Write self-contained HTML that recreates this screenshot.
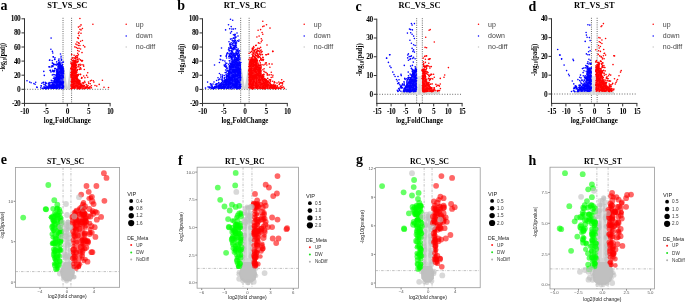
<!DOCTYPE html>
<html><head><meta charset="utf-8"><style>
html,body{margin:0;padding:0;background:#fff;width:685px;height:303px;overflow:hidden;font-family:"Liberation Sans",sans-serif;}
svg{display:block;}
</style></head><body>
<svg style="will-change:transform" width="685" height="303" viewBox="0 0 685 303">
<rect width="685" height="303" fill="#fff"/>
<text x="0.50" y="10.40" font-size="14" font-family="'Liberation Serif', serif" font-weight="bold" fill="#000" text-anchor="start" >a</text>
<text x="67.30" y="8.00" font-size="8.4" font-family="'Liberation Serif', serif" font-weight="bold" fill="#000" text-anchor="middle" >ST_VS_SC</text>
<line x1="63.02" y1="17.80" x2="63.02" y2="103.40" stroke="#444" stroke-width="0.8" stroke-dasharray="1,1.2"/>
<line x1="71.58" y1="17.80" x2="71.58" y2="103.40" stroke="#444" stroke-width="0.8" stroke-dasharray="1,1.2"/>
<line x1="24.50" y1="89.30" x2="110.10" y2="89.30" stroke="#444" stroke-width="0.8" stroke-dasharray="1,1.6"/>
<line x1="24.50" y1="18.30" x2="24.50" y2="103.90" stroke="#333" stroke-width="1" />
<line x1="24.00" y1="103.40" x2="110.60" y2="103.40" stroke="#333" stroke-width="1" />
<line x1="21.50" y1="18.80" x2="24.50" y2="18.80" stroke="#333" stroke-width="1" />
<text x="20.30" y="21.30" font-size="7.4" font-family="'Liberation Serif', serif" font-weight="bold" fill="#000" text-anchor="end" letter-spacing="-0.5">100</text>
<line x1="21.50" y1="32.90" x2="24.50" y2="32.90" stroke="#333" stroke-width="1" />
<text x="20.30" y="35.40" font-size="7.4" font-family="'Liberation Serif', serif" font-weight="bold" fill="#000" text-anchor="end" letter-spacing="-0.5">80</text>
<line x1="21.50" y1="47.00" x2="24.50" y2="47.00" stroke="#333" stroke-width="1" />
<text x="20.30" y="49.50" font-size="7.4" font-family="'Liberation Serif', serif" font-weight="bold" fill="#000" text-anchor="end" letter-spacing="-0.5">60</text>
<line x1="21.50" y1="61.10" x2="24.50" y2="61.10" stroke="#333" stroke-width="1" />
<text x="20.30" y="63.60" font-size="7.4" font-family="'Liberation Serif', serif" font-weight="bold" fill="#000" text-anchor="end" letter-spacing="-0.5">40</text>
<line x1="21.50" y1="75.20" x2="24.50" y2="75.20" stroke="#333" stroke-width="1" />
<text x="20.30" y="77.70" font-size="7.4" font-family="'Liberation Serif', serif" font-weight="bold" fill="#000" text-anchor="end" letter-spacing="-0.5">20</text>
<line x1="21.50" y1="89.30" x2="24.50" y2="89.30" stroke="#333" stroke-width="1" />
<text x="20.30" y="91.80" font-size="7.4" font-family="'Liberation Serif', serif" font-weight="bold" fill="#000" text-anchor="end" letter-spacing="-0.5">0</text>
<line x1="21.50" y1="103.40" x2="24.50" y2="103.40" stroke="#333" stroke-width="1" />
<text x="20.30" y="105.90" font-size="7.4" font-family="'Liberation Serif', serif" font-weight="bold" fill="#000" text-anchor="end" letter-spacing="-0.5">-20</text>
<line x1="24.50" y1="103.40" x2="24.50" y2="106.40" stroke="#333" stroke-width="1" />
<text x="24.50" y="114.30" font-size="7.4" font-family="'Liberation Serif', serif" font-weight="bold" fill="#000" text-anchor="middle" letter-spacing="-0.5">-10</text>
<line x1="45.90" y1="103.40" x2="45.90" y2="106.40" stroke="#333" stroke-width="1" />
<text x="45.90" y="114.30" font-size="7.4" font-family="'Liberation Serif', serif" font-weight="bold" fill="#000" text-anchor="middle" letter-spacing="-0.5">-5</text>
<line x1="67.30" y1="103.40" x2="67.30" y2="106.40" stroke="#333" stroke-width="1" />
<text x="67.30" y="114.30" font-size="7.4" font-family="'Liberation Serif', serif" font-weight="bold" fill="#000" text-anchor="middle" letter-spacing="-0.5">0</text>
<line x1="88.70" y1="103.40" x2="88.70" y2="106.40" stroke="#333" stroke-width="1" />
<text x="88.70" y="114.30" font-size="7.4" font-family="'Liberation Serif', serif" font-weight="bold" fill="#000" text-anchor="middle" letter-spacing="-0.5">5</text>
<line x1="110.10" y1="103.40" x2="110.10" y2="106.40" stroke="#333" stroke-width="1" />
<text x="110.10" y="114.30" font-size="7.4" font-family="'Liberation Serif', serif" font-weight="bold" fill="#000" text-anchor="middle" letter-spacing="-0.5">10</text>
<text x="67.30" y="123.3" font-size="7.2" font-family="'Liberation Serif', serif" font-weight="bold" text-anchor="middle" textLength="47" lengthAdjust="spacingAndGlyphs">log<tspan font-size="5" dy="2">2</tspan><tspan dy="-2">FoldChange</tspan></text>
<text transform="translate(5.30,57.30) rotate(-90)" x="0" y="0" font-size="7.3" font-family="'Liberation Serif', serif" font-weight="bold" text-anchor="middle" textLength="28.2" lengthAdjust="spacingAndGlyphs">-log<tspan font-size="5.2" dy="1.6">10</tspan><tspan dy="-1.6">(padj)</tspan></text>
<circle cx="126.20" cy="24.3" r="0.75" fill="#ff0000"/>
<text x="135.80" y="26.80" font-size="7" font-family="'Liberation Sans', sans-serif" font-weight="normal" fill="#444" text-anchor="start" >up</text>
<circle cx="126.20" cy="35.9" r="0.75" fill="#0000ff"/>
<text x="135.80" y="38.40" font-size="7" font-family="'Liberation Sans', sans-serif" font-weight="normal" fill="#444" text-anchor="start" >down</text>
<circle cx="126.20" cy="46.9" r="0.75" fill="#c8c8c8"/>
<text x="135.80" y="49.40" font-size="7" font-family="'Liberation Sans', sans-serif" font-weight="normal" fill="#444" text-anchor="start" >no-diff</text>
<text x="177.20" y="9.90" font-size="14" font-family="'Liberation Serif', serif" font-weight="bold" fill="#000" text-anchor="start" >b</text>
<text x="244.90" y="8.00" font-size="8.4" font-family="'Liberation Serif', serif" font-weight="bold" fill="#000" text-anchor="middle" >RT_VS_RC</text>
<line x1="240.66" y1="17.80" x2="240.66" y2="103.40" stroke="#444" stroke-width="0.8" stroke-dasharray="1,1.2"/>
<line x1="249.14" y1="17.80" x2="249.14" y2="103.40" stroke="#444" stroke-width="0.8" stroke-dasharray="1,1.2"/>
<line x1="202.50" y1="89.40" x2="287.30" y2="89.40" stroke="#444" stroke-width="0.8" stroke-dasharray="1,1.6"/>
<line x1="202.50" y1="18.30" x2="202.50" y2="103.90" stroke="#333" stroke-width="1" />
<line x1="202.00" y1="103.40" x2="287.80" y2="103.40" stroke="#333" stroke-width="1" />
<line x1="199.50" y1="18.80" x2="202.50" y2="18.80" stroke="#333" stroke-width="1" />
<text x="198.30" y="21.30" font-size="7.4" font-family="'Liberation Serif', serif" font-weight="bold" fill="#000" text-anchor="end" letter-spacing="-0.5">100</text>
<line x1="199.50" y1="32.92" x2="202.50" y2="32.92" stroke="#333" stroke-width="1" />
<text x="198.30" y="35.42" font-size="7.4" font-family="'Liberation Serif', serif" font-weight="bold" fill="#000" text-anchor="end" letter-spacing="-0.5">80</text>
<line x1="199.50" y1="47.04" x2="202.50" y2="47.04" stroke="#333" stroke-width="1" />
<text x="198.30" y="49.54" font-size="7.4" font-family="'Liberation Serif', serif" font-weight="bold" fill="#000" text-anchor="end" letter-spacing="-0.5">60</text>
<line x1="199.50" y1="61.16" x2="202.50" y2="61.16" stroke="#333" stroke-width="1" />
<text x="198.30" y="63.66" font-size="7.4" font-family="'Liberation Serif', serif" font-weight="bold" fill="#000" text-anchor="end" letter-spacing="-0.5">40</text>
<line x1="199.50" y1="75.28" x2="202.50" y2="75.28" stroke="#333" stroke-width="1" />
<text x="198.30" y="77.78" font-size="7.4" font-family="'Liberation Serif', serif" font-weight="bold" fill="#000" text-anchor="end" letter-spacing="-0.5">20</text>
<line x1="199.50" y1="89.40" x2="202.50" y2="89.40" stroke="#333" stroke-width="1" />
<text x="198.30" y="91.90" font-size="7.4" font-family="'Liberation Serif', serif" font-weight="bold" fill="#000" text-anchor="end" letter-spacing="-0.5">0</text>
<line x1="199.50" y1="103.52" x2="202.50" y2="103.52" stroke="#333" stroke-width="1" />
<text x="198.30" y="106.02" font-size="7.4" font-family="'Liberation Serif', serif" font-weight="bold" fill="#000" text-anchor="end" letter-spacing="-0.5">-20</text>
<line x1="202.50" y1="103.40" x2="202.50" y2="106.40" stroke="#333" stroke-width="1" />
<text x="202.50" y="114.30" font-size="7.4" font-family="'Liberation Serif', serif" font-weight="bold" fill="#000" text-anchor="middle" letter-spacing="-0.5">-10</text>
<line x1="223.70" y1="103.40" x2="223.70" y2="106.40" stroke="#333" stroke-width="1" />
<text x="223.70" y="114.30" font-size="7.4" font-family="'Liberation Serif', serif" font-weight="bold" fill="#000" text-anchor="middle" letter-spacing="-0.5">-5</text>
<line x1="244.90" y1="103.40" x2="244.90" y2="106.40" stroke="#333" stroke-width="1" />
<text x="244.90" y="114.30" font-size="7.4" font-family="'Liberation Serif', serif" font-weight="bold" fill="#000" text-anchor="middle" letter-spacing="-0.5">0</text>
<line x1="266.10" y1="103.40" x2="266.10" y2="106.40" stroke="#333" stroke-width="1" />
<text x="266.10" y="114.30" font-size="7.4" font-family="'Liberation Serif', serif" font-weight="bold" fill="#000" text-anchor="middle" letter-spacing="-0.5">5</text>
<line x1="287.30" y1="103.40" x2="287.30" y2="106.40" stroke="#333" stroke-width="1" />
<text x="287.30" y="114.30" font-size="7.4" font-family="'Liberation Serif', serif" font-weight="bold" fill="#000" text-anchor="middle" letter-spacing="-0.5">10</text>
<text x="244.90" y="123.3" font-size="7.2" font-family="'Liberation Serif', serif" font-weight="bold" text-anchor="middle" textLength="47" lengthAdjust="spacingAndGlyphs">log<tspan font-size="5" dy="2">2</tspan><tspan dy="-2">FoldChange</tspan></text>
<text transform="translate(183.60,59.10) rotate(-90)" x="0" y="0" font-size="7.3" font-family="'Liberation Serif', serif" font-weight="bold" text-anchor="middle" textLength="30.5" lengthAdjust="spacingAndGlyphs">-log<tspan font-size="5.2" dy="1.6">10</tspan><tspan dy="-1.6">(padj)</tspan></text>
<circle cx="304.20" cy="24.3" r="0.75" fill="#ff0000"/>
<text x="313.80" y="26.80" font-size="7" font-family="'Liberation Sans', sans-serif" font-weight="normal" fill="#444" text-anchor="start" >up</text>
<circle cx="304.20" cy="35.9" r="0.75" fill="#0000ff"/>
<text x="313.80" y="38.40" font-size="7" font-family="'Liberation Sans', sans-serif" font-weight="normal" fill="#444" text-anchor="start" >down</text>
<circle cx="304.20" cy="46.9" r="0.75" fill="#c8c8c8"/>
<text x="313.80" y="49.40" font-size="7" font-family="'Liberation Sans', sans-serif" font-weight="normal" fill="#444" text-anchor="start" >no-diff</text>
<text x="355.50" y="10.90" font-size="14" font-family="'Liberation Serif', serif" font-weight="bold" fill="#000" text-anchor="start" >c</text>
<text x="419.50" y="8.00" font-size="8.4" font-family="'Liberation Serif', serif" font-weight="bold" fill="#000" text-anchor="middle" >RC_VS_SC</text>
<line x1="416.66" y1="18.20" x2="416.66" y2="103.40" stroke="#444" stroke-width="0.8" stroke-dasharray="1,1.2"/>
<line x1="422.34" y1="18.20" x2="422.34" y2="103.40" stroke="#444" stroke-width="0.8" stroke-dasharray="1,1.2"/>
<line x1="376.80" y1="94.30" x2="462.10" y2="94.30" stroke="#444" stroke-width="0.8" stroke-dasharray="1,1.6"/>
<line x1="376.80" y1="18.70" x2="376.80" y2="103.90" stroke="#333" stroke-width="1" />
<line x1="376.30" y1="103.40" x2="462.60" y2="103.40" stroke="#333" stroke-width="1" />
<line x1="373.80" y1="19.20" x2="376.80" y2="19.20" stroke="#333" stroke-width="1" />
<text x="372.60" y="21.70" font-size="7.4" font-family="'Liberation Serif', serif" font-weight="bold" fill="#000" text-anchor="end" letter-spacing="-0.5">40</text>
<line x1="373.80" y1="37.98" x2="376.80" y2="37.98" stroke="#333" stroke-width="1" />
<text x="372.60" y="40.48" font-size="7.4" font-family="'Liberation Serif', serif" font-weight="bold" fill="#000" text-anchor="end" letter-spacing="-0.5">30</text>
<line x1="373.80" y1="56.75" x2="376.80" y2="56.75" stroke="#333" stroke-width="1" />
<text x="372.60" y="59.25" font-size="7.4" font-family="'Liberation Serif', serif" font-weight="bold" fill="#000" text-anchor="end" letter-spacing="-0.5">20</text>
<line x1="373.80" y1="75.53" x2="376.80" y2="75.53" stroke="#333" stroke-width="1" />
<text x="372.60" y="78.03" font-size="7.4" font-family="'Liberation Serif', serif" font-weight="bold" fill="#000" text-anchor="end" letter-spacing="-0.5">10</text>
<line x1="373.80" y1="94.30" x2="376.80" y2="94.30" stroke="#333" stroke-width="1" />
<text x="372.60" y="96.80" font-size="7.4" font-family="'Liberation Serif', serif" font-weight="bold" fill="#000" text-anchor="end" letter-spacing="-0.5">0</text>
<line x1="376.90" y1="103.40" x2="376.90" y2="106.40" stroke="#333" stroke-width="1" />
<text x="376.90" y="114.30" font-size="7.4" font-family="'Liberation Serif', serif" font-weight="bold" fill="#000" text-anchor="middle" letter-spacing="-0.5">-15</text>
<line x1="391.10" y1="103.40" x2="391.10" y2="106.40" stroke="#333" stroke-width="1" />
<text x="391.10" y="114.30" font-size="7.4" font-family="'Liberation Serif', serif" font-weight="bold" fill="#000" text-anchor="middle" letter-spacing="-0.5">-10</text>
<line x1="405.30" y1="103.40" x2="405.30" y2="106.40" stroke="#333" stroke-width="1" />
<text x="405.30" y="114.30" font-size="7.4" font-family="'Liberation Serif', serif" font-weight="bold" fill="#000" text-anchor="middle" letter-spacing="-0.5">-5</text>
<line x1="419.50" y1="103.40" x2="419.50" y2="106.40" stroke="#333" stroke-width="1" />
<text x="419.50" y="114.30" font-size="7.4" font-family="'Liberation Serif', serif" font-weight="bold" fill="#000" text-anchor="middle" letter-spacing="-0.5">0</text>
<line x1="433.70" y1="103.40" x2="433.70" y2="106.40" stroke="#333" stroke-width="1" />
<text x="433.70" y="114.30" font-size="7.4" font-family="'Liberation Serif', serif" font-weight="bold" fill="#000" text-anchor="middle" letter-spacing="-0.5">5</text>
<line x1="447.90" y1="103.40" x2="447.90" y2="106.40" stroke="#333" stroke-width="1" />
<text x="447.90" y="114.30" font-size="7.4" font-family="'Liberation Serif', serif" font-weight="bold" fill="#000" text-anchor="middle" letter-spacing="-0.5">10</text>
<line x1="462.10" y1="103.40" x2="462.10" y2="106.40" stroke="#333" stroke-width="1" />
<text x="462.10" y="114.30" font-size="7.4" font-family="'Liberation Serif', serif" font-weight="bold" fill="#000" text-anchor="middle" letter-spacing="-0.5">15</text>
<text x="419.45" y="123.3" font-size="7.2" font-family="'Liberation Serif', serif" font-weight="bold" text-anchor="middle" textLength="47" lengthAdjust="spacingAndGlyphs">log<tspan font-size="5" dy="2">2</tspan><tspan dy="-2">FoldChange</tspan></text>
<text transform="translate(362.10,59.80) rotate(-90)" x="0" y="0" font-size="7.3" font-family="'Liberation Serif', serif" font-weight="bold" text-anchor="middle" textLength="33" lengthAdjust="spacingAndGlyphs">-log<tspan font-size="5.2" dy="1.6">10</tspan><tspan dy="-1.6">(padj)</tspan></text>
<circle cx="478.50" cy="24.3" r="0.75" fill="#ff0000"/>
<text x="488.10" y="26.80" font-size="7" font-family="'Liberation Sans', sans-serif" font-weight="normal" fill="#444" text-anchor="start" >up</text>
<circle cx="478.50" cy="35.9" r="0.75" fill="#0000ff"/>
<text x="488.10" y="38.40" font-size="7" font-family="'Liberation Sans', sans-serif" font-weight="normal" fill="#444" text-anchor="start" >down</text>
<circle cx="478.50" cy="46.9" r="0.75" fill="#c8c8c8"/>
<text x="488.10" y="49.40" font-size="7" font-family="'Liberation Sans', sans-serif" font-weight="normal" fill="#444" text-anchor="start" >no-diff</text>
<text x="528.50" y="10.90" font-size="14" font-family="'Liberation Serif', serif" font-weight="bold" fill="#000" text-anchor="start" >d</text>
<text x="594.30" y="8.00" font-size="8.4" font-family="'Liberation Serif', serif" font-weight="bold" fill="#000" text-anchor="middle" >RT_VS_ST</text>
<line x1="591.46" y1="17.80" x2="591.46" y2="103.40" stroke="#444" stroke-width="0.8" stroke-dasharray="1,1.2"/>
<line x1="597.14" y1="17.80" x2="597.14" y2="103.40" stroke="#444" stroke-width="0.8" stroke-dasharray="1,1.2"/>
<line x1="551.50" y1="94.00" x2="636.90" y2="94.00" stroke="#444" stroke-width="0.8" stroke-dasharray="1,1.6"/>
<line x1="551.50" y1="18.30" x2="551.50" y2="103.90" stroke="#333" stroke-width="1" />
<line x1="551.00" y1="103.40" x2="637.40" y2="103.40" stroke="#333" stroke-width="1" />
<line x1="548.50" y1="18.80" x2="551.50" y2="18.80" stroke="#333" stroke-width="1" />
<text x="547.30" y="21.30" font-size="7.4" font-family="'Liberation Serif', serif" font-weight="bold" fill="#000" text-anchor="end" letter-spacing="-0.5">40</text>
<line x1="548.50" y1="37.60" x2="551.50" y2="37.60" stroke="#333" stroke-width="1" />
<text x="547.30" y="40.10" font-size="7.4" font-family="'Liberation Serif', serif" font-weight="bold" fill="#000" text-anchor="end" letter-spacing="-0.5">30</text>
<line x1="548.50" y1="56.40" x2="551.50" y2="56.40" stroke="#333" stroke-width="1" />
<text x="547.30" y="58.90" font-size="7.4" font-family="'Liberation Serif', serif" font-weight="bold" fill="#000" text-anchor="end" letter-spacing="-0.5">20</text>
<line x1="548.50" y1="75.20" x2="551.50" y2="75.20" stroke="#333" stroke-width="1" />
<text x="547.30" y="77.70" font-size="7.4" font-family="'Liberation Serif', serif" font-weight="bold" fill="#000" text-anchor="end" letter-spacing="-0.5">10</text>
<line x1="548.50" y1="94.00" x2="551.50" y2="94.00" stroke="#333" stroke-width="1" />
<text x="547.30" y="96.50" font-size="7.4" font-family="'Liberation Serif', serif" font-weight="bold" fill="#000" text-anchor="end" letter-spacing="-0.5">0</text>
<line x1="551.70" y1="103.40" x2="551.70" y2="106.40" stroke="#333" stroke-width="1" />
<text x="551.70" y="114.30" font-size="7.4" font-family="'Liberation Serif', serif" font-weight="bold" fill="#000" text-anchor="middle" letter-spacing="-0.5">-15</text>
<line x1="565.90" y1="103.40" x2="565.90" y2="106.40" stroke="#333" stroke-width="1" />
<text x="565.90" y="114.30" font-size="7.4" font-family="'Liberation Serif', serif" font-weight="bold" fill="#000" text-anchor="middle" letter-spacing="-0.5">-10</text>
<line x1="580.10" y1="103.40" x2="580.10" y2="106.40" stroke="#333" stroke-width="1" />
<text x="580.10" y="114.30" font-size="7.4" font-family="'Liberation Serif', serif" font-weight="bold" fill="#000" text-anchor="middle" letter-spacing="-0.5">-5</text>
<line x1="594.30" y1="103.40" x2="594.30" y2="106.40" stroke="#333" stroke-width="1" />
<text x="594.30" y="114.30" font-size="7.4" font-family="'Liberation Serif', serif" font-weight="bold" fill="#000" text-anchor="middle" letter-spacing="-0.5">0</text>
<line x1="608.50" y1="103.40" x2="608.50" y2="106.40" stroke="#333" stroke-width="1" />
<text x="608.50" y="114.30" font-size="7.4" font-family="'Liberation Serif', serif" font-weight="bold" fill="#000" text-anchor="middle" letter-spacing="-0.5">5</text>
<line x1="622.70" y1="103.40" x2="622.70" y2="106.40" stroke="#333" stroke-width="1" />
<text x="622.70" y="114.30" font-size="7.4" font-family="'Liberation Serif', serif" font-weight="bold" fill="#000" text-anchor="middle" letter-spacing="-0.5">10</text>
<line x1="636.90" y1="103.40" x2="636.90" y2="106.40" stroke="#333" stroke-width="1" />
<text x="636.90" y="114.30" font-size="7.4" font-family="'Liberation Serif', serif" font-weight="bold" fill="#000" text-anchor="middle" letter-spacing="-0.5">15</text>
<text x="594.20" y="123.3" font-size="7.2" font-family="'Liberation Serif', serif" font-weight="bold" text-anchor="middle" textLength="47" lengthAdjust="spacingAndGlyphs">log<tspan font-size="5" dy="2">2</tspan><tspan dy="-2">FoldChange</tspan></text>
<text transform="translate(536.50,59.90) rotate(-90)" x="0" y="0" font-size="7.3" font-family="'Liberation Serif', serif" font-weight="bold" text-anchor="middle" textLength="32" lengthAdjust="spacingAndGlyphs">-log<tspan font-size="5.2" dy="1.6">10</tspan><tspan dy="-1.6">(padj)</tspan></text>
<circle cx="653.20" cy="24.3" r="0.75" fill="#ff0000"/>
<text x="662.80" y="26.80" font-size="7" font-family="'Liberation Sans', sans-serif" font-weight="normal" fill="#444" text-anchor="start" >up</text>
<circle cx="653.20" cy="35.9" r="0.75" fill="#0000ff"/>
<text x="662.80" y="38.40" font-size="7" font-family="'Liberation Sans', sans-serif" font-weight="normal" fill="#444" text-anchor="start" >down</text>
<circle cx="653.20" cy="46.9" r="0.75" fill="#c8c8c8"/>
<text x="662.80" y="49.40" font-size="7" font-family="'Liberation Sans', sans-serif" font-weight="normal" fill="#444" text-anchor="start" >no-diff</text>
<text x="0.70" y="164.40" font-size="14" font-family="'Liberation Serif', serif" font-weight="bold" fill="#000" text-anchor="start" >e</text>
<text x="65.60" y="163.70" font-size="7.8" font-family="'Liberation Serif', serif" font-weight="bold" fill="#000" text-anchor="middle" >ST_VS_SC</text>
<line x1="15.50" y1="271.60" x2="119.60" y2="271.60" stroke="#999" stroke-width="0.6" stroke-dasharray="2.5,1.2,0.6,1.2"/>
<line x1="63.05" y1="167.50" x2="63.05" y2="287.30" stroke="#999" stroke-width="0.6" stroke-dasharray="2.5,1.2,0.6,1.2"/>
<line x1="70.95" y1="167.50" x2="70.95" y2="287.30" stroke="#999" stroke-width="0.6" stroke-dasharray="2.5,1.2,0.6,1.2"/>
<line x1="13.70" y1="282.10" x2="15.50" y2="282.10" stroke="#333" stroke-width="0.6" />
<text x="13.10" y="283.65" font-size="4.3" font-family="'Liberation Sans', sans-serif" font-weight="normal" fill="#555" text-anchor="end" >0</text>
<line x1="13.70" y1="241.70" x2="15.50" y2="241.70" stroke="#333" stroke-width="0.6" />
<text x="13.10" y="243.25" font-size="4.3" font-family="'Liberation Sans', sans-serif" font-weight="normal" fill="#555" text-anchor="end" >5</text>
<line x1="13.70" y1="201.30" x2="15.50" y2="201.30" stroke="#333" stroke-width="0.6" />
<text x="13.10" y="202.85" font-size="4.3" font-family="'Liberation Sans', sans-serif" font-weight="normal" fill="#555" text-anchor="end" >10</text>
<line x1="40.00" y1="287.30" x2="40.00" y2="289.10" stroke="#333" stroke-width="0.6" />
<text x="40.00" y="292.60" font-size="4.3" font-family="'Liberation Sans', sans-serif" font-weight="normal" fill="#555" text-anchor="middle" >−4</text>
<line x1="67.00" y1="287.30" x2="67.00" y2="289.10" stroke="#333" stroke-width="0.6" />
<text x="67.00" y="292.60" font-size="4.3" font-family="'Liberation Sans', sans-serif" font-weight="normal" fill="#555" text-anchor="middle" >0</text>
<line x1="94.00" y1="287.30" x2="94.00" y2="289.10" stroke="#333" stroke-width="0.6" />
<text x="94.00" y="292.60" font-size="4.3" font-family="'Liberation Sans', sans-serif" font-weight="normal" fill="#555" text-anchor="middle" >4</text>
<text x="67.35" y="297.60" font-size="5.0" font-family="'Liberation Sans', sans-serif" font-weight="normal" fill="#222" text-anchor="middle" textLength="38.9" lengthAdjust="spacingAndGlyphs" >log2(fold change)</text>
<text transform="translate(4.40,225.40) rotate(-90)" font-size="4.8" font-family="'Liberation Sans', sans-serif" fill="#222" text-anchor="middle" textLength="27" lengthAdjust="spacingAndGlyphs">-log10(pvalue)</text>
<text x="127.20" y="196.00" font-size="5.6" font-family="'Liberation Sans', sans-serif" font-weight="normal" fill="#222" text-anchor="start" >VIP</text>
<circle cx="131.20" cy="201.00" r="1.9" fill="#000"/>
<text x="136.20" y="202.60" font-size="4.6" font-family="'Liberation Sans', sans-serif" font-weight="normal" fill="#333" text-anchor="start" >0.4</text>
<circle cx="131.20" cy="208.40" r="2.3" fill="#000"/>
<text x="136.20" y="210.00" font-size="4.6" font-family="'Liberation Sans', sans-serif" font-weight="normal" fill="#333" text-anchor="start" >0.8</text>
<circle cx="131.20" cy="215.70" r="2.7" fill="#000"/>
<text x="136.20" y="217.30" font-size="4.6" font-family="'Liberation Sans', sans-serif" font-weight="normal" fill="#333" text-anchor="start" >1.2</text>
<circle cx="131.20" cy="223.10" r="3.1" fill="#000"/>
<text x="136.20" y="224.70" font-size="4.6" font-family="'Liberation Sans', sans-serif" font-weight="normal" fill="#333" text-anchor="start" >1.6</text>
<text x="127.20" y="240.00" font-size="5.6" font-family="'Liberation Sans', sans-serif" font-weight="normal" fill="#222" text-anchor="start" textLength="21" lengthAdjust="spacingAndGlyphs" >DE_Meta</text>
<circle cx="131.20" cy="245.10" r="1" fill="#ff2020"/>
<text x="136.20" y="246.70" font-size="4.6" font-family="'Liberation Sans', sans-serif" font-weight="normal" fill="#333" text-anchor="start" >UP</text>
<circle cx="131.20" cy="252.40" r="1" fill="#20e020"/>
<text x="136.20" y="254.00" font-size="4.6" font-family="'Liberation Sans', sans-serif" font-weight="normal" fill="#333" text-anchor="start" >DW</text>
<circle cx="131.20" cy="259.60" r="1" fill="#b0b0b0"/>
<text x="136.20" y="261.20" font-size="4.6" font-family="'Liberation Sans', sans-serif" font-weight="normal" fill="#333" text-anchor="start" >NoDiff</text>
<text x="178.00" y="164.60" font-size="14" font-family="'Liberation Serif', serif" font-weight="bold" fill="#000" text-anchor="start" >f</text>
<text x="244.85" y="163.70" font-size="7.8" font-family="'Liberation Serif', serif" font-weight="bold" fill="#000" text-anchor="middle" >RT_VS_RC</text>
<line x1="197.10" y1="268.41" x2="298.50" y2="268.41" stroke="#999" stroke-width="0.6" stroke-dasharray="2.5,1.2,0.6,1.2"/>
<line x1="243.04" y1="167.20" x2="243.04" y2="288.20" stroke="#999" stroke-width="0.6" stroke-dasharray="2.5,1.2,0.6,1.2"/>
<line x1="251.96" y1="167.20" x2="251.96" y2="288.20" stroke="#999" stroke-width="0.6" stroke-dasharray="2.5,1.2,0.6,1.2"/>
<line x1="195.30" y1="282.80" x2="197.10" y2="282.80" stroke="#333" stroke-width="0.6" />
<text x="194.70" y="284.35" font-size="4.3" font-family="'Liberation Sans', sans-serif" font-weight="normal" fill="#555" text-anchor="end" >0.0</text>
<line x1="195.30" y1="255.12" x2="197.10" y2="255.12" stroke="#333" stroke-width="0.6" />
<text x="194.70" y="256.68" font-size="4.3" font-family="'Liberation Sans', sans-serif" font-weight="normal" fill="#555" text-anchor="end" >2.5</text>
<line x1="195.30" y1="227.45" x2="197.10" y2="227.45" stroke="#333" stroke-width="0.6" />
<text x="194.70" y="229.00" font-size="4.3" font-family="'Liberation Sans', sans-serif" font-weight="normal" fill="#555" text-anchor="end" >5.0</text>
<line x1="195.30" y1="199.78" x2="197.10" y2="199.78" stroke="#333" stroke-width="0.6" />
<text x="194.70" y="201.33" font-size="4.3" font-family="'Liberation Sans', sans-serif" font-weight="normal" fill="#555" text-anchor="end" >7.5</text>
<line x1="195.30" y1="172.10" x2="197.10" y2="172.10" stroke="#333" stroke-width="0.6" />
<text x="194.70" y="173.65" font-size="4.3" font-family="'Liberation Sans', sans-serif" font-weight="normal" fill="#555" text-anchor="end" >10.0</text>
<line x1="201.72" y1="288.20" x2="201.72" y2="290.00" stroke="#333" stroke-width="0.6" />
<text x="201.72" y="293.50" font-size="4.3" font-family="'Liberation Sans', sans-serif" font-weight="normal" fill="#555" text-anchor="middle" >−6</text>
<line x1="224.61" y1="288.20" x2="224.61" y2="290.00" stroke="#333" stroke-width="0.6" />
<text x="224.61" y="293.50" font-size="4.3" font-family="'Liberation Sans', sans-serif" font-weight="normal" fill="#555" text-anchor="middle" >−3</text>
<line x1="247.50" y1="288.20" x2="247.50" y2="290.00" stroke="#333" stroke-width="0.6" />
<text x="247.50" y="293.50" font-size="4.3" font-family="'Liberation Sans', sans-serif" font-weight="normal" fill="#555" text-anchor="middle" >0</text>
<line x1="270.39" y1="288.20" x2="270.39" y2="290.00" stroke="#333" stroke-width="0.6" />
<text x="270.39" y="293.50" font-size="4.3" font-family="'Liberation Sans', sans-serif" font-weight="normal" fill="#555" text-anchor="middle" >3</text>
<line x1="293.28" y1="288.20" x2="293.28" y2="290.00" stroke="#333" stroke-width="0.6" />
<text x="293.28" y="293.50" font-size="4.3" font-family="'Liberation Sans', sans-serif" font-weight="normal" fill="#555" text-anchor="middle" >6</text>
<text x="247.45" y="298.60" font-size="5.0" font-family="'Liberation Sans', sans-serif" font-weight="normal" fill="#222" text-anchor="middle" textLength="38.7" lengthAdjust="spacingAndGlyphs" >log2(fold change)</text>
<text transform="translate(183.40,227.30) rotate(-90)" font-size="5.2" font-family="'Liberation Sans', sans-serif" fill="#222" text-anchor="middle" textLength="30" lengthAdjust="spacingAndGlyphs">-log10(pvalue)</text>
<text x="305.90" y="198.20" font-size="5.6" font-family="'Liberation Sans', sans-serif" font-weight="normal" fill="#222" text-anchor="start" >VIP</text>
<circle cx="309.90" cy="203.20" r="1.9" fill="#000"/>
<text x="314.90" y="204.80" font-size="4.6" font-family="'Liberation Sans', sans-serif" font-weight="normal" fill="#333" text-anchor="start" >0.5</text>
<circle cx="309.90" cy="210.60" r="2.3" fill="#000"/>
<text x="314.90" y="212.20" font-size="4.6" font-family="'Liberation Sans', sans-serif" font-weight="normal" fill="#333" text-anchor="start" >1.0</text>
<circle cx="309.90" cy="217.90" r="2.7" fill="#000"/>
<text x="314.90" y="219.50" font-size="4.6" font-family="'Liberation Sans', sans-serif" font-weight="normal" fill="#333" text-anchor="start" >1.5</text>
<circle cx="309.90" cy="225.30" r="3.1" fill="#000"/>
<text x="314.90" y="226.90" font-size="4.6" font-family="'Liberation Sans', sans-serif" font-weight="normal" fill="#333" text-anchor="start" >2.0</text>
<text x="305.90" y="242.20" font-size="5.6" font-family="'Liberation Sans', sans-serif" font-weight="normal" fill="#222" text-anchor="start" textLength="21" lengthAdjust="spacingAndGlyphs" >DE_Meta</text>
<circle cx="309.90" cy="247.30" r="1" fill="#ff2020"/>
<text x="314.90" y="248.90" font-size="4.6" font-family="'Liberation Sans', sans-serif" font-weight="normal" fill="#333" text-anchor="start" >UP</text>
<circle cx="309.90" cy="254.60" r="1" fill="#20e020"/>
<text x="314.90" y="256.20" font-size="4.6" font-family="'Liberation Sans', sans-serif" font-weight="normal" fill="#333" text-anchor="start" >DW</text>
<circle cx="309.90" cy="261.80" r="1" fill="#b0b0b0"/>
<text x="314.90" y="263.40" font-size="4.6" font-family="'Liberation Sans', sans-serif" font-weight="normal" fill="#333" text-anchor="start" >NoDiff</text>
<text x="356.00" y="164.40" font-size="14" font-family="'Liberation Serif', serif" font-weight="bold" fill="#000" text-anchor="start" >g</text>
<text x="429.40" y="163.70" font-size="7.8" font-family="'Liberation Serif', serif" font-weight="bold" fill="#000" text-anchor="middle" >RC_VS_SC</text>
<line x1="375.60" y1="270.61" x2="480.20" y2="270.61" stroke="#999" stroke-width="0.6" stroke-dasharray="2.5,1.2,0.6,1.2"/>
<line x1="424.15" y1="167.60" x2="424.15" y2="287.70" stroke="#999" stroke-width="0.6" stroke-dasharray="2.5,1.2,0.6,1.2"/>
<line x1="432.05" y1="167.60" x2="432.05" y2="287.70" stroke="#999" stroke-width="0.6" stroke-dasharray="2.5,1.2,0.6,1.2"/>
<line x1="373.80" y1="283.00" x2="375.60" y2="283.00" stroke="#333" stroke-width="0.6" />
<text x="373.20" y="284.55" font-size="4.3" font-family="'Liberation Sans', sans-serif" font-weight="normal" fill="#555" text-anchor="end" >0</text>
<line x1="373.80" y1="254.41" x2="375.60" y2="254.41" stroke="#333" stroke-width="0.6" />
<text x="373.20" y="255.96" font-size="4.3" font-family="'Liberation Sans', sans-serif" font-weight="normal" fill="#555" text-anchor="end" >3</text>
<line x1="373.80" y1="225.82" x2="375.60" y2="225.82" stroke="#333" stroke-width="0.6" />
<text x="373.20" y="227.37" font-size="4.3" font-family="'Liberation Sans', sans-serif" font-weight="normal" fill="#555" text-anchor="end" >6</text>
<line x1="373.80" y1="197.23" x2="375.60" y2="197.23" stroke="#333" stroke-width="0.6" />
<text x="373.20" y="198.78" font-size="4.3" font-family="'Liberation Sans', sans-serif" font-weight="normal" fill="#555" text-anchor="end" >9</text>
<line x1="373.80" y1="168.64" x2="375.60" y2="168.64" stroke="#333" stroke-width="0.6" />
<text x="373.20" y="170.19" font-size="4.3" font-family="'Liberation Sans', sans-serif" font-weight="normal" fill="#555" text-anchor="end" >12</text>
<line x1="401.10" y1="287.70" x2="401.10" y2="289.50" stroke="#333" stroke-width="0.6" />
<text x="401.10" y="293.00" font-size="4.3" font-family="'Liberation Sans', sans-serif" font-weight="normal" fill="#555" text-anchor="middle" >−4</text>
<line x1="428.10" y1="287.70" x2="428.10" y2="289.50" stroke="#333" stroke-width="0.6" />
<text x="428.10" y="293.00" font-size="4.3" font-family="'Liberation Sans', sans-serif" font-weight="normal" fill="#555" text-anchor="middle" >0</text>
<line x1="455.10" y1="287.70" x2="455.10" y2="289.50" stroke="#333" stroke-width="0.6" />
<text x="455.10" y="293.00" font-size="4.3" font-family="'Liberation Sans', sans-serif" font-weight="normal" fill="#555" text-anchor="middle" >4</text>
<text x="427.80" y="298.60" font-size="5.0" font-family="'Liberation Sans', sans-serif" font-weight="normal" fill="#222" text-anchor="middle" textLength="38" lengthAdjust="spacingAndGlyphs" >log2(fold change)</text>
<text transform="translate(363.90,226.70) rotate(-90)" font-size="5.6" font-family="'Liberation Sans', sans-serif" fill="#222" text-anchor="middle" textLength="33.5" lengthAdjust="spacingAndGlyphs">-log10(pvalue)</text>
<text x="488.10" y="195.90" font-size="5.6" font-family="'Liberation Sans', sans-serif" font-weight="normal" fill="#222" text-anchor="start" >VIP</text>
<circle cx="492.10" cy="200.90" r="1.9" fill="#000"/>
<text x="497.10" y="202.50" font-size="4.6" font-family="'Liberation Sans', sans-serif" font-weight="normal" fill="#333" text-anchor="start" >0.5</text>
<circle cx="492.10" cy="208.30" r="2.3" fill="#000"/>
<text x="497.10" y="209.90" font-size="4.6" font-family="'Liberation Sans', sans-serif" font-weight="normal" fill="#333" text-anchor="start" >1.0</text>
<circle cx="492.10" cy="215.60" r="2.7" fill="#000"/>
<text x="497.10" y="217.20" font-size="4.6" font-family="'Liberation Sans', sans-serif" font-weight="normal" fill="#333" text-anchor="start" >1.5</text>
<circle cx="492.10" cy="223.00" r="3.1" fill="#000"/>
<text x="497.10" y="224.60" font-size="4.6" font-family="'Liberation Sans', sans-serif" font-weight="normal" fill="#333" text-anchor="start" >2.0</text>
<text x="488.10" y="239.90" font-size="5.6" font-family="'Liberation Sans', sans-serif" font-weight="normal" fill="#222" text-anchor="start" textLength="21" lengthAdjust="spacingAndGlyphs" >DE_Meta</text>
<circle cx="492.10" cy="245.00" r="1" fill="#ff2020"/>
<text x="497.10" y="246.60" font-size="4.6" font-family="'Liberation Sans', sans-serif" font-weight="normal" fill="#333" text-anchor="start" >UP</text>
<circle cx="492.10" cy="252.30" r="1" fill="#20e020"/>
<text x="497.10" y="253.90" font-size="4.6" font-family="'Liberation Sans', sans-serif" font-weight="normal" fill="#333" text-anchor="start" >DW</text>
<circle cx="492.10" cy="259.50" r="1" fill="#b0b0b0"/>
<text x="497.10" y="261.10" font-size="4.6" font-family="'Liberation Sans', sans-serif" font-weight="normal" fill="#333" text-anchor="start" >NoDiff</text>
<text x="528.50" y="164.80" font-size="14" font-family="'Liberation Serif', serif" font-weight="bold" fill="#000" text-anchor="start" >h</text>
<text x="602.90" y="163.70" font-size="7.8" font-family="'Liberation Serif', serif" font-weight="bold" fill="#000" text-anchor="middle" >RT_VS_ST</text>
<line x1="550.00" y1="268.88" x2="654.60" y2="268.88" stroke="#999" stroke-width="0.6" stroke-dasharray="2.5,1.2,0.6,1.2"/>
<line x1="596.88" y1="167.20" x2="596.88" y2="288.90" stroke="#999" stroke-width="0.6" stroke-dasharray="2.5,1.2,0.6,1.2"/>
<line x1="608.12" y1="167.20" x2="608.12" y2="288.90" stroke="#999" stroke-width="0.6" stroke-dasharray="2.5,1.2,0.6,1.2"/>
<line x1="548.20" y1="284.90" x2="550.00" y2="284.90" stroke="#333" stroke-width="0.6" />
<text x="547.60" y="286.45" font-size="4.3" font-family="'Liberation Sans', sans-serif" font-weight="normal" fill="#555" text-anchor="end" >0.0</text>
<line x1="548.20" y1="254.10" x2="550.00" y2="254.10" stroke="#333" stroke-width="0.6" />
<text x="547.60" y="255.65" font-size="4.3" font-family="'Liberation Sans', sans-serif" font-weight="normal" fill="#555" text-anchor="end" >2.5</text>
<line x1="548.20" y1="223.30" x2="550.00" y2="223.30" stroke="#333" stroke-width="0.6" />
<text x="547.60" y="224.85" font-size="4.3" font-family="'Liberation Sans', sans-serif" font-weight="normal" fill="#555" text-anchor="end" >5.0</text>
<line x1="548.20" y1="192.50" x2="550.00" y2="192.50" stroke="#333" stroke-width="0.6" />
<text x="547.60" y="194.05" font-size="4.3" font-family="'Liberation Sans', sans-serif" font-weight="normal" fill="#555" text-anchor="end" >7.5</text>
<line x1="554.50" y1="288.90" x2="554.50" y2="290.70" stroke="#333" stroke-width="0.6" />
<text x="554.50" y="294.20" font-size="4.3" font-family="'Liberation Sans', sans-serif" font-weight="normal" fill="#555" text-anchor="middle" >−5.0</text>
<line x1="578.50" y1="288.90" x2="578.50" y2="290.70" stroke="#333" stroke-width="0.6" />
<text x="578.50" y="294.20" font-size="4.3" font-family="'Liberation Sans', sans-serif" font-weight="normal" fill="#555" text-anchor="middle" >−2.5</text>
<line x1="602.50" y1="288.90" x2="602.50" y2="290.70" stroke="#333" stroke-width="0.6" />
<text x="602.50" y="294.20" font-size="4.3" font-family="'Liberation Sans', sans-serif" font-weight="normal" fill="#555" text-anchor="middle" >0.0</text>
<line x1="626.50" y1="288.90" x2="626.50" y2="290.70" stroke="#333" stroke-width="0.6" />
<text x="626.50" y="294.20" font-size="4.3" font-family="'Liberation Sans', sans-serif" font-weight="normal" fill="#555" text-anchor="middle" >2.5</text>
<line x1="650.50" y1="288.90" x2="650.50" y2="290.70" stroke="#333" stroke-width="0.6" />
<text x="650.50" y="294.20" font-size="4.3" font-family="'Liberation Sans', sans-serif" font-weight="normal" fill="#555" text-anchor="middle" >5.0</text>
<text x="602.25" y="300.80" font-size="5.0" font-family="'Liberation Sans', sans-serif" font-weight="normal" fill="#222" text-anchor="middle" textLength="38.3" lengthAdjust="spacingAndGlyphs" >log2(fold change)</text>
<text transform="translate(537.30,222.10) rotate(-90)" font-size="5.3" font-family="'Liberation Sans', sans-serif" fill="#222" text-anchor="middle" textLength="30.7" lengthAdjust="spacingAndGlyphs">-log10(pvalue)</text>
<text x="663.10" y="196.70" font-size="5.6" font-family="'Liberation Sans', sans-serif" font-weight="normal" fill="#222" text-anchor="start" >VIP</text>
<circle cx="667.10" cy="201.70" r="1.9" fill="#000"/>
<text x="672.10" y="203.30" font-size="4.6" font-family="'Liberation Sans', sans-serif" font-weight="normal" fill="#333" text-anchor="start" >0.5</text>
<circle cx="667.10" cy="209.10" r="2.3" fill="#000"/>
<text x="672.10" y="210.70" font-size="4.6" font-family="'Liberation Sans', sans-serif" font-weight="normal" fill="#333" text-anchor="start" >1.0</text>
<circle cx="667.10" cy="216.40" r="2.7" fill="#000"/>
<text x="672.10" y="218.00" font-size="4.6" font-family="'Liberation Sans', sans-serif" font-weight="normal" fill="#333" text-anchor="start" >1.5</text>
<circle cx="667.10" cy="223.80" r="3.1" fill="#000"/>
<text x="672.10" y="225.40" font-size="4.6" font-family="'Liberation Sans', sans-serif" font-weight="normal" fill="#333" text-anchor="start" >2.0</text>
<text x="663.10" y="240.70" font-size="5.6" font-family="'Liberation Sans', sans-serif" font-weight="normal" fill="#222" text-anchor="start" textLength="21" lengthAdjust="spacingAndGlyphs" >DE_Meta</text>
<circle cx="667.10" cy="245.80" r="1" fill="#ff2020"/>
<text x="672.10" y="247.40" font-size="4.6" font-family="'Liberation Sans', sans-serif" font-weight="normal" fill="#333" text-anchor="start" >UP</text>
<circle cx="667.10" cy="253.10" r="1" fill="#20e020"/>
<text x="672.10" y="254.70" font-size="4.6" font-family="'Liberation Sans', sans-serif" font-weight="normal" fill="#333" text-anchor="start" >DW</text>
<circle cx="667.10" cy="260.30" r="1" fill="#b0b0b0"/>
<text x="672.10" y="261.90" font-size="4.6" font-family="'Liberation Sans', sans-serif" font-weight="normal" fill="#333" text-anchor="start" >NoDiff</text>
<polygon points="63.6,68.0 64.5,68.0 67.2,87.5 70.0,68.0 70.9,68.0 70.9,89.3 63.6,89.3" fill="#d4d4d4" />
<polygon points="63.6,66.0 60.0,64.0 57.5,66.0 56.5,72.0 55.5,78.0 53.0,83.0 48.0,86.5 42.0,88.2 40.0,88.8 63.6,88.8" fill="#0000ff" fill-opacity="0.8"/>
<circle cx="58.2" cy="81.5" r="0.8" fill="#0000ff"/><circle cx="57.3" cy="74.8" r="0.8" fill="#0000ff"/><circle cx="58.9" cy="77.2" r="0.8" fill="#0000ff"/><circle cx="62.4" cy="72.3" r="0.8" fill="#0000ff"/><circle cx="54.8" cy="87.9" r="0.8" fill="#0000ff"/><circle cx="45.0" cy="87.7" r="0.8" fill="#0000ff"/><circle cx="53.1" cy="86.3" r="0.8" fill="#0000ff"/><circle cx="59.3" cy="68.0" r="0.8" fill="#0000ff"/><circle cx="58.3" cy="78.0" r="0.8" fill="#0000ff"/><circle cx="61.6" cy="69.9" r="0.8" fill="#0000ff"/><circle cx="61.3" cy="67.1" r="0.8" fill="#0000ff"/><circle cx="53.1" cy="88.0" r="0.8" fill="#0000ff"/><circle cx="54.4" cy="81.8" r="0.8" fill="#0000ff"/><circle cx="58.3" cy="76.6" r="0.8" fill="#0000ff"/><circle cx="60.2" cy="73.0" r="0.8" fill="#0000ff"/><circle cx="59.2" cy="86.1" r="0.8" fill="#0000ff"/><circle cx="60.0" cy="86.6" r="0.8" fill="#0000ff"/><circle cx="56.9" cy="83.0" r="0.8" fill="#0000ff"/><circle cx="56.0" cy="85.4" r="0.8" fill="#0000ff"/><circle cx="54.7" cy="80.1" r="0.8" fill="#0000ff"/><circle cx="57.7" cy="78.1" r="0.8" fill="#0000ff"/><circle cx="62.1" cy="73.9" r="0.8" fill="#0000ff"/><circle cx="56.8" cy="79.3" r="0.8" fill="#0000ff"/><circle cx="60.6" cy="65.2" r="0.8" fill="#0000ff"/><circle cx="49.7" cy="87.1" r="0.8" fill="#0000ff"/><circle cx="54.1" cy="88.3" r="0.8" fill="#0000ff"/><circle cx="63.6" cy="73.7" r="0.8" fill="#0000ff"/><circle cx="47.2" cy="87.2" r="0.8" fill="#0000ff"/><circle cx="63.4" cy="77.8" r="0.8" fill="#0000ff"/><circle cx="55.2" cy="79.5" r="0.8" fill="#0000ff"/><circle cx="60.1" cy="84.4" r="0.8" fill="#0000ff"/><circle cx="44.3" cy="88.2" r="0.8" fill="#0000ff"/><circle cx="56.6" cy="76.6" r="0.8" fill="#0000ff"/><circle cx="54.8" cy="79.7" r="0.8" fill="#0000ff"/><circle cx="56.7" cy="85.3" r="0.8" fill="#0000ff"/><circle cx="62.8" cy="67.5" r="0.8" fill="#0000ff"/><circle cx="57.9" cy="78.5" r="0.8" fill="#0000ff"/><circle cx="57.4" cy="73.4" r="0.8" fill="#0000ff"/><circle cx="61.0" cy="66.6" r="0.8" fill="#0000ff"/><circle cx="59.7" cy="84.9" r="0.8" fill="#0000ff"/><circle cx="58.5" cy="86.7" r="0.8" fill="#0000ff"/><circle cx="58.4" cy="72.6" r="0.8" fill="#0000ff"/><circle cx="60.1" cy="78.6" r="0.8" fill="#0000ff"/><circle cx="62.7" cy="83.0" r="0.8" fill="#0000ff"/><circle cx="56.4" cy="87.2" r="0.8" fill="#0000ff"/><circle cx="54.6" cy="87.2" r="0.8" fill="#0000ff"/><circle cx="59.9" cy="65.0" r="0.8" fill="#0000ff"/><circle cx="52.8" cy="88.2" r="0.8" fill="#0000ff"/><circle cx="62.4" cy="70.4" r="0.8" fill="#0000ff"/><circle cx="60.2" cy="68.4" r="0.8" fill="#0000ff"/><circle cx="58.3" cy="76.9" r="0.8" fill="#0000ff"/><circle cx="59.8" cy="65.0" r="0.8" fill="#0000ff"/><circle cx="51.8" cy="88.5" r="0.8" fill="#0000ff"/><circle cx="58.7" cy="72.8" r="0.8" fill="#0000ff"/><circle cx="61.9" cy="70.4" r="0.8" fill="#0000ff"/><circle cx="57.0" cy="71.2" r="0.8" fill="#0000ff"/><circle cx="61.7" cy="82.3" r="0.8" fill="#0000ff"/><circle cx="59.6" cy="84.7" r="0.8" fill="#0000ff"/><circle cx="45.2" cy="87.5" r="0.8" fill="#0000ff"/><circle cx="56.3" cy="86.1" r="0.8" fill="#0000ff"/><circle cx="56.4" cy="76.6" r="0.8" fill="#0000ff"/><circle cx="60.3" cy="82.5" r="0.8" fill="#0000ff"/><circle cx="48.8" cy="88.3" r="0.8" fill="#0000ff"/><circle cx="62.7" cy="87.4" r="0.8" fill="#0000ff"/><circle cx="58.8" cy="79.6" r="0.8" fill="#0000ff"/><circle cx="62.8" cy="75.9" r="0.8" fill="#0000ff"/><circle cx="53.0" cy="85.6" r="0.8" fill="#0000ff"/><circle cx="61.5" cy="68.5" r="0.8" fill="#0000ff"/><circle cx="55.4" cy="79.7" r="0.8" fill="#0000ff"/><circle cx="56.8" cy="88.5" r="0.8" fill="#0000ff"/><circle cx="62.9" cy="68.4" r="0.8" fill="#0000ff"/><circle cx="53.3" cy="84.8" r="0.8" fill="#0000ff"/><circle cx="58.7" cy="82.5" r="0.8" fill="#0000ff"/><circle cx="56.1" cy="75.2" r="0.8" fill="#0000ff"/><circle cx="56.9" cy="71.1" r="0.8" fill="#0000ff"/><circle cx="60.6" cy="75.7" r="0.8" fill="#0000ff"/><circle cx="55.1" cy="86.4" r="0.8" fill="#0000ff"/><circle cx="57.3" cy="87.7" r="0.8" fill="#0000ff"/><circle cx="58.0" cy="70.0" r="0.8" fill="#0000ff"/><circle cx="56.8" cy="80.8" r="0.8" fill="#0000ff"/><circle cx="54.5" cy="87.2" r="0.8" fill="#0000ff"/><circle cx="57.8" cy="73.1" r="0.8" fill="#0000ff"/><circle cx="62.6" cy="72.7" r="0.8" fill="#0000ff"/><circle cx="63.2" cy="73.6" r="0.8" fill="#0000ff"/><circle cx="55.0" cy="82.8" r="0.8" fill="#0000ff"/><circle cx="56.7" cy="80.7" r="0.8" fill="#0000ff"/><circle cx="63.2" cy="76.3" r="0.8" fill="#0000ff"/><circle cx="58.0" cy="72.9" r="0.8" fill="#0000ff"/><circle cx="52.5" cy="84.2" r="0.8" fill="#0000ff"/><circle cx="60.4" cy="82.7" r="0.8" fill="#0000ff"/><circle cx="58.7" cy="86.4" r="0.8" fill="#0000ff"/><circle cx="61.6" cy="84.3" r="0.8" fill="#0000ff"/><circle cx="61.1" cy="72.6" r="0.8" fill="#0000ff"/><circle cx="63.5" cy="86.1" r="0.8" fill="#0000ff"/><circle cx="59.2" cy="85.1" r="0.8" fill="#0000ff"/><circle cx="57.6" cy="78.2" r="0.8" fill="#0000ff"/><circle cx="52.2" cy="87.1" r="0.8" fill="#0000ff"/><circle cx="62.0" cy="70.6" r="0.8" fill="#0000ff"/><circle cx="63.6" cy="71.1" r="0.8" fill="#0000ff"/><circle cx="61.4" cy="71.4" r="0.8" fill="#0000ff"/><circle cx="58.7" cy="79.4" r="0.8" fill="#0000ff"/><circle cx="57.3" cy="81.6" r="0.8" fill="#0000ff"/><circle cx="63.5" cy="82.1" r="0.8" fill="#0000ff"/><circle cx="63.4" cy="72.1" r="0.8" fill="#0000ff"/><circle cx="46.5" cy="88.7" r="0.8" fill="#0000ff"/><circle cx="60.5" cy="67.1" r="0.8" fill="#0000ff"/><circle cx="56.8" cy="77.7" r="0.8" fill="#0000ff"/><circle cx="61.4" cy="65.7" r="0.8" fill="#0000ff"/><circle cx="57.5" cy="78.2" r="0.8" fill="#0000ff"/><circle cx="58.3" cy="66.4" r="0.8" fill="#0000ff"/><circle cx="61.1" cy="83.8" r="0.8" fill="#0000ff"/><circle cx="57.1" cy="85.2" r="0.8" fill="#0000ff"/><circle cx="55.2" cy="87.8" r="0.8" fill="#0000ff"/><circle cx="57.9" cy="82.4" r="0.8" fill="#0000ff"/>
<circle cx="62.4" cy="85.4" r="0.8" fill="#0000ff"/><circle cx="37.1" cy="87.5" r="0.8" fill="#0000ff"/><circle cx="46.7" cy="83.2" r="0.8" fill="#0000ff"/><circle cx="53.2" cy="74.6" r="0.8" fill="#0000ff"/><circle cx="61.8" cy="83.2" r="0.8" fill="#0000ff"/><circle cx="57.2" cy="79.5" r="0.8" fill="#0000ff"/><circle cx="56.6" cy="77.1" r="0.8" fill="#0000ff"/><circle cx="60.0" cy="64.0" r="0.8" fill="#0000ff"/><circle cx="62.2" cy="83.6" r="0.8" fill="#0000ff"/><circle cx="51.3" cy="82.4" r="0.8" fill="#0000ff"/><circle cx="41.2" cy="86.0" r="0.8" fill="#0000ff"/><circle cx="60.0" cy="62.0" r="0.8" fill="#0000ff"/><circle cx="53.9" cy="86.6" r="0.8" fill="#0000ff"/><circle cx="56.0" cy="64.8" r="0.8" fill="#0000ff"/><circle cx="63.0" cy="85.3" r="0.8" fill="#0000ff"/><circle cx="55.1" cy="82.4" r="0.8" fill="#0000ff"/><circle cx="53.2" cy="87.8" r="0.8" fill="#0000ff"/><circle cx="54.5" cy="70.3" r="0.8" fill="#0000ff"/><circle cx="52.3" cy="84.3" r="0.8" fill="#0000ff"/><circle cx="54.0" cy="85.2" r="0.8" fill="#0000ff"/><circle cx="49.9" cy="85.9" r="0.8" fill="#0000ff"/><circle cx="41.2" cy="85.7" r="0.8" fill="#0000ff"/><circle cx="60.4" cy="69.8" r="0.8" fill="#0000ff"/><circle cx="63.4" cy="71.0" r="0.8" fill="#0000ff"/><circle cx="63.4" cy="62.1" r="0.8" fill="#0000ff"/><circle cx="60.9" cy="77.8" r="0.8" fill="#0000ff"/><circle cx="60.2" cy="65.0" r="0.8" fill="#0000ff"/><circle cx="61.1" cy="83.6" r="0.8" fill="#0000ff"/><circle cx="55.5" cy="77.9" r="0.8" fill="#0000ff"/><circle cx="56.6" cy="86.0" r="0.8" fill="#0000ff"/><circle cx="50.7" cy="87.9" r="0.8" fill="#0000ff"/><circle cx="52.2" cy="60.6" r="0.8" fill="#0000ff"/><circle cx="58.1" cy="85.1" r="0.8" fill="#0000ff"/><circle cx="56.7" cy="76.6" r="0.8" fill="#0000ff"/><circle cx="54.5" cy="74.7" r="0.8" fill="#0000ff"/><circle cx="51.0" cy="71.9" r="0.8" fill="#0000ff"/><circle cx="59.8" cy="64.3" r="0.8" fill="#0000ff"/><circle cx="57.4" cy="81.2" r="0.8" fill="#0000ff"/><circle cx="56.3" cy="82.8" r="0.8" fill="#0000ff"/><circle cx="58.7" cy="76.0" r="0.8" fill="#0000ff"/><circle cx="47.1" cy="86.9" r="0.8" fill="#0000ff"/><circle cx="54.9" cy="78.2" r="0.8" fill="#0000ff"/><circle cx="49.0" cy="83.4" r="0.8" fill="#0000ff"/><circle cx="62.9" cy="68.7" r="0.8" fill="#0000ff"/><circle cx="54.2" cy="84.8" r="0.8" fill="#0000ff"/><circle cx="59.8" cy="75.2" r="0.8" fill="#0000ff"/><circle cx="61.5" cy="87.7" r="0.8" fill="#0000ff"/><circle cx="59.8" cy="83.1" r="0.8" fill="#0000ff"/><circle cx="52.9" cy="83.1" r="0.8" fill="#0000ff"/><circle cx="61.0" cy="71.6" r="0.8" fill="#0000ff"/><circle cx="58.9" cy="80.8" r="0.8" fill="#0000ff"/><circle cx="59.2" cy="82.4" r="0.8" fill="#0000ff"/><circle cx="56.6" cy="65.0" r="0.8" fill="#0000ff"/><circle cx="36.8" cy="87.1" r="0.8" fill="#0000ff"/><circle cx="56.3" cy="70.0" r="0.8" fill="#0000ff"/><circle cx="57.4" cy="87.0" r="0.8" fill="#0000ff"/><circle cx="45.6" cy="83.9" r="0.8" fill="#0000ff"/><circle cx="59.0" cy="59.0" r="0.8" fill="#0000ff"/><circle cx="62.9" cy="86.9" r="0.8" fill="#0000ff"/><circle cx="53.1" cy="71.6" r="0.8" fill="#0000ff"/><circle cx="58.0" cy="76.3" r="0.8" fill="#0000ff"/><circle cx="61.3" cy="83.6" r="0.8" fill="#0000ff"/><circle cx="57.6" cy="71.5" r="0.8" fill="#0000ff"/><circle cx="57.0" cy="82.6" r="0.8" fill="#0000ff"/><circle cx="58.6" cy="74.3" r="0.8" fill="#0000ff"/><circle cx="61.6" cy="75.5" r="0.8" fill="#0000ff"/><circle cx="59.2" cy="82.1" r="0.8" fill="#0000ff"/><circle cx="56.4" cy="82.5" r="0.8" fill="#0000ff"/><circle cx="61.5" cy="70.9" r="0.8" fill="#0000ff"/><circle cx="56.8" cy="81.9" r="0.8" fill="#0000ff"/><circle cx="59.4" cy="87.5" r="0.8" fill="#0000ff"/><circle cx="54.1" cy="71.8" r="0.8" fill="#0000ff"/><circle cx="43.3" cy="82.5" r="0.8" fill="#0000ff"/><circle cx="53.0" cy="85.7" r="0.8" fill="#0000ff"/><circle cx="63.6" cy="87.1" r="0.8" fill="#0000ff"/><circle cx="61.8" cy="75.4" r="0.8" fill="#0000ff"/><circle cx="61.1" cy="63.0" r="0.8" fill="#0000ff"/><circle cx="57.1" cy="74.6" r="0.8" fill="#0000ff"/><circle cx="56.2" cy="86.2" r="0.8" fill="#0000ff"/><circle cx="53.1" cy="87.4" r="0.8" fill="#0000ff"/><circle cx="59.6" cy="71.7" r="0.8" fill="#0000ff"/><circle cx="63.1" cy="82.8" r="0.8" fill="#0000ff"/><circle cx="46.1" cy="86.3" r="0.8" fill="#0000ff"/><circle cx="42.4" cy="88.4" r="0.8" fill="#0000ff"/><circle cx="60.9" cy="70.6" r="0.8" fill="#0000ff"/><circle cx="56.9" cy="69.2" r="0.8" fill="#0000ff"/><circle cx="61.2" cy="82.5" r="0.8" fill="#0000ff"/><circle cx="55.6" cy="87.8" r="0.8" fill="#0000ff"/><circle cx="50.7" cy="82.7" r="0.8" fill="#0000ff"/><circle cx="55.2" cy="87.2" r="0.8" fill="#0000ff"/><circle cx="48.3" cy="88.6" r="0.8" fill="#0000ff"/><circle cx="51.2" cy="87.3" r="0.8" fill="#0000ff"/><circle cx="59.7" cy="63.6" r="0.8" fill="#0000ff"/><circle cx="63.0" cy="81.5" r="0.8" fill="#0000ff"/><circle cx="59.3" cy="71.9" r="0.8" fill="#0000ff"/><circle cx="46.9" cy="88.3" r="0.8" fill="#0000ff"/><circle cx="58.1" cy="79.1" r="0.8" fill="#0000ff"/><circle cx="51.6" cy="85.9" r="0.8" fill="#0000ff"/><circle cx="50.2" cy="86.7" r="0.8" fill="#0000ff"/><circle cx="62.3" cy="88.0" r="0.8" fill="#0000ff"/><circle cx="60.3" cy="66.1" r="0.8" fill="#0000ff"/><circle cx="62.4" cy="69.8" r="0.8" fill="#0000ff"/><circle cx="51.1" cy="67.1" r="0.8" fill="#0000ff"/><circle cx="56.7" cy="84.4" r="0.8" fill="#0000ff"/><circle cx="56.7" cy="81.7" r="0.8" fill="#0000ff"/><circle cx="47.5" cy="87.3" r="0.8" fill="#0000ff"/><circle cx="58.0" cy="64.4" r="0.8" fill="#0000ff"/><circle cx="53.5" cy="64.0" r="0.8" fill="#0000ff"/><circle cx="57.1" cy="79.9" r="0.8" fill="#0000ff"/><circle cx="63.0" cy="77.3" r="0.8" fill="#0000ff"/><circle cx="56.0" cy="82.5" r="0.8" fill="#0000ff"/><circle cx="57.6" cy="78.1" r="0.8" fill="#0000ff"/><circle cx="54.1" cy="77.1" r="0.8" fill="#0000ff"/><circle cx="58.5" cy="79.4" r="0.8" fill="#0000ff"/><circle cx="51.8" cy="87.6" r="0.8" fill="#0000ff"/><circle cx="62.9" cy="88.8" r="0.8" fill="#0000ff"/><circle cx="53.0" cy="71.3" r="0.8" fill="#0000ff"/><circle cx="52.1" cy="80.7" r="0.8" fill="#0000ff"/><circle cx="45.8" cy="85.8" r="0.8" fill="#0000ff"/><circle cx="45.2" cy="85.0" r="0.8" fill="#0000ff"/><circle cx="56.4" cy="72.1" r="0.8" fill="#0000ff"/><circle cx="59.4" cy="75.1" r="0.8" fill="#0000ff"/><circle cx="45.6" cy="88.7" r="0.8" fill="#0000ff"/><circle cx="61.7" cy="75.8" r="0.8" fill="#0000ff"/><circle cx="59.2" cy="74.2" r="0.8" fill="#0000ff"/><circle cx="61.8" cy="78.4" r="0.8" fill="#0000ff"/><circle cx="57.9" cy="81.3" r="0.8" fill="#0000ff"/><circle cx="57.4" cy="84.1" r="0.8" fill="#0000ff"/><circle cx="62.3" cy="85.6" r="0.8" fill="#0000ff"/><circle cx="56.7" cy="79.2" r="0.8" fill="#0000ff"/><circle cx="56.6" cy="74.3" r="0.8" fill="#0000ff"/><circle cx="56.7" cy="69.8" r="0.8" fill="#0000ff"/><circle cx="52.3" cy="75.0" r="0.8" fill="#0000ff"/><circle cx="59.2" cy="83.6" r="0.8" fill="#0000ff"/><circle cx="53.4" cy="78.5" r="0.8" fill="#0000ff"/><circle cx="54.2" cy="81.1" r="0.8" fill="#0000ff"/><circle cx="61.5" cy="67.9" r="0.8" fill="#0000ff"/><circle cx="60.6" cy="77.1" r="0.8" fill="#0000ff"/><circle cx="63.0" cy="83.1" r="0.8" fill="#0000ff"/><circle cx="48.4" cy="85.2" r="0.8" fill="#0000ff"/><circle cx="58.9" cy="78.6" r="0.8" fill="#0000ff"/><circle cx="55.5" cy="68.5" r="0.8" fill="#0000ff"/><circle cx="44.1" cy="86.5" r="0.8" fill="#0000ff"/><circle cx="61.3" cy="60.2" r="0.8" fill="#0000ff"/><circle cx="56.4" cy="87.6" r="0.8" fill="#0000ff"/><circle cx="45.7" cy="82.9" r="0.8" fill="#0000ff"/><circle cx="56.1" cy="86.4" r="0.8" fill="#0000ff"/><circle cx="45.2" cy="82.3" r="0.8" fill="#0000ff"/><circle cx="62.1" cy="65.7" r="0.8" fill="#0000ff"/><circle cx="62.3" cy="62.2" r="0.8" fill="#0000ff"/><circle cx="59.6" cy="88.6" r="0.8" fill="#0000ff"/><circle cx="62.5" cy="83.9" r="0.8" fill="#0000ff"/><circle cx="43.7" cy="88.0" r="0.8" fill="#0000ff"/><circle cx="53.2" cy="70.9" r="0.8" fill="#0000ff"/><circle cx="62.7" cy="75.9" r="0.8" fill="#0000ff"/><circle cx="49.2" cy="82.6" r="0.8" fill="#0000ff"/><circle cx="55.2" cy="81.9" r="0.8" fill="#0000ff"/><circle cx="59.1" cy="67.4" r="0.8" fill="#0000ff"/><circle cx="61.7" cy="72.9" r="0.8" fill="#0000ff"/><circle cx="58.6" cy="81.8" r="0.8" fill="#0000ff"/><circle cx="56.5" cy="76.1" r="0.8" fill="#0000ff"/><circle cx="40.8" cy="87.7" r="0.8" fill="#0000ff"/><circle cx="62.5" cy="87.4" r="0.8" fill="#0000ff"/><circle cx="59.4" cy="77.8" r="0.8" fill="#0000ff"/><circle cx="55.0" cy="57.7" r="0.8" fill="#0000ff"/><circle cx="54.8" cy="68.6" r="0.8" fill="#0000ff"/><circle cx="62.8" cy="72.9" r="0.8" fill="#0000ff"/><circle cx="52.0" cy="82.5" r="0.8" fill="#0000ff"/><circle cx="57.1" cy="63.7" r="0.8" fill="#0000ff"/><circle cx="59.0" cy="79.6" r="0.8" fill="#0000ff"/><circle cx="62.6" cy="84.0" r="0.8" fill="#0000ff"/><circle cx="54.2" cy="86.0" r="0.8" fill="#0000ff"/><circle cx="52.8" cy="66.6" r="0.8" fill="#0000ff"/><circle cx="48.7" cy="86.9" r="0.8" fill="#0000ff"/><circle cx="62.3" cy="69.2" r="0.8" fill="#0000ff"/><circle cx="59.5" cy="78.8" r="0.8" fill="#0000ff"/><circle cx="51.0" cy="86.7" r="0.8" fill="#0000ff"/><circle cx="60.3" cy="64.7" r="0.8" fill="#0000ff"/><circle cx="57.7" cy="74.7" r="0.8" fill="#0000ff"/><circle cx="61.5" cy="82.9" r="0.8" fill="#0000ff"/><circle cx="58.7" cy="63.3" r="0.8" fill="#0000ff"/><circle cx="57.0" cy="88.6" r="0.8" fill="#0000ff"/><circle cx="54.1" cy="80.5" r="0.8" fill="#0000ff"/><circle cx="61.0" cy="73.8" r="0.8" fill="#0000ff"/><circle cx="58.9" cy="66.2" r="0.8" fill="#0000ff"/><circle cx="55.0" cy="78.2" r="0.8" fill="#0000ff"/><circle cx="55.0" cy="79.2" r="0.8" fill="#0000ff"/><circle cx="44.6" cy="87.8" r="0.8" fill="#0000ff"/><circle cx="49.9" cy="84.2" r="0.8" fill="#0000ff"/><circle cx="57.5" cy="76.0" r="0.8" fill="#0000ff"/><circle cx="56.6" cy="81.5" r="0.8" fill="#0000ff"/><circle cx="59.8" cy="87.8" r="0.8" fill="#0000ff"/><circle cx="57.0" cy="85.7" r="0.8" fill="#0000ff"/><circle cx="59.6" cy="76.5" r="0.8" fill="#0000ff"/><circle cx="61.1" cy="56.2" r="0.8" fill="#0000ff"/><circle cx="62.3" cy="64.4" r="0.8" fill="#0000ff"/><circle cx="61.1" cy="67.1" r="0.8" fill="#0000ff"/><circle cx="60.4" cy="84.9" r="0.8" fill="#0000ff"/><circle cx="54.2" cy="81.5" r="0.8" fill="#0000ff"/><circle cx="59.1" cy="68.6" r="0.8" fill="#0000ff"/><circle cx="60.7" cy="81.6" r="0.8" fill="#0000ff"/><circle cx="43.4" cy="82.7" r="0.8" fill="#0000ff"/><circle cx="56.7" cy="61.9" r="0.8" fill="#0000ff"/><circle cx="48.5" cy="83.9" r="0.8" fill="#0000ff"/><circle cx="51.3" cy="80.3" r="0.8" fill="#0000ff"/><circle cx="49.4" cy="85.0" r="0.8" fill="#0000ff"/><circle cx="49.9" cy="85.4" r="0.8" fill="#0000ff"/><circle cx="63.1" cy="69.4" r="0.8" fill="#0000ff"/><circle cx="58.8" cy="64.3" r="0.8" fill="#0000ff"/><circle cx="58.1" cy="84.9" r="0.8" fill="#0000ff"/><circle cx="44.0" cy="84.5" r="0.8" fill="#0000ff"/><circle cx="57.4" cy="87.2" r="0.8" fill="#0000ff"/><circle cx="62.6" cy="72.5" r="0.8" fill="#0000ff"/><circle cx="60.3" cy="71.0" r="0.8" fill="#0000ff"/><circle cx="61.8" cy="66.2" r="0.8" fill="#0000ff"/><circle cx="57.1" cy="82.1" r="0.8" fill="#0000ff"/><circle cx="58.2" cy="74.3" r="0.8" fill="#0000ff"/><circle cx="56.9" cy="73.5" r="0.8" fill="#0000ff"/><circle cx="61.8" cy="82.8" r="0.8" fill="#0000ff"/><circle cx="56.0" cy="75.0" r="0.8" fill="#0000ff"/><circle cx="53.0" cy="82.4" r="0.8" fill="#0000ff"/><circle cx="53.3" cy="84.5" r="0.8" fill="#0000ff"/><circle cx="59.8" cy="81.0" r="0.8" fill="#0000ff"/><circle cx="53.6" cy="64.1" r="0.8" fill="#0000ff"/>
<polygon points="70.9,64.0 73.0,60.0 75.5,60.0 76.5,68.0 77.5,76.0 79.5,82.0 83.0,85.5 88.0,87.5 92.0,88.8 70.9,88.8" fill="#ff0000" fill-opacity="0.8"/>
<circle cx="74.0" cy="77.7" r="0.8" fill="#ff0000"/><circle cx="74.5" cy="80.5" r="0.8" fill="#ff0000"/><circle cx="71.8" cy="75.3" r="0.8" fill="#ff0000"/><circle cx="73.6" cy="83.3" r="0.8" fill="#ff0000"/><circle cx="75.6" cy="75.3" r="0.8" fill="#ff0000"/><circle cx="74.0" cy="77.9" r="0.8" fill="#ff0000"/><circle cx="77.9" cy="79.8" r="0.8" fill="#ff0000"/><circle cx="75.3" cy="77.0" r="0.8" fill="#ff0000"/><circle cx="80.8" cy="87.3" r="0.8" fill="#ff0000"/><circle cx="79.1" cy="81.4" r="0.8" fill="#ff0000"/><circle cx="83.6" cy="86.4" r="0.8" fill="#ff0000"/><circle cx="79.3" cy="87.0" r="0.8" fill="#ff0000"/><circle cx="72.4" cy="84.7" r="0.8" fill="#ff0000"/><circle cx="76.3" cy="79.7" r="0.8" fill="#ff0000"/><circle cx="75.6" cy="71.9" r="0.8" fill="#ff0000"/><circle cx="73.9" cy="73.8" r="0.8" fill="#ff0000"/><circle cx="75.8" cy="62.3" r="0.8" fill="#ff0000"/><circle cx="73.4" cy="64.3" r="0.8" fill="#ff0000"/><circle cx="76.0" cy="65.4" r="0.8" fill="#ff0000"/><circle cx="77.2" cy="81.4" r="0.8" fill="#ff0000"/><circle cx="75.2" cy="73.4" r="0.8" fill="#ff0000"/><circle cx="80.7" cy="84.3" r="0.8" fill="#ff0000"/><circle cx="72.9" cy="64.9" r="0.8" fill="#ff0000"/><circle cx="88.6" cy="87.9" r="0.8" fill="#ff0000"/><circle cx="71.1" cy="68.0" r="0.8" fill="#ff0000"/><circle cx="75.5" cy="78.7" r="0.8" fill="#ff0000"/><circle cx="85.8" cy="87.6" r="0.8" fill="#ff0000"/><circle cx="74.9" cy="87.4" r="0.8" fill="#ff0000"/><circle cx="73.9" cy="73.0" r="0.8" fill="#ff0000"/><circle cx="71.1" cy="76.8" r="0.8" fill="#ff0000"/><circle cx="76.8" cy="76.0" r="0.8" fill="#ff0000"/><circle cx="76.7" cy="86.0" r="0.8" fill="#ff0000"/><circle cx="72.6" cy="80.0" r="0.8" fill="#ff0000"/><circle cx="73.1" cy="81.6" r="0.8" fill="#ff0000"/><circle cx="74.1" cy="61.9" r="0.8" fill="#ff0000"/><circle cx="74.6" cy="88.2" r="0.8" fill="#ff0000"/><circle cx="75.7" cy="85.5" r="0.8" fill="#ff0000"/><circle cx="73.7" cy="69.8" r="0.8" fill="#ff0000"/><circle cx="73.2" cy="79.9" r="0.8" fill="#ff0000"/><circle cx="72.0" cy="79.8" r="0.8" fill="#ff0000"/><circle cx="80.4" cy="88.6" r="0.8" fill="#ff0000"/><circle cx="88.5" cy="88.5" r="0.8" fill="#ff0000"/><circle cx="82.1" cy="88.0" r="0.8" fill="#ff0000"/><circle cx="72.1" cy="73.6" r="0.8" fill="#ff0000"/><circle cx="78.9" cy="83.4" r="0.8" fill="#ff0000"/><circle cx="77.7" cy="83.2" r="0.8" fill="#ff0000"/><circle cx="75.3" cy="60.7" r="0.8" fill="#ff0000"/><circle cx="74.6" cy="66.3" r="0.8" fill="#ff0000"/><circle cx="80.2" cy="86.5" r="0.8" fill="#ff0000"/><circle cx="79.3" cy="83.4" r="0.8" fill="#ff0000"/><circle cx="71.1" cy="75.5" r="0.8" fill="#ff0000"/><circle cx="72.3" cy="75.1" r="0.8" fill="#ff0000"/><circle cx="72.6" cy="82.6" r="0.8" fill="#ff0000"/><circle cx="72.7" cy="73.6" r="0.8" fill="#ff0000"/><circle cx="78.6" cy="84.7" r="0.8" fill="#ff0000"/><circle cx="74.9" cy="71.1" r="0.8" fill="#ff0000"/><circle cx="71.2" cy="74.5" r="0.8" fill="#ff0000"/><circle cx="76.9" cy="77.2" r="0.8" fill="#ff0000"/><circle cx="77.0" cy="78.7" r="0.8" fill="#ff0000"/><circle cx="72.9" cy="78.6" r="0.8" fill="#ff0000"/><circle cx="78.2" cy="83.2" r="0.8" fill="#ff0000"/><circle cx="76.0" cy="81.1" r="0.8" fill="#ff0000"/><circle cx="78.7" cy="88.0" r="0.8" fill="#ff0000"/><circle cx="74.1" cy="83.9" r="0.8" fill="#ff0000"/><circle cx="77.8" cy="85.3" r="0.8" fill="#ff0000"/><circle cx="86.8" cy="87.3" r="0.8" fill="#ff0000"/><circle cx="75.1" cy="66.9" r="0.8" fill="#ff0000"/><circle cx="81.0" cy="85.7" r="0.8" fill="#ff0000"/><circle cx="75.0" cy="65.8" r="0.8" fill="#ff0000"/><circle cx="78.8" cy="81.6" r="0.8" fill="#ff0000"/><circle cx="82.5" cy="85.3" r="0.8" fill="#ff0000"/><circle cx="73.1" cy="69.5" r="0.8" fill="#ff0000"/><circle cx="75.3" cy="68.3" r="0.8" fill="#ff0000"/><circle cx="73.1" cy="86.6" r="0.8" fill="#ff0000"/><circle cx="83.0" cy="85.6" r="0.8" fill="#ff0000"/><circle cx="73.5" cy="81.6" r="0.8" fill="#ff0000"/><circle cx="73.5" cy="84.5" r="0.8" fill="#ff0000"/><circle cx="73.0" cy="86.8" r="0.8" fill="#ff0000"/><circle cx="79.7" cy="82.8" r="0.8" fill="#ff0000"/><circle cx="72.4" cy="73.9" r="0.8" fill="#ff0000"/><circle cx="74.9" cy="73.9" r="0.8" fill="#ff0000"/><circle cx="72.9" cy="76.9" r="0.8" fill="#ff0000"/><circle cx="74.7" cy="87.1" r="0.8" fill="#ff0000"/><circle cx="75.4" cy="61.0" r="0.8" fill="#ff0000"/><circle cx="71.4" cy="81.2" r="0.8" fill="#ff0000"/><circle cx="74.6" cy="72.2" r="0.8" fill="#ff0000"/><circle cx="71.0" cy="85.1" r="0.8" fill="#ff0000"/><circle cx="75.4" cy="76.7" r="0.8" fill="#ff0000"/><circle cx="74.5" cy="72.4" r="0.8" fill="#ff0000"/><circle cx="74.8" cy="71.0" r="0.8" fill="#ff0000"/><circle cx="71.5" cy="88.6" r="0.8" fill="#ff0000"/><circle cx="75.7" cy="72.2" r="0.8" fill="#ff0000"/><circle cx="73.4" cy="87.9" r="0.8" fill="#ff0000"/><circle cx="77.7" cy="87.1" r="0.8" fill="#ff0000"/><circle cx="85.9" cy="87.0" r="0.8" fill="#ff0000"/><circle cx="79.0" cy="88.6" r="0.8" fill="#ff0000"/><circle cx="76.0" cy="71.5" r="0.8" fill="#ff0000"/><circle cx="75.2" cy="76.4" r="0.8" fill="#ff0000"/><circle cx="76.2" cy="67.2" r="0.8" fill="#ff0000"/><circle cx="72.7" cy="79.0" r="0.8" fill="#ff0000"/><circle cx="75.8" cy="76.8" r="0.8" fill="#ff0000"/><circle cx="83.0" cy="88.7" r="0.8" fill="#ff0000"/><circle cx="74.3" cy="63.6" r="0.8" fill="#ff0000"/><circle cx="79.3" cy="88.8" r="0.8" fill="#ff0000"/><circle cx="84.1" cy="88.6" r="0.8" fill="#ff0000"/><circle cx="78.5" cy="83.3" r="0.8" fill="#ff0000"/><circle cx="70.9" cy="68.6" r="0.8" fill="#ff0000"/><circle cx="76.8" cy="85.5" r="0.8" fill="#ff0000"/><circle cx="71.3" cy="63.7" r="0.8" fill="#ff0000"/><circle cx="73.8" cy="76.1" r="0.8" fill="#ff0000"/>
<circle cx="83.2" cy="82.6" r="0.8" fill="#ff0000"/><circle cx="75.0" cy="62.2" r="0.8" fill="#ff0000"/><circle cx="76.8" cy="55.8" r="0.8" fill="#ff0000"/><circle cx="77.8" cy="88.0" r="0.8" fill="#ff0000"/><circle cx="80.4" cy="59.9" r="0.8" fill="#ff0000"/><circle cx="75.6" cy="56.4" r="0.8" fill="#ff0000"/><circle cx="73.8" cy="60.1" r="0.8" fill="#ff0000"/><circle cx="73.0" cy="57.8" r="0.8" fill="#ff0000"/><circle cx="72.3" cy="69.1" r="0.8" fill="#ff0000"/><circle cx="88.1" cy="87.7" r="0.8" fill="#ff0000"/><circle cx="80.8" cy="84.3" r="0.8" fill="#ff0000"/><circle cx="71.8" cy="82.2" r="0.8" fill="#ff0000"/><circle cx="75.3" cy="76.2" r="0.8" fill="#ff0000"/><circle cx="71.3" cy="88.7" r="0.8" fill="#ff0000"/><circle cx="74.4" cy="69.3" r="0.8" fill="#ff0000"/><circle cx="74.1" cy="55.3" r="0.8" fill="#ff0000"/><circle cx="74.4" cy="70.4" r="0.8" fill="#ff0000"/><circle cx="80.5" cy="86.9" r="0.8" fill="#ff0000"/><circle cx="79.0" cy="82.9" r="0.8" fill="#ff0000"/><circle cx="80.6" cy="86.4" r="0.8" fill="#ff0000"/><circle cx="77.9" cy="81.4" r="0.8" fill="#ff0000"/><circle cx="71.7" cy="54.5" r="0.8" fill="#ff0000"/><circle cx="75.6" cy="77.5" r="0.8" fill="#ff0000"/><circle cx="77.3" cy="86.6" r="0.8" fill="#ff0000"/><circle cx="76.8" cy="83.9" r="0.8" fill="#ff0000"/><circle cx="77.6" cy="88.7" r="0.8" fill="#ff0000"/><circle cx="76.0" cy="65.8" r="0.8" fill="#ff0000"/><circle cx="71.8" cy="72.1" r="0.8" fill="#ff0000"/><circle cx="73.0" cy="66.4" r="0.8" fill="#ff0000"/><circle cx="79.1" cy="87.1" r="0.8" fill="#ff0000"/><circle cx="74.2" cy="86.7" r="0.8" fill="#ff0000"/><circle cx="71.4" cy="81.8" r="0.8" fill="#ff0000"/><circle cx="73.8" cy="75.6" r="0.8" fill="#ff0000"/><circle cx="78.3" cy="64.9" r="0.8" fill="#ff0000"/><circle cx="73.1" cy="79.8" r="0.8" fill="#ff0000"/><circle cx="79.1" cy="58.9" r="0.8" fill="#ff0000"/><circle cx="76.5" cy="82.6" r="0.8" fill="#ff0000"/><circle cx="74.5" cy="58.0" r="0.8" fill="#ff0000"/><circle cx="74.3" cy="63.6" r="0.8" fill="#ff0000"/><circle cx="75.5" cy="62.0" r="0.8" fill="#ff0000"/><circle cx="78.9" cy="66.3" r="0.8" fill="#ff0000"/><circle cx="80.6" cy="85.8" r="0.8" fill="#ff0000"/><circle cx="75.3" cy="69.8" r="0.8" fill="#ff0000"/><circle cx="82.0" cy="61.3" r="0.8" fill="#ff0000"/><circle cx="74.0" cy="79.8" r="0.8" fill="#ff0000"/><circle cx="77.9" cy="86.8" r="0.8" fill="#ff0000"/><circle cx="73.4" cy="67.8" r="0.8" fill="#ff0000"/><circle cx="74.2" cy="87.0" r="0.8" fill="#ff0000"/><circle cx="72.5" cy="75.1" r="0.8" fill="#ff0000"/><circle cx="77.7" cy="82.6" r="0.8" fill="#ff0000"/><circle cx="79.1" cy="81.9" r="0.8" fill="#ff0000"/><circle cx="71.6" cy="76.7" r="0.8" fill="#ff0000"/><circle cx="78.9" cy="84.2" r="0.8" fill="#ff0000"/><circle cx="73.0" cy="72.4" r="0.8" fill="#ff0000"/><circle cx="78.0" cy="75.4" r="0.8" fill="#ff0000"/><circle cx="77.9" cy="79.9" r="0.8" fill="#ff0000"/><circle cx="73.3" cy="85.7" r="0.8" fill="#ff0000"/><circle cx="75.2" cy="62.0" r="0.8" fill="#ff0000"/><circle cx="80.5" cy="74.4" r="0.8" fill="#ff0000"/><circle cx="74.8" cy="75.5" r="0.8" fill="#ff0000"/><circle cx="75.1" cy="83.7" r="0.8" fill="#ff0000"/><circle cx="73.0" cy="72.8" r="0.8" fill="#ff0000"/><circle cx="82.1" cy="86.1" r="0.8" fill="#ff0000"/><circle cx="75.4" cy="65.1" r="0.8" fill="#ff0000"/><circle cx="85.7" cy="88.2" r="0.8" fill="#ff0000"/><circle cx="71.5" cy="88.5" r="0.8" fill="#ff0000"/><circle cx="75.5" cy="65.7" r="0.8" fill="#ff0000"/><circle cx="75.9" cy="62.9" r="0.8" fill="#ff0000"/><circle cx="72.4" cy="81.8" r="0.8" fill="#ff0000"/><circle cx="74.7" cy="63.1" r="0.8" fill="#ff0000"/><circle cx="84.7" cy="81.3" r="0.8" fill="#ff0000"/><circle cx="78.1" cy="83.4" r="0.8" fill="#ff0000"/><circle cx="79.6" cy="69.4" r="0.8" fill="#ff0000"/><circle cx="79.9" cy="84.5" r="0.8" fill="#ff0000"/><circle cx="72.9" cy="72.2" r="0.8" fill="#ff0000"/><circle cx="74.2" cy="83.1" r="0.8" fill="#ff0000"/><circle cx="77.1" cy="62.6" r="0.8" fill="#ff0000"/><circle cx="80.2" cy="67.6" r="0.8" fill="#ff0000"/><circle cx="76.1" cy="77.9" r="0.8" fill="#ff0000"/><circle cx="73.5" cy="65.7" r="0.8" fill="#ff0000"/><circle cx="74.3" cy="61.0" r="0.8" fill="#ff0000"/><circle cx="87.1" cy="85.2" r="0.8" fill="#ff0000"/><circle cx="78.4" cy="74.8" r="0.8" fill="#ff0000"/><circle cx="79.8" cy="80.7" r="0.8" fill="#ff0000"/><circle cx="78.6" cy="83.5" r="0.8" fill="#ff0000"/><circle cx="74.4" cy="86.1" r="0.8" fill="#ff0000"/><circle cx="84.9" cy="82.6" r="0.8" fill="#ff0000"/><circle cx="72.8" cy="79.0" r="0.8" fill="#ff0000"/><circle cx="71.4" cy="59.4" r="0.8" fill="#ff0000"/><circle cx="77.6" cy="81.4" r="0.8" fill="#ff0000"/><circle cx="75.5" cy="61.7" r="0.8" fill="#ff0000"/><circle cx="75.6" cy="81.4" r="0.8" fill="#ff0000"/><circle cx="81.5" cy="78.3" r="0.8" fill="#ff0000"/><circle cx="90.4" cy="80.9" r="0.8" fill="#ff0000"/><circle cx="83.5" cy="65.1" r="0.8" fill="#ff0000"/><circle cx="75.3" cy="77.5" r="0.8" fill="#ff0000"/><circle cx="77.5" cy="57.7" r="0.8" fill="#ff0000"/><circle cx="80.1" cy="64.2" r="0.8" fill="#ff0000"/><circle cx="73.4" cy="69.5" r="0.8" fill="#ff0000"/><circle cx="71.1" cy="63.5" r="0.8" fill="#ff0000"/><circle cx="79.3" cy="69.3" r="0.8" fill="#ff0000"/><circle cx="74.7" cy="71.0" r="0.8" fill="#ff0000"/><circle cx="74.3" cy="81.6" r="0.8" fill="#ff0000"/><circle cx="76.8" cy="72.4" r="0.8" fill="#ff0000"/><circle cx="76.1" cy="67.9" r="0.8" fill="#ff0000"/><circle cx="76.3" cy="77.5" r="0.8" fill="#ff0000"/><circle cx="74.4" cy="79.2" r="0.8" fill="#ff0000"/><circle cx="72.3" cy="65.7" r="0.8" fill="#ff0000"/><circle cx="71.0" cy="72.6" r="0.8" fill="#ff0000"/><circle cx="75.4" cy="86.0" r="0.8" fill="#ff0000"/><circle cx="80.3" cy="65.3" r="0.8" fill="#ff0000"/><circle cx="75.2" cy="81.8" r="0.8" fill="#ff0000"/><circle cx="79.6" cy="81.9" r="0.8" fill="#ff0000"/><circle cx="89.6" cy="88.0" r="0.8" fill="#ff0000"/><circle cx="74.7" cy="73.6" r="0.8" fill="#ff0000"/><circle cx="71.2" cy="86.3" r="0.8" fill="#ff0000"/><circle cx="80.4" cy="74.5" r="0.8" fill="#ff0000"/><circle cx="76.0" cy="85.3" r="0.8" fill="#ff0000"/><circle cx="76.5" cy="76.1" r="0.8" fill="#ff0000"/><circle cx="75.2" cy="78.2" r="0.8" fill="#ff0000"/><circle cx="74.3" cy="66.8" r="0.8" fill="#ff0000"/><circle cx="74.1" cy="77.4" r="0.8" fill="#ff0000"/><circle cx="77.5" cy="55.9" r="0.8" fill="#ff0000"/><circle cx="72.4" cy="87.9" r="0.8" fill="#ff0000"/><circle cx="83.5" cy="83.8" r="0.8" fill="#ff0000"/><circle cx="91.4" cy="87.8" r="0.8" fill="#ff0000"/><circle cx="75.5" cy="67.9" r="0.8" fill="#ff0000"/><circle cx="74.3" cy="70.3" r="0.8" fill="#ff0000"/><circle cx="93.9" cy="82.1" r="0.8" fill="#ff0000"/><circle cx="77.8" cy="88.5" r="0.8" fill="#ff0000"/><circle cx="76.8" cy="78.8" r="0.8" fill="#ff0000"/><circle cx="91.4" cy="85.7" r="0.8" fill="#ff0000"/><circle cx="85.2" cy="88.3" r="0.8" fill="#ff0000"/><circle cx="72.7" cy="58.1" r="0.8" fill="#ff0000"/><circle cx="77.4" cy="59.4" r="0.8" fill="#ff0000"/><circle cx="78.9" cy="87.7" r="0.8" fill="#ff0000"/><circle cx="76.0" cy="81.7" r="0.8" fill="#ff0000"/><circle cx="73.2" cy="87.0" r="0.8" fill="#ff0000"/><circle cx="78.7" cy="83.2" r="0.8" fill="#ff0000"/><circle cx="81.5" cy="85.3" r="0.8" fill="#ff0000"/><circle cx="73.4" cy="64.4" r="0.8" fill="#ff0000"/><circle cx="74.2" cy="64.3" r="0.8" fill="#ff0000"/><circle cx="79.0" cy="64.6" r="0.8" fill="#ff0000"/><circle cx="72.1" cy="84.6" r="0.8" fill="#ff0000"/><circle cx="73.1" cy="62.8" r="0.8" fill="#ff0000"/><circle cx="76.0" cy="81.3" r="0.8" fill="#ff0000"/><circle cx="84.4" cy="85.6" r="0.8" fill="#ff0000"/><circle cx="75.3" cy="61.4" r="0.8" fill="#ff0000"/><circle cx="87.0" cy="86.6" r="0.8" fill="#ff0000"/><circle cx="71.5" cy="88.4" r="0.8" fill="#ff0000"/><circle cx="82.3" cy="83.0" r="0.8" fill="#ff0000"/><circle cx="72.2" cy="77.7" r="0.8" fill="#ff0000"/><circle cx="77.5" cy="75.6" r="0.8" fill="#ff0000"/><circle cx="78.0" cy="61.6" r="0.8" fill="#ff0000"/><circle cx="73.6" cy="69.8" r="0.8" fill="#ff0000"/><circle cx="73.7" cy="71.4" r="0.8" fill="#ff0000"/><circle cx="78.1" cy="60.1" r="0.8" fill="#ff0000"/><circle cx="87.3" cy="86.7" r="0.8" fill="#ff0000"/><circle cx="75.5" cy="72.9" r="0.8" fill="#ff0000"/><circle cx="88.1" cy="85.7" r="0.8" fill="#ff0000"/><circle cx="75.0" cy="66.0" r="0.8" fill="#ff0000"/><circle cx="73.8" cy="70.3" r="0.8" fill="#ff0000"/><circle cx="77.6" cy="74.7" r="0.8" fill="#ff0000"/><circle cx="83.7" cy="66.3" r="0.8" fill="#ff0000"/><circle cx="72.3" cy="69.2" r="0.8" fill="#ff0000"/><circle cx="72.2" cy="86.4" r="0.8" fill="#ff0000"/><circle cx="81.3" cy="60.6" r="0.8" fill="#ff0000"/><circle cx="90.1" cy="86.8" r="0.8" fill="#ff0000"/><circle cx="81.8" cy="77.6" r="0.8" fill="#ff0000"/><circle cx="78.0" cy="80.5" r="0.8" fill="#ff0000"/><circle cx="72.7" cy="60.5" r="0.8" fill="#ff0000"/><circle cx="73.4" cy="74.0" r="0.8" fill="#ff0000"/><circle cx="78.9" cy="74.3" r="0.8" fill="#ff0000"/><circle cx="86.3" cy="84.6" r="0.8" fill="#ff0000"/><circle cx="77.8" cy="81.2" r="0.8" fill="#ff0000"/><circle cx="75.5" cy="65.0" r="0.8" fill="#ff0000"/><circle cx="71.8" cy="66.9" r="0.8" fill="#ff0000"/><circle cx="78.0" cy="66.9" r="0.8" fill="#ff0000"/><circle cx="72.0" cy="64.4" r="0.8" fill="#ff0000"/><circle cx="73.0" cy="64.0" r="0.8" fill="#ff0000"/><circle cx="77.1" cy="70.4" r="0.8" fill="#ff0000"/><circle cx="75.1" cy="72.8" r="0.8" fill="#ff0000"/><circle cx="70.9" cy="62.0" r="0.8" fill="#ff0000"/><circle cx="76.9" cy="74.7" r="0.8" fill="#ff0000"/><circle cx="81.5" cy="85.9" r="0.8" fill="#ff0000"/><circle cx="78.0" cy="83.3" r="0.8" fill="#ff0000"/><circle cx="79.1" cy="81.3" r="0.8" fill="#ff0000"/><circle cx="76.3" cy="64.9" r="0.8" fill="#ff0000"/><circle cx="80.7" cy="83.9" r="0.8" fill="#ff0000"/><circle cx="79.7" cy="82.1" r="0.8" fill="#ff0000"/><circle cx="75.9" cy="59.7" r="0.8" fill="#ff0000"/><circle cx="78.9" cy="88.2" r="0.8" fill="#ff0000"/><circle cx="76.1" cy="57.9" r="0.8" fill="#ff0000"/><circle cx="75.7" cy="63.0" r="0.8" fill="#ff0000"/><circle cx="77.5" cy="76.2" r="0.8" fill="#ff0000"/><circle cx="76.7" cy="78.4" r="0.8" fill="#ff0000"/><circle cx="71.1" cy="74.7" r="0.8" fill="#ff0000"/><circle cx="77.5" cy="69.5" r="0.8" fill="#ff0000"/><circle cx="76.5" cy="61.1" r="0.8" fill="#ff0000"/><circle cx="71.3" cy="77.4" r="0.8" fill="#ff0000"/><circle cx="75.2" cy="58.0" r="0.8" fill="#ff0000"/><circle cx="80.9" cy="69.2" r="0.8" fill="#ff0000"/><circle cx="72.4" cy="71.1" r="0.8" fill="#ff0000"/><circle cx="77.1" cy="70.7" r="0.8" fill="#ff0000"/><circle cx="74.2" cy="66.8" r="0.8" fill="#ff0000"/><circle cx="79.7" cy="81.6" r="0.8" fill="#ff0000"/><circle cx="77.0" cy="79.1" r="0.8" fill="#ff0000"/><circle cx="71.4" cy="69.2" r="0.8" fill="#ff0000"/><circle cx="86.6" cy="75.4" r="0.8" fill="#ff0000"/><circle cx="89.7" cy="87.4" r="0.8" fill="#ff0000"/><circle cx="81.8" cy="77.9" r="0.8" fill="#ff0000"/><circle cx="73.9" cy="64.2" r="0.8" fill="#ff0000"/><circle cx="74.9" cy="62.7" r="0.8" fill="#ff0000"/><circle cx="77.6" cy="61.7" r="0.8" fill="#ff0000"/><circle cx="80.4" cy="84.9" r="0.8" fill="#ff0000"/><circle cx="73.7" cy="65.8" r="0.8" fill="#ff0000"/><circle cx="77.7" cy="82.0" r="0.8" fill="#ff0000"/><circle cx="79.5" cy="80.4" r="0.8" fill="#ff0000"/><circle cx="75.3" cy="58.3" r="0.8" fill="#ff0000"/><circle cx="88.8" cy="83.4" r="0.8" fill="#ff0000"/><circle cx="77.0" cy="57.4" r="0.8" fill="#ff0000"/>
<circle cx="51.1" cy="38.1" r="0.8" fill="#0000ff"/><circle cx="50.9" cy="49.2" r="0.8" fill="#0000ff"/><circle cx="52.4" cy="51.4" r="0.8" fill="#0000ff"/><circle cx="52.8" cy="53.0" r="0.8" fill="#0000ff"/><circle cx="53.3" cy="56.9" r="0.8" fill="#0000ff"/><circle cx="49.8" cy="60.0" r="0.8" fill="#0000ff"/><circle cx="54.7" cy="59.4" r="0.8" fill="#0000ff"/><circle cx="58.6" cy="60.2" r="0.8" fill="#0000ff"/><circle cx="59.0" cy="62.3" r="0.8" fill="#0000ff"/><circle cx="52.4" cy="63.1" r="0.8" fill="#0000ff"/><circle cx="54.9" cy="64.5" r="0.8" fill="#0000ff"/><circle cx="57.8" cy="64.5" r="0.8" fill="#0000ff"/><circle cx="59.4" cy="63.5" r="0.8" fill="#0000ff"/><circle cx="53.3" cy="56.8" r="0.8" fill="#0000ff"/><circle cx="49.5" cy="60.2" r="0.8" fill="#0000ff"/><circle cx="54.7" cy="59.3" r="0.8" fill="#0000ff"/><circle cx="58.7" cy="60.5" r="0.8" fill="#0000ff"/><circle cx="59.0" cy="62.4" r="0.8" fill="#0000ff"/><circle cx="52.5" cy="63.0" r="0.8" fill="#0000ff"/><circle cx="59.6" cy="63.3" r="0.8" fill="#0000ff"/><circle cx="49.2" cy="66.9" r="0.8" fill="#0000ff"/><circle cx="51.6" cy="66.0" r="0.8" fill="#0000ff"/><circle cx="52.8" cy="65.7" r="0.8" fill="#0000ff"/><circle cx="53.9" cy="64.8" r="0.8" fill="#0000ff"/><circle cx="55.1" cy="64.5" r="0.8" fill="#0000ff"/><circle cx="58.1" cy="65.1" r="0.8" fill="#0000ff"/><circle cx="59.0" cy="66.0" r="0.8" fill="#0000ff"/><circle cx="60.5" cy="68.1" r="0.8" fill="#0000ff"/><circle cx="50.4" cy="70.6" r="0.8" fill="#0000ff"/><circle cx="52.5" cy="70.2" r="0.8" fill="#0000ff"/><circle cx="54.5" cy="71.0" r="0.8" fill="#0000ff"/><circle cx="27.0" cy="80.8" r="0.8" fill="#0000ff"/><circle cx="29.7" cy="82.1" r="0.8" fill="#0000ff"/><circle cx="31.1" cy="82.8" r="0.8" fill="#0000ff"/><circle cx="33.9" cy="83.6" r="0.8" fill="#0000ff"/><circle cx="35.1" cy="84.3" r="0.8" fill="#0000ff"/><circle cx="35.7" cy="82.3" r="0.8" fill="#0000ff"/><circle cx="43.8" cy="71.4" r="0.8" fill="#0000ff"/><circle cx="44.3" cy="75.4" r="0.8" fill="#0000ff"/><circle cx="41.8" cy="83.3" r="0.8" fill="#0000ff"/><circle cx="43.3" cy="82.3" r="0.8" fill="#0000ff"/><circle cx="49.2" cy="66.8" r="0.8" fill="#0000ff"/><circle cx="52.7" cy="66.0" r="0.8" fill="#0000ff"/><circle cx="50.2" cy="70.4" r="0.8" fill="#0000ff"/><circle cx="61.0" cy="58.0" r="0.8" fill="#0000ff"/><circle cx="60.5" cy="54.0" r="0.8" fill="#0000ff"/><circle cx="61.5" cy="59.5" r="0.8" fill="#0000ff"/>
<circle cx="79.9" cy="18.5" r="0.8" fill="#ff0000"/><circle cx="92.9" cy="24.2" r="0.8" fill="#ff0000"/><circle cx="81.0" cy="24.9" r="0.8" fill="#ff0000"/><circle cx="78.4" cy="27.1" r="0.8" fill="#ff0000"/><circle cx="79.9" cy="26.3" r="0.8" fill="#ff0000"/><circle cx="82.4" cy="28.5" r="0.8" fill="#ff0000"/><circle cx="79.9" cy="29.2" r="0.8" fill="#ff0000"/><circle cx="81.0" cy="29.9" r="0.8" fill="#ff0000"/><circle cx="79.1" cy="32.0" r="0.8" fill="#ff0000"/><circle cx="78.4" cy="33.4" r="0.8" fill="#ff0000"/><circle cx="81.0" cy="33.2" r="0.8" fill="#ff0000"/><circle cx="79.1" cy="35.6" r="0.8" fill="#ff0000"/><circle cx="77.7" cy="37.7" r="0.8" fill="#ff0000"/><circle cx="78.4" cy="38.4" r="0.8" fill="#ff0000"/><circle cx="82.4" cy="40.5" r="0.8" fill="#ff0000"/><circle cx="80.6" cy="41.2" r="0.8" fill="#ff0000"/><circle cx="77.0" cy="42.0" r="0.8" fill="#ff0000"/><circle cx="78.4" cy="42.7" r="0.8" fill="#ff0000"/><circle cx="79.1" cy="43.4" r="0.8" fill="#ff0000"/><circle cx="75.9" cy="44.1" r="0.8" fill="#ff0000"/><circle cx="77.0" cy="44.8" r="0.8" fill="#ff0000"/><circle cx="78.4" cy="45.5" r="0.8" fill="#ff0000"/><circle cx="79.9" cy="45.5" r="0.8" fill="#ff0000"/><circle cx="83.4" cy="45.5" r="0.8" fill="#ff0000"/><circle cx="84.8" cy="46.9" r="0.8" fill="#ff0000"/><circle cx="74.9" cy="46.9" r="0.8" fill="#ff0000"/><circle cx="76.3" cy="47.6" r="0.8" fill="#ff0000"/><circle cx="77.7" cy="48.3" r="0.8" fill="#ff0000"/><circle cx="79.1" cy="48.3" r="0.8" fill="#ff0000"/><circle cx="80.6" cy="49.0" r="0.8" fill="#ff0000"/><circle cx="77.7" cy="50.5" r="0.8" fill="#ff0000"/><circle cx="79.1" cy="51.2" r="0.8" fill="#ff0000"/><circle cx="82.0" cy="52.6" r="0.8" fill="#ff0000"/><circle cx="77.7" cy="53.3" r="0.8" fill="#ff0000"/><circle cx="78.4" cy="54.7" r="0.8" fill="#ff0000"/><circle cx="82.5" cy="60.5" r="0.8" fill="#ff0000"/><circle cx="84.3" cy="69.5" r="0.8" fill="#ff0000"/><circle cx="87.7" cy="72.8" r="0.8" fill="#ff0000"/><circle cx="87.7" cy="77.2" r="0.8" fill="#ff0000"/><circle cx="83.7" cy="76.0" r="0.8" fill="#ff0000"/><circle cx="84.9" cy="77.8" r="0.8" fill="#ff0000"/><circle cx="91.5" cy="80.2" r="0.8" fill="#ff0000"/><circle cx="93.3" cy="80.8" r="0.8" fill="#ff0000"/><circle cx="102.4" cy="80.2" r="0.8" fill="#ff0000"/><circle cx="99.2" cy="84.4" r="0.8" fill="#ff0000"/><circle cx="88.5" cy="82.0" r="0.8" fill="#ff0000"/><circle cx="90.3" cy="83.8" r="0.8" fill="#ff0000"/><circle cx="95.0" cy="85.5" r="0.8" fill="#ff0000"/><circle cx="96.8" cy="86.1" r="0.8" fill="#ff0000"/><circle cx="80.8" cy="68.3" r="0.8" fill="#ff0000"/><circle cx="82.0" cy="64.7" r="0.8" fill="#ff0000"/><circle cx="108.5" cy="87.5" r="0.8" fill="#ff0000"/><circle cx="104.0" cy="87.2" r="0.8" fill="#ff0000"/>
<polygon points="240.7,68.0 241.6,68.0 244.8,87.3 248.0,68.0 248.9,68.0 248.9,89.3 240.7,89.3" fill="#d4d4d4" />
<polygon points="240.7,62.0 237.0,58.0 232.0,60.0 229.5,66.0 228.0,74.0 225.0,80.0 219.0,84.5 213.0,87.3 209.0,88.8 240.7,88.8" fill="#0000ff" fill-opacity="0.8"/>
<circle cx="238.6" cy="70.0" r="0.8" fill="#0000ff"/><circle cx="235.0" cy="65.6" r="0.8" fill="#0000ff"/><circle cx="237.9" cy="62.6" r="0.8" fill="#0000ff"/><circle cx="229.0" cy="74.3" r="0.8" fill="#0000ff"/><circle cx="230.0" cy="66.6" r="0.8" fill="#0000ff"/><circle cx="240.5" cy="86.7" r="0.8" fill="#0000ff"/><circle cx="233.6" cy="72.1" r="0.8" fill="#0000ff"/><circle cx="237.8" cy="88.1" r="0.8" fill="#0000ff"/><circle cx="237.0" cy="64.0" r="0.8" fill="#0000ff"/><circle cx="223.3" cy="84.3" r="0.8" fill="#0000ff"/><circle cx="235.1" cy="87.3" r="0.8" fill="#0000ff"/><circle cx="229.0" cy="73.8" r="0.8" fill="#0000ff"/><circle cx="238.9" cy="71.2" r="0.8" fill="#0000ff"/><circle cx="236.6" cy="68.0" r="0.8" fill="#0000ff"/><circle cx="211.9" cy="88.5" r="0.8" fill="#0000ff"/><circle cx="239.5" cy="86.6" r="0.8" fill="#0000ff"/><circle cx="228.2" cy="75.1" r="0.8" fill="#0000ff"/><circle cx="231.2" cy="67.1" r="0.8" fill="#0000ff"/><circle cx="235.9" cy="78.6" r="0.8" fill="#0000ff"/><circle cx="231.9" cy="77.6" r="0.8" fill="#0000ff"/><circle cx="240.5" cy="74.1" r="0.8" fill="#0000ff"/><circle cx="238.0" cy="86.6" r="0.8" fill="#0000ff"/><circle cx="234.7" cy="77.3" r="0.8" fill="#0000ff"/><circle cx="232.5" cy="66.9" r="0.8" fill="#0000ff"/><circle cx="231.4" cy="79.8" r="0.8" fill="#0000ff"/><circle cx="228.1" cy="87.0" r="0.8" fill="#0000ff"/><circle cx="235.8" cy="61.3" r="0.8" fill="#0000ff"/><circle cx="233.5" cy="85.8" r="0.8" fill="#0000ff"/><circle cx="233.2" cy="64.2" r="0.8" fill="#0000ff"/><circle cx="236.5" cy="87.6" r="0.8" fill="#0000ff"/><circle cx="237.7" cy="70.4" r="0.8" fill="#0000ff"/><circle cx="220.0" cy="86.0" r="0.8" fill="#0000ff"/><circle cx="236.3" cy="82.9" r="0.8" fill="#0000ff"/><circle cx="228.3" cy="87.4" r="0.8" fill="#0000ff"/><circle cx="233.1" cy="66.4" r="0.8" fill="#0000ff"/><circle cx="229.0" cy="75.9" r="0.8" fill="#0000ff"/><circle cx="239.5" cy="75.3" r="0.8" fill="#0000ff"/><circle cx="225.5" cy="84.7" r="0.8" fill="#0000ff"/><circle cx="228.4" cy="87.2" r="0.8" fill="#0000ff"/><circle cx="223.2" cy="86.2" r="0.8" fill="#0000ff"/><circle cx="226.1" cy="84.2" r="0.8" fill="#0000ff"/><circle cx="235.5" cy="85.7" r="0.8" fill="#0000ff"/><circle cx="230.7" cy="87.4" r="0.8" fill="#0000ff"/><circle cx="235.9" cy="83.3" r="0.8" fill="#0000ff"/><circle cx="239.5" cy="85.0" r="0.8" fill="#0000ff"/><circle cx="235.2" cy="61.0" r="0.8" fill="#0000ff"/><circle cx="235.7" cy="70.4" r="0.8" fill="#0000ff"/><circle cx="237.6" cy="76.1" r="0.8" fill="#0000ff"/><circle cx="236.8" cy="59.2" r="0.8" fill="#0000ff"/><circle cx="218.3" cy="85.0" r="0.8" fill="#0000ff"/><circle cx="237.5" cy="81.5" r="0.8" fill="#0000ff"/><circle cx="240.2" cy="75.9" r="0.8" fill="#0000ff"/><circle cx="222.9" cy="86.8" r="0.8" fill="#0000ff"/><circle cx="235.3" cy="87.4" r="0.8" fill="#0000ff"/><circle cx="230.5" cy="67.6" r="0.8" fill="#0000ff"/><circle cx="228.7" cy="72.0" r="0.8" fill="#0000ff"/><circle cx="214.9" cy="86.9" r="0.8" fill="#0000ff"/><circle cx="239.7" cy="77.1" r="0.8" fill="#0000ff"/><circle cx="239.3" cy="77.6" r="0.8" fill="#0000ff"/><circle cx="226.7" cy="88.3" r="0.8" fill="#0000ff"/><circle cx="234.1" cy="79.7" r="0.8" fill="#0000ff"/><circle cx="233.0" cy="74.6" r="0.8" fill="#0000ff"/><circle cx="228.9" cy="87.8" r="0.8" fill="#0000ff"/><circle cx="234.4" cy="85.0" r="0.8" fill="#0000ff"/><circle cx="230.4" cy="87.5" r="0.8" fill="#0000ff"/><circle cx="235.1" cy="73.0" r="0.8" fill="#0000ff"/><circle cx="235.9" cy="79.7" r="0.8" fill="#0000ff"/><circle cx="231.4" cy="66.0" r="0.8" fill="#0000ff"/><circle cx="237.9" cy="84.4" r="0.8" fill="#0000ff"/><circle cx="213.1" cy="87.8" r="0.8" fill="#0000ff"/><circle cx="238.3" cy="72.9" r="0.8" fill="#0000ff"/><circle cx="240.4" cy="71.8" r="0.8" fill="#0000ff"/><circle cx="232.5" cy="72.0" r="0.8" fill="#0000ff"/><circle cx="235.7" cy="71.2" r="0.8" fill="#0000ff"/><circle cx="232.8" cy="70.7" r="0.8" fill="#0000ff"/><circle cx="237.6" cy="62.8" r="0.8" fill="#0000ff"/><circle cx="238.3" cy="70.1" r="0.8" fill="#0000ff"/><circle cx="230.5" cy="63.8" r="0.8" fill="#0000ff"/><circle cx="240.1" cy="87.7" r="0.8" fill="#0000ff"/><circle cx="236.8" cy="74.8" r="0.8" fill="#0000ff"/><circle cx="222.8" cy="84.2" r="0.8" fill="#0000ff"/><circle cx="235.1" cy="69.9" r="0.8" fill="#0000ff"/><circle cx="229.0" cy="73.7" r="0.8" fill="#0000ff"/><circle cx="231.6" cy="73.4" r="0.8" fill="#0000ff"/><circle cx="235.3" cy="75.3" r="0.8" fill="#0000ff"/><circle cx="231.3" cy="73.0" r="0.8" fill="#0000ff"/><circle cx="232.4" cy="79.6" r="0.8" fill="#0000ff"/><circle cx="230.6" cy="88.7" r="0.8" fill="#0000ff"/><circle cx="221.7" cy="88.1" r="0.8" fill="#0000ff"/><circle cx="236.6" cy="75.8" r="0.8" fill="#0000ff"/><circle cx="240.1" cy="87.0" r="0.8" fill="#0000ff"/><circle cx="228.7" cy="81.5" r="0.8" fill="#0000ff"/><circle cx="234.6" cy="79.1" r="0.8" fill="#0000ff"/><circle cx="234.8" cy="76.6" r="0.8" fill="#0000ff"/><circle cx="240.7" cy="86.4" r="0.8" fill="#0000ff"/><circle cx="222.9" cy="86.6" r="0.8" fill="#0000ff"/><circle cx="239.7" cy="63.7" r="0.8" fill="#0000ff"/><circle cx="234.4" cy="70.3" r="0.8" fill="#0000ff"/><circle cx="235.0" cy="71.2" r="0.8" fill="#0000ff"/><circle cx="239.2" cy="84.0" r="0.8" fill="#0000ff"/><circle cx="238.9" cy="81.0" r="0.8" fill="#0000ff"/><circle cx="237.5" cy="63.5" r="0.8" fill="#0000ff"/><circle cx="232.8" cy="65.4" r="0.8" fill="#0000ff"/><circle cx="228.1" cy="73.8" r="0.8" fill="#0000ff"/><circle cx="235.4" cy="69.9" r="0.8" fill="#0000ff"/><circle cx="238.8" cy="72.8" r="0.8" fill="#0000ff"/><circle cx="236.9" cy="88.7" r="0.8" fill="#0000ff"/><circle cx="232.5" cy="81.9" r="0.8" fill="#0000ff"/><circle cx="228.7" cy="72.6" r="0.8" fill="#0000ff"/><circle cx="235.4" cy="67.2" r="0.8" fill="#0000ff"/><circle cx="234.3" cy="65.7" r="0.8" fill="#0000ff"/><circle cx="231.0" cy="64.7" r="0.8" fill="#0000ff"/><circle cx="238.2" cy="88.6" r="0.8" fill="#0000ff"/><circle cx="239.6" cy="63.0" r="0.8" fill="#0000ff"/><circle cx="214.8" cy="87.7" r="0.8" fill="#0000ff"/><circle cx="229.0" cy="85.0" r="0.8" fill="#0000ff"/><circle cx="232.2" cy="75.4" r="0.8" fill="#0000ff"/><circle cx="237.7" cy="78.8" r="0.8" fill="#0000ff"/><circle cx="218.8" cy="86.7" r="0.8" fill="#0000ff"/><circle cx="232.0" cy="65.4" r="0.8" fill="#0000ff"/><circle cx="238.4" cy="82.1" r="0.8" fill="#0000ff"/><circle cx="232.1" cy="78.8" r="0.8" fill="#0000ff"/><circle cx="227.1" cy="84.6" r="0.8" fill="#0000ff"/><circle cx="237.2" cy="81.1" r="0.8" fill="#0000ff"/><circle cx="232.6" cy="84.3" r="0.8" fill="#0000ff"/><circle cx="232.2" cy="83.4" r="0.8" fill="#0000ff"/><circle cx="234.7" cy="84.7" r="0.8" fill="#0000ff"/><circle cx="236.0" cy="75.4" r="0.8" fill="#0000ff"/><circle cx="239.3" cy="71.9" r="0.8" fill="#0000ff"/><circle cx="237.1" cy="66.4" r="0.8" fill="#0000ff"/><circle cx="235.1" cy="80.0" r="0.8" fill="#0000ff"/><circle cx="216.7" cy="86.5" r="0.8" fill="#0000ff"/><circle cx="225.4" cy="82.1" r="0.8" fill="#0000ff"/><circle cx="226.6" cy="79.4" r="0.8" fill="#0000ff"/><circle cx="235.4" cy="61.5" r="0.8" fill="#0000ff"/><circle cx="235.2" cy="64.1" r="0.8" fill="#0000ff"/><circle cx="226.7" cy="78.1" r="0.8" fill="#0000ff"/><circle cx="240.5" cy="77.2" r="0.8" fill="#0000ff"/><circle cx="235.0" cy="72.6" r="0.8" fill="#0000ff"/><circle cx="229.5" cy="73.6" r="0.8" fill="#0000ff"/><circle cx="233.7" cy="74.6" r="0.8" fill="#0000ff"/><circle cx="216.3" cy="86.1" r="0.8" fill="#0000ff"/><circle cx="230.9" cy="77.6" r="0.8" fill="#0000ff"/><circle cx="239.7" cy="87.2" r="0.8" fill="#0000ff"/><circle cx="234.1" cy="86.5" r="0.8" fill="#0000ff"/><circle cx="240.4" cy="65.1" r="0.8" fill="#0000ff"/><circle cx="231.2" cy="83.4" r="0.8" fill="#0000ff"/><circle cx="236.7" cy="83.8" r="0.8" fill="#0000ff"/><circle cx="219.6" cy="86.2" r="0.8" fill="#0000ff"/><circle cx="228.9" cy="70.2" r="0.8" fill="#0000ff"/><circle cx="229.7" cy="69.6" r="0.8" fill="#0000ff"/><circle cx="227.2" cy="84.4" r="0.8" fill="#0000ff"/><circle cx="240.3" cy="85.4" r="0.8" fill="#0000ff"/><circle cx="233.8" cy="85.2" r="0.8" fill="#0000ff"/><circle cx="238.5" cy="64.1" r="0.8" fill="#0000ff"/><circle cx="239.4" cy="85.9" r="0.8" fill="#0000ff"/><circle cx="214.8" cy="88.0" r="0.8" fill="#0000ff"/><circle cx="227.4" cy="81.3" r="0.8" fill="#0000ff"/><circle cx="230.3" cy="67.6" r="0.8" fill="#0000ff"/><circle cx="240.2" cy="86.0" r="0.8" fill="#0000ff"/><circle cx="239.3" cy="86.8" r="0.8" fill="#0000ff"/><circle cx="239.4" cy="70.2" r="0.8" fill="#0000ff"/><circle cx="234.9" cy="81.8" r="0.8" fill="#0000ff"/><circle cx="225.2" cy="80.0" r="0.8" fill="#0000ff"/><circle cx="233.2" cy="76.9" r="0.8" fill="#0000ff"/><circle cx="236.4" cy="71.3" r="0.8" fill="#0000ff"/><circle cx="237.2" cy="60.0" r="0.8" fill="#0000ff"/><circle cx="237.6" cy="68.6" r="0.8" fill="#0000ff"/><circle cx="214.1" cy="87.6" r="0.8" fill="#0000ff"/><circle cx="235.8" cy="84.6" r="0.8" fill="#0000ff"/><circle cx="225.0" cy="80.1" r="0.8" fill="#0000ff"/><circle cx="229.6" cy="82.8" r="0.8" fill="#0000ff"/><circle cx="223.1" cy="88.3" r="0.8" fill="#0000ff"/><circle cx="236.7" cy="64.9" r="0.8" fill="#0000ff"/><circle cx="232.3" cy="71.5" r="0.8" fill="#0000ff"/><circle cx="232.6" cy="76.8" r="0.8" fill="#0000ff"/><circle cx="236.7" cy="64.8" r="0.8" fill="#0000ff"/><circle cx="233.2" cy="69.7" r="0.8" fill="#0000ff"/><circle cx="240.5" cy="77.4" r="0.8" fill="#0000ff"/><circle cx="238.0" cy="73.2" r="0.8" fill="#0000ff"/><circle cx="228.7" cy="86.6" r="0.8" fill="#0000ff"/><circle cx="236.9" cy="81.8" r="0.8" fill="#0000ff"/><circle cx="227.0" cy="79.6" r="0.8" fill="#0000ff"/><circle cx="236.2" cy="83.5" r="0.8" fill="#0000ff"/><circle cx="228.2" cy="76.2" r="0.8" fill="#0000ff"/><circle cx="235.5" cy="76.6" r="0.8" fill="#0000ff"/><circle cx="232.7" cy="64.8" r="0.8" fill="#0000ff"/><circle cx="228.7" cy="83.2" r="0.8" fill="#0000ff"/><circle cx="231.0" cy="79.7" r="0.8" fill="#0000ff"/><circle cx="231.2" cy="64.3" r="0.8" fill="#0000ff"/><circle cx="226.8" cy="82.9" r="0.8" fill="#0000ff"/><circle cx="238.4" cy="67.6" r="0.8" fill="#0000ff"/><circle cx="229.2" cy="80.0" r="0.8" fill="#0000ff"/><circle cx="233.2" cy="83.7" r="0.8" fill="#0000ff"/><circle cx="234.2" cy="60.4" r="0.8" fill="#0000ff"/><circle cx="230.3" cy="83.3" r="0.8" fill="#0000ff"/><circle cx="236.8" cy="65.6" r="0.8" fill="#0000ff"/><circle cx="225.8" cy="83.7" r="0.8" fill="#0000ff"/><circle cx="234.2" cy="72.6" r="0.8" fill="#0000ff"/><circle cx="232.0" cy="69.8" r="0.8" fill="#0000ff"/><circle cx="240.7" cy="78.0" r="0.8" fill="#0000ff"/><circle cx="237.9" cy="75.6" r="0.8" fill="#0000ff"/><circle cx="221.1" cy="85.3" r="0.8" fill="#0000ff"/><circle cx="233.5" cy="76.5" r="0.8" fill="#0000ff"/><circle cx="236.3" cy="85.3" r="0.8" fill="#0000ff"/><circle cx="238.7" cy="73.4" r="0.8" fill="#0000ff"/><circle cx="239.2" cy="70.6" r="0.8" fill="#0000ff"/><circle cx="231.2" cy="79.9" r="0.8" fill="#0000ff"/><circle cx="225.0" cy="80.2" r="0.8" fill="#0000ff"/><circle cx="234.1" cy="70.4" r="0.8" fill="#0000ff"/><circle cx="235.3" cy="81.4" r="0.8" fill="#0000ff"/><circle cx="215.0" cy="86.5" r="0.8" fill="#0000ff"/><circle cx="230.9" cy="79.1" r="0.8" fill="#0000ff"/><circle cx="229.6" cy="81.9" r="0.8" fill="#0000ff"/><circle cx="231.4" cy="78.0" r="0.8" fill="#0000ff"/><circle cx="240.7" cy="84.4" r="0.8" fill="#0000ff"/><circle cx="225.9" cy="83.0" r="0.8" fill="#0000ff"/><circle cx="235.6" cy="74.2" r="0.8" fill="#0000ff"/><circle cx="238.1" cy="82.0" r="0.8" fill="#0000ff"/><circle cx="226.6" cy="82.6" r="0.8" fill="#0000ff"/><circle cx="235.6" cy="67.8" r="0.8" fill="#0000ff"/>
<circle cx="238.6" cy="60.1" r="0.8" fill="#0000ff"/><circle cx="235.9" cy="75.2" r="0.8" fill="#0000ff"/><circle cx="212.3" cy="86.0" r="0.8" fill="#0000ff"/><circle cx="238.8" cy="82.5" r="0.8" fill="#0000ff"/><circle cx="229.3" cy="74.0" r="0.8" fill="#0000ff"/><circle cx="228.9" cy="72.9" r="0.8" fill="#0000ff"/><circle cx="209.8" cy="87.0" r="0.8" fill="#0000ff"/><circle cx="231.9" cy="57.9" r="0.8" fill="#0000ff"/><circle cx="225.2" cy="87.3" r="0.8" fill="#0000ff"/><circle cx="229.2" cy="83.3" r="0.8" fill="#0000ff"/><circle cx="221.3" cy="86.0" r="0.8" fill="#0000ff"/><circle cx="224.9" cy="86.9" r="0.8" fill="#0000ff"/><circle cx="238.4" cy="75.1" r="0.8" fill="#0000ff"/><circle cx="225.3" cy="81.6" r="0.8" fill="#0000ff"/><circle cx="221.4" cy="87.7" r="0.8" fill="#0000ff"/><circle cx="238.3" cy="55.5" r="0.8" fill="#0000ff"/><circle cx="227.7" cy="86.7" r="0.8" fill="#0000ff"/><circle cx="237.8" cy="71.7" r="0.8" fill="#0000ff"/><circle cx="235.5" cy="66.9" r="0.8" fill="#0000ff"/><circle cx="231.4" cy="64.6" r="0.8" fill="#0000ff"/><circle cx="221.4" cy="82.5" r="0.8" fill="#0000ff"/><circle cx="230.3" cy="82.9" r="0.8" fill="#0000ff"/><circle cx="233.1" cy="80.9" r="0.8" fill="#0000ff"/><circle cx="228.6" cy="84.1" r="0.8" fill="#0000ff"/><circle cx="234.3" cy="76.4" r="0.8" fill="#0000ff"/><circle cx="219.8" cy="85.2" r="0.8" fill="#0000ff"/><circle cx="231.0" cy="72.2" r="0.8" fill="#0000ff"/><circle cx="219.5" cy="79.1" r="0.8" fill="#0000ff"/><circle cx="237.1" cy="67.7" r="0.8" fill="#0000ff"/><circle cx="236.7" cy="69.7" r="0.8" fill="#0000ff"/><circle cx="235.0" cy="59.7" r="0.8" fill="#0000ff"/><circle cx="235.1" cy="82.9" r="0.8" fill="#0000ff"/><circle cx="230.6" cy="79.1" r="0.8" fill="#0000ff"/><circle cx="235.1" cy="83.7" r="0.8" fill="#0000ff"/><circle cx="238.5" cy="67.1" r="0.8" fill="#0000ff"/><circle cx="240.6" cy="80.3" r="0.8" fill="#0000ff"/><circle cx="236.6" cy="71.6" r="0.8" fill="#0000ff"/><circle cx="234.8" cy="59.6" r="0.8" fill="#0000ff"/><circle cx="225.7" cy="66.9" r="0.8" fill="#0000ff"/><circle cx="236.4" cy="87.0" r="0.8" fill="#0000ff"/><circle cx="218.5" cy="79.9" r="0.8" fill="#0000ff"/><circle cx="230.0" cy="67.2" r="0.8" fill="#0000ff"/><circle cx="225.2" cy="86.2" r="0.8" fill="#0000ff"/><circle cx="238.1" cy="68.8" r="0.8" fill="#0000ff"/><circle cx="227.0" cy="71.4" r="0.8" fill="#0000ff"/><circle cx="229.6" cy="71.2" r="0.8" fill="#0000ff"/><circle cx="236.1" cy="82.3" r="0.8" fill="#0000ff"/><circle cx="233.6" cy="67.3" r="0.8" fill="#0000ff"/><circle cx="226.6" cy="58.0" r="0.8" fill="#0000ff"/><circle cx="213.2" cy="88.8" r="0.8" fill="#0000ff"/><circle cx="225.2" cy="80.0" r="0.8" fill="#0000ff"/><circle cx="225.5" cy="66.3" r="0.8" fill="#0000ff"/><circle cx="221.7" cy="87.9" r="0.8" fill="#0000ff"/><circle cx="228.4" cy="75.2" r="0.8" fill="#0000ff"/><circle cx="216.5" cy="83.8" r="0.8" fill="#0000ff"/><circle cx="236.6" cy="67.7" r="0.8" fill="#0000ff"/><circle cx="229.7" cy="65.5" r="0.8" fill="#0000ff"/><circle cx="236.3" cy="67.5" r="0.8" fill="#0000ff"/><circle cx="227.4" cy="80.5" r="0.8" fill="#0000ff"/><circle cx="226.8" cy="68.7" r="0.8" fill="#0000ff"/><circle cx="230.2" cy="84.6" r="0.8" fill="#0000ff"/><circle cx="211.1" cy="87.6" r="0.8" fill="#0000ff"/><circle cx="232.6" cy="63.0" r="0.8" fill="#0000ff"/><circle cx="235.9" cy="83.5" r="0.8" fill="#0000ff"/><circle cx="231.6" cy="66.7" r="0.8" fill="#0000ff"/><circle cx="224.6" cy="77.8" r="0.8" fill="#0000ff"/><circle cx="238.7" cy="77.8" r="0.8" fill="#0000ff"/><circle cx="235.3" cy="75.8" r="0.8" fill="#0000ff"/><circle cx="238.9" cy="73.1" r="0.8" fill="#0000ff"/><circle cx="229.6" cy="66.8" r="0.8" fill="#0000ff"/><circle cx="235.6" cy="81.0" r="0.8" fill="#0000ff"/><circle cx="226.1" cy="74.7" r="0.8" fill="#0000ff"/><circle cx="209.7" cy="87.6" r="0.8" fill="#0000ff"/><circle cx="230.4" cy="72.6" r="0.8" fill="#0000ff"/><circle cx="240.6" cy="73.0" r="0.8" fill="#0000ff"/><circle cx="239.0" cy="68.7" r="0.8" fill="#0000ff"/><circle cx="232.4" cy="55.8" r="0.8" fill="#0000ff"/><circle cx="239.0" cy="74.7" r="0.8" fill="#0000ff"/><circle cx="220.3" cy="86.0" r="0.8" fill="#0000ff"/><circle cx="237.8" cy="74.6" r="0.8" fill="#0000ff"/><circle cx="228.2" cy="75.4" r="0.8" fill="#0000ff"/><circle cx="240.4" cy="73.3" r="0.8" fill="#0000ff"/><circle cx="228.1" cy="75.8" r="0.8" fill="#0000ff"/><circle cx="221.1" cy="79.2" r="0.8" fill="#0000ff"/><circle cx="216.0" cy="84.3" r="0.8" fill="#0000ff"/><circle cx="231.0" cy="86.5" r="0.8" fill="#0000ff"/><circle cx="237.8" cy="80.3" r="0.8" fill="#0000ff"/><circle cx="237.1" cy="88.7" r="0.8" fill="#0000ff"/><circle cx="239.4" cy="87.1" r="0.8" fill="#0000ff"/><circle cx="228.7" cy="71.1" r="0.8" fill="#0000ff"/><circle cx="216.6" cy="84.9" r="0.8" fill="#0000ff"/><circle cx="211.6" cy="86.0" r="0.8" fill="#0000ff"/><circle cx="237.1" cy="72.4" r="0.8" fill="#0000ff"/><circle cx="236.8" cy="60.7" r="0.8" fill="#0000ff"/><circle cx="229.5" cy="80.7" r="0.8" fill="#0000ff"/><circle cx="217.2" cy="83.7" r="0.8" fill="#0000ff"/><circle cx="233.1" cy="76.7" r="0.8" fill="#0000ff"/><circle cx="226.5" cy="85.8" r="0.8" fill="#0000ff"/><circle cx="224.5" cy="88.7" r="0.8" fill="#0000ff"/><circle cx="224.9" cy="81.2" r="0.8" fill="#0000ff"/><circle cx="232.0" cy="61.8" r="0.8" fill="#0000ff"/><circle cx="231.4" cy="58.5" r="0.8" fill="#0000ff"/><circle cx="235.2" cy="67.0" r="0.8" fill="#0000ff"/><circle cx="208.1" cy="86.9" r="0.8" fill="#0000ff"/><circle cx="227.5" cy="84.6" r="0.8" fill="#0000ff"/><circle cx="230.9" cy="78.8" r="0.8" fill="#0000ff"/><circle cx="231.8" cy="64.3" r="0.8" fill="#0000ff"/><circle cx="237.7" cy="56.7" r="0.8" fill="#0000ff"/><circle cx="237.6" cy="72.6" r="0.8" fill="#0000ff"/><circle cx="234.5" cy="64.1" r="0.8" fill="#0000ff"/><circle cx="240.3" cy="65.8" r="0.8" fill="#0000ff"/><circle cx="220.1" cy="84.1" r="0.8" fill="#0000ff"/><circle cx="219.6" cy="88.5" r="0.8" fill="#0000ff"/><circle cx="236.1" cy="69.7" r="0.8" fill="#0000ff"/><circle cx="237.8" cy="73.0" r="0.8" fill="#0000ff"/><circle cx="225.2" cy="72.6" r="0.8" fill="#0000ff"/><circle cx="230.0" cy="78.0" r="0.8" fill="#0000ff"/><circle cx="240.6" cy="76.0" r="0.8" fill="#0000ff"/><circle cx="232.0" cy="85.3" r="0.8" fill="#0000ff"/><circle cx="236.2" cy="85.4" r="0.8" fill="#0000ff"/><circle cx="229.3" cy="66.1" r="0.8" fill="#0000ff"/><circle cx="231.3" cy="64.2" r="0.8" fill="#0000ff"/><circle cx="231.4" cy="57.8" r="0.8" fill="#0000ff"/><circle cx="240.5" cy="79.2" r="0.8" fill="#0000ff"/><circle cx="239.6" cy="62.3" r="0.8" fill="#0000ff"/><circle cx="240.2" cy="86.5" r="0.8" fill="#0000ff"/><circle cx="218.8" cy="85.7" r="0.8" fill="#0000ff"/><circle cx="228.0" cy="88.4" r="0.8" fill="#0000ff"/><circle cx="230.8" cy="63.2" r="0.8" fill="#0000ff"/><circle cx="221.1" cy="88.2" r="0.8" fill="#0000ff"/><circle cx="230.4" cy="80.6" r="0.8" fill="#0000ff"/><circle cx="239.2" cy="82.4" r="0.8" fill="#0000ff"/><circle cx="240.0" cy="88.4" r="0.8" fill="#0000ff"/><circle cx="234.2" cy="78.7" r="0.8" fill="#0000ff"/><circle cx="214.6" cy="87.2" r="0.8" fill="#0000ff"/><circle cx="237.9" cy="88.0" r="0.8" fill="#0000ff"/><circle cx="232.2" cy="80.3" r="0.8" fill="#0000ff"/><circle cx="224.5" cy="80.8" r="0.8" fill="#0000ff"/><circle cx="234.5" cy="75.0" r="0.8" fill="#0000ff"/><circle cx="229.7" cy="78.1" r="0.8" fill="#0000ff"/><circle cx="216.6" cy="87.3" r="0.8" fill="#0000ff"/><circle cx="237.8" cy="60.3" r="0.8" fill="#0000ff"/><circle cx="227.0" cy="88.0" r="0.8" fill="#0000ff"/><circle cx="233.5" cy="77.1" r="0.8" fill="#0000ff"/><circle cx="235.3" cy="73.2" r="0.8" fill="#0000ff"/><circle cx="238.1" cy="69.2" r="0.8" fill="#0000ff"/><circle cx="239.4" cy="55.7" r="0.8" fill="#0000ff"/><circle cx="239.3" cy="69.4" r="0.8" fill="#0000ff"/><circle cx="226.8" cy="80.8" r="0.8" fill="#0000ff"/><circle cx="225.6" cy="70.0" r="0.8" fill="#0000ff"/><circle cx="224.3" cy="84.4" r="0.8" fill="#0000ff"/><circle cx="220.4" cy="87.7" r="0.8" fill="#0000ff"/><circle cx="229.1" cy="74.4" r="0.8" fill="#0000ff"/><circle cx="226.8" cy="63.4" r="0.8" fill="#0000ff"/><circle cx="232.4" cy="70.3" r="0.8" fill="#0000ff"/><circle cx="226.7" cy="81.1" r="0.8" fill="#0000ff"/><circle cx="224.0" cy="87.3" r="0.8" fill="#0000ff"/><circle cx="229.7" cy="73.7" r="0.8" fill="#0000ff"/><circle cx="239.4" cy="65.3" r="0.8" fill="#0000ff"/><circle cx="238.1" cy="65.5" r="0.8" fill="#0000ff"/><circle cx="233.8" cy="75.9" r="0.8" fill="#0000ff"/><circle cx="228.8" cy="56.5" r="0.8" fill="#0000ff"/><circle cx="234.0" cy="87.7" r="0.8" fill="#0000ff"/><circle cx="228.7" cy="84.1" r="0.8" fill="#0000ff"/><circle cx="214.1" cy="87.5" r="0.8" fill="#0000ff"/><circle cx="229.6" cy="66.6" r="0.8" fill="#0000ff"/><circle cx="229.3" cy="77.0" r="0.8" fill="#0000ff"/><circle cx="239.6" cy="50.8" r="0.8" fill="#0000ff"/><circle cx="236.8" cy="70.6" r="0.8" fill="#0000ff"/><circle cx="226.9" cy="81.8" r="0.8" fill="#0000ff"/><circle cx="233.5" cy="66.4" r="0.8" fill="#0000ff"/><circle cx="237.5" cy="71.6" r="0.8" fill="#0000ff"/><circle cx="230.7" cy="69.5" r="0.8" fill="#0000ff"/><circle cx="232.9" cy="62.5" r="0.8" fill="#0000ff"/><circle cx="233.9" cy="85.0" r="0.8" fill="#0000ff"/><circle cx="229.1" cy="78.0" r="0.8" fill="#0000ff"/><circle cx="237.3" cy="83.4" r="0.8" fill="#0000ff"/><circle cx="235.5" cy="69.2" r="0.8" fill="#0000ff"/><circle cx="223.5" cy="84.6" r="0.8" fill="#0000ff"/><circle cx="235.4" cy="67.0" r="0.8" fill="#0000ff"/><circle cx="227.5" cy="75.7" r="0.8" fill="#0000ff"/><circle cx="233.1" cy="64.3" r="0.8" fill="#0000ff"/><circle cx="221.7" cy="84.1" r="0.8" fill="#0000ff"/><circle cx="231.6" cy="76.0" r="0.8" fill="#0000ff"/><circle cx="222.4" cy="77.7" r="0.8" fill="#0000ff"/><circle cx="231.6" cy="87.3" r="0.8" fill="#0000ff"/><circle cx="236.2" cy="54.2" r="0.8" fill="#0000ff"/><circle cx="226.2" cy="82.5" r="0.8" fill="#0000ff"/><circle cx="237.4" cy="81.3" r="0.8" fill="#0000ff"/><circle cx="227.1" cy="84.4" r="0.8" fill="#0000ff"/><circle cx="219.6" cy="85.0" r="0.8" fill="#0000ff"/><circle cx="237.7" cy="58.6" r="0.8" fill="#0000ff"/><circle cx="223.6" cy="85.3" r="0.8" fill="#0000ff"/><circle cx="225.7" cy="84.8" r="0.8" fill="#0000ff"/><circle cx="229.9" cy="82.7" r="0.8" fill="#0000ff"/><circle cx="228.6" cy="77.5" r="0.8" fill="#0000ff"/><circle cx="233.7" cy="70.8" r="0.8" fill="#0000ff"/><circle cx="232.2" cy="61.0" r="0.8" fill="#0000ff"/><circle cx="225.4" cy="64.5" r="0.8" fill="#0000ff"/><circle cx="229.5" cy="50.4" r="0.8" fill="#0000ff"/><circle cx="216.7" cy="86.8" r="0.8" fill="#0000ff"/><circle cx="239.8" cy="71.6" r="0.8" fill="#0000ff"/><circle cx="239.9" cy="59.2" r="0.8" fill="#0000ff"/><circle cx="230.7" cy="82.9" r="0.8" fill="#0000ff"/><circle cx="218.9" cy="83.2" r="0.8" fill="#0000ff"/><circle cx="235.4" cy="55.5" r="0.8" fill="#0000ff"/><circle cx="238.8" cy="64.0" r="0.8" fill="#0000ff"/><circle cx="228.7" cy="85.6" r="0.8" fill="#0000ff"/><circle cx="211.8" cy="88.2" r="0.8" fill="#0000ff"/><circle cx="226.5" cy="76.5" r="0.8" fill="#0000ff"/><circle cx="213.0" cy="84.1" r="0.8" fill="#0000ff"/><circle cx="229.5" cy="80.3" r="0.8" fill="#0000ff"/><circle cx="240.2" cy="72.0" r="0.8" fill="#0000ff"/><circle cx="236.4" cy="62.0" r="0.8" fill="#0000ff"/><circle cx="214.7" cy="87.7" r="0.8" fill="#0000ff"/><circle cx="229.0" cy="73.6" r="0.8" fill="#0000ff"/><circle cx="222.1" cy="80.4" r="0.8" fill="#0000ff"/><circle cx="237.7" cy="63.8" r="0.8" fill="#0000ff"/><circle cx="232.7" cy="88.7" r="0.8" fill="#0000ff"/><circle cx="232.5" cy="67.5" r="0.8" fill="#0000ff"/><circle cx="226.2" cy="77.3" r="0.8" fill="#0000ff"/><circle cx="235.2" cy="87.5" r="0.8" fill="#0000ff"/><circle cx="232.3" cy="77.7" r="0.8" fill="#0000ff"/><circle cx="229.4" cy="80.4" r="0.8" fill="#0000ff"/><circle cx="238.3" cy="81.2" r="0.8" fill="#0000ff"/><circle cx="235.7" cy="83.6" r="0.8" fill="#0000ff"/><circle cx="233.2" cy="75.3" r="0.8" fill="#0000ff"/><circle cx="240.3" cy="75.0" r="0.8" fill="#0000ff"/><circle cx="239.3" cy="77.5" r="0.8" fill="#0000ff"/><circle cx="226.2" cy="56.5" r="0.8" fill="#0000ff"/><circle cx="214.0" cy="82.0" r="0.8" fill="#0000ff"/><circle cx="235.0" cy="57.0" r="0.8" fill="#0000ff"/><circle cx="237.7" cy="76.9" r="0.8" fill="#0000ff"/><circle cx="229.4" cy="54.8" r="0.8" fill="#0000ff"/><circle cx="220.8" cy="77.1" r="0.8" fill="#0000ff"/><circle cx="211.5" cy="84.2" r="0.8" fill="#0000ff"/><circle cx="229.0" cy="72.1" r="0.8" fill="#0000ff"/><circle cx="235.0" cy="53.8" r="0.8" fill="#0000ff"/><circle cx="227.2" cy="70.4" r="0.8" fill="#0000ff"/><circle cx="226.5" cy="80.3" r="0.8" fill="#0000ff"/><circle cx="229.1" cy="68.1" r="0.8" fill="#0000ff"/><circle cx="209.9" cy="87.4" r="0.8" fill="#0000ff"/><circle cx="234.7" cy="65.0" r="0.8" fill="#0000ff"/><circle cx="230.8" cy="79.7" r="0.8" fill="#0000ff"/><circle cx="224.5" cy="65.9" r="0.8" fill="#0000ff"/><circle cx="212.2" cy="86.8" r="0.8" fill="#0000ff"/><circle cx="233.7" cy="55.0" r="0.8" fill="#0000ff"/><circle cx="224.3" cy="87.0" r="0.8" fill="#0000ff"/><circle cx="205.5" cy="88.1" r="0.8" fill="#0000ff"/><circle cx="240.3" cy="71.7" r="0.8" fill="#0000ff"/><circle cx="239.7" cy="69.4" r="0.8" fill="#0000ff"/><circle cx="236.4" cy="59.4" r="0.8" fill="#0000ff"/><circle cx="234.7" cy="71.4" r="0.8" fill="#0000ff"/><circle cx="240.3" cy="79.7" r="0.8" fill="#0000ff"/><circle cx="232.7" cy="62.7" r="0.8" fill="#0000ff"/><circle cx="228.7" cy="82.3" r="0.8" fill="#0000ff"/><circle cx="209.1" cy="87.8" r="0.8" fill="#0000ff"/><circle cx="224.0" cy="82.4" r="0.8" fill="#0000ff"/><circle cx="236.6" cy="79.7" r="0.8" fill="#0000ff"/><circle cx="231.1" cy="68.5" r="0.8" fill="#0000ff"/><circle cx="227.1" cy="73.8" r="0.8" fill="#0000ff"/><circle cx="229.7" cy="82.7" r="0.8" fill="#0000ff"/><circle cx="221.1" cy="86.1" r="0.8" fill="#0000ff"/><circle cx="228.9" cy="86.3" r="0.8" fill="#0000ff"/><circle cx="220.1" cy="87.0" r="0.8" fill="#0000ff"/><circle cx="235.0" cy="70.0" r="0.8" fill="#0000ff"/><circle cx="239.8" cy="58.1" r="0.8" fill="#0000ff"/><circle cx="240.2" cy="86.2" r="0.8" fill="#0000ff"/><circle cx="222.6" cy="75.1" r="0.8" fill="#0000ff"/><circle cx="240.4" cy="67.3" r="0.8" fill="#0000ff"/><circle cx="231.7" cy="73.3" r="0.8" fill="#0000ff"/><circle cx="237.2" cy="82.1" r="0.8" fill="#0000ff"/><circle cx="236.2" cy="61.8" r="0.8" fill="#0000ff"/><circle cx="226.5" cy="66.0" r="0.8" fill="#0000ff"/><circle cx="232.8" cy="65.7" r="0.8" fill="#0000ff"/><circle cx="220.1" cy="85.3" r="0.8" fill="#0000ff"/><circle cx="236.5" cy="82.6" r="0.8" fill="#0000ff"/><circle cx="238.8" cy="65.6" r="0.8" fill="#0000ff"/><circle cx="222.6" cy="81.4" r="0.8" fill="#0000ff"/><circle cx="239.7" cy="68.7" r="0.8" fill="#0000ff"/><circle cx="214.3" cy="87.8" r="0.8" fill="#0000ff"/><circle cx="237.1" cy="85.5" r="0.8" fill="#0000ff"/><circle cx="239.7" cy="73.2" r="0.8" fill="#0000ff"/><circle cx="227.9" cy="79.4" r="0.8" fill="#0000ff"/><circle cx="234.5" cy="81.0" r="0.8" fill="#0000ff"/><circle cx="229.5" cy="66.1" r="0.8" fill="#0000ff"/><circle cx="228.7" cy="79.1" r="0.8" fill="#0000ff"/><circle cx="225.5" cy="63.0" r="0.8" fill="#0000ff"/><circle cx="235.4" cy="63.6" r="0.8" fill="#0000ff"/><circle cx="226.4" cy="75.2" r="0.8" fill="#0000ff"/><circle cx="230.5" cy="77.4" r="0.8" fill="#0000ff"/><circle cx="234.7" cy="79.2" r="0.8" fill="#0000ff"/><circle cx="230.6" cy="84.0" r="0.8" fill="#0000ff"/><circle cx="228.4" cy="84.0" r="0.8" fill="#0000ff"/><circle cx="235.2" cy="84.1" r="0.8" fill="#0000ff"/><circle cx="236.9" cy="64.4" r="0.8" fill="#0000ff"/><circle cx="224.3" cy="78.2" r="0.8" fill="#0000ff"/><circle cx="234.1" cy="59.0" r="0.8" fill="#0000ff"/><circle cx="240.3" cy="68.9" r="0.8" fill="#0000ff"/><circle cx="218.9" cy="87.3" r="0.8" fill="#0000ff"/><circle cx="226.3" cy="67.1" r="0.8" fill="#0000ff"/><circle cx="224.7" cy="82.0" r="0.8" fill="#0000ff"/><circle cx="236.4" cy="70.1" r="0.8" fill="#0000ff"/><circle cx="220.6" cy="83.8" r="0.8" fill="#0000ff"/><circle cx="235.3" cy="59.2" r="0.8" fill="#0000ff"/><circle cx="213.8" cy="88.7" r="0.8" fill="#0000ff"/><circle cx="236.6" cy="86.5" r="0.8" fill="#0000ff"/><circle cx="230.0" cy="61.0" r="0.8" fill="#0000ff"/><circle cx="232.7" cy="85.9" r="0.8" fill="#0000ff"/><circle cx="230.9" cy="82.0" r="0.8" fill="#0000ff"/><circle cx="218.6" cy="88.4" r="0.8" fill="#0000ff"/><circle cx="236.0" cy="62.9" r="0.8" fill="#0000ff"/><circle cx="236.5" cy="79.5" r="0.8" fill="#0000ff"/><circle cx="239.2" cy="54.6" r="0.8" fill="#0000ff"/><circle cx="236.1" cy="84.3" r="0.8" fill="#0000ff"/><circle cx="229.5" cy="77.2" r="0.8" fill="#0000ff"/><circle cx="235.8" cy="67.2" r="0.8" fill="#0000ff"/><circle cx="233.1" cy="62.3" r="0.8" fill="#0000ff"/><circle cx="233.3" cy="84.7" r="0.8" fill="#0000ff"/><circle cx="236.1" cy="70.0" r="0.8" fill="#0000ff"/><circle cx="238.1" cy="60.3" r="0.8" fill="#0000ff"/><circle cx="237.3" cy="79.5" r="0.8" fill="#0000ff"/><circle cx="228.7" cy="64.2" r="0.8" fill="#0000ff"/><circle cx="229.2" cy="80.2" r="0.8" fill="#0000ff"/><circle cx="230.0" cy="71.2" r="0.8" fill="#0000ff"/><circle cx="232.6" cy="79.6" r="0.8" fill="#0000ff"/><circle cx="235.2" cy="86.4" r="0.8" fill="#0000ff"/><circle cx="227.5" cy="80.6" r="0.8" fill="#0000ff"/><circle cx="227.2" cy="68.1" r="0.8" fill="#0000ff"/><circle cx="233.9" cy="69.5" r="0.8" fill="#0000ff"/><circle cx="236.7" cy="84.1" r="0.8" fill="#0000ff"/><circle cx="240.6" cy="69.9" r="0.8" fill="#0000ff"/><circle cx="234.6" cy="62.4" r="0.8" fill="#0000ff"/><circle cx="240.7" cy="62.5" r="0.8" fill="#0000ff"/><circle cx="227.3" cy="81.9" r="0.8" fill="#0000ff"/><circle cx="240.6" cy="62.7" r="0.8" fill="#0000ff"/><circle cx="229.7" cy="70.1" r="0.8" fill="#0000ff"/><circle cx="236.0" cy="76.5" r="0.8" fill="#0000ff"/><circle cx="221.8" cy="88.0" r="0.8" fill="#0000ff"/><circle cx="229.8" cy="63.1" r="0.8" fill="#0000ff"/><circle cx="227.4" cy="75.9" r="0.8" fill="#0000ff"/><circle cx="225.6" cy="82.3" r="0.8" fill="#0000ff"/><circle cx="213.2" cy="87.5" r="0.8" fill="#0000ff"/><circle cx="232.1" cy="78.8" r="0.8" fill="#0000ff"/><circle cx="232.9" cy="54.6" r="0.8" fill="#0000ff"/><circle cx="222.3" cy="88.3" r="0.8" fill="#0000ff"/><circle cx="229.3" cy="60.7" r="0.8" fill="#0000ff"/><circle cx="223.0" cy="80.4" r="0.8" fill="#0000ff"/><circle cx="240.0" cy="86.0" r="0.8" fill="#0000ff"/><circle cx="228.9" cy="77.7" r="0.8" fill="#0000ff"/><circle cx="240.1" cy="84.9" r="0.8" fill="#0000ff"/><circle cx="237.0" cy="65.6" r="0.8" fill="#0000ff"/><circle cx="224.2" cy="85.0" r="0.8" fill="#0000ff"/><circle cx="230.8" cy="82.5" r="0.8" fill="#0000ff"/><circle cx="215.3" cy="84.8" r="0.8" fill="#0000ff"/><circle cx="233.3" cy="71.8" r="0.8" fill="#0000ff"/><circle cx="236.8" cy="79.0" r="0.8" fill="#0000ff"/><circle cx="224.2" cy="87.7" r="0.8" fill="#0000ff"/><circle cx="233.5" cy="61.3" r="0.8" fill="#0000ff"/><circle cx="232.9" cy="70.3" r="0.8" fill="#0000ff"/><circle cx="227.6" cy="87.6" r="0.8" fill="#0000ff"/><circle cx="233.0" cy="67.7" r="0.8" fill="#0000ff"/><circle cx="238.7" cy="65.3" r="0.8" fill="#0000ff"/><circle cx="237.6" cy="58.0" r="0.8" fill="#0000ff"/><circle cx="222.3" cy="76.5" r="0.8" fill="#0000ff"/><circle cx="226.0" cy="72.5" r="0.8" fill="#0000ff"/>
<polygon points="249.0,62.0 252.0,58.0 257.0,59.0 260.0,66.0 262.0,74.0 266.0,80.0 272.0,84.5 279.0,87.5 282.0,88.8 248.9,88.8" fill="#ff0000" fill-opacity="0.8"/>
<circle cx="264.8" cy="78.5" r="0.8" fill="#ff0000"/><circle cx="254.3" cy="64.8" r="0.8" fill="#ff0000"/><circle cx="256.4" cy="76.6" r="0.8" fill="#ff0000"/><circle cx="251.1" cy="78.8" r="0.8" fill="#ff0000"/><circle cx="259.1" cy="77.9" r="0.8" fill="#ff0000"/><circle cx="251.0" cy="65.6" r="0.8" fill="#ff0000"/><circle cx="249.1" cy="83.3" r="0.8" fill="#ff0000"/><circle cx="270.9" cy="87.0" r="0.8" fill="#ff0000"/><circle cx="256.1" cy="66.2" r="0.8" fill="#ff0000"/><circle cx="268.0" cy="85.0" r="0.8" fill="#ff0000"/><circle cx="254.5" cy="70.1" r="0.8" fill="#ff0000"/><circle cx="251.2" cy="81.0" r="0.8" fill="#ff0000"/><circle cx="251.2" cy="73.9" r="0.8" fill="#ff0000"/><circle cx="267.9" cy="81.6" r="0.8" fill="#ff0000"/><circle cx="251.3" cy="67.9" r="0.8" fill="#ff0000"/><circle cx="256.1" cy="68.0" r="0.8" fill="#ff0000"/><circle cx="263.5" cy="87.9" r="0.8" fill="#ff0000"/><circle cx="271.8" cy="85.6" r="0.8" fill="#ff0000"/><circle cx="263.5" cy="76.7" r="0.8" fill="#ff0000"/><circle cx="253.2" cy="83.5" r="0.8" fill="#ff0000"/><circle cx="257.0" cy="77.4" r="0.8" fill="#ff0000"/><circle cx="251.6" cy="71.6" r="0.8" fill="#ff0000"/><circle cx="262.6" cy="74.9" r="0.8" fill="#ff0000"/><circle cx="251.1" cy="59.9" r="0.8" fill="#ff0000"/><circle cx="267.1" cy="86.8" r="0.8" fill="#ff0000"/><circle cx="273.4" cy="86.6" r="0.8" fill="#ff0000"/><circle cx="253.9" cy="64.4" r="0.8" fill="#ff0000"/><circle cx="262.8" cy="83.6" r="0.8" fill="#ff0000"/><circle cx="251.6" cy="87.0" r="0.8" fill="#ff0000"/><circle cx="255.1" cy="76.1" r="0.8" fill="#ff0000"/><circle cx="256.5" cy="78.3" r="0.8" fill="#ff0000"/><circle cx="252.4" cy="88.5" r="0.8" fill="#ff0000"/><circle cx="250.6" cy="62.0" r="0.8" fill="#ff0000"/><circle cx="256.2" cy="63.9" r="0.8" fill="#ff0000"/><circle cx="275.4" cy="88.8" r="0.8" fill="#ff0000"/><circle cx="251.3" cy="63.6" r="0.8" fill="#ff0000"/><circle cx="251.4" cy="88.6" r="0.8" fill="#ff0000"/><circle cx="272.8" cy="85.2" r="0.8" fill="#ff0000"/><circle cx="249.3" cy="84.8" r="0.8" fill="#ff0000"/><circle cx="267.7" cy="88.3" r="0.8" fill="#ff0000"/><circle cx="255.4" cy="70.1" r="0.8" fill="#ff0000"/><circle cx="253.0" cy="81.5" r="0.8" fill="#ff0000"/><circle cx="268.4" cy="84.7" r="0.8" fill="#ff0000"/><circle cx="267.3" cy="82.3" r="0.8" fill="#ff0000"/><circle cx="251.2" cy="60.2" r="0.8" fill="#ff0000"/><circle cx="249.8" cy="80.6" r="0.8" fill="#ff0000"/><circle cx="273.1" cy="88.4" r="0.8" fill="#ff0000"/><circle cx="254.8" cy="69.2" r="0.8" fill="#ff0000"/><circle cx="262.8" cy="75.6" r="0.8" fill="#ff0000"/><circle cx="251.6" cy="62.2" r="0.8" fill="#ff0000"/><circle cx="254.1" cy="59.4" r="0.8" fill="#ff0000"/><circle cx="276.4" cy="88.1" r="0.8" fill="#ff0000"/><circle cx="249.3" cy="77.0" r="0.8" fill="#ff0000"/><circle cx="262.1" cy="86.7" r="0.8" fill="#ff0000"/><circle cx="263.9" cy="79.4" r="0.8" fill="#ff0000"/><circle cx="259.7" cy="81.1" r="0.8" fill="#ff0000"/><circle cx="251.7" cy="88.0" r="0.8" fill="#ff0000"/><circle cx="274.3" cy="87.5" r="0.8" fill="#ff0000"/><circle cx="259.8" cy="88.0" r="0.8" fill="#ff0000"/><circle cx="264.5" cy="80.1" r="0.8" fill="#ff0000"/><circle cx="256.8" cy="73.0" r="0.8" fill="#ff0000"/><circle cx="253.8" cy="79.4" r="0.8" fill="#ff0000"/><circle cx="255.1" cy="67.7" r="0.8" fill="#ff0000"/><circle cx="259.7" cy="68.1" r="0.8" fill="#ff0000"/><circle cx="258.6" cy="70.2" r="0.8" fill="#ff0000"/><circle cx="275.2" cy="86.4" r="0.8" fill="#ff0000"/><circle cx="263.0" cy="85.9" r="0.8" fill="#ff0000"/><circle cx="259.3" cy="73.0" r="0.8" fill="#ff0000"/><circle cx="257.2" cy="66.7" r="0.8" fill="#ff0000"/><circle cx="278.3" cy="88.4" r="0.8" fill="#ff0000"/><circle cx="253.0" cy="68.6" r="0.8" fill="#ff0000"/><circle cx="270.5" cy="87.6" r="0.8" fill="#ff0000"/><circle cx="255.1" cy="72.2" r="0.8" fill="#ff0000"/><circle cx="265.5" cy="79.4" r="0.8" fill="#ff0000"/><circle cx="256.7" cy="67.9" r="0.8" fill="#ff0000"/><circle cx="261.6" cy="88.2" r="0.8" fill="#ff0000"/><circle cx="257.2" cy="86.9" r="0.8" fill="#ff0000"/><circle cx="255.9" cy="66.5" r="0.8" fill="#ff0000"/><circle cx="260.8" cy="84.7" r="0.8" fill="#ff0000"/><circle cx="271.9" cy="85.0" r="0.8" fill="#ff0000"/><circle cx="262.1" cy="84.8" r="0.8" fill="#ff0000"/><circle cx="249.9" cy="72.0" r="0.8" fill="#ff0000"/><circle cx="274.8" cy="87.9" r="0.8" fill="#ff0000"/><circle cx="249.6" cy="74.3" r="0.8" fill="#ff0000"/><circle cx="250.6" cy="75.5" r="0.8" fill="#ff0000"/><circle cx="249.8" cy="76.9" r="0.8" fill="#ff0000"/><circle cx="255.8" cy="61.6" r="0.8" fill="#ff0000"/><circle cx="259.2" cy="76.0" r="0.8" fill="#ff0000"/><circle cx="259.3" cy="72.1" r="0.8" fill="#ff0000"/><circle cx="260.5" cy="68.4" r="0.8" fill="#ff0000"/><circle cx="262.3" cy="78.1" r="0.8" fill="#ff0000"/><circle cx="274.0" cy="85.4" r="0.8" fill="#ff0000"/><circle cx="249.6" cy="74.9" r="0.8" fill="#ff0000"/><circle cx="262.4" cy="76.3" r="0.8" fill="#ff0000"/><circle cx="249.2" cy="69.7" r="0.8" fill="#ff0000"/><circle cx="249.2" cy="63.9" r="0.8" fill="#ff0000"/><circle cx="271.4" cy="87.6" r="0.8" fill="#ff0000"/><circle cx="253.5" cy="85.4" r="0.8" fill="#ff0000"/><circle cx="266.4" cy="86.3" r="0.8" fill="#ff0000"/><circle cx="252.4" cy="66.1" r="0.8" fill="#ff0000"/><circle cx="254.8" cy="78.7" r="0.8" fill="#ff0000"/><circle cx="249.8" cy="81.0" r="0.8" fill="#ff0000"/><circle cx="251.1" cy="85.1" r="0.8" fill="#ff0000"/><circle cx="253.0" cy="60.7" r="0.8" fill="#ff0000"/><circle cx="257.2" cy="74.1" r="0.8" fill="#ff0000"/><circle cx="249.0" cy="77.8" r="0.8" fill="#ff0000"/><circle cx="252.0" cy="70.3" r="0.8" fill="#ff0000"/><circle cx="253.0" cy="71.3" r="0.8" fill="#ff0000"/><circle cx="254.8" cy="65.3" r="0.8" fill="#ff0000"/><circle cx="252.8" cy="73.8" r="0.8" fill="#ff0000"/><circle cx="251.0" cy="59.6" r="0.8" fill="#ff0000"/><circle cx="261.5" cy="77.2" r="0.8" fill="#ff0000"/><circle cx="265.2" cy="87.9" r="0.8" fill="#ff0000"/><circle cx="265.9" cy="85.8" r="0.8" fill="#ff0000"/><circle cx="254.1" cy="77.8" r="0.8" fill="#ff0000"/><circle cx="273.6" cy="86.7" r="0.8" fill="#ff0000"/><circle cx="256.8" cy="66.1" r="0.8" fill="#ff0000"/><circle cx="254.5" cy="76.2" r="0.8" fill="#ff0000"/><circle cx="256.6" cy="66.9" r="0.8" fill="#ff0000"/><circle cx="256.4" cy="82.5" r="0.8" fill="#ff0000"/><circle cx="267.4" cy="85.6" r="0.8" fill="#ff0000"/><circle cx="256.4" cy="87.9" r="0.8" fill="#ff0000"/><circle cx="258.5" cy="85.7" r="0.8" fill="#ff0000"/><circle cx="249.2" cy="85.1" r="0.8" fill="#ff0000"/><circle cx="251.7" cy="64.6" r="0.8" fill="#ff0000"/><circle cx="276.4" cy="88.1" r="0.8" fill="#ff0000"/><circle cx="249.5" cy="81.7" r="0.8" fill="#ff0000"/><circle cx="254.5" cy="68.9" r="0.8" fill="#ff0000"/><circle cx="249.9" cy="86.1" r="0.8" fill="#ff0000"/><circle cx="256.5" cy="63.2" r="0.8" fill="#ff0000"/><circle cx="250.5" cy="82.8" r="0.8" fill="#ff0000"/><circle cx="256.6" cy="83.2" r="0.8" fill="#ff0000"/><circle cx="253.6" cy="75.9" r="0.8" fill="#ff0000"/><circle cx="273.8" cy="86.7" r="0.8" fill="#ff0000"/><circle cx="252.0" cy="70.6" r="0.8" fill="#ff0000"/><circle cx="251.9" cy="85.6" r="0.8" fill="#ff0000"/><circle cx="270.3" cy="83.2" r="0.8" fill="#ff0000"/><circle cx="259.0" cy="73.8" r="0.8" fill="#ff0000"/><circle cx="249.3" cy="65.6" r="0.8" fill="#ff0000"/><circle cx="257.2" cy="85.9" r="0.8" fill="#ff0000"/><circle cx="249.2" cy="70.9" r="0.8" fill="#ff0000"/><circle cx="257.7" cy="71.1" r="0.8" fill="#ff0000"/><circle cx="260.3" cy="75.5" r="0.8" fill="#ff0000"/><circle cx="251.6" cy="72.9" r="0.8" fill="#ff0000"/><circle cx="256.1" cy="72.4" r="0.8" fill="#ff0000"/><circle cx="253.0" cy="86.0" r="0.8" fill="#ff0000"/><circle cx="256.5" cy="64.5" r="0.8" fill="#ff0000"/><circle cx="249.1" cy="73.6" r="0.8" fill="#ff0000"/><circle cx="249.4" cy="81.9" r="0.8" fill="#ff0000"/><circle cx="253.1" cy="78.2" r="0.8" fill="#ff0000"/><circle cx="252.8" cy="76.8" r="0.8" fill="#ff0000"/><circle cx="257.2" cy="87.2" r="0.8" fill="#ff0000"/><circle cx="251.1" cy="81.9" r="0.8" fill="#ff0000"/><circle cx="252.8" cy="78.9" r="0.8" fill="#ff0000"/><circle cx="251.7" cy="68.3" r="0.8" fill="#ff0000"/><circle cx="249.6" cy="62.2" r="0.8" fill="#ff0000"/><circle cx="254.0" cy="62.4" r="0.8" fill="#ff0000"/><circle cx="252.0" cy="73.5" r="0.8" fill="#ff0000"/><circle cx="265.1" cy="84.1" r="0.8" fill="#ff0000"/><circle cx="264.3" cy="82.7" r="0.8" fill="#ff0000"/><circle cx="256.2" cy="76.5" r="0.8" fill="#ff0000"/><circle cx="269.0" cy="85.8" r="0.8" fill="#ff0000"/><circle cx="253.4" cy="76.2" r="0.8" fill="#ff0000"/><circle cx="249.8" cy="77.3" r="0.8" fill="#ff0000"/><circle cx="257.7" cy="69.9" r="0.8" fill="#ff0000"/><circle cx="266.6" cy="82.0" r="0.8" fill="#ff0000"/><circle cx="250.8" cy="69.8" r="0.8" fill="#ff0000"/><circle cx="250.0" cy="70.7" r="0.8" fill="#ff0000"/><circle cx="252.8" cy="66.4" r="0.8" fill="#ff0000"/><circle cx="264.9" cy="84.3" r="0.8" fill="#ff0000"/><circle cx="253.5" cy="76.7" r="0.8" fill="#ff0000"/><circle cx="259.5" cy="69.6" r="0.8" fill="#ff0000"/><circle cx="251.1" cy="70.9" r="0.8" fill="#ff0000"/><circle cx="257.2" cy="73.5" r="0.8" fill="#ff0000"/><circle cx="252.7" cy="61.4" r="0.8" fill="#ff0000"/><circle cx="257.3" cy="67.1" r="0.8" fill="#ff0000"/><circle cx="254.6" cy="77.9" r="0.8" fill="#ff0000"/><circle cx="259.1" cy="75.8" r="0.8" fill="#ff0000"/><circle cx="258.7" cy="72.5" r="0.8" fill="#ff0000"/><circle cx="252.0" cy="73.1" r="0.8" fill="#ff0000"/><circle cx="253.6" cy="79.9" r="0.8" fill="#ff0000"/><circle cx="255.8" cy="70.8" r="0.8" fill="#ff0000"/><circle cx="250.4" cy="79.9" r="0.8" fill="#ff0000"/><circle cx="274.9" cy="86.3" r="0.8" fill="#ff0000"/><circle cx="274.8" cy="86.8" r="0.8" fill="#ff0000"/><circle cx="251.5" cy="63.8" r="0.8" fill="#ff0000"/><circle cx="267.0" cy="81.8" r="0.8" fill="#ff0000"/><circle cx="258.6" cy="76.1" r="0.8" fill="#ff0000"/><circle cx="259.0" cy="69.3" r="0.8" fill="#ff0000"/><circle cx="252.4" cy="60.8" r="0.8" fill="#ff0000"/><circle cx="253.3" cy="77.5" r="0.8" fill="#ff0000"/><circle cx="250.7" cy="66.2" r="0.8" fill="#ff0000"/><circle cx="273.6" cy="88.3" r="0.8" fill="#ff0000"/><circle cx="249.4" cy="76.8" r="0.8" fill="#ff0000"/><circle cx="249.2" cy="80.4" r="0.8" fill="#ff0000"/><circle cx="248.9" cy="87.4" r="0.8" fill="#ff0000"/><circle cx="251.2" cy="71.8" r="0.8" fill="#ff0000"/><circle cx="250.6" cy="68.7" r="0.8" fill="#ff0000"/><circle cx="263.7" cy="86.4" r="0.8" fill="#ff0000"/><circle cx="250.9" cy="87.6" r="0.8" fill="#ff0000"/><circle cx="258.4" cy="75.0" r="0.8" fill="#ff0000"/><circle cx="256.5" cy="88.0" r="0.8" fill="#ff0000"/><circle cx="258.6" cy="65.4" r="0.8" fill="#ff0000"/><circle cx="256.7" cy="69.2" r="0.8" fill="#ff0000"/><circle cx="265.5" cy="85.1" r="0.8" fill="#ff0000"/><circle cx="266.2" cy="80.4" r="0.8" fill="#ff0000"/><circle cx="253.6" cy="66.1" r="0.8" fill="#ff0000"/><circle cx="265.9" cy="88.5" r="0.8" fill="#ff0000"/><circle cx="259.5" cy="70.2" r="0.8" fill="#ff0000"/><circle cx="256.6" cy="85.8" r="0.8" fill="#ff0000"/><circle cx="260.3" cy="80.6" r="0.8" fill="#ff0000"/><circle cx="251.3" cy="79.8" r="0.8" fill="#ff0000"/><circle cx="252.9" cy="63.8" r="0.8" fill="#ff0000"/><circle cx="258.5" cy="67.7" r="0.8" fill="#ff0000"/><circle cx="252.7" cy="83.5" r="0.8" fill="#ff0000"/><circle cx="254.2" cy="75.9" r="0.8" fill="#ff0000"/><circle cx="260.8" cy="85.7" r="0.8" fill="#ff0000"/><circle cx="250.2" cy="83.5" r="0.8" fill="#ff0000"/><circle cx="255.0" cy="60.5" r="0.8" fill="#ff0000"/><circle cx="256.4" cy="75.1" r="0.8" fill="#ff0000"/><circle cx="251.3" cy="74.3" r="0.8" fill="#ff0000"/><circle cx="254.4" cy="68.1" r="0.8" fill="#ff0000"/><circle cx="271.2" cy="85.3" r="0.8" fill="#ff0000"/><circle cx="258.8" cy="86.0" r="0.8" fill="#ff0000"/><circle cx="253.1" cy="74.1" r="0.8" fill="#ff0000"/><circle cx="249.2" cy="66.7" r="0.8" fill="#ff0000"/><circle cx="250.3" cy="76.8" r="0.8" fill="#ff0000"/><circle cx="253.9" cy="80.1" r="0.8" fill="#ff0000"/><circle cx="250.8" cy="61.5" r="0.8" fill="#ff0000"/><circle cx="253.4" cy="82.5" r="0.8" fill="#ff0000"/><circle cx="254.2" cy="70.3" r="0.8" fill="#ff0000"/>
<circle cx="250.1" cy="81.3" r="0.8" fill="#ff0000"/><circle cx="267.6" cy="86.1" r="0.8" fill="#ff0000"/><circle cx="263.0" cy="87.0" r="0.8" fill="#ff0000"/><circle cx="256.1" cy="72.3" r="0.8" fill="#ff0000"/><circle cx="255.1" cy="84.0" r="0.8" fill="#ff0000"/><circle cx="255.6" cy="58.8" r="0.8" fill="#ff0000"/><circle cx="254.5" cy="71.4" r="0.8" fill="#ff0000"/><circle cx="253.1" cy="85.0" r="0.8" fill="#ff0000"/><circle cx="257.0" cy="67.6" r="0.8" fill="#ff0000"/><circle cx="263.3" cy="76.7" r="0.8" fill="#ff0000"/><circle cx="274.4" cy="81.9" r="0.8" fill="#ff0000"/><circle cx="260.3" cy="75.4" r="0.8" fill="#ff0000"/><circle cx="263.9" cy="85.7" r="0.8" fill="#ff0000"/><circle cx="258.4" cy="67.5" r="0.8" fill="#ff0000"/><circle cx="258.6" cy="79.6" r="0.8" fill="#ff0000"/><circle cx="271.5" cy="86.8" r="0.8" fill="#ff0000"/><circle cx="259.6" cy="60.9" r="0.8" fill="#ff0000"/><circle cx="260.6" cy="65.3" r="0.8" fill="#ff0000"/><circle cx="250.6" cy="60.8" r="0.8" fill="#ff0000"/><circle cx="255.1" cy="71.0" r="0.8" fill="#ff0000"/><circle cx="252.8" cy="77.2" r="0.8" fill="#ff0000"/><circle cx="265.5" cy="80.4" r="0.8" fill="#ff0000"/><circle cx="250.0" cy="84.7" r="0.8" fill="#ff0000"/><circle cx="252.8" cy="56.3" r="0.8" fill="#ff0000"/><circle cx="256.0" cy="59.4" r="0.8" fill="#ff0000"/><circle cx="252.0" cy="86.6" r="0.8" fill="#ff0000"/><circle cx="250.7" cy="81.9" r="0.8" fill="#ff0000"/><circle cx="269.7" cy="88.6" r="0.8" fill="#ff0000"/><circle cx="253.3" cy="70.2" r="0.8" fill="#ff0000"/><circle cx="255.7" cy="64.9" r="0.8" fill="#ff0000"/><circle cx="252.2" cy="78.2" r="0.8" fill="#ff0000"/><circle cx="262.5" cy="87.1" r="0.8" fill="#ff0000"/><circle cx="275.7" cy="85.2" r="0.8" fill="#ff0000"/><circle cx="248.9" cy="66.7" r="0.8" fill="#ff0000"/><circle cx="257.9" cy="69.8" r="0.8" fill="#ff0000"/><circle cx="251.7" cy="63.0" r="0.8" fill="#ff0000"/><circle cx="260.9" cy="58.7" r="0.8" fill="#ff0000"/><circle cx="249.5" cy="61.1" r="0.8" fill="#ff0000"/><circle cx="249.3" cy="70.1" r="0.8" fill="#ff0000"/><circle cx="251.6" cy="75.9" r="0.8" fill="#ff0000"/><circle cx="249.7" cy="84.4" r="0.8" fill="#ff0000"/><circle cx="259.1" cy="77.7" r="0.8" fill="#ff0000"/><circle cx="258.9" cy="68.9" r="0.8" fill="#ff0000"/><circle cx="274.1" cy="83.0" r="0.8" fill="#ff0000"/><circle cx="250.4" cy="62.2" r="0.8" fill="#ff0000"/><circle cx="256.8" cy="60.4" r="0.8" fill="#ff0000"/><circle cx="259.7" cy="79.3" r="0.8" fill="#ff0000"/><circle cx="257.8" cy="84.1" r="0.8" fill="#ff0000"/><circle cx="256.0" cy="62.8" r="0.8" fill="#ff0000"/><circle cx="249.3" cy="74.3" r="0.8" fill="#ff0000"/><circle cx="263.7" cy="83.8" r="0.8" fill="#ff0000"/><circle cx="261.7" cy="77.3" r="0.8" fill="#ff0000"/><circle cx="249.9" cy="78.0" r="0.8" fill="#ff0000"/><circle cx="265.4" cy="82.6" r="0.8" fill="#ff0000"/><circle cx="273.7" cy="84.8" r="0.8" fill="#ff0000"/><circle cx="249.9" cy="73.8" r="0.8" fill="#ff0000"/><circle cx="263.5" cy="82.3" r="0.8" fill="#ff0000"/><circle cx="255.0" cy="65.5" r="0.8" fill="#ff0000"/><circle cx="267.5" cy="86.7" r="0.8" fill="#ff0000"/><circle cx="249.6" cy="80.1" r="0.8" fill="#ff0000"/><circle cx="249.9" cy="57.8" r="0.8" fill="#ff0000"/><circle cx="270.2" cy="86.2" r="0.8" fill="#ff0000"/><circle cx="255.3" cy="58.0" r="0.8" fill="#ff0000"/><circle cx="249.9" cy="79.1" r="0.8" fill="#ff0000"/><circle cx="256.7" cy="69.1" r="0.8" fill="#ff0000"/><circle cx="250.1" cy="63.2" r="0.8" fill="#ff0000"/><circle cx="249.0" cy="59.5" r="0.8" fill="#ff0000"/><circle cx="253.6" cy="53.3" r="0.8" fill="#ff0000"/><circle cx="272.3" cy="87.8" r="0.8" fill="#ff0000"/><circle cx="251.3" cy="66.0" r="0.8" fill="#ff0000"/><circle cx="252.1" cy="84.2" r="0.8" fill="#ff0000"/><circle cx="250.5" cy="86.9" r="0.8" fill="#ff0000"/><circle cx="281.5" cy="87.6" r="0.8" fill="#ff0000"/><circle cx="254.7" cy="61.2" r="0.8" fill="#ff0000"/><circle cx="266.8" cy="84.4" r="0.8" fill="#ff0000"/><circle cx="262.9" cy="69.7" r="0.8" fill="#ff0000"/><circle cx="251.4" cy="74.5" r="0.8" fill="#ff0000"/><circle cx="266.1" cy="72.6" r="0.8" fill="#ff0000"/><circle cx="282.5" cy="83.9" r="0.8" fill="#ff0000"/><circle cx="256.8" cy="84.9" r="0.8" fill="#ff0000"/><circle cx="252.9" cy="82.8" r="0.8" fill="#ff0000"/><circle cx="252.0" cy="72.7" r="0.8" fill="#ff0000"/><circle cx="255.3" cy="75.3" r="0.8" fill="#ff0000"/><circle cx="258.2" cy="82.2" r="0.8" fill="#ff0000"/><circle cx="250.4" cy="66.6" r="0.8" fill="#ff0000"/><circle cx="256.4" cy="81.3" r="0.8" fill="#ff0000"/><circle cx="256.9" cy="81.2" r="0.8" fill="#ff0000"/><circle cx="257.1" cy="66.5" r="0.8" fill="#ff0000"/><circle cx="259.3" cy="65.4" r="0.8" fill="#ff0000"/><circle cx="250.7" cy="84.0" r="0.8" fill="#ff0000"/><circle cx="277.0" cy="83.1" r="0.8" fill="#ff0000"/><circle cx="283.5" cy="87.0" r="0.8" fill="#ff0000"/><circle cx="251.0" cy="74.9" r="0.8" fill="#ff0000"/><circle cx="253.1" cy="72.5" r="0.8" fill="#ff0000"/><circle cx="253.1" cy="63.7" r="0.8" fill="#ff0000"/><circle cx="253.5" cy="66.5" r="0.8" fill="#ff0000"/><circle cx="250.3" cy="64.8" r="0.8" fill="#ff0000"/><circle cx="262.2" cy="78.9" r="0.8" fill="#ff0000"/><circle cx="257.8" cy="66.4" r="0.8" fill="#ff0000"/><circle cx="276.6" cy="87.4" r="0.8" fill="#ff0000"/><circle cx="262.2" cy="88.8" r="0.8" fill="#ff0000"/><circle cx="270.6" cy="84.7" r="0.8" fill="#ff0000"/><circle cx="254.0" cy="56.7" r="0.8" fill="#ff0000"/><circle cx="266.8" cy="85.8" r="0.8" fill="#ff0000"/><circle cx="251.3" cy="75.3" r="0.8" fill="#ff0000"/><circle cx="255.9" cy="76.3" r="0.8" fill="#ff0000"/><circle cx="259.6" cy="70.3" r="0.8" fill="#ff0000"/><circle cx="249.7" cy="75.7" r="0.8" fill="#ff0000"/><circle cx="255.7" cy="83.1" r="0.8" fill="#ff0000"/><circle cx="263.7" cy="76.0" r="0.8" fill="#ff0000"/><circle cx="269.7" cy="82.4" r="0.8" fill="#ff0000"/><circle cx="256.3" cy="68.8" r="0.8" fill="#ff0000"/><circle cx="259.5" cy="87.3" r="0.8" fill="#ff0000"/><circle cx="252.4" cy="49.6" r="0.8" fill="#ff0000"/><circle cx="253.8" cy="76.1" r="0.8" fill="#ff0000"/><circle cx="260.2" cy="68.8" r="0.8" fill="#ff0000"/><circle cx="251.1" cy="77.5" r="0.8" fill="#ff0000"/><circle cx="255.0" cy="62.8" r="0.8" fill="#ff0000"/><circle cx="260.4" cy="75.4" r="0.8" fill="#ff0000"/><circle cx="253.5" cy="85.2" r="0.8" fill="#ff0000"/><circle cx="251.5" cy="57.7" r="0.8" fill="#ff0000"/><circle cx="267.3" cy="87.2" r="0.8" fill="#ff0000"/><circle cx="259.1" cy="82.4" r="0.8" fill="#ff0000"/><circle cx="256.2" cy="65.8" r="0.8" fill="#ff0000"/><circle cx="274.5" cy="88.3" r="0.8" fill="#ff0000"/><circle cx="250.2" cy="69.5" r="0.8" fill="#ff0000"/><circle cx="278.8" cy="82.0" r="0.8" fill="#ff0000"/><circle cx="258.9" cy="79.6" r="0.8" fill="#ff0000"/><circle cx="249.3" cy="79.4" r="0.8" fill="#ff0000"/><circle cx="267.6" cy="84.1" r="0.8" fill="#ff0000"/><circle cx="253.3" cy="82.3" r="0.8" fill="#ff0000"/><circle cx="263.4" cy="81.5" r="0.8" fill="#ff0000"/><circle cx="250.8" cy="87.1" r="0.8" fill="#ff0000"/><circle cx="251.6" cy="77.2" r="0.8" fill="#ff0000"/><circle cx="278.5" cy="88.2" r="0.8" fill="#ff0000"/><circle cx="255.5" cy="70.8" r="0.8" fill="#ff0000"/><circle cx="267.2" cy="74.9" r="0.8" fill="#ff0000"/><circle cx="256.7" cy="68.2" r="0.8" fill="#ff0000"/><circle cx="255.3" cy="58.6" r="0.8" fill="#ff0000"/><circle cx="254.2" cy="70.1" r="0.8" fill="#ff0000"/><circle cx="251.2" cy="61.0" r="0.8" fill="#ff0000"/><circle cx="255.0" cy="75.1" r="0.8" fill="#ff0000"/><circle cx="250.6" cy="69.4" r="0.8" fill="#ff0000"/><circle cx="253.2" cy="59.6" r="0.8" fill="#ff0000"/><circle cx="255.8" cy="68.0" r="0.8" fill="#ff0000"/><circle cx="249.4" cy="74.2" r="0.8" fill="#ff0000"/><circle cx="261.1" cy="59.1" r="0.8" fill="#ff0000"/><circle cx="261.0" cy="67.9" r="0.8" fill="#ff0000"/><circle cx="274.7" cy="86.4" r="0.8" fill="#ff0000"/><circle cx="258.8" cy="74.4" r="0.8" fill="#ff0000"/><circle cx="261.0" cy="77.2" r="0.8" fill="#ff0000"/><circle cx="260.4" cy="65.5" r="0.8" fill="#ff0000"/><circle cx="256.4" cy="77.8" r="0.8" fill="#ff0000"/><circle cx="259.2" cy="79.2" r="0.8" fill="#ff0000"/><circle cx="250.3" cy="72.5" r="0.8" fill="#ff0000"/><circle cx="250.7" cy="74.8" r="0.8" fill="#ff0000"/><circle cx="253.1" cy="61.9" r="0.8" fill="#ff0000"/><circle cx="265.0" cy="82.0" r="0.8" fill="#ff0000"/><circle cx="254.8" cy="69.1" r="0.8" fill="#ff0000"/><circle cx="262.3" cy="88.3" r="0.8" fill="#ff0000"/><circle cx="254.4" cy="81.5" r="0.8" fill="#ff0000"/><circle cx="256.7" cy="75.7" r="0.8" fill="#ff0000"/><circle cx="258.0" cy="88.6" r="0.8" fill="#ff0000"/><circle cx="271.2" cy="77.5" r="0.8" fill="#ff0000"/><circle cx="264.8" cy="88.0" r="0.8" fill="#ff0000"/><circle cx="260.6" cy="72.0" r="0.8" fill="#ff0000"/><circle cx="251.5" cy="62.3" r="0.8" fill="#ff0000"/><circle cx="263.8" cy="74.2" r="0.8" fill="#ff0000"/><circle cx="250.4" cy="87.4" r="0.8" fill="#ff0000"/><circle cx="250.6" cy="65.8" r="0.8" fill="#ff0000"/><circle cx="263.5" cy="59.6" r="0.8" fill="#ff0000"/><circle cx="256.5" cy="58.7" r="0.8" fill="#ff0000"/><circle cx="282.1" cy="85.7" r="0.8" fill="#ff0000"/><circle cx="262.5" cy="78.1" r="0.8" fill="#ff0000"/><circle cx="270.4" cy="86.1" r="0.8" fill="#ff0000"/><circle cx="252.7" cy="59.3" r="0.8" fill="#ff0000"/><circle cx="271.2" cy="74.7" r="0.8" fill="#ff0000"/><circle cx="270.8" cy="87.1" r="0.8" fill="#ff0000"/><circle cx="260.1" cy="70.2" r="0.8" fill="#ff0000"/><circle cx="260.6" cy="68.1" r="0.8" fill="#ff0000"/><circle cx="253.3" cy="62.8" r="0.8" fill="#ff0000"/><circle cx="249.5" cy="68.5" r="0.8" fill="#ff0000"/><circle cx="259.1" cy="84.2" r="0.8" fill="#ff0000"/><circle cx="261.0" cy="66.6" r="0.8" fill="#ff0000"/><circle cx="269.8" cy="87.5" r="0.8" fill="#ff0000"/><circle cx="270.6" cy="81.2" r="0.8" fill="#ff0000"/><circle cx="255.0" cy="59.3" r="0.8" fill="#ff0000"/><circle cx="275.9" cy="88.7" r="0.8" fill="#ff0000"/><circle cx="280.6" cy="82.8" r="0.8" fill="#ff0000"/><circle cx="263.3" cy="79.7" r="0.8" fill="#ff0000"/><circle cx="260.3" cy="82.4" r="0.8" fill="#ff0000"/><circle cx="267.8" cy="80.9" r="0.8" fill="#ff0000"/><circle cx="263.7" cy="85.7" r="0.8" fill="#ff0000"/><circle cx="260.3" cy="62.9" r="0.8" fill="#ff0000"/><circle cx="256.8" cy="63.7" r="0.8" fill="#ff0000"/><circle cx="279.4" cy="88.0" r="0.8" fill="#ff0000"/><circle cx="282.2" cy="87.6" r="0.8" fill="#ff0000"/><circle cx="251.7" cy="84.0" r="0.8" fill="#ff0000"/><circle cx="257.7" cy="75.5" r="0.8" fill="#ff0000"/><circle cx="262.1" cy="64.7" r="0.8" fill="#ff0000"/><circle cx="251.6" cy="61.2" r="0.8" fill="#ff0000"/><circle cx="261.8" cy="78.1" r="0.8" fill="#ff0000"/><circle cx="273.1" cy="86.9" r="0.8" fill="#ff0000"/><circle cx="252.1" cy="63.7" r="0.8" fill="#ff0000"/><circle cx="270.3" cy="80.3" r="0.8" fill="#ff0000"/><circle cx="267.9" cy="75.0" r="0.8" fill="#ff0000"/><circle cx="264.6" cy="82.8" r="0.8" fill="#ff0000"/><circle cx="253.7" cy="64.6" r="0.8" fill="#ff0000"/><circle cx="251.0" cy="80.3" r="0.8" fill="#ff0000"/><circle cx="284.4" cy="88.4" r="0.8" fill="#ff0000"/><circle cx="250.3" cy="68.7" r="0.8" fill="#ff0000"/><circle cx="254.3" cy="70.2" r="0.8" fill="#ff0000"/><circle cx="255.7" cy="57.2" r="0.8" fill="#ff0000"/><circle cx="252.5" cy="63.8" r="0.8" fill="#ff0000"/><circle cx="250.5" cy="70.6" r="0.8" fill="#ff0000"/><circle cx="264.3" cy="79.0" r="0.8" fill="#ff0000"/><circle cx="258.5" cy="65.5" r="0.8" fill="#ff0000"/><circle cx="251.7" cy="61.6" r="0.8" fill="#ff0000"/><circle cx="250.7" cy="80.3" r="0.8" fill="#ff0000"/><circle cx="271.4" cy="87.9" r="0.8" fill="#ff0000"/><circle cx="250.6" cy="68.5" r="0.8" fill="#ff0000"/><circle cx="256.9" cy="51.4" r="0.8" fill="#ff0000"/><circle cx="259.3" cy="67.6" r="0.8" fill="#ff0000"/><circle cx="252.2" cy="79.7" r="0.8" fill="#ff0000"/><circle cx="261.0" cy="79.3" r="0.8" fill="#ff0000"/><circle cx="256.3" cy="86.6" r="0.8" fill="#ff0000"/><circle cx="272.9" cy="75.3" r="0.8" fill="#ff0000"/><circle cx="262.4" cy="80.7" r="0.8" fill="#ff0000"/><circle cx="249.3" cy="84.3" r="0.8" fill="#ff0000"/><circle cx="273.6" cy="88.3" r="0.8" fill="#ff0000"/><circle cx="251.2" cy="74.4" r="0.8" fill="#ff0000"/><circle cx="260.4" cy="71.6" r="0.8" fill="#ff0000"/><circle cx="250.0" cy="82.6" r="0.8" fill="#ff0000"/><circle cx="253.3" cy="87.8" r="0.8" fill="#ff0000"/><circle cx="265.6" cy="80.4" r="0.8" fill="#ff0000"/><circle cx="263.9" cy="85.4" r="0.8" fill="#ff0000"/><circle cx="251.6" cy="77.5" r="0.8" fill="#ff0000"/><circle cx="249.8" cy="73.6" r="0.8" fill="#ff0000"/><circle cx="268.3" cy="81.4" r="0.8" fill="#ff0000"/><circle cx="260.8" cy="69.8" r="0.8" fill="#ff0000"/><circle cx="261.8" cy="76.4" r="0.8" fill="#ff0000"/><circle cx="250.4" cy="72.0" r="0.8" fill="#ff0000"/><circle cx="260.5" cy="87.9" r="0.8" fill="#ff0000"/><circle cx="271.6" cy="85.9" r="0.8" fill="#ff0000"/><circle cx="256.6" cy="75.1" r="0.8" fill="#ff0000"/><circle cx="249.0" cy="70.2" r="0.8" fill="#ff0000"/><circle cx="275.0" cy="85.2" r="0.8" fill="#ff0000"/><circle cx="254.9" cy="74.0" r="0.8" fill="#ff0000"/><circle cx="261.9" cy="83.7" r="0.8" fill="#ff0000"/><circle cx="255.6" cy="87.1" r="0.8" fill="#ff0000"/><circle cx="258.9" cy="71.7" r="0.8" fill="#ff0000"/><circle cx="254.1" cy="65.0" r="0.8" fill="#ff0000"/><circle cx="262.7" cy="88.3" r="0.8" fill="#ff0000"/><circle cx="260.0" cy="86.9" r="0.8" fill="#ff0000"/><circle cx="258.7" cy="80.5" r="0.8" fill="#ff0000"/><circle cx="255.7" cy="71.6" r="0.8" fill="#ff0000"/><circle cx="252.1" cy="86.4" r="0.8" fill="#ff0000"/><circle cx="256.3" cy="55.6" r="0.8" fill="#ff0000"/><circle cx="256.3" cy="62.0" r="0.8" fill="#ff0000"/><circle cx="253.8" cy="87.7" r="0.8" fill="#ff0000"/><circle cx="257.4" cy="60.6" r="0.8" fill="#ff0000"/><circle cx="275.2" cy="88.8" r="0.8" fill="#ff0000"/><circle cx="252.8" cy="79.8" r="0.8" fill="#ff0000"/><circle cx="252.6" cy="88.7" r="0.8" fill="#ff0000"/><circle cx="255.0" cy="54.3" r="0.8" fill="#ff0000"/><circle cx="255.1" cy="85.6" r="0.8" fill="#ff0000"/><circle cx="264.1" cy="68.8" r="0.8" fill="#ff0000"/><circle cx="250.6" cy="87.2" r="0.8" fill="#ff0000"/><circle cx="260.6" cy="80.1" r="0.8" fill="#ff0000"/><circle cx="255.4" cy="77.4" r="0.8" fill="#ff0000"/><circle cx="259.3" cy="73.4" r="0.8" fill="#ff0000"/><circle cx="255.5" cy="78.0" r="0.8" fill="#ff0000"/><circle cx="261.1" cy="70.9" r="0.8" fill="#ff0000"/><circle cx="249.6" cy="64.1" r="0.8" fill="#ff0000"/><circle cx="256.4" cy="79.5" r="0.8" fill="#ff0000"/><circle cx="257.3" cy="75.6" r="0.8" fill="#ff0000"/><circle cx="265.5" cy="63.0" r="0.8" fill="#ff0000"/><circle cx="259.8" cy="82.7" r="0.8" fill="#ff0000"/><circle cx="262.8" cy="59.4" r="0.8" fill="#ff0000"/><circle cx="267.7" cy="88.2" r="0.8" fill="#ff0000"/><circle cx="264.0" cy="88.4" r="0.8" fill="#ff0000"/><circle cx="265.5" cy="81.4" r="0.8" fill="#ff0000"/><circle cx="266.3" cy="62.9" r="0.8" fill="#ff0000"/><circle cx="260.2" cy="75.6" r="0.8" fill="#ff0000"/><circle cx="254.0" cy="81.2" r="0.8" fill="#ff0000"/><circle cx="252.2" cy="75.6" r="0.8" fill="#ff0000"/><circle cx="274.9" cy="85.5" r="0.8" fill="#ff0000"/><circle cx="269.3" cy="79.8" r="0.8" fill="#ff0000"/><circle cx="269.2" cy="82.6" r="0.8" fill="#ff0000"/><circle cx="266.3" cy="79.5" r="0.8" fill="#ff0000"/><circle cx="253.7" cy="87.9" r="0.8" fill="#ff0000"/><circle cx="253.1" cy="88.2" r="0.8" fill="#ff0000"/><circle cx="256.5" cy="80.3" r="0.8" fill="#ff0000"/><circle cx="266.8" cy="65.0" r="0.8" fill="#ff0000"/><circle cx="260.7" cy="65.1" r="0.8" fill="#ff0000"/><circle cx="265.5" cy="85.7" r="0.8" fill="#ff0000"/><circle cx="256.2" cy="85.4" r="0.8" fill="#ff0000"/><circle cx="253.2" cy="65.8" r="0.8" fill="#ff0000"/><circle cx="265.4" cy="86.5" r="0.8" fill="#ff0000"/><circle cx="258.8" cy="70.6" r="0.8" fill="#ff0000"/><circle cx="281.5" cy="87.5" r="0.8" fill="#ff0000"/><circle cx="263.8" cy="74.6" r="0.8" fill="#ff0000"/><circle cx="263.4" cy="83.7" r="0.8" fill="#ff0000"/><circle cx="265.0" cy="87.4" r="0.8" fill="#ff0000"/><circle cx="272.8" cy="88.6" r="0.8" fill="#ff0000"/><circle cx="251.0" cy="69.2" r="0.8" fill="#ff0000"/><circle cx="251.7" cy="59.4" r="0.8" fill="#ff0000"/><circle cx="249.7" cy="81.8" r="0.8" fill="#ff0000"/><circle cx="261.5" cy="60.2" r="0.8" fill="#ff0000"/><circle cx="258.8" cy="71.5" r="0.8" fill="#ff0000"/><circle cx="259.7" cy="67.5" r="0.8" fill="#ff0000"/><circle cx="264.0" cy="87.9" r="0.8" fill="#ff0000"/><circle cx="262.5" cy="77.7" r="0.8" fill="#ff0000"/><circle cx="249.0" cy="75.0" r="0.8" fill="#ff0000"/><circle cx="254.8" cy="57.5" r="0.8" fill="#ff0000"/><circle cx="252.9" cy="84.0" r="0.8" fill="#ff0000"/><circle cx="261.0" cy="84.1" r="0.8" fill="#ff0000"/><circle cx="256.3" cy="67.1" r="0.8" fill="#ff0000"/><circle cx="252.5" cy="60.9" r="0.8" fill="#ff0000"/><circle cx="253.6" cy="60.6" r="0.8" fill="#ff0000"/><circle cx="251.9" cy="59.6" r="0.8" fill="#ff0000"/><circle cx="261.9" cy="78.1" r="0.8" fill="#ff0000"/><circle cx="249.1" cy="71.3" r="0.8" fill="#ff0000"/><circle cx="264.8" cy="83.3" r="0.8" fill="#ff0000"/><circle cx="249.6" cy="83.6" r="0.8" fill="#ff0000"/><circle cx="258.8" cy="65.3" r="0.8" fill="#ff0000"/><circle cx="256.2" cy="72.4" r="0.8" fill="#ff0000"/><circle cx="255.7" cy="59.4" r="0.8" fill="#ff0000"/><circle cx="262.4" cy="79.9" r="0.8" fill="#ff0000"/><circle cx="280.9" cy="86.0" r="0.8" fill="#ff0000"/><circle cx="253.2" cy="88.7" r="0.8" fill="#ff0000"/><circle cx="252.2" cy="76.3" r="0.8" fill="#ff0000"/><circle cx="260.7" cy="75.2" r="0.8" fill="#ff0000"/><circle cx="249.6" cy="78.8" r="0.8" fill="#ff0000"/><circle cx="256.5" cy="72.3" r="0.8" fill="#ff0000"/><circle cx="257.3" cy="53.5" r="0.8" fill="#ff0000"/><circle cx="252.2" cy="54.2" r="0.8" fill="#ff0000"/><circle cx="257.9" cy="55.1" r="0.8" fill="#ff0000"/><circle cx="252.7" cy="84.4" r="0.8" fill="#ff0000"/><circle cx="264.0" cy="71.4" r="0.8" fill="#ff0000"/><circle cx="259.9" cy="88.1" r="0.8" fill="#ff0000"/><circle cx="279.2" cy="84.5" r="0.8" fill="#ff0000"/><circle cx="260.1" cy="71.6" r="0.8" fill="#ff0000"/><circle cx="251.0" cy="69.7" r="0.8" fill="#ff0000"/><circle cx="255.3" cy="66.1" r="0.8" fill="#ff0000"/><circle cx="251.4" cy="84.6" r="0.8" fill="#ff0000"/><circle cx="266.6" cy="83.3" r="0.8" fill="#ff0000"/><circle cx="255.0" cy="60.7" r="0.8" fill="#ff0000"/><circle cx="252.3" cy="87.8" r="0.8" fill="#ff0000"/><circle cx="251.2" cy="68.8" r="0.8" fill="#ff0000"/><circle cx="255.9" cy="60.2" r="0.8" fill="#ff0000"/><circle cx="253.1" cy="76.8" r="0.8" fill="#ff0000"/><circle cx="258.1" cy="55.9" r="0.8" fill="#ff0000"/><circle cx="254.0" cy="70.1" r="0.8" fill="#ff0000"/><circle cx="267.7" cy="78.4" r="0.8" fill="#ff0000"/><circle cx="255.9" cy="83.9" r="0.8" fill="#ff0000"/><circle cx="260.4" cy="73.5" r="0.8" fill="#ff0000"/><circle cx="263.8" cy="65.0" r="0.8" fill="#ff0000"/><circle cx="255.6" cy="74.9" r="0.8" fill="#ff0000"/><circle cx="255.5" cy="69.6" r="0.8" fill="#ff0000"/><circle cx="259.6" cy="73.5" r="0.8" fill="#ff0000"/><circle cx="280.6" cy="88.6" r="0.8" fill="#ff0000"/><circle cx="262.7" cy="76.7" r="0.8" fill="#ff0000"/><circle cx="253.9" cy="82.5" r="0.8" fill="#ff0000"/><circle cx="252.4" cy="76.2" r="0.8" fill="#ff0000"/><circle cx="282.2" cy="82.6" r="0.8" fill="#ff0000"/><circle cx="249.5" cy="69.0" r="0.8" fill="#ff0000"/><circle cx="249.1" cy="53.3" r="0.8" fill="#ff0000"/><circle cx="255.7" cy="61.6" r="0.8" fill="#ff0000"/><circle cx="260.7" cy="82.8" r="0.8" fill="#ff0000"/><circle cx="255.7" cy="86.9" r="0.8" fill="#ff0000"/><circle cx="256.3" cy="83.2" r="0.8" fill="#ff0000"/><circle cx="270.1" cy="79.8" r="0.8" fill="#ff0000"/><circle cx="265.0" cy="64.3" r="0.8" fill="#ff0000"/><circle cx="257.1" cy="78.5" r="0.8" fill="#ff0000"/><circle cx="261.9" cy="83.9" r="0.8" fill="#ff0000"/><circle cx="255.5" cy="75.0" r="0.8" fill="#ff0000"/><circle cx="250.6" cy="52.4" r="0.8" fill="#ff0000"/><circle cx="256.1" cy="82.5" r="0.8" fill="#ff0000"/><circle cx="264.6" cy="83.7" r="0.8" fill="#ff0000"/><circle cx="259.9" cy="76.2" r="0.8" fill="#ff0000"/><circle cx="257.6" cy="74.0" r="0.8" fill="#ff0000"/><circle cx="264.6" cy="88.7" r="0.8" fill="#ff0000"/><circle cx="259.2" cy="69.4" r="0.8" fill="#ff0000"/><circle cx="254.2" cy="78.1" r="0.8" fill="#ff0000"/><circle cx="254.4" cy="65.3" r="0.8" fill="#ff0000"/><circle cx="277.2" cy="85.7" r="0.8" fill="#ff0000"/><circle cx="256.9" cy="59.2" r="0.8" fill="#ff0000"/><circle cx="252.0" cy="61.5" r="0.8" fill="#ff0000"/><circle cx="256.1" cy="63.5" r="0.8" fill="#ff0000"/><circle cx="281.1" cy="83.1" r="0.8" fill="#ff0000"/><circle cx="249.3" cy="72.8" r="0.8" fill="#ff0000"/><circle cx="264.2" cy="88.7" r="0.8" fill="#ff0000"/>
<circle cx="230.5" cy="19.2" r="0.8" fill="#0000ff"/><circle cx="232.7" cy="20.2" r="0.8" fill="#0000ff"/><circle cx="228.5" cy="24.7" r="0.8" fill="#0000ff"/><circle cx="231.2" cy="26.6" r="0.8" fill="#0000ff"/><circle cx="229.7" cy="28.7" r="0.8" fill="#0000ff"/><circle cx="231.9" cy="29.1" r="0.8" fill="#0000ff"/><circle cx="233.4" cy="29.1" r="0.8" fill="#0000ff"/><circle cx="235.4" cy="28.8" r="0.8" fill="#0000ff"/><circle cx="225.6" cy="29.9" r="0.8" fill="#0000ff"/><circle cx="231.5" cy="31.6" r="0.8" fill="#0000ff"/><circle cx="230.5" cy="33.1" r="0.8" fill="#0000ff"/><circle cx="234.9" cy="37.0" r="0.8" fill="#0000ff"/><circle cx="233.4" cy="38.0" r="0.8" fill="#0000ff"/><circle cx="230.5" cy="39.1" r="0.8" fill="#0000ff"/><circle cx="231.9" cy="38.8" r="0.8" fill="#0000ff"/><circle cx="229.0" cy="41.7" r="0.8" fill="#0000ff"/><circle cx="232.7" cy="41.0" r="0.8" fill="#0000ff"/><circle cx="234.9" cy="41.4" r="0.8" fill="#0000ff"/><circle cx="236.4" cy="42.0" r="0.8" fill="#0000ff"/><circle cx="232.7" cy="43.2" r="0.8" fill="#0000ff"/><circle cx="235.7" cy="44.0" r="0.8" fill="#0000ff"/><circle cx="221.5" cy="48.0" r="0.8" fill="#0000ff"/><circle cx="230.5" cy="47.0" r="0.8" fill="#0000ff"/><circle cx="231.9" cy="48.4" r="0.8" fill="#0000ff"/><circle cx="234.2" cy="47.7" r="0.8" fill="#0000ff"/><circle cx="235.7" cy="47.0" r="0.8" fill="#0000ff"/><circle cx="227.5" cy="52.9" r="0.8" fill="#0000ff"/><circle cx="226.7" cy="54.8" r="0.8" fill="#0000ff"/><circle cx="229.0" cy="53.6" r="0.8" fill="#0000ff"/><circle cx="220.8" cy="55.9" r="0.8" fill="#0000ff"/><circle cx="220.1" cy="59.3" r="0.8" fill="#0000ff"/><circle cx="220.5" cy="55.8" r="0.8" fill="#0000ff"/><circle cx="214.5" cy="65.0" r="0.8" fill="#0000ff"/><circle cx="220.8" cy="59.7" r="0.8" fill="#0000ff"/><circle cx="222.9" cy="60.4" r="0.8" fill="#0000ff"/><circle cx="224.9" cy="61.1" r="0.8" fill="#0000ff"/><circle cx="219.4" cy="62.5" r="0.8" fill="#0000ff"/><circle cx="224.2" cy="65.0" r="0.8" fill="#0000ff"/><circle cx="224.9" cy="65.9" r="0.8" fill="#0000ff"/><circle cx="219.4" cy="73.5" r="0.8" fill="#0000ff"/><circle cx="220.8" cy="74.9" r="0.8" fill="#0000ff"/><circle cx="218.0" cy="77.7" r="0.8" fill="#0000ff"/><circle cx="222.2" cy="79.1" r="0.8" fill="#0000ff"/><circle cx="224.2" cy="75.6" r="0.8" fill="#0000ff"/><circle cx="207.6" cy="82.1" r="0.8" fill="#0000ff"/><circle cx="210.4" cy="83.9" r="0.8" fill="#0000ff"/><circle cx="211.1" cy="85.3" r="0.8" fill="#0000ff"/><circle cx="216.6" cy="80.5" r="0.8" fill="#0000ff"/><circle cx="218.7" cy="82.5" r="0.8" fill="#0000ff"/><circle cx="227.0" cy="53.5" r="0.8" fill="#0000ff"/><circle cx="226.3" cy="55.5" r="0.8" fill="#0000ff"/><circle cx="238.0" cy="36.0" r="0.8" fill="#0000ff"/><circle cx="237.0" cy="33.0" r="0.8" fill="#0000ff"/><circle cx="239.0" cy="40.0" r="0.8" fill="#0000ff"/>
<circle cx="262.8" cy="21.2" r="0.8" fill="#ff0000"/><circle cx="266.5" cy="24.7" r="0.8" fill="#ff0000"/><circle cx="262.8" cy="26.6" r="0.8" fill="#ff0000"/><circle cx="264.0" cy="26.1" r="0.8" fill="#ff0000"/><circle cx="270.0" cy="28.1" r="0.8" fill="#ff0000"/><circle cx="258.1" cy="30.2" r="0.8" fill="#ff0000"/><circle cx="260.6" cy="29.6" r="0.8" fill="#ff0000"/><circle cx="262.1" cy="32.5" r="0.8" fill="#ff0000"/><circle cx="262.8" cy="34.3" r="0.8" fill="#ff0000"/><circle cx="256.9" cy="37.0" r="0.8" fill="#ff0000"/><circle cx="259.1" cy="36.1" r="0.8" fill="#ff0000"/><circle cx="261.3" cy="38.8" r="0.8" fill="#ff0000"/><circle cx="262.1" cy="40.3" r="0.8" fill="#ff0000"/><circle cx="261.3" cy="41.7" r="0.8" fill="#ff0000"/><circle cx="258.4" cy="42.9" r="0.8" fill="#ff0000"/><circle cx="259.9" cy="43.2" r="0.8" fill="#ff0000"/><circle cx="267.0" cy="45.0" r="0.8" fill="#ff0000"/><circle cx="253.6" cy="46.5" r="0.8" fill="#ff0000"/><circle cx="260.6" cy="47.4" r="0.8" fill="#ff0000"/><circle cx="259.1" cy="48.4" r="0.8" fill="#ff0000"/><circle cx="255.4" cy="49.5" r="0.8" fill="#ff0000"/><circle cx="256.9" cy="49.2" r="0.8" fill="#ff0000"/><circle cx="258.7" cy="50.7" r="0.8" fill="#ff0000"/><circle cx="251.7" cy="51.4" r="0.8" fill="#ff0000"/><circle cx="254.7" cy="50.7" r="0.8" fill="#ff0000"/><circle cx="272.9" cy="51.4" r="0.8" fill="#ff0000"/><circle cx="261.3" cy="52.1" r="0.8" fill="#ff0000"/><circle cx="256.1" cy="53.6" r="0.8" fill="#ff0000"/><circle cx="257.6" cy="54.8" r="0.8" fill="#ff0000"/><circle cx="265.8" cy="54.8" r="0.8" fill="#ff0000"/><circle cx="268.5" cy="54.1" r="0.8" fill="#ff0000"/><circle cx="253.2" cy="55.9" r="0.8" fill="#ff0000"/><circle cx="255.4" cy="55.1" r="0.8" fill="#ff0000"/><circle cx="259.1" cy="56.6" r="0.8" fill="#ff0000"/><circle cx="262.8" cy="57.3" r="0.8" fill="#ff0000"/><circle cx="272.7" cy="51.4" r="0.8" fill="#ff0000"/><circle cx="266.5" cy="54.8" r="0.8" fill="#ff0000"/><circle cx="267.9" cy="54.2" r="0.8" fill="#ff0000"/><circle cx="263.0" cy="57.6" r="0.8" fill="#ff0000"/><circle cx="263.0" cy="60.4" r="0.8" fill="#ff0000"/><circle cx="269.2" cy="63.9" r="0.8" fill="#ff0000"/><circle cx="272.0" cy="64.1" r="0.8" fill="#ff0000"/><circle cx="269.9" cy="67.3" r="0.8" fill="#ff0000"/><circle cx="271.3" cy="72.2" r="0.8" fill="#ff0000"/><circle cx="269.2" cy="74.9" r="0.8" fill="#ff0000"/><circle cx="272.7" cy="77.0" r="0.8" fill="#ff0000"/><circle cx="265.1" cy="72.2" r="0.8" fill="#ff0000"/><circle cx="267.2" cy="73.5" r="0.8" fill="#ff0000"/><circle cx="281.7" cy="79.8" r="0.8" fill="#ff0000"/><circle cx="283.8" cy="81.6" r="0.8" fill="#ff0000"/><circle cx="279.6" cy="83.2" r="0.8" fill="#ff0000"/><circle cx="282.4" cy="83.0" r="0.8" fill="#ff0000"/><circle cx="280.3" cy="86.7" r="0.8" fill="#ff0000"/><circle cx="277.5" cy="86.3" r="0.8" fill="#ff0000"/><circle cx="270.6" cy="79.8" r="0.8" fill="#ff0000"/><circle cx="272.7" cy="81.2" r="0.8" fill="#ff0000"/><circle cx="274.8" cy="82.5" r="0.8" fill="#ff0000"/>
<circle cx="230.6" cy="45.0" r="0.8" fill="#0000ff"/><circle cx="232.2" cy="40.3" r="0.8" fill="#0000ff"/><circle cx="231.9" cy="53.3" r="0.8" fill="#0000ff"/><circle cx="238.6" cy="57.6" r="0.8" fill="#0000ff"/><circle cx="235.2" cy="43.5" r="0.8" fill="#0000ff"/><circle cx="231.3" cy="59.8" r="0.8" fill="#0000ff"/><circle cx="238.7" cy="51.7" r="0.8" fill="#0000ff"/><circle cx="236.5" cy="58.2" r="0.8" fill="#0000ff"/><circle cx="231.9" cy="48.8" r="0.8" fill="#0000ff"/><circle cx="229.2" cy="51.0" r="0.8" fill="#0000ff"/><circle cx="230.4" cy="46.5" r="0.8" fill="#0000ff"/><circle cx="237.4" cy="55.2" r="0.8" fill="#0000ff"/><circle cx="235.0" cy="48.6" r="0.8" fill="#0000ff"/><circle cx="228.9" cy="47.8" r="0.8" fill="#0000ff"/><circle cx="231.2" cy="53.9" r="0.8" fill="#0000ff"/><circle cx="233.7" cy="47.8" r="0.8" fill="#0000ff"/><circle cx="229.9" cy="44.9" r="0.8" fill="#0000ff"/><circle cx="230.5" cy="48.2" r="0.8" fill="#0000ff"/><circle cx="238.9" cy="53.1" r="0.8" fill="#0000ff"/><circle cx="234.2" cy="56.9" r="0.8" fill="#0000ff"/><circle cx="238.7" cy="41.3" r="0.8" fill="#0000ff"/><circle cx="239.3" cy="59.8" r="0.8" fill="#0000ff"/><circle cx="229.4" cy="55.5" r="0.8" fill="#0000ff"/><circle cx="234.7" cy="40.1" r="0.8" fill="#0000ff"/><circle cx="236.0" cy="54.7" r="0.8" fill="#0000ff"/><circle cx="235.4" cy="43.4" r="0.8" fill="#0000ff"/><circle cx="235.5" cy="46.4" r="0.8" fill="#0000ff"/><circle cx="232.7" cy="43.8" r="0.8" fill="#0000ff"/><circle cx="231.9" cy="51.3" r="0.8" fill="#0000ff"/><circle cx="235.2" cy="42.6" r="0.8" fill="#0000ff"/><circle cx="234.2" cy="46.7" r="0.8" fill="#0000ff"/><circle cx="235.0" cy="34.4" r="0.8" fill="#0000ff"/><circle cx="237.4" cy="40.7" r="0.8" fill="#0000ff"/><circle cx="234.7" cy="58.2" r="0.8" fill="#0000ff"/><circle cx="236.0" cy="37.1" r="0.8" fill="#0000ff"/><circle cx="231.3" cy="50.9" r="0.8" fill="#0000ff"/><circle cx="235.9" cy="57.5" r="0.8" fill="#0000ff"/><circle cx="231.2" cy="42.7" r="0.8" fill="#0000ff"/><circle cx="235.4" cy="37.3" r="0.8" fill="#0000ff"/><circle cx="231.7" cy="57.9" r="0.8" fill="#0000ff"/><circle cx="231.1" cy="44.5" r="0.8" fill="#0000ff"/><circle cx="238.3" cy="49.0" r="0.8" fill="#0000ff"/><circle cx="234.5" cy="35.3" r="0.8" fill="#0000ff"/><circle cx="229.1" cy="58.1" r="0.8" fill="#0000ff"/><circle cx="234.9" cy="38.4" r="0.8" fill="#0000ff"/><circle cx="229.5" cy="56.4" r="0.8" fill="#0000ff"/><circle cx="234.9" cy="45.5" r="0.8" fill="#0000ff"/><circle cx="234.5" cy="47.6" r="0.8" fill="#0000ff"/><circle cx="236.5" cy="43.1" r="0.8" fill="#0000ff"/><circle cx="233.7" cy="42.7" r="0.8" fill="#0000ff"/><circle cx="231.1" cy="54.5" r="0.8" fill="#0000ff"/><circle cx="237.5" cy="50.7" r="0.8" fill="#0000ff"/><circle cx="233.4" cy="34.7" r="0.8" fill="#0000ff"/><circle cx="235.1" cy="34.9" r="0.8" fill="#0000ff"/><circle cx="229.1" cy="48.6" r="0.8" fill="#0000ff"/><circle cx="235.6" cy="57.5" r="0.8" fill="#0000ff"/><circle cx="233.6" cy="38.2" r="0.8" fill="#0000ff"/><circle cx="233.7" cy="57.0" r="0.8" fill="#0000ff"/><circle cx="234.3" cy="41.8" r="0.8" fill="#0000ff"/><circle cx="230.3" cy="56.1" r="0.8" fill="#0000ff"/><circle cx="238.4" cy="56.2" r="0.8" fill="#0000ff"/><circle cx="230.9" cy="57.3" r="0.8" fill="#0000ff"/><circle cx="232.4" cy="51.0" r="0.8" fill="#0000ff"/><circle cx="230.5" cy="56.6" r="0.8" fill="#0000ff"/><circle cx="232.4" cy="59.8" r="0.8" fill="#0000ff"/><circle cx="233.5" cy="40.9" r="0.8" fill="#0000ff"/><circle cx="230.8" cy="47.3" r="0.8" fill="#0000ff"/><circle cx="229.9" cy="43.9" r="0.8" fill="#0000ff"/><circle cx="232.5" cy="45.0" r="0.8" fill="#0000ff"/><circle cx="232.0" cy="53.2" r="0.8" fill="#0000ff"/><circle cx="230.3" cy="44.1" r="0.8" fill="#0000ff"/><circle cx="237.6" cy="53.9" r="0.8" fill="#0000ff"/><circle cx="236.1" cy="45.3" r="0.8" fill="#0000ff"/><circle cx="228.5" cy="49.8" r="0.8" fill="#0000ff"/><circle cx="235.3" cy="40.4" r="0.8" fill="#0000ff"/><circle cx="236.5" cy="58.3" r="0.8" fill="#0000ff"/><circle cx="231.9" cy="54.0" r="0.8" fill="#0000ff"/>
<circle cx="238.7" cy="56.9" r="0.8" fill="#0000ff"/><circle cx="238.5" cy="57.0" r="0.8" fill="#0000ff"/><circle cx="233.9" cy="47.4" r="0.8" fill="#0000ff"/><circle cx="235.9" cy="45.1" r="0.8" fill="#0000ff"/><circle cx="236.2" cy="53.2" r="0.8" fill="#0000ff"/><circle cx="237.6" cy="53.9" r="0.8" fill="#0000ff"/><circle cx="232.2" cy="49.1" r="0.8" fill="#0000ff"/><circle cx="238.0" cy="58.8" r="0.8" fill="#0000ff"/><circle cx="232.1" cy="57.0" r="0.8" fill="#0000ff"/><circle cx="234.2" cy="48.9" r="0.8" fill="#0000ff"/><circle cx="233.0" cy="56.2" r="0.8" fill="#0000ff"/><circle cx="234.9" cy="45.3" r="0.8" fill="#0000ff"/><circle cx="231.6" cy="51.2" r="0.8" fill="#0000ff"/><circle cx="232.6" cy="58.0" r="0.8" fill="#0000ff"/><circle cx="230.7" cy="53.8" r="0.8" fill="#0000ff"/><circle cx="232.7" cy="48.6" r="0.8" fill="#0000ff"/><circle cx="233.9" cy="53.5" r="0.8" fill="#0000ff"/><circle cx="237.3" cy="55.0" r="0.8" fill="#0000ff"/><circle cx="239.1" cy="56.7" r="0.8" fill="#0000ff"/><circle cx="233.3" cy="49.1" r="0.8" fill="#0000ff"/><circle cx="231.1" cy="57.7" r="0.8" fill="#0000ff"/><circle cx="234.3" cy="55.2" r="0.8" fill="#0000ff"/><circle cx="232.7" cy="52.3" r="0.8" fill="#0000ff"/><circle cx="236.5" cy="47.4" r="0.8" fill="#0000ff"/><circle cx="237.1" cy="51.6" r="0.8" fill="#0000ff"/><circle cx="238.0" cy="53.4" r="0.8" fill="#0000ff"/><circle cx="233.3" cy="45.4" r="0.8" fill="#0000ff"/><circle cx="236.4" cy="53.4" r="0.8" fill="#0000ff"/><circle cx="233.4" cy="55.1" r="0.8" fill="#0000ff"/><circle cx="237.5" cy="59.3" r="0.8" fill="#0000ff"/><circle cx="236.7" cy="50.7" r="0.8" fill="#0000ff"/><circle cx="234.7" cy="55.2" r="0.8" fill="#0000ff"/><circle cx="233.7" cy="49.8" r="0.8" fill="#0000ff"/><circle cx="231.4" cy="56.4" r="0.8" fill="#0000ff"/><circle cx="235.3" cy="56.9" r="0.8" fill="#0000ff"/><circle cx="236.2" cy="52.7" r="0.8" fill="#0000ff"/><circle cx="238.2" cy="52.2" r="0.8" fill="#0000ff"/><circle cx="231.8" cy="47.1" r="0.8" fill="#0000ff"/><circle cx="235.9" cy="49.8" r="0.8" fill="#0000ff"/><circle cx="238.0" cy="50.4" r="0.8" fill="#0000ff"/><circle cx="230.3" cy="53.1" r="0.8" fill="#0000ff"/><circle cx="230.9" cy="55.6" r="0.8" fill="#0000ff"/><circle cx="237.1" cy="49.4" r="0.8" fill="#0000ff"/><circle cx="238.2" cy="58.3" r="0.8" fill="#0000ff"/><circle cx="233.9" cy="54.5" r="0.8" fill="#0000ff"/><circle cx="231.9" cy="52.2" r="0.8" fill="#0000ff"/><circle cx="235.9" cy="52.0" r="0.8" fill="#0000ff"/><circle cx="231.1" cy="50.6" r="0.8" fill="#0000ff"/><circle cx="233.9" cy="53.3" r="0.8" fill="#0000ff"/>
<circle cx="257.5" cy="56.9" r="0.8" fill="#ff0000"/><circle cx="252.7" cy="57.8" r="0.8" fill="#ff0000"/><circle cx="252.9" cy="48.6" r="0.8" fill="#ff0000"/><circle cx="252.8" cy="48.4" r="0.8" fill="#ff0000"/><circle cx="260.9" cy="54.5" r="0.8" fill="#ff0000"/><circle cx="253.2" cy="53.9" r="0.8" fill="#ff0000"/><circle cx="252.3" cy="48.4" r="0.8" fill="#ff0000"/><circle cx="255.7" cy="45.5" r="0.8" fill="#ff0000"/><circle cx="262.4" cy="54.6" r="0.8" fill="#ff0000"/><circle cx="259.2" cy="56.7" r="0.8" fill="#ff0000"/><circle cx="258.4" cy="55.6" r="0.8" fill="#ff0000"/><circle cx="254.4" cy="56.8" r="0.8" fill="#ff0000"/><circle cx="253.1" cy="50.8" r="0.8" fill="#ff0000"/><circle cx="254.1" cy="51.8" r="0.8" fill="#ff0000"/><circle cx="255.3" cy="55.5" r="0.8" fill="#ff0000"/><circle cx="252.5" cy="56.3" r="0.8" fill="#ff0000"/><circle cx="256.2" cy="45.2" r="0.8" fill="#ff0000"/><circle cx="253.8" cy="53.7" r="0.8" fill="#ff0000"/><circle cx="260.7" cy="59.7" r="0.8" fill="#ff0000"/><circle cx="259.0" cy="51.2" r="0.8" fill="#ff0000"/><circle cx="262.1" cy="51.6" r="0.8" fill="#ff0000"/><circle cx="253.0" cy="52.5" r="0.8" fill="#ff0000"/><circle cx="260.5" cy="50.7" r="0.8" fill="#ff0000"/><circle cx="255.1" cy="52.4" r="0.8" fill="#ff0000"/><circle cx="257.3" cy="50.4" r="0.8" fill="#ff0000"/><circle cx="259.7" cy="56.7" r="0.8" fill="#ff0000"/><circle cx="259.5" cy="51.9" r="0.8" fill="#ff0000"/><circle cx="256.7" cy="52.3" r="0.8" fill="#ff0000"/><circle cx="257.7" cy="48.3" r="0.8" fill="#ff0000"/><circle cx="253.9" cy="50.0" r="0.8" fill="#ff0000"/><circle cx="260.6" cy="55.0" r="0.8" fill="#ff0000"/><circle cx="257.0" cy="51.8" r="0.8" fill="#ff0000"/><circle cx="256.5" cy="52.0" r="0.8" fill="#ff0000"/><circle cx="260.9" cy="53.0" r="0.8" fill="#ff0000"/><circle cx="260.5" cy="57.9" r="0.8" fill="#ff0000"/><circle cx="259.4" cy="54.0" r="0.8" fill="#ff0000"/><circle cx="256.1" cy="56.0" r="0.8" fill="#ff0000"/><circle cx="254.5" cy="50.9" r="0.8" fill="#ff0000"/><circle cx="253.9" cy="47.6" r="0.8" fill="#ff0000"/><circle cx="251.1" cy="58.9" r="0.8" fill="#ff0000"/><circle cx="252.3" cy="60.0" r="0.8" fill="#ff0000"/><circle cx="261.1" cy="50.0" r="0.8" fill="#ff0000"/><circle cx="252.8" cy="55.8" r="0.8" fill="#ff0000"/><circle cx="259.3" cy="48.8" r="0.8" fill="#ff0000"/><circle cx="252.7" cy="48.5" r="0.8" fill="#ff0000"/><circle cx="259.1" cy="54.1" r="0.8" fill="#ff0000"/><circle cx="258.3" cy="57.6" r="0.8" fill="#ff0000"/>
<polygon points="401.0,91.6 440.0,91.6 440.0,94.6 401.0,94.6" fill="#d4d4d4" />
<polygon points="416.7,76.0 422.1,76.0 422.1,94.6 416.7,94.6" fill="#e6e6e6" />
<polygon points="418.6,84.0 420.3,84.0 420.8,94.6 418.1,94.6" fill="#d4d4d4" />
<polygon points="416.7,70.0 413.0,70.0 411.5,76.0 409.8,80.0 406.0,85.0 404.0,88.0 402.5,91.9 416.7,91.9" fill="#0000ff" fill-opacity="0.8"/>
<circle cx="416.0" cy="83.9" r="0.8" fill="#0000ff"/><circle cx="410.9" cy="90.6" r="0.8" fill="#0000ff"/><circle cx="407.1" cy="86.2" r="0.8" fill="#0000ff"/><circle cx="415.9" cy="85.5" r="0.8" fill="#0000ff"/><circle cx="409.6" cy="81.1" r="0.8" fill="#0000ff"/><circle cx="415.0" cy="85.4" r="0.8" fill="#0000ff"/><circle cx="403.8" cy="89.0" r="0.8" fill="#0000ff"/><circle cx="413.9" cy="85.1" r="0.8" fill="#0000ff"/><circle cx="410.2" cy="88.3" r="0.8" fill="#0000ff"/><circle cx="412.6" cy="71.9" r="0.8" fill="#0000ff"/><circle cx="406.6" cy="87.1" r="0.8" fill="#0000ff"/><circle cx="408.5" cy="82.6" r="0.8" fill="#0000ff"/><circle cx="412.3" cy="76.2" r="0.8" fill="#0000ff"/><circle cx="416.6" cy="78.3" r="0.8" fill="#0000ff"/><circle cx="409.6" cy="87.6" r="0.8" fill="#0000ff"/><circle cx="407.5" cy="89.7" r="0.8" fill="#0000ff"/><circle cx="410.4" cy="81.9" r="0.8" fill="#0000ff"/><circle cx="410.0" cy="87.9" r="0.8" fill="#0000ff"/><circle cx="404.7" cy="88.5" r="0.8" fill="#0000ff"/><circle cx="415.6" cy="71.8" r="0.8" fill="#0000ff"/><circle cx="403.9" cy="91.4" r="0.8" fill="#0000ff"/><circle cx="412.5" cy="83.3" r="0.8" fill="#0000ff"/><circle cx="415.3" cy="91.4" r="0.8" fill="#0000ff"/><circle cx="414.4" cy="73.3" r="0.8" fill="#0000ff"/><circle cx="414.3" cy="74.5" r="0.8" fill="#0000ff"/><circle cx="414.0" cy="82.1" r="0.8" fill="#0000ff"/><circle cx="411.2" cy="86.3" r="0.8" fill="#0000ff"/><circle cx="413.0" cy="83.8" r="0.8" fill="#0000ff"/><circle cx="412.1" cy="76.6" r="0.8" fill="#0000ff"/><circle cx="405.8" cy="86.4" r="0.8" fill="#0000ff"/><circle cx="412.5" cy="81.0" r="0.8" fill="#0000ff"/><circle cx="409.1" cy="86.7" r="0.8" fill="#0000ff"/><circle cx="413.8" cy="73.1" r="0.8" fill="#0000ff"/><circle cx="412.7" cy="71.1" r="0.8" fill="#0000ff"/><circle cx="415.3" cy="85.6" r="0.8" fill="#0000ff"/><circle cx="413.2" cy="87.9" r="0.8" fill="#0000ff"/><circle cx="405.7" cy="87.9" r="0.8" fill="#0000ff"/><circle cx="407.9" cy="87.8" r="0.8" fill="#0000ff"/><circle cx="414.1" cy="77.3" r="0.8" fill="#0000ff"/><circle cx="410.8" cy="84.1" r="0.8" fill="#0000ff"/><circle cx="413.8" cy="72.9" r="0.8" fill="#0000ff"/><circle cx="406.3" cy="89.7" r="0.8" fill="#0000ff"/><circle cx="410.2" cy="91.4" r="0.8" fill="#0000ff"/><circle cx="409.8" cy="87.3" r="0.8" fill="#0000ff"/><circle cx="414.2" cy="73.1" r="0.8" fill="#0000ff"/><circle cx="415.0" cy="70.8" r="0.8" fill="#0000ff"/><circle cx="408.2" cy="86.6" r="0.8" fill="#0000ff"/><circle cx="408.6" cy="82.2" r="0.8" fill="#0000ff"/><circle cx="410.2" cy="85.8" r="0.8" fill="#0000ff"/><circle cx="414.7" cy="91.4" r="0.8" fill="#0000ff"/><circle cx="408.1" cy="91.6" r="0.8" fill="#0000ff"/><circle cx="406.5" cy="85.7" r="0.8" fill="#0000ff"/><circle cx="412.1" cy="74.8" r="0.8" fill="#0000ff"/><circle cx="413.6" cy="85.6" r="0.8" fill="#0000ff"/><circle cx="413.1" cy="70.2" r="0.8" fill="#0000ff"/><circle cx="409.3" cy="91.7" r="0.8" fill="#0000ff"/><circle cx="410.1" cy="83.5" r="0.8" fill="#0000ff"/><circle cx="413.8" cy="73.6" r="0.8" fill="#0000ff"/><circle cx="416.5" cy="78.0" r="0.8" fill="#0000ff"/><circle cx="409.7" cy="91.8" r="0.8" fill="#0000ff"/><circle cx="407.0" cy="86.6" r="0.8" fill="#0000ff"/><circle cx="409.6" cy="85.2" r="0.8" fill="#0000ff"/><circle cx="415.4" cy="86.3" r="0.8" fill="#0000ff"/><circle cx="413.5" cy="74.8" r="0.8" fill="#0000ff"/><circle cx="413.4" cy="84.5" r="0.8" fill="#0000ff"/><circle cx="414.9" cy="90.5" r="0.8" fill="#0000ff"/><circle cx="413.7" cy="82.5" r="0.8" fill="#0000ff"/><circle cx="416.2" cy="89.1" r="0.8" fill="#0000ff"/><circle cx="414.6" cy="76.4" r="0.8" fill="#0000ff"/><circle cx="412.5" cy="80.7" r="0.8" fill="#0000ff"/><circle cx="411.6" cy="75.7" r="0.8" fill="#0000ff"/><circle cx="412.3" cy="85.4" r="0.8" fill="#0000ff"/><circle cx="414.3" cy="85.8" r="0.8" fill="#0000ff"/><circle cx="407.2" cy="90.2" r="0.8" fill="#0000ff"/><circle cx="415.0" cy="77.4" r="0.8" fill="#0000ff"/><circle cx="413.2" cy="83.9" r="0.8" fill="#0000ff"/><circle cx="410.4" cy="83.6" r="0.8" fill="#0000ff"/><circle cx="412.5" cy="89.8" r="0.8" fill="#0000ff"/><circle cx="415.8" cy="88.0" r="0.8" fill="#0000ff"/><circle cx="411.0" cy="79.9" r="0.8" fill="#0000ff"/><circle cx="408.4" cy="91.2" r="0.8" fill="#0000ff"/><circle cx="413.1" cy="80.0" r="0.8" fill="#0000ff"/><circle cx="411.3" cy="91.4" r="0.8" fill="#0000ff"/><circle cx="415.3" cy="82.1" r="0.8" fill="#0000ff"/><circle cx="405.3" cy="87.8" r="0.8" fill="#0000ff"/><circle cx="413.0" cy="90.2" r="0.8" fill="#0000ff"/><circle cx="415.6" cy="80.0" r="0.8" fill="#0000ff"/><circle cx="414.7" cy="70.5" r="0.8" fill="#0000ff"/><circle cx="408.3" cy="90.7" r="0.8" fill="#0000ff"/><circle cx="410.4" cy="79.6" r="0.8" fill="#0000ff"/><circle cx="410.2" cy="91.7" r="0.8" fill="#0000ff"/>
<circle cx="400.6" cy="86.6" r="0.8" fill="#0000ff"/><circle cx="408.0" cy="90.0" r="0.8" fill="#0000ff"/><circle cx="415.0" cy="70.1" r="0.8" fill="#0000ff"/><circle cx="407.4" cy="79.7" r="0.8" fill="#0000ff"/><circle cx="411.1" cy="83.2" r="0.8" fill="#0000ff"/><circle cx="411.1" cy="83.3" r="0.8" fill="#0000ff"/><circle cx="414.3" cy="73.9" r="0.8" fill="#0000ff"/><circle cx="409.6" cy="89.1" r="0.8" fill="#0000ff"/><circle cx="410.3" cy="90.0" r="0.8" fill="#0000ff"/><circle cx="409.5" cy="79.6" r="0.8" fill="#0000ff"/><circle cx="410.6" cy="66.1" r="0.8" fill="#0000ff"/><circle cx="404.3" cy="65.4" r="0.8" fill="#0000ff"/><circle cx="409.9" cy="89.8" r="0.8" fill="#0000ff"/><circle cx="404.2" cy="84.5" r="0.8" fill="#0000ff"/><circle cx="401.7" cy="88.0" r="0.8" fill="#0000ff"/><circle cx="406.3" cy="86.5" r="0.8" fill="#0000ff"/><circle cx="409.1" cy="81.1" r="0.8" fill="#0000ff"/><circle cx="412.7" cy="69.6" r="0.8" fill="#0000ff"/><circle cx="416.2" cy="83.8" r="0.8" fill="#0000ff"/><circle cx="414.6" cy="71.2" r="0.8" fill="#0000ff"/><circle cx="412.8" cy="58.4" r="0.8" fill="#0000ff"/><circle cx="404.1" cy="85.6" r="0.8" fill="#0000ff"/><circle cx="415.2" cy="89.3" r="0.8" fill="#0000ff"/><circle cx="408.7" cy="85.6" r="0.8" fill="#0000ff"/><circle cx="410.6" cy="78.7" r="0.8" fill="#0000ff"/><circle cx="409.5" cy="82.9" r="0.8" fill="#0000ff"/><circle cx="414.0" cy="76.3" r="0.8" fill="#0000ff"/><circle cx="411.5" cy="87.5" r="0.8" fill="#0000ff"/><circle cx="415.7" cy="89.8" r="0.8" fill="#0000ff"/><circle cx="400.9" cy="91.2" r="0.8" fill="#0000ff"/><circle cx="413.1" cy="88.1" r="0.8" fill="#0000ff"/><circle cx="399.6" cy="90.5" r="0.8" fill="#0000ff"/><circle cx="415.5" cy="75.9" r="0.8" fill="#0000ff"/><circle cx="412.4" cy="65.4" r="0.8" fill="#0000ff"/><circle cx="398.7" cy="88.6" r="0.8" fill="#0000ff"/><circle cx="414.0" cy="80.6" r="0.8" fill="#0000ff"/><circle cx="410.1" cy="91.4" r="0.8" fill="#0000ff"/><circle cx="413.9" cy="89.6" r="0.8" fill="#0000ff"/><circle cx="415.5" cy="68.0" r="0.8" fill="#0000ff"/><circle cx="409.2" cy="90.2" r="0.8" fill="#0000ff"/><circle cx="404.3" cy="91.8" r="0.8" fill="#0000ff"/><circle cx="408.5" cy="75.7" r="0.8" fill="#0000ff"/><circle cx="409.0" cy="89.5" r="0.8" fill="#0000ff"/><circle cx="414.0" cy="81.8" r="0.8" fill="#0000ff"/><circle cx="404.5" cy="91.1" r="0.8" fill="#0000ff"/><circle cx="412.2" cy="80.6" r="0.8" fill="#0000ff"/><circle cx="405.0" cy="89.8" r="0.8" fill="#0000ff"/><circle cx="398.7" cy="82.7" r="0.8" fill="#0000ff"/><circle cx="399.0" cy="79.8" r="0.8" fill="#0000ff"/><circle cx="407.0" cy="83.9" r="0.8" fill="#0000ff"/><circle cx="416.1" cy="71.5" r="0.8" fill="#0000ff"/><circle cx="408.6" cy="77.6" r="0.8" fill="#0000ff"/><circle cx="406.6" cy="91.4" r="0.8" fill="#0000ff"/><circle cx="416.3" cy="86.6" r="0.8" fill="#0000ff"/><circle cx="401.2" cy="87.3" r="0.8" fill="#0000ff"/><circle cx="409.8" cy="77.6" r="0.8" fill="#0000ff"/><circle cx="412.4" cy="87.3" r="0.8" fill="#0000ff"/><circle cx="408.1" cy="85.5" r="0.8" fill="#0000ff"/><circle cx="414.6" cy="71.3" r="0.8" fill="#0000ff"/><circle cx="400.0" cy="88.1" r="0.8" fill="#0000ff"/><circle cx="402.7" cy="84.4" r="0.8" fill="#0000ff"/><circle cx="410.1" cy="90.2" r="0.8" fill="#0000ff"/><circle cx="415.5" cy="68.7" r="0.8" fill="#0000ff"/><circle cx="411.0" cy="86.1" r="0.8" fill="#0000ff"/><circle cx="415.3" cy="85.3" r="0.8" fill="#0000ff"/><circle cx="407.0" cy="81.9" r="0.8" fill="#0000ff"/><circle cx="401.0" cy="74.2" r="0.8" fill="#0000ff"/><circle cx="399.4" cy="89.6" r="0.8" fill="#0000ff"/><circle cx="410.0" cy="85.4" r="0.8" fill="#0000ff"/><circle cx="402.6" cy="87.8" r="0.8" fill="#0000ff"/><circle cx="415.2" cy="66.8" r="0.8" fill="#0000ff"/><circle cx="401.2" cy="75.6" r="0.8" fill="#0000ff"/><circle cx="397.9" cy="91.5" r="0.8" fill="#0000ff"/><circle cx="413.5" cy="74.6" r="0.8" fill="#0000ff"/><circle cx="416.0" cy="71.8" r="0.8" fill="#0000ff"/><circle cx="411.1" cy="77.8" r="0.8" fill="#0000ff"/><circle cx="408.8" cy="83.0" r="0.8" fill="#0000ff"/><circle cx="410.5" cy="77.9" r="0.8" fill="#0000ff"/><circle cx="416.4" cy="89.8" r="0.8" fill="#0000ff"/><circle cx="413.3" cy="82.4" r="0.8" fill="#0000ff"/><circle cx="416.6" cy="87.8" r="0.8" fill="#0000ff"/><circle cx="416.4" cy="70.1" r="0.8" fill="#0000ff"/><circle cx="415.6" cy="72.0" r="0.8" fill="#0000ff"/><circle cx="416.0" cy="69.0" r="0.8" fill="#0000ff"/><circle cx="410.0" cy="79.8" r="0.8" fill="#0000ff"/><circle cx="416.4" cy="74.9" r="0.8" fill="#0000ff"/><circle cx="411.5" cy="68.5" r="0.8" fill="#0000ff"/><circle cx="415.5" cy="80.8" r="0.8" fill="#0000ff"/><circle cx="413.3" cy="62.1" r="0.8" fill="#0000ff"/><circle cx="414.6" cy="89.2" r="0.8" fill="#0000ff"/><circle cx="415.9" cy="78.6" r="0.8" fill="#0000ff"/><circle cx="410.9" cy="86.7" r="0.8" fill="#0000ff"/><circle cx="401.6" cy="86.2" r="0.8" fill="#0000ff"/><circle cx="408.7" cy="86.4" r="0.8" fill="#0000ff"/><circle cx="407.0" cy="91.8" r="0.8" fill="#0000ff"/><circle cx="412.9" cy="89.5" r="0.8" fill="#0000ff"/><circle cx="402.6" cy="84.9" r="0.8" fill="#0000ff"/><circle cx="412.6" cy="73.5" r="0.8" fill="#0000ff"/><circle cx="404.2" cy="83.1" r="0.8" fill="#0000ff"/><circle cx="413.8" cy="75.6" r="0.8" fill="#0000ff"/><circle cx="412.4" cy="87.8" r="0.8" fill="#0000ff"/><circle cx="412.0" cy="85.5" r="0.8" fill="#0000ff"/><circle cx="401.5" cy="87.6" r="0.8" fill="#0000ff"/><circle cx="410.1" cy="74.0" r="0.8" fill="#0000ff"/><circle cx="406.8" cy="85.0" r="0.8" fill="#0000ff"/><circle cx="410.5" cy="82.2" r="0.8" fill="#0000ff"/><circle cx="398.1" cy="91.1" r="0.8" fill="#0000ff"/><circle cx="415.8" cy="88.3" r="0.8" fill="#0000ff"/><circle cx="413.0" cy="85.1" r="0.8" fill="#0000ff"/><circle cx="416.0" cy="81.4" r="0.8" fill="#0000ff"/><circle cx="414.5" cy="72.3" r="0.8" fill="#0000ff"/><circle cx="412.7" cy="73.8" r="0.8" fill="#0000ff"/><circle cx="411.0" cy="89.1" r="0.8" fill="#0000ff"/><circle cx="407.0" cy="80.7" r="0.8" fill="#0000ff"/><circle cx="414.2" cy="79.7" r="0.8" fill="#0000ff"/><circle cx="414.6" cy="70.5" r="0.8" fill="#0000ff"/><circle cx="415.2" cy="76.5" r="0.8" fill="#0000ff"/><circle cx="413.6" cy="91.7" r="0.8" fill="#0000ff"/><circle cx="405.1" cy="79.5" r="0.8" fill="#0000ff"/><circle cx="407.0" cy="84.0" r="0.8" fill="#0000ff"/><circle cx="414.8" cy="76.7" r="0.8" fill="#0000ff"/><circle cx="414.7" cy="88.9" r="0.8" fill="#0000ff"/><circle cx="414.7" cy="90.9" r="0.8" fill="#0000ff"/><circle cx="412.3" cy="71.6" r="0.8" fill="#0000ff"/><circle cx="411.0" cy="74.9" r="0.8" fill="#0000ff"/><circle cx="411.1" cy="82.2" r="0.8" fill="#0000ff"/><circle cx="408.6" cy="78.2" r="0.8" fill="#0000ff"/><circle cx="410.4" cy="91.1" r="0.8" fill="#0000ff"/><circle cx="415.8" cy="78.6" r="0.8" fill="#0000ff"/><circle cx="414.1" cy="78.0" r="0.8" fill="#0000ff"/><circle cx="414.7" cy="72.6" r="0.8" fill="#0000ff"/><circle cx="416.0" cy="69.5" r="0.8" fill="#0000ff"/><circle cx="413.9" cy="80.9" r="0.8" fill="#0000ff"/><circle cx="411.9" cy="81.1" r="0.8" fill="#0000ff"/><circle cx="415.3" cy="79.1" r="0.8" fill="#0000ff"/><circle cx="413.4" cy="83.5" r="0.8" fill="#0000ff"/><circle cx="408.0" cy="79.6" r="0.8" fill="#0000ff"/><circle cx="413.4" cy="86.8" r="0.8" fill="#0000ff"/><circle cx="414.2" cy="84.1" r="0.8" fill="#0000ff"/><circle cx="403.5" cy="90.9" r="0.8" fill="#0000ff"/><circle cx="397.8" cy="83.6" r="0.8" fill="#0000ff"/><circle cx="411.7" cy="80.9" r="0.8" fill="#0000ff"/><circle cx="408.2" cy="72.1" r="0.8" fill="#0000ff"/><circle cx="416.3" cy="70.6" r="0.8" fill="#0000ff"/><circle cx="407.3" cy="84.3" r="0.8" fill="#0000ff"/><circle cx="413.0" cy="84.9" r="0.8" fill="#0000ff"/><circle cx="412.3" cy="90.1" r="0.8" fill="#0000ff"/><circle cx="406.9" cy="82.3" r="0.8" fill="#0000ff"/><circle cx="413.5" cy="80.7" r="0.8" fill="#0000ff"/><circle cx="411.1" cy="81.2" r="0.8" fill="#0000ff"/><circle cx="416.5" cy="80.7" r="0.8" fill="#0000ff"/><circle cx="415.3" cy="71.5" r="0.8" fill="#0000ff"/><circle cx="411.7" cy="80.0" r="0.8" fill="#0000ff"/><circle cx="412.3" cy="79.9" r="0.8" fill="#0000ff"/><circle cx="405.6" cy="89.9" r="0.8" fill="#0000ff"/><circle cx="414.9" cy="81.3" r="0.8" fill="#0000ff"/><circle cx="404.7" cy="78.4" r="0.8" fill="#0000ff"/><circle cx="411.5" cy="81.5" r="0.8" fill="#0000ff"/>
<polygon points="422.1,70.0 424.5,68.0 425.5,75.0 427.0,81.0 429.5,85.5 432.7,88.5 434.0,91.9 422.1,91.9" fill="#ff0000" fill-opacity="0.8"/>
<circle cx="425.7" cy="90.2" r="0.8" fill="#ff0000"/><circle cx="427.6" cy="88.0" r="0.8" fill="#ff0000"/><circle cx="423.4" cy="78.8" r="0.8" fill="#ff0000"/><circle cx="426.6" cy="83.0" r="0.8" fill="#ff0000"/><circle cx="423.8" cy="75.9" r="0.8" fill="#ff0000"/><circle cx="426.7" cy="91.3" r="0.8" fill="#ff0000"/><circle cx="423.1" cy="82.2" r="0.8" fill="#ff0000"/><circle cx="428.5" cy="88.6" r="0.8" fill="#ff0000"/><circle cx="426.8" cy="91.4" r="0.8" fill="#ff0000"/><circle cx="427.5" cy="91.1" r="0.8" fill="#ff0000"/><circle cx="425.7" cy="79.6" r="0.8" fill="#ff0000"/><circle cx="424.5" cy="83.9" r="0.8" fill="#ff0000"/><circle cx="430.3" cy="87.9" r="0.8" fill="#ff0000"/><circle cx="422.7" cy="83.1" r="0.8" fill="#ff0000"/><circle cx="431.7" cy="91.7" r="0.8" fill="#ff0000"/><circle cx="431.3" cy="90.8" r="0.8" fill="#ff0000"/><circle cx="429.7" cy="88.3" r="0.8" fill="#ff0000"/><circle cx="424.1" cy="72.4" r="0.8" fill="#ff0000"/><circle cx="426.8" cy="88.9" r="0.8" fill="#ff0000"/><circle cx="428.1" cy="84.1" r="0.8" fill="#ff0000"/><circle cx="424.1" cy="69.2" r="0.8" fill="#ff0000"/><circle cx="424.1" cy="84.2" r="0.8" fill="#ff0000"/><circle cx="432.0" cy="91.1" r="0.8" fill="#ff0000"/><circle cx="428.3" cy="83.9" r="0.8" fill="#ff0000"/><circle cx="424.8" cy="88.0" r="0.8" fill="#ff0000"/><circle cx="422.3" cy="85.7" r="0.8" fill="#ff0000"/><circle cx="424.3" cy="74.7" r="0.8" fill="#ff0000"/><circle cx="428.7" cy="85.5" r="0.8" fill="#ff0000"/><circle cx="425.6" cy="89.6" r="0.8" fill="#ff0000"/><circle cx="424.3" cy="91.4" r="0.8" fill="#ff0000"/><circle cx="423.3" cy="83.9" r="0.8" fill="#ff0000"/><circle cx="422.4" cy="76.0" r="0.8" fill="#ff0000"/><circle cx="422.1" cy="70.6" r="0.8" fill="#ff0000"/><circle cx="426.3" cy="83.0" r="0.8" fill="#ff0000"/><circle cx="425.8" cy="91.7" r="0.8" fill="#ff0000"/><circle cx="423.7" cy="89.5" r="0.8" fill="#ff0000"/><circle cx="426.3" cy="81.5" r="0.8" fill="#ff0000"/><circle cx="424.1" cy="69.8" r="0.8" fill="#ff0000"/><circle cx="425.2" cy="91.0" r="0.8" fill="#ff0000"/><circle cx="423.6" cy="78.7" r="0.8" fill="#ff0000"/><circle cx="426.2" cy="91.3" r="0.8" fill="#ff0000"/><circle cx="423.2" cy="86.4" r="0.8" fill="#ff0000"/><circle cx="423.3" cy="90.6" r="0.8" fill="#ff0000"/><circle cx="431.0" cy="90.9" r="0.8" fill="#ff0000"/><circle cx="433.3" cy="90.5" r="0.8" fill="#ff0000"/><circle cx="422.9" cy="88.3" r="0.8" fill="#ff0000"/><circle cx="430.6" cy="90.5" r="0.8" fill="#ff0000"/><circle cx="427.9" cy="82.7" r="0.8" fill="#ff0000"/><circle cx="424.6" cy="75.0" r="0.8" fill="#ff0000"/><circle cx="424.3" cy="86.5" r="0.8" fill="#ff0000"/><circle cx="428.0" cy="84.1" r="0.8" fill="#ff0000"/><circle cx="430.3" cy="88.5" r="0.8" fill="#ff0000"/><circle cx="422.8" cy="79.4" r="0.8" fill="#ff0000"/><circle cx="423.6" cy="87.2" r="0.8" fill="#ff0000"/><circle cx="423.4" cy="88.9" r="0.8" fill="#ff0000"/><circle cx="423.1" cy="77.0" r="0.8" fill="#ff0000"/><circle cx="426.7" cy="83.8" r="0.8" fill="#ff0000"/><circle cx="427.2" cy="90.6" r="0.8" fill="#ff0000"/><circle cx="422.5" cy="70.8" r="0.8" fill="#ff0000"/><circle cx="425.4" cy="89.2" r="0.8" fill="#ff0000"/><circle cx="425.1" cy="73.1" r="0.8" fill="#ff0000"/><circle cx="425.4" cy="86.0" r="0.8" fill="#ff0000"/><circle cx="423.7" cy="84.4" r="0.8" fill="#ff0000"/><circle cx="430.8" cy="90.6" r="0.8" fill="#ff0000"/><circle cx="426.6" cy="84.6" r="0.8" fill="#ff0000"/><circle cx="423.7" cy="76.2" r="0.8" fill="#ff0000"/><circle cx="423.2" cy="90.8" r="0.8" fill="#ff0000"/>
<circle cx="428.4" cy="66.0" r="0.8" fill="#ff0000"/><circle cx="424.9" cy="82.1" r="0.8" fill="#ff0000"/><circle cx="422.5" cy="87.7" r="0.8" fill="#ff0000"/><circle cx="428.9" cy="82.6" r="0.8" fill="#ff0000"/><circle cx="426.2" cy="73.6" r="0.8" fill="#ff0000"/><circle cx="428.8" cy="63.3" r="0.8" fill="#ff0000"/><circle cx="423.6" cy="66.4" r="0.8" fill="#ff0000"/><circle cx="432.7" cy="78.9" r="0.8" fill="#ff0000"/><circle cx="423.3" cy="61.7" r="0.8" fill="#ff0000"/><circle cx="423.9" cy="65.3" r="0.8" fill="#ff0000"/><circle cx="422.3" cy="70.1" r="0.8" fill="#ff0000"/><circle cx="423.6" cy="77.6" r="0.8" fill="#ff0000"/><circle cx="430.1" cy="91.2" r="0.8" fill="#ff0000"/><circle cx="429.0" cy="75.0" r="0.8" fill="#ff0000"/><circle cx="425.0" cy="75.8" r="0.8" fill="#ff0000"/><circle cx="424.8" cy="76.4" r="0.8" fill="#ff0000"/><circle cx="429.1" cy="85.9" r="0.8" fill="#ff0000"/><circle cx="429.4" cy="86.9" r="0.8" fill="#ff0000"/><circle cx="426.0" cy="71.5" r="0.8" fill="#ff0000"/><circle cx="426.6" cy="68.5" r="0.8" fill="#ff0000"/><circle cx="424.6" cy="74.8" r="0.8" fill="#ff0000"/><circle cx="423.1" cy="85.4" r="0.8" fill="#ff0000"/><circle cx="429.3" cy="76.4" r="0.8" fill="#ff0000"/><circle cx="425.7" cy="90.8" r="0.8" fill="#ff0000"/><circle cx="423.3" cy="64.5" r="0.8" fill="#ff0000"/><circle cx="432.1" cy="83.9" r="0.8" fill="#ff0000"/><circle cx="425.6" cy="71.2" r="0.8" fill="#ff0000"/><circle cx="429.4" cy="88.2" r="0.8" fill="#ff0000"/><circle cx="433.5" cy="90.2" r="0.8" fill="#ff0000"/><circle cx="428.6" cy="75.3" r="0.8" fill="#ff0000"/><circle cx="427.4" cy="65.6" r="0.8" fill="#ff0000"/><circle cx="422.5" cy="76.0" r="0.8" fill="#ff0000"/><circle cx="423.0" cy="91.8" r="0.8" fill="#ff0000"/><circle cx="424.9" cy="85.8" r="0.8" fill="#ff0000"/><circle cx="433.6" cy="91.0" r="0.8" fill="#ff0000"/><circle cx="428.1" cy="85.6" r="0.8" fill="#ff0000"/><circle cx="426.0" cy="89.1" r="0.8" fill="#ff0000"/><circle cx="423.4" cy="89.1" r="0.8" fill="#ff0000"/><circle cx="424.3" cy="71.7" r="0.8" fill="#ff0000"/><circle cx="422.9" cy="89.2" r="0.8" fill="#ff0000"/><circle cx="436.6" cy="86.2" r="0.8" fill="#ff0000"/><circle cx="424.6" cy="66.6" r="0.8" fill="#ff0000"/><circle cx="422.4" cy="69.4" r="0.8" fill="#ff0000"/><circle cx="423.7" cy="76.4" r="0.8" fill="#ff0000"/><circle cx="424.6" cy="67.3" r="0.8" fill="#ff0000"/><circle cx="431.2" cy="88.9" r="0.8" fill="#ff0000"/><circle cx="425.1" cy="66.6" r="0.8" fill="#ff0000"/><circle cx="423.9" cy="76.3" r="0.8" fill="#ff0000"/><circle cx="429.2" cy="89.8" r="0.8" fill="#ff0000"/><circle cx="423.4" cy="88.4" r="0.8" fill="#ff0000"/><circle cx="423.7" cy="78.8" r="0.8" fill="#ff0000"/><circle cx="424.2" cy="73.0" r="0.8" fill="#ff0000"/><circle cx="424.1" cy="91.9" r="0.8" fill="#ff0000"/><circle cx="432.7" cy="90.7" r="0.8" fill="#ff0000"/><circle cx="428.7" cy="82.5" r="0.8" fill="#ff0000"/><circle cx="424.7" cy="84.7" r="0.8" fill="#ff0000"/><circle cx="425.4" cy="86.5" r="0.8" fill="#ff0000"/><circle cx="422.6" cy="82.1" r="0.8" fill="#ff0000"/><circle cx="425.2" cy="76.2" r="0.8" fill="#ff0000"/><circle cx="423.3" cy="72.1" r="0.8" fill="#ff0000"/><circle cx="422.7" cy="76.7" r="0.8" fill="#ff0000"/><circle cx="425.2" cy="75.2" r="0.8" fill="#ff0000"/><circle cx="424.1" cy="78.5" r="0.8" fill="#ff0000"/><circle cx="435.2" cy="90.7" r="0.8" fill="#ff0000"/><circle cx="425.8" cy="69.8" r="0.8" fill="#ff0000"/><circle cx="425.0" cy="80.6" r="0.8" fill="#ff0000"/><circle cx="424.2" cy="75.8" r="0.8" fill="#ff0000"/><circle cx="423.5" cy="71.9" r="0.8" fill="#ff0000"/><circle cx="430.4" cy="87.3" r="0.8" fill="#ff0000"/><circle cx="437.3" cy="90.5" r="0.8" fill="#ff0000"/><circle cx="426.8" cy="79.2" r="0.8" fill="#ff0000"/><circle cx="425.7" cy="71.2" r="0.8" fill="#ff0000"/><circle cx="427.1" cy="89.7" r="0.8" fill="#ff0000"/><circle cx="425.7" cy="91.1" r="0.8" fill="#ff0000"/><circle cx="430.6" cy="84.3" r="0.8" fill="#ff0000"/><circle cx="424.6" cy="89.8" r="0.8" fill="#ff0000"/><circle cx="423.0" cy="71.2" r="0.8" fill="#ff0000"/><circle cx="429.2" cy="89.0" r="0.8" fill="#ff0000"/><circle cx="425.9" cy="85.6" r="0.8" fill="#ff0000"/><circle cx="430.5" cy="75.3" r="0.8" fill="#ff0000"/><circle cx="440.4" cy="88.6" r="0.8" fill="#ff0000"/><circle cx="429.9" cy="84.1" r="0.8" fill="#ff0000"/><circle cx="423.4" cy="73.4" r="0.8" fill="#ff0000"/><circle cx="426.0" cy="67.6" r="0.8" fill="#ff0000"/><circle cx="431.3" cy="87.7" r="0.8" fill="#ff0000"/><circle cx="430.8" cy="87.8" r="0.8" fill="#ff0000"/><circle cx="423.7" cy="63.5" r="0.8" fill="#ff0000"/><circle cx="423.2" cy="77.7" r="0.8" fill="#ff0000"/><circle cx="430.4" cy="79.5" r="0.8" fill="#ff0000"/><circle cx="425.4" cy="77.8" r="0.8" fill="#ff0000"/><circle cx="424.7" cy="90.2" r="0.8" fill="#ff0000"/><circle cx="426.7" cy="83.3" r="0.8" fill="#ff0000"/><circle cx="428.0" cy="72.6" r="0.8" fill="#ff0000"/><circle cx="423.1" cy="85.7" r="0.8" fill="#ff0000"/><circle cx="424.0" cy="71.1" r="0.8" fill="#ff0000"/><circle cx="423.1" cy="75.8" r="0.8" fill="#ff0000"/><circle cx="425.2" cy="76.5" r="0.8" fill="#ff0000"/><circle cx="425.5" cy="80.9" r="0.8" fill="#ff0000"/><circle cx="434.1" cy="87.9" r="0.8" fill="#ff0000"/><circle cx="432.2" cy="91.4" r="0.8" fill="#ff0000"/><circle cx="433.8" cy="89.3" r="0.8" fill="#ff0000"/><circle cx="426.0" cy="69.8" r="0.8" fill="#ff0000"/><circle cx="426.7" cy="87.0" r="0.8" fill="#ff0000"/><circle cx="434.4" cy="88.1" r="0.8" fill="#ff0000"/><circle cx="427.4" cy="90.3" r="0.8" fill="#ff0000"/><circle cx="422.3" cy="78.4" r="0.8" fill="#ff0000"/><circle cx="423.9" cy="69.1" r="0.8" fill="#ff0000"/><circle cx="429.1" cy="84.9" r="0.8" fill="#ff0000"/><circle cx="422.3" cy="78.5" r="0.8" fill="#ff0000"/><circle cx="425.7" cy="76.7" r="0.8" fill="#ff0000"/><circle cx="426.2" cy="66.3" r="0.8" fill="#ff0000"/><circle cx="425.0" cy="81.5" r="0.8" fill="#ff0000"/><circle cx="427.2" cy="71.9" r="0.8" fill="#ff0000"/><circle cx="438.7" cy="90.6" r="0.8" fill="#ff0000"/><circle cx="426.6" cy="73.0" r="0.8" fill="#ff0000"/><circle cx="425.2" cy="73.1" r="0.8" fill="#ff0000"/><circle cx="431.0" cy="78.5" r="0.8" fill="#ff0000"/><circle cx="428.5" cy="78.4" r="0.8" fill="#ff0000"/><circle cx="426.7" cy="81.1" r="0.8" fill="#ff0000"/><circle cx="426.9" cy="66.8" r="0.8" fill="#ff0000"/><circle cx="431.9" cy="87.7" r="0.8" fill="#ff0000"/><circle cx="422.5" cy="90.0" r="0.8" fill="#ff0000"/><circle cx="423.5" cy="70.2" r="0.8" fill="#ff0000"/><circle cx="431.7" cy="74.4" r="0.8" fill="#ff0000"/><circle cx="427.9" cy="88.7" r="0.8" fill="#ff0000"/><circle cx="422.8" cy="76.8" r="0.8" fill="#ff0000"/><circle cx="428.1" cy="85.4" r="0.8" fill="#ff0000"/><circle cx="425.1" cy="89.5" r="0.8" fill="#ff0000"/><circle cx="434.7" cy="89.9" r="0.8" fill="#ff0000"/><circle cx="423.2" cy="80.2" r="0.8" fill="#ff0000"/><circle cx="429.5" cy="80.5" r="0.8" fill="#ff0000"/><circle cx="429.9" cy="79.0" r="0.8" fill="#ff0000"/><circle cx="437.4" cy="85.3" r="0.8" fill="#ff0000"/><circle cx="430.9" cy="74.3" r="0.8" fill="#ff0000"/><circle cx="424.7" cy="75.0" r="0.8" fill="#ff0000"/><circle cx="429.9" cy="68.1" r="0.8" fill="#ff0000"/><circle cx="423.4" cy="90.5" r="0.8" fill="#ff0000"/><circle cx="437.5" cy="90.9" r="0.8" fill="#ff0000"/><circle cx="435.9" cy="84.4" r="0.8" fill="#ff0000"/><circle cx="429.2" cy="79.0" r="0.8" fill="#ff0000"/><circle cx="437.6" cy="91.1" r="0.8" fill="#ff0000"/><circle cx="422.5" cy="88.8" r="0.8" fill="#ff0000"/><circle cx="425.4" cy="89.7" r="0.8" fill="#ff0000"/><circle cx="439.4" cy="86.1" r="0.8" fill="#ff0000"/><circle cx="424.9" cy="66.2" r="0.8" fill="#ff0000"/><circle cx="425.4" cy="85.8" r="0.8" fill="#ff0000"/><circle cx="427.4" cy="74.3" r="0.8" fill="#ff0000"/><circle cx="429.3" cy="86.2" r="0.8" fill="#ff0000"/><circle cx="426.9" cy="88.0" r="0.8" fill="#ff0000"/><circle cx="427.0" cy="84.9" r="0.8" fill="#ff0000"/><circle cx="426.3" cy="65.5" r="0.8" fill="#ff0000"/><circle cx="422.9" cy="81.7" r="0.8" fill="#ff0000"/><circle cx="425.1" cy="89.7" r="0.8" fill="#ff0000"/>
<circle cx="411.4" cy="23.6" r="0.8" fill="#0000ff"/><circle cx="412.1" cy="25.1" r="0.8" fill="#0000ff"/><circle cx="414.4" cy="23.6" r="0.8" fill="#0000ff"/><circle cx="409.5" cy="29.1" r="0.8" fill="#0000ff"/><circle cx="410.7" cy="29.6" r="0.8" fill="#0000ff"/><circle cx="412.4" cy="29.9" r="0.8" fill="#0000ff"/><circle cx="407.4" cy="33.1" r="0.8" fill="#0000ff"/><circle cx="410.7" cy="32.8" r="0.8" fill="#0000ff"/><circle cx="412.1" cy="34.3" r="0.8" fill="#0000ff"/><circle cx="413.6" cy="36.1" r="0.8" fill="#0000ff"/><circle cx="414.4" cy="38.5" r="0.8" fill="#0000ff"/><circle cx="409.9" cy="40.3" r="0.8" fill="#0000ff"/><circle cx="411.4" cy="43.2" r="0.8" fill="#0000ff"/><circle cx="413.6" cy="44.7" r="0.8" fill="#0000ff"/><circle cx="415.1" cy="45.5" r="0.8" fill="#0000ff"/><circle cx="412.1" cy="48.4" r="0.8" fill="#0000ff"/><circle cx="413.6" cy="49.9" r="0.8" fill="#0000ff"/><circle cx="412.9" cy="51.4" r="0.8" fill="#0000ff"/><circle cx="414.4" cy="52.1" r="0.8" fill="#0000ff"/><circle cx="389.9" cy="54.8" r="0.8" fill="#0000ff"/><circle cx="386.6" cy="58.1" r="0.8" fill="#0000ff"/><circle cx="408.4" cy="53.9" r="0.8" fill="#0000ff"/><circle cx="409.2" cy="56.6" r="0.8" fill="#0000ff"/><circle cx="411.4" cy="55.9" r="0.8" fill="#0000ff"/><circle cx="413.6" cy="57.3" r="0.8" fill="#0000ff"/><circle cx="415.1" cy="58.8" r="0.8" fill="#0000ff"/><circle cx="410.7" cy="58.8" r="0.8" fill="#0000ff"/><circle cx="389.6" cy="54.7" r="0.8" fill="#0000ff"/><circle cx="386.6" cy="58.2" r="0.8" fill="#0000ff"/><circle cx="388.4" cy="62.4" r="0.8" fill="#0000ff"/><circle cx="389.9" cy="66.1" r="0.8" fill="#0000ff"/><circle cx="391.0" cy="67.6" r="0.8" fill="#0000ff"/><circle cx="392.8" cy="72.1" r="0.8" fill="#0000ff"/><circle cx="394.0" cy="74.6" r="0.8" fill="#0000ff"/><circle cx="395.1" cy="76.5" r="0.8" fill="#0000ff"/><circle cx="398.0" cy="76.5" r="0.8" fill="#0000ff"/><circle cx="396.5" cy="79.5" r="0.8" fill="#0000ff"/><circle cx="397.3" cy="81.0" r="0.8" fill="#0000ff"/><circle cx="398.8" cy="83.2" r="0.8" fill="#0000ff"/><circle cx="399.5" cy="84.7" r="0.8" fill="#0000ff"/><circle cx="401.0" cy="86.9" r="0.8" fill="#0000ff"/><circle cx="397.3" cy="90.3" r="0.8" fill="#0000ff"/><circle cx="407.7" cy="55.0" r="0.8" fill="#0000ff"/><circle cx="407.7" cy="57.9" r="0.8" fill="#0000ff"/><circle cx="408.4" cy="60.2" r="0.8" fill="#0000ff"/><circle cx="410.7" cy="56.5" r="0.8" fill="#0000ff"/><circle cx="409.9" cy="59.4" r="0.8" fill="#0000ff"/><circle cx="404.0" cy="81.7" r="0.8" fill="#0000ff"/><circle cx="402.5" cy="84.0" r="0.8" fill="#0000ff"/><circle cx="401.0" cy="85.4" r="0.8" fill="#0000ff"/><circle cx="406.2" cy="78.7" r="0.8" fill="#0000ff"/><circle cx="407.7" cy="78.0" r="0.8" fill="#0000ff"/><circle cx="411.4" cy="68.3" r="0.8" fill="#0000ff"/><circle cx="412.1" cy="69.8" r="0.8" fill="#0000ff"/>
<circle cx="429.1" cy="30.2" r="0.8" fill="#ff0000"/><circle cx="430.2" cy="29.6" r="0.8" fill="#ff0000"/><circle cx="425.7" cy="37.3" r="0.8" fill="#ff0000"/><circle cx="434.3" cy="42.0" r="0.8" fill="#ff0000"/><circle cx="425.1" cy="47.4" r="0.8" fill="#ff0000"/><circle cx="426.6" cy="47.7" r="0.8" fill="#ff0000"/><circle cx="424.7" cy="56.3" r="0.8" fill="#ff0000"/><circle cx="426.6" cy="55.9" r="0.8" fill="#ff0000"/><circle cx="423.2" cy="58.1" r="0.8" fill="#ff0000"/><circle cx="425.4" cy="59.3" r="0.8" fill="#ff0000"/><circle cx="428.4" cy="59.3" r="0.8" fill="#ff0000"/><circle cx="429.9" cy="58.8" r="0.8" fill="#ff0000"/><circle cx="426.1" cy="55.7" r="0.8" fill="#ff0000"/><circle cx="424.7" cy="56.5" r="0.8" fill="#ff0000"/><circle cx="429.9" cy="58.7" r="0.8" fill="#ff0000"/><circle cx="429.1" cy="59.4" r="0.8" fill="#ff0000"/><circle cx="425.4" cy="62.4" r="0.8" fill="#ff0000"/><circle cx="429.9" cy="66.6" r="0.8" fill="#ff0000"/><circle cx="431.3" cy="66.6" r="0.8" fill="#ff0000"/><circle cx="448.4" cy="67.6" r="0.8" fill="#ff0000"/><circle cx="433.6" cy="74.3" r="0.8" fill="#ff0000"/><circle cx="434.3" cy="77.3" r="0.8" fill="#ff0000"/><circle cx="444.7" cy="75.0" r="0.8" fill="#ff0000"/><circle cx="444.0" cy="77.3" r="0.8" fill="#ff0000"/><circle cx="440.3" cy="78.4" r="0.8" fill="#ff0000"/><circle cx="440.3" cy="84.0" r="0.8" fill="#ff0000"/><circle cx="438.8" cy="85.4" r="0.8" fill="#ff0000"/><circle cx="439.5" cy="90.6" r="0.8" fill="#ff0000"/>
<polygon points="574.0,91.4 614.0,91.4 614.0,94.4 574.0,94.4" fill="#d4d4d4" />
<polygon points="591.5,76.0 595.8,76.0 595.8,94.4 591.5,94.4" fill="#e6e6e6" />
<polygon points="593.0,84.0 594.4,84.0 594.8,94.4 592.6,94.4" fill="#d4d4d4" />
<polygon points="591.5,68.0 588.5,68.0 587.0,75.0 585.5,80.5 582.0,86.0 578.5,89.5 576.0,91.6 591.5,91.6" fill="#0000ff" fill-opacity="0.8"/>
<circle cx="587.5" cy="86.8" r="0.8" fill="#0000ff"/><circle cx="591.1" cy="83.5" r="0.8" fill="#0000ff"/><circle cx="584.2" cy="83.8" r="0.8" fill="#0000ff"/><circle cx="590.8" cy="76.8" r="0.8" fill="#0000ff"/><circle cx="589.4" cy="76.0" r="0.8" fill="#0000ff"/><circle cx="587.2" cy="91.1" r="0.8" fill="#0000ff"/><circle cx="584.3" cy="87.9" r="0.8" fill="#0000ff"/><circle cx="590.3" cy="90.0" r="0.8" fill="#0000ff"/><circle cx="582.8" cy="89.0" r="0.8" fill="#0000ff"/><circle cx="587.7" cy="80.3" r="0.8" fill="#0000ff"/><circle cx="590.3" cy="72.4" r="0.8" fill="#0000ff"/><circle cx="585.8" cy="88.9" r="0.8" fill="#0000ff"/><circle cx="589.4" cy="71.8" r="0.8" fill="#0000ff"/><circle cx="580.2" cy="88.8" r="0.8" fill="#0000ff"/><circle cx="589.6" cy="83.3" r="0.8" fill="#0000ff"/><circle cx="587.2" cy="74.7" r="0.8" fill="#0000ff"/><circle cx="590.2" cy="72.3" r="0.8" fill="#0000ff"/><circle cx="588.7" cy="69.0" r="0.8" fill="#0000ff"/><circle cx="585.9" cy="85.8" r="0.8" fill="#0000ff"/><circle cx="590.3" cy="89.8" r="0.8" fill="#0000ff"/><circle cx="587.5" cy="83.8" r="0.8" fill="#0000ff"/><circle cx="589.0" cy="72.9" r="0.8" fill="#0000ff"/><circle cx="590.0" cy="87.9" r="0.8" fill="#0000ff"/><circle cx="590.7" cy="75.9" r="0.8" fill="#0000ff"/><circle cx="578.9" cy="90.1" r="0.8" fill="#0000ff"/><circle cx="587.5" cy="76.4" r="0.8" fill="#0000ff"/><circle cx="586.7" cy="88.5" r="0.8" fill="#0000ff"/><circle cx="589.9" cy="75.2" r="0.8" fill="#0000ff"/><circle cx="587.6" cy="88.4" r="0.8" fill="#0000ff"/><circle cx="586.6" cy="79.6" r="0.8" fill="#0000ff"/><circle cx="584.4" cy="91.1" r="0.8" fill="#0000ff"/><circle cx="586.6" cy="78.9" r="0.8" fill="#0000ff"/><circle cx="584.3" cy="86.2" r="0.8" fill="#0000ff"/><circle cx="587.7" cy="72.4" r="0.8" fill="#0000ff"/><circle cx="589.7" cy="91.3" r="0.8" fill="#0000ff"/><circle cx="581.9" cy="90.1" r="0.8" fill="#0000ff"/><circle cx="589.5" cy="79.9" r="0.8" fill="#0000ff"/><circle cx="590.6" cy="80.9" r="0.8" fill="#0000ff"/><circle cx="589.9" cy="71.0" r="0.8" fill="#0000ff"/><circle cx="588.9" cy="87.6" r="0.8" fill="#0000ff"/><circle cx="581.5" cy="89.8" r="0.8" fill="#0000ff"/><circle cx="585.0" cy="85.5" r="0.8" fill="#0000ff"/><circle cx="589.1" cy="73.0" r="0.8" fill="#0000ff"/><circle cx="589.0" cy="76.9" r="0.8" fill="#0000ff"/><circle cx="591.2" cy="88.1" r="0.8" fill="#0000ff"/><circle cx="583.1" cy="85.1" r="0.8" fill="#0000ff"/><circle cx="588.2" cy="91.3" r="0.8" fill="#0000ff"/><circle cx="585.4" cy="90.5" r="0.8" fill="#0000ff"/><circle cx="585.7" cy="85.6" r="0.8" fill="#0000ff"/><circle cx="591.4" cy="87.2" r="0.8" fill="#0000ff"/><circle cx="587.5" cy="76.9" r="0.8" fill="#0000ff"/><circle cx="581.4" cy="86.6" r="0.8" fill="#0000ff"/><circle cx="591.2" cy="81.2" r="0.8" fill="#0000ff"/><circle cx="589.7" cy="87.3" r="0.8" fill="#0000ff"/><circle cx="589.1" cy="70.7" r="0.8" fill="#0000ff"/><circle cx="587.1" cy="74.8" r="0.8" fill="#0000ff"/><circle cx="586.8" cy="82.6" r="0.8" fill="#0000ff"/><circle cx="579.9" cy="89.0" r="0.8" fill="#0000ff"/><circle cx="588.3" cy="80.0" r="0.8" fill="#0000ff"/><circle cx="587.1" cy="79.0" r="0.8" fill="#0000ff"/><circle cx="589.6" cy="70.1" r="0.8" fill="#0000ff"/><circle cx="587.9" cy="88.6" r="0.8" fill="#0000ff"/><circle cx="588.7" cy="80.3" r="0.8" fill="#0000ff"/><circle cx="586.7" cy="86.6" r="0.8" fill="#0000ff"/><circle cx="584.7" cy="86.3" r="0.8" fill="#0000ff"/><circle cx="590.7" cy="75.0" r="0.8" fill="#0000ff"/><circle cx="589.7" cy="88.4" r="0.8" fill="#0000ff"/><circle cx="587.1" cy="89.1" r="0.8" fill="#0000ff"/><circle cx="581.0" cy="88.2" r="0.8" fill="#0000ff"/><circle cx="583.0" cy="85.4" r="0.8" fill="#0000ff"/><circle cx="587.3" cy="76.9" r="0.8" fill="#0000ff"/><circle cx="588.5" cy="75.5" r="0.8" fill="#0000ff"/><circle cx="587.7" cy="87.2" r="0.8" fill="#0000ff"/><circle cx="590.1" cy="88.9" r="0.8" fill="#0000ff"/><circle cx="585.6" cy="86.1" r="0.8" fill="#0000ff"/><circle cx="589.1" cy="68.7" r="0.8" fill="#0000ff"/><circle cx="589.7" cy="87.3" r="0.8" fill="#0000ff"/><circle cx="590.0" cy="87.6" r="0.8" fill="#0000ff"/><circle cx="590.2" cy="80.0" r="0.8" fill="#0000ff"/><circle cx="587.1" cy="90.8" r="0.8" fill="#0000ff"/><circle cx="589.8" cy="82.6" r="0.8" fill="#0000ff"/><circle cx="587.7" cy="74.4" r="0.8" fill="#0000ff"/><circle cx="585.9" cy="84.4" r="0.8" fill="#0000ff"/>
<circle cx="579.0" cy="85.2" r="0.8" fill="#0000ff"/><circle cx="584.2" cy="80.2" r="0.8" fill="#0000ff"/><circle cx="591.2" cy="68.4" r="0.8" fill="#0000ff"/><circle cx="577.9" cy="88.9" r="0.8" fill="#0000ff"/><circle cx="577.9" cy="90.0" r="0.8" fill="#0000ff"/><circle cx="587.5" cy="68.7" r="0.8" fill="#0000ff"/><circle cx="588.0" cy="80.3" r="0.8" fill="#0000ff"/><circle cx="591.2" cy="80.0" r="0.8" fill="#0000ff"/><circle cx="587.0" cy="73.5" r="0.8" fill="#0000ff"/><circle cx="584.7" cy="85.4" r="0.8" fill="#0000ff"/><circle cx="590.4" cy="78.9" r="0.8" fill="#0000ff"/><circle cx="584.9" cy="77.7" r="0.8" fill="#0000ff"/><circle cx="583.7" cy="68.1" r="0.8" fill="#0000ff"/><circle cx="586.4" cy="78.7" r="0.8" fill="#0000ff"/><circle cx="589.4" cy="68.6" r="0.8" fill="#0000ff"/><circle cx="587.7" cy="66.4" r="0.8" fill="#0000ff"/><circle cx="584.5" cy="88.4" r="0.8" fill="#0000ff"/><circle cx="587.7" cy="79.1" r="0.8" fill="#0000ff"/><circle cx="589.7" cy="76.5" r="0.8" fill="#0000ff"/><circle cx="590.6" cy="76.7" r="0.8" fill="#0000ff"/><circle cx="587.6" cy="79.8" r="0.8" fill="#0000ff"/><circle cx="578.1" cy="91.6" r="0.8" fill="#0000ff"/><circle cx="591.2" cy="88.7" r="0.8" fill="#0000ff"/><circle cx="589.7" cy="73.1" r="0.8" fill="#0000ff"/><circle cx="584.6" cy="87.3" r="0.8" fill="#0000ff"/><circle cx="589.2" cy="68.0" r="0.8" fill="#0000ff"/><circle cx="590.9" cy="90.5" r="0.8" fill="#0000ff"/><circle cx="578.3" cy="91.3" r="0.8" fill="#0000ff"/><circle cx="587.8" cy="90.9" r="0.8" fill="#0000ff"/><circle cx="582.4" cy="90.9" r="0.8" fill="#0000ff"/><circle cx="583.6" cy="88.8" r="0.8" fill="#0000ff"/><circle cx="579.7" cy="85.9" r="0.8" fill="#0000ff"/><circle cx="589.6" cy="79.0" r="0.8" fill="#0000ff"/><circle cx="579.4" cy="87.4" r="0.8" fill="#0000ff"/><circle cx="576.8" cy="87.4" r="0.8" fill="#0000ff"/><circle cx="589.0" cy="77.4" r="0.8" fill="#0000ff"/><circle cx="589.0" cy="70.3" r="0.8" fill="#0000ff"/><circle cx="590.1" cy="70.8" r="0.8" fill="#0000ff"/><circle cx="583.6" cy="81.8" r="0.8" fill="#0000ff"/><circle cx="590.2" cy="71.9" r="0.8" fill="#0000ff"/><circle cx="584.9" cy="85.8" r="0.8" fill="#0000ff"/><circle cx="588.9" cy="90.9" r="0.8" fill="#0000ff"/><circle cx="589.6" cy="80.8" r="0.8" fill="#0000ff"/><circle cx="579.3" cy="87.3" r="0.8" fill="#0000ff"/><circle cx="587.5" cy="71.1" r="0.8" fill="#0000ff"/><circle cx="580.6" cy="82.0" r="0.8" fill="#0000ff"/><circle cx="589.9" cy="76.4" r="0.8" fill="#0000ff"/><circle cx="577.5" cy="91.5" r="0.8" fill="#0000ff"/><circle cx="581.2" cy="91.3" r="0.8" fill="#0000ff"/><circle cx="581.7" cy="90.7" r="0.8" fill="#0000ff"/><circle cx="576.3" cy="86.4" r="0.8" fill="#0000ff"/><circle cx="589.2" cy="88.8" r="0.8" fill="#0000ff"/><circle cx="588.1" cy="71.9" r="0.8" fill="#0000ff"/><circle cx="589.1" cy="88.7" r="0.8" fill="#0000ff"/><circle cx="582.8" cy="87.6" r="0.8" fill="#0000ff"/><circle cx="591.0" cy="63.6" r="0.8" fill="#0000ff"/><circle cx="590.3" cy="60.2" r="0.8" fill="#0000ff"/><circle cx="584.4" cy="77.1" r="0.8" fill="#0000ff"/><circle cx="591.2" cy="72.6" r="0.8" fill="#0000ff"/><circle cx="586.5" cy="86.1" r="0.8" fill="#0000ff"/><circle cx="583.2" cy="84.6" r="0.8" fill="#0000ff"/><circle cx="585.8" cy="86.7" r="0.8" fill="#0000ff"/><circle cx="581.9" cy="80.0" r="0.8" fill="#0000ff"/><circle cx="587.6" cy="67.4" r="0.8" fill="#0000ff"/><circle cx="580.5" cy="87.4" r="0.8" fill="#0000ff"/><circle cx="590.2" cy="82.5" r="0.8" fill="#0000ff"/><circle cx="589.7" cy="89.3" r="0.8" fill="#0000ff"/><circle cx="588.0" cy="78.2" r="0.8" fill="#0000ff"/><circle cx="582.6" cy="88.0" r="0.8" fill="#0000ff"/><circle cx="576.2" cy="89.0" r="0.8" fill="#0000ff"/><circle cx="587.2" cy="72.5" r="0.8" fill="#0000ff"/><circle cx="590.5" cy="63.5" r="0.8" fill="#0000ff"/><circle cx="585.8" cy="65.6" r="0.8" fill="#0000ff"/><circle cx="581.9" cy="87.8" r="0.8" fill="#0000ff"/><circle cx="581.9" cy="83.8" r="0.8" fill="#0000ff"/><circle cx="582.4" cy="68.6" r="0.8" fill="#0000ff"/><circle cx="590.2" cy="83.3" r="0.8" fill="#0000ff"/><circle cx="588.6" cy="75.1" r="0.8" fill="#0000ff"/><circle cx="588.0" cy="71.1" r="0.8" fill="#0000ff"/><circle cx="588.8" cy="64.0" r="0.8" fill="#0000ff"/><circle cx="590.6" cy="84.1" r="0.8" fill="#0000ff"/><circle cx="589.2" cy="77.5" r="0.8" fill="#0000ff"/><circle cx="575.4" cy="87.4" r="0.8" fill="#0000ff"/><circle cx="585.3" cy="78.5" r="0.8" fill="#0000ff"/><circle cx="588.5" cy="84.0" r="0.8" fill="#0000ff"/><circle cx="588.1" cy="72.6" r="0.8" fill="#0000ff"/><circle cx="589.4" cy="86.2" r="0.8" fill="#0000ff"/><circle cx="590.6" cy="84.5" r="0.8" fill="#0000ff"/><circle cx="590.5" cy="76.6" r="0.8" fill="#0000ff"/><circle cx="573.5" cy="90.7" r="0.8" fill="#0000ff"/><circle cx="582.0" cy="80.4" r="0.8" fill="#0000ff"/><circle cx="589.6" cy="87.6" r="0.8" fill="#0000ff"/><circle cx="586.6" cy="81.0" r="0.8" fill="#0000ff"/><circle cx="585.2" cy="75.8" r="0.8" fill="#0000ff"/><circle cx="587.4" cy="76.0" r="0.8" fill="#0000ff"/><circle cx="588.6" cy="86.1" r="0.8" fill="#0000ff"/><circle cx="589.3" cy="69.5" r="0.8" fill="#0000ff"/><circle cx="585.5" cy="85.2" r="0.8" fill="#0000ff"/><circle cx="579.9" cy="85.1" r="0.8" fill="#0000ff"/><circle cx="588.4" cy="86.2" r="0.8" fill="#0000ff"/><circle cx="585.2" cy="67.7" r="0.8" fill="#0000ff"/><circle cx="571.5" cy="91.5" r="0.8" fill="#0000ff"/><circle cx="581.1" cy="90.1" r="0.8" fill="#0000ff"/><circle cx="587.9" cy="89.9" r="0.8" fill="#0000ff"/><circle cx="587.3" cy="69.8" r="0.8" fill="#0000ff"/><circle cx="586.2" cy="71.3" r="0.8" fill="#0000ff"/><circle cx="591.1" cy="67.6" r="0.8" fill="#0000ff"/><circle cx="586.3" cy="86.6" r="0.8" fill="#0000ff"/><circle cx="589.9" cy="80.4" r="0.8" fill="#0000ff"/><circle cx="585.9" cy="77.0" r="0.8" fill="#0000ff"/><circle cx="580.1" cy="89.0" r="0.8" fill="#0000ff"/><circle cx="581.0" cy="77.9" r="0.8" fill="#0000ff"/><circle cx="588.8" cy="68.7" r="0.8" fill="#0000ff"/><circle cx="580.5" cy="75.1" r="0.8" fill="#0000ff"/><circle cx="579.0" cy="87.5" r="0.8" fill="#0000ff"/><circle cx="587.8" cy="67.3" r="0.8" fill="#0000ff"/><circle cx="587.4" cy="63.5" r="0.8" fill="#0000ff"/><circle cx="584.2" cy="89.1" r="0.8" fill="#0000ff"/><circle cx="586.1" cy="77.8" r="0.8" fill="#0000ff"/><circle cx="590.1" cy="79.9" r="0.8" fill="#0000ff"/><circle cx="586.7" cy="86.6" r="0.8" fill="#0000ff"/><circle cx="590.4" cy="64.3" r="0.8" fill="#0000ff"/><circle cx="578.6" cy="90.1" r="0.8" fill="#0000ff"/><circle cx="586.6" cy="79.8" r="0.8" fill="#0000ff"/><circle cx="583.5" cy="87.8" r="0.8" fill="#0000ff"/><circle cx="586.8" cy="66.1" r="0.8" fill="#0000ff"/><circle cx="590.3" cy="78.2" r="0.8" fill="#0000ff"/><circle cx="584.2" cy="87.5" r="0.8" fill="#0000ff"/><circle cx="586.3" cy="68.0" r="0.8" fill="#0000ff"/><circle cx="589.6" cy="81.8" r="0.8" fill="#0000ff"/><circle cx="574.7" cy="88.4" r="0.8" fill="#0000ff"/><circle cx="587.1" cy="84.5" r="0.8" fill="#0000ff"/><circle cx="584.1" cy="89.5" r="0.8" fill="#0000ff"/><circle cx="583.1" cy="72.6" r="0.8" fill="#0000ff"/><circle cx="577.9" cy="90.3" r="0.8" fill="#0000ff"/><circle cx="573.7" cy="88.7" r="0.8" fill="#0000ff"/><circle cx="587.7" cy="79.9" r="0.8" fill="#0000ff"/><circle cx="590.5" cy="89.5" r="0.8" fill="#0000ff"/><circle cx="579.7" cy="80.6" r="0.8" fill="#0000ff"/><circle cx="587.3" cy="77.1" r="0.8" fill="#0000ff"/><circle cx="587.6" cy="71.9" r="0.8" fill="#0000ff"/><circle cx="587.9" cy="61.9" r="0.8" fill="#0000ff"/><circle cx="588.4" cy="82.8" r="0.8" fill="#0000ff"/><circle cx="589.1" cy="71.7" r="0.8" fill="#0000ff"/><circle cx="591.0" cy="71.6" r="0.8" fill="#0000ff"/><circle cx="579.7" cy="88.1" r="0.8" fill="#0000ff"/><circle cx="586.9" cy="66.8" r="0.8" fill="#0000ff"/><circle cx="589.7" cy="69.2" r="0.8" fill="#0000ff"/><circle cx="585.5" cy="88.8" r="0.8" fill="#0000ff"/><circle cx="586.4" cy="78.4" r="0.8" fill="#0000ff"/><circle cx="587.6" cy="85.9" r="0.8" fill="#0000ff"/><circle cx="584.9" cy="77.3" r="0.8" fill="#0000ff"/><circle cx="589.4" cy="87.0" r="0.8" fill="#0000ff"/><circle cx="587.7" cy="77.6" r="0.8" fill="#0000ff"/><circle cx="584.4" cy="80.0" r="0.8" fill="#0000ff"/><circle cx="588.8" cy="82.2" r="0.8" fill="#0000ff"/><circle cx="589.7" cy="70.9" r="0.8" fill="#0000ff"/><circle cx="577.9" cy="79.6" r="0.8" fill="#0000ff"/><circle cx="574.8" cy="91.5" r="0.8" fill="#0000ff"/><circle cx="587.8" cy="69.3" r="0.8" fill="#0000ff"/><circle cx="574.2" cy="87.4" r="0.8" fill="#0000ff"/><circle cx="587.2" cy="85.4" r="0.8" fill="#0000ff"/><circle cx="588.2" cy="85.3" r="0.8" fill="#0000ff"/><circle cx="583.3" cy="75.7" r="0.8" fill="#0000ff"/><circle cx="580.5" cy="89.4" r="0.8" fill="#0000ff"/><circle cx="587.5" cy="74.2" r="0.8" fill="#0000ff"/><circle cx="584.0" cy="70.8" r="0.8" fill="#0000ff"/><circle cx="578.7" cy="91.2" r="0.8" fill="#0000ff"/><circle cx="589.8" cy="63.0" r="0.8" fill="#0000ff"/><circle cx="588.7" cy="70.7" r="0.8" fill="#0000ff"/><circle cx="586.5" cy="88.0" r="0.8" fill="#0000ff"/><circle cx="575.8" cy="86.2" r="0.8" fill="#0000ff"/><circle cx="586.0" cy="90.5" r="0.8" fill="#0000ff"/>
<polygon points="595.8,66.0 599.0,64.0 600.5,70.0 602.5,77.0 605.0,82.0 608.5,87.0 611.0,90.5 612.0,91.6 595.8,91.6" fill="#ff0000" fill-opacity="0.8"/>
<circle cx="600.8" cy="87.4" r="0.8" fill="#ff0000"/><circle cx="596.2" cy="91.1" r="0.8" fill="#ff0000"/><circle cx="600.0" cy="86.1" r="0.8" fill="#ff0000"/><circle cx="598.6" cy="79.9" r="0.8" fill="#ff0000"/><circle cx="602.3" cy="83.0" r="0.8" fill="#ff0000"/><circle cx="608.3" cy="87.3" r="0.8" fill="#ff0000"/><circle cx="609.3" cy="88.1" r="0.8" fill="#ff0000"/><circle cx="599.0" cy="85.9" r="0.8" fill="#ff0000"/><circle cx="606.6" cy="88.3" r="0.8" fill="#ff0000"/><circle cx="598.3" cy="65.9" r="0.8" fill="#ff0000"/><circle cx="600.4" cy="73.9" r="0.8" fill="#ff0000"/><circle cx="597.9" cy="65.2" r="0.8" fill="#ff0000"/><circle cx="603.6" cy="87.7" r="0.8" fill="#ff0000"/><circle cx="600.9" cy="74.5" r="0.8" fill="#ff0000"/><circle cx="597.1" cy="74.1" r="0.8" fill="#ff0000"/><circle cx="600.2" cy="85.4" r="0.8" fill="#ff0000"/><circle cx="602.3" cy="82.0" r="0.8" fill="#ff0000"/><circle cx="598.3" cy="69.6" r="0.8" fill="#ff0000"/><circle cx="597.6" cy="81.1" r="0.8" fill="#ff0000"/><circle cx="602.0" cy="80.9" r="0.8" fill="#ff0000"/><circle cx="600.1" cy="79.0" r="0.8" fill="#ff0000"/><circle cx="608.0" cy="87.5" r="0.8" fill="#ff0000"/><circle cx="597.6" cy="89.0" r="0.8" fill="#ff0000"/><circle cx="602.1" cy="87.9" r="0.8" fill="#ff0000"/><circle cx="597.0" cy="80.4" r="0.8" fill="#ff0000"/><circle cx="603.8" cy="90.6" r="0.8" fill="#ff0000"/><circle cx="600.5" cy="84.0" r="0.8" fill="#ff0000"/><circle cx="603.5" cy="90.7" r="0.8" fill="#ff0000"/><circle cx="604.0" cy="81.2" r="0.8" fill="#ff0000"/><circle cx="600.0" cy="82.1" r="0.8" fill="#ff0000"/><circle cx="600.9" cy="86.4" r="0.8" fill="#ff0000"/><circle cx="604.2" cy="89.5" r="0.8" fill="#ff0000"/><circle cx="603.6" cy="83.6" r="0.8" fill="#ff0000"/><circle cx="607.6" cy="87.5" r="0.8" fill="#ff0000"/><circle cx="603.2" cy="83.2" r="0.8" fill="#ff0000"/><circle cx="603.0" cy="82.7" r="0.8" fill="#ff0000"/><circle cx="597.1" cy="67.4" r="0.8" fill="#ff0000"/><circle cx="603.2" cy="82.5" r="0.8" fill="#ff0000"/><circle cx="598.4" cy="67.2" r="0.8" fill="#ff0000"/><circle cx="596.7" cy="89.6" r="0.8" fill="#ff0000"/><circle cx="599.1" cy="64.6" r="0.8" fill="#ff0000"/><circle cx="602.0" cy="87.0" r="0.8" fill="#ff0000"/><circle cx="605.5" cy="87.3" r="0.8" fill="#ff0000"/><circle cx="604.2" cy="89.5" r="0.8" fill="#ff0000"/><circle cx="598.3" cy="76.6" r="0.8" fill="#ff0000"/><circle cx="596.7" cy="85.2" r="0.8" fill="#ff0000"/><circle cx="604.2" cy="90.3" r="0.8" fill="#ff0000"/><circle cx="602.3" cy="80.9" r="0.8" fill="#ff0000"/><circle cx="600.2" cy="73.9" r="0.8" fill="#ff0000"/><circle cx="596.1" cy="70.3" r="0.8" fill="#ff0000"/><circle cx="598.2" cy="87.1" r="0.8" fill="#ff0000"/><circle cx="608.4" cy="90.0" r="0.8" fill="#ff0000"/><circle cx="597.3" cy="80.3" r="0.8" fill="#ff0000"/><circle cx="598.1" cy="66.0" r="0.8" fill="#ff0000"/><circle cx="604.9" cy="83.7" r="0.8" fill="#ff0000"/><circle cx="599.1" cy="83.1" r="0.8" fill="#ff0000"/><circle cx="603.4" cy="89.2" r="0.8" fill="#ff0000"/><circle cx="606.4" cy="90.0" r="0.8" fill="#ff0000"/><circle cx="600.0" cy="90.0" r="0.8" fill="#ff0000"/><circle cx="597.6" cy="72.4" r="0.8" fill="#ff0000"/><circle cx="596.9" cy="78.1" r="0.8" fill="#ff0000"/><circle cx="597.5" cy="77.0" r="0.8" fill="#ff0000"/><circle cx="604.1" cy="90.9" r="0.8" fill="#ff0000"/><circle cx="608.6" cy="91.3" r="0.8" fill="#ff0000"/><circle cx="600.4" cy="77.3" r="0.8" fill="#ff0000"/><circle cx="598.7" cy="76.0" r="0.8" fill="#ff0000"/><circle cx="599.3" cy="80.8" r="0.8" fill="#ff0000"/><circle cx="605.9" cy="83.6" r="0.8" fill="#ff0000"/><circle cx="604.4" cy="89.8" r="0.8" fill="#ff0000"/><circle cx="602.9" cy="88.6" r="0.8" fill="#ff0000"/><circle cx="598.4" cy="65.2" r="0.8" fill="#ff0000"/><circle cx="597.8" cy="83.9" r="0.8" fill="#ff0000"/><circle cx="598.5" cy="74.7" r="0.8" fill="#ff0000"/><circle cx="600.5" cy="80.4" r="0.8" fill="#ff0000"/><circle cx="599.3" cy="91.5" r="0.8" fill="#ff0000"/><circle cx="599.5" cy="71.1" r="0.8" fill="#ff0000"/><circle cx="611.6" cy="91.3" r="0.8" fill="#ff0000"/><circle cx="600.9" cy="73.3" r="0.8" fill="#ff0000"/><circle cx="605.2" cy="90.5" r="0.8" fill="#ff0000"/><circle cx="603.1" cy="81.2" r="0.8" fill="#ff0000"/><circle cx="601.7" cy="81.9" r="0.8" fill="#ff0000"/><circle cx="596.2" cy="88.2" r="0.8" fill="#ff0000"/><circle cx="603.9" cy="85.5" r="0.8" fill="#ff0000"/><circle cx="606.4" cy="89.8" r="0.8" fill="#ff0000"/><circle cx="605.8" cy="91.3" r="0.8" fill="#ff0000"/><circle cx="597.5" cy="65.3" r="0.8" fill="#ff0000"/><circle cx="600.7" cy="74.4" r="0.8" fill="#ff0000"/><circle cx="600.9" cy="72.0" r="0.8" fill="#ff0000"/><circle cx="597.7" cy="69.7" r="0.8" fill="#ff0000"/><circle cx="599.0" cy="66.0" r="0.8" fill="#ff0000"/><circle cx="599.7" cy="79.6" r="0.8" fill="#ff0000"/><circle cx="604.3" cy="89.1" r="0.8" fill="#ff0000"/><circle cx="596.0" cy="74.7" r="0.8" fill="#ff0000"/><circle cx="597.5" cy="68.4" r="0.8" fill="#ff0000"/><circle cx="598.5" cy="70.9" r="0.8" fill="#ff0000"/><circle cx="595.8" cy="85.3" r="0.8" fill="#ff0000"/><circle cx="595.9" cy="89.2" r="0.8" fill="#ff0000"/><circle cx="599.7" cy="82.9" r="0.8" fill="#ff0000"/><circle cx="602.0" cy="84.2" r="0.8" fill="#ff0000"/><circle cx="596.6" cy="79.1" r="0.8" fill="#ff0000"/><circle cx="598.1" cy="76.8" r="0.8" fill="#ff0000"/><circle cx="610.0" cy="89.9" r="0.8" fill="#ff0000"/><circle cx="600.6" cy="84.8" r="0.8" fill="#ff0000"/><circle cx="597.6" cy="81.3" r="0.8" fill="#ff0000"/><circle cx="598.5" cy="88.8" r="0.8" fill="#ff0000"/><circle cx="596.2" cy="69.7" r="0.8" fill="#ff0000"/><circle cx="596.1" cy="82.9" r="0.8" fill="#ff0000"/><circle cx="606.4" cy="87.7" r="0.8" fill="#ff0000"/><circle cx="604.6" cy="86.5" r="0.8" fill="#ff0000"/><circle cx="599.3" cy="72.4" r="0.8" fill="#ff0000"/>
<circle cx="602.3" cy="66.6" r="0.8" fill="#ff0000"/><circle cx="605.7" cy="87.0" r="0.8" fill="#ff0000"/><circle cx="609.1" cy="81.1" r="0.8" fill="#ff0000"/><circle cx="595.9" cy="71.2" r="0.8" fill="#ff0000"/><circle cx="606.6" cy="77.9" r="0.8" fill="#ff0000"/><circle cx="607.5" cy="80.8" r="0.8" fill="#ff0000"/><circle cx="597.4" cy="69.6" r="0.8" fill="#ff0000"/><circle cx="605.5" cy="83.5" r="0.8" fill="#ff0000"/><circle cx="600.0" cy="87.6" r="0.8" fill="#ff0000"/><circle cx="613.9" cy="89.0" r="0.8" fill="#ff0000"/><circle cx="603.9" cy="65.5" r="0.8" fill="#ff0000"/><circle cx="596.6" cy="66.7" r="0.8" fill="#ff0000"/><circle cx="599.6" cy="81.5" r="0.8" fill="#ff0000"/><circle cx="605.7" cy="87.7" r="0.8" fill="#ff0000"/><circle cx="599.6" cy="63.2" r="0.8" fill="#ff0000"/><circle cx="595.9" cy="67.3" r="0.8" fill="#ff0000"/><circle cx="601.7" cy="75.6" r="0.8" fill="#ff0000"/><circle cx="602.3" cy="78.4" r="0.8" fill="#ff0000"/><circle cx="602.6" cy="76.5" r="0.8" fill="#ff0000"/><circle cx="597.7" cy="78.8" r="0.8" fill="#ff0000"/><circle cx="606.3" cy="86.7" r="0.8" fill="#ff0000"/><circle cx="598.4" cy="64.4" r="0.8" fill="#ff0000"/><circle cx="599.9" cy="71.2" r="0.8" fill="#ff0000"/><circle cx="598.2" cy="74.2" r="0.8" fill="#ff0000"/><circle cx="598.5" cy="62.9" r="0.8" fill="#ff0000"/><circle cx="610.9" cy="86.1" r="0.8" fill="#ff0000"/><circle cx="597.1" cy="79.7" r="0.8" fill="#ff0000"/><circle cx="602.5" cy="65.6" r="0.8" fill="#ff0000"/><circle cx="596.7" cy="90.6" r="0.8" fill="#ff0000"/><circle cx="596.3" cy="76.0" r="0.8" fill="#ff0000"/><circle cx="601.0" cy="71.7" r="0.8" fill="#ff0000"/><circle cx="596.8" cy="72.7" r="0.8" fill="#ff0000"/><circle cx="598.2" cy="88.1" r="0.8" fill="#ff0000"/><circle cx="595.9" cy="84.4" r="0.8" fill="#ff0000"/><circle cx="597.1" cy="64.5" r="0.8" fill="#ff0000"/><circle cx="600.6" cy="82.7" r="0.8" fill="#ff0000"/><circle cx="609.2" cy="90.4" r="0.8" fill="#ff0000"/><circle cx="609.9" cy="87.9" r="0.8" fill="#ff0000"/><circle cx="598.4" cy="76.2" r="0.8" fill="#ff0000"/><circle cx="599.1" cy="78.4" r="0.8" fill="#ff0000"/><circle cx="601.7" cy="84.1" r="0.8" fill="#ff0000"/><circle cx="597.5" cy="67.5" r="0.8" fill="#ff0000"/><circle cx="602.3" cy="89.9" r="0.8" fill="#ff0000"/><circle cx="604.4" cy="86.2" r="0.8" fill="#ff0000"/><circle cx="601.7" cy="88.4" r="0.8" fill="#ff0000"/><circle cx="600.2" cy="75.0" r="0.8" fill="#ff0000"/><circle cx="603.3" cy="77.6" r="0.8" fill="#ff0000"/><circle cx="596.0" cy="69.0" r="0.8" fill="#ff0000"/><circle cx="601.8" cy="64.5" r="0.8" fill="#ff0000"/><circle cx="602.5" cy="72.7" r="0.8" fill="#ff0000"/><circle cx="596.5" cy="87.3" r="0.8" fill="#ff0000"/><circle cx="596.9" cy="78.4" r="0.8" fill="#ff0000"/><circle cx="596.4" cy="74.8" r="0.8" fill="#ff0000"/><circle cx="596.0" cy="65.7" r="0.8" fill="#ff0000"/><circle cx="597.3" cy="90.5" r="0.8" fill="#ff0000"/><circle cx="601.8" cy="77.1" r="0.8" fill="#ff0000"/><circle cx="598.1" cy="62.2" r="0.8" fill="#ff0000"/><circle cx="597.9" cy="68.2" r="0.8" fill="#ff0000"/><circle cx="600.8" cy="70.1" r="0.8" fill="#ff0000"/><circle cx="596.2" cy="74.5" r="0.8" fill="#ff0000"/><circle cx="601.2" cy="72.3" r="0.8" fill="#ff0000"/><circle cx="608.1" cy="78.7" r="0.8" fill="#ff0000"/><circle cx="605.5" cy="85.2" r="0.8" fill="#ff0000"/><circle cx="606.3" cy="78.1" r="0.8" fill="#ff0000"/><circle cx="605.9" cy="86.0" r="0.8" fill="#ff0000"/><circle cx="597.3" cy="78.3" r="0.8" fill="#ff0000"/><circle cx="596.8" cy="67.5" r="0.8" fill="#ff0000"/><circle cx="601.6" cy="85.9" r="0.8" fill="#ff0000"/><circle cx="597.4" cy="67.6" r="0.8" fill="#ff0000"/><circle cx="603.1" cy="87.3" r="0.8" fill="#ff0000"/><circle cx="601.3" cy="86.1" r="0.8" fill="#ff0000"/><circle cx="596.0" cy="80.7" r="0.8" fill="#ff0000"/><circle cx="599.4" cy="70.8" r="0.8" fill="#ff0000"/><circle cx="597.9" cy="80.4" r="0.8" fill="#ff0000"/><circle cx="608.2" cy="90.0" r="0.8" fill="#ff0000"/><circle cx="596.9" cy="67.8" r="0.8" fill="#ff0000"/><circle cx="601.6" cy="74.0" r="0.8" fill="#ff0000"/><circle cx="605.1" cy="70.9" r="0.8" fill="#ff0000"/><circle cx="596.5" cy="85.4" r="0.8" fill="#ff0000"/><circle cx="596.6" cy="82.5" r="0.8" fill="#ff0000"/><circle cx="602.4" cy="71.5" r="0.8" fill="#ff0000"/><circle cx="595.8" cy="49.8" r="0.8" fill="#ff0000"/><circle cx="601.3" cy="82.6" r="0.8" fill="#ff0000"/><circle cx="597.0" cy="85.1" r="0.8" fill="#ff0000"/><circle cx="596.2" cy="72.0" r="0.8" fill="#ff0000"/><circle cx="598.5" cy="62.8" r="0.8" fill="#ff0000"/><circle cx="598.2" cy="85.0" r="0.8" fill="#ff0000"/><circle cx="610.0" cy="88.3" r="0.8" fill="#ff0000"/><circle cx="602.5" cy="62.9" r="0.8" fill="#ff0000"/><circle cx="598.0" cy="79.3" r="0.8" fill="#ff0000"/><circle cx="611.0" cy="86.4" r="0.8" fill="#ff0000"/><circle cx="596.5" cy="73.9" r="0.8" fill="#ff0000"/><circle cx="601.5" cy="71.5" r="0.8" fill="#ff0000"/><circle cx="604.3" cy="75.2" r="0.8" fill="#ff0000"/><circle cx="607.8" cy="87.3" r="0.8" fill="#ff0000"/><circle cx="597.5" cy="76.5" r="0.8" fill="#ff0000"/><circle cx="601.2" cy="61.6" r="0.8" fill="#ff0000"/><circle cx="603.9" cy="82.9" r="0.8" fill="#ff0000"/><circle cx="603.6" cy="70.4" r="0.8" fill="#ff0000"/><circle cx="599.1" cy="64.1" r="0.8" fill="#ff0000"/><circle cx="606.6" cy="82.5" r="0.8" fill="#ff0000"/><circle cx="597.6" cy="69.0" r="0.8" fill="#ff0000"/><circle cx="600.7" cy="72.9" r="0.8" fill="#ff0000"/><circle cx="595.9" cy="71.1" r="0.8" fill="#ff0000"/><circle cx="600.9" cy="85.8" r="0.8" fill="#ff0000"/><circle cx="604.6" cy="91.2" r="0.8" fill="#ff0000"/><circle cx="601.6" cy="90.6" r="0.8" fill="#ff0000"/><circle cx="612.6" cy="89.0" r="0.8" fill="#ff0000"/><circle cx="602.9" cy="67.5" r="0.8" fill="#ff0000"/><circle cx="596.2" cy="70.7" r="0.8" fill="#ff0000"/><circle cx="600.1" cy="71.9" r="0.8" fill="#ff0000"/><circle cx="600.1" cy="89.0" r="0.8" fill="#ff0000"/><circle cx="602.8" cy="86.2" r="0.8" fill="#ff0000"/><circle cx="605.2" cy="82.3" r="0.8" fill="#ff0000"/><circle cx="597.0" cy="85.3" r="0.8" fill="#ff0000"/><circle cx="606.0" cy="90.7" r="0.8" fill="#ff0000"/><circle cx="602.8" cy="90.6" r="0.8" fill="#ff0000"/><circle cx="611.9" cy="84.5" r="0.8" fill="#ff0000"/><circle cx="606.7" cy="89.1" r="0.8" fill="#ff0000"/><circle cx="606.7" cy="89.8" r="0.8" fill="#ff0000"/><circle cx="598.1" cy="77.9" r="0.8" fill="#ff0000"/><circle cx="597.4" cy="68.0" r="0.8" fill="#ff0000"/><circle cx="604.9" cy="85.8" r="0.8" fill="#ff0000"/><circle cx="597.0" cy="76.4" r="0.8" fill="#ff0000"/><circle cx="598.5" cy="79.8" r="0.8" fill="#ff0000"/><circle cx="600.7" cy="74.5" r="0.8" fill="#ff0000"/><circle cx="596.2" cy="87.1" r="0.8" fill="#ff0000"/><circle cx="602.4" cy="59.0" r="0.8" fill="#ff0000"/><circle cx="609.5" cy="91.5" r="0.8" fill="#ff0000"/><circle cx="597.7" cy="68.9" r="0.8" fill="#ff0000"/><circle cx="609.8" cy="86.2" r="0.8" fill="#ff0000"/><circle cx="597.8" cy="69.3" r="0.8" fill="#ff0000"/><circle cx="611.1" cy="89.6" r="0.8" fill="#ff0000"/><circle cx="603.8" cy="84.1" r="0.8" fill="#ff0000"/><circle cx="607.0" cy="76.7" r="0.8" fill="#ff0000"/><circle cx="612.7" cy="83.4" r="0.8" fill="#ff0000"/><circle cx="597.9" cy="84.5" r="0.8" fill="#ff0000"/><circle cx="597.7" cy="65.5" r="0.8" fill="#ff0000"/><circle cx="607.5" cy="78.6" r="0.8" fill="#ff0000"/><circle cx="598.6" cy="78.5" r="0.8" fill="#ff0000"/><circle cx="602.2" cy="91.3" r="0.8" fill="#ff0000"/><circle cx="600.2" cy="90.3" r="0.8" fill="#ff0000"/><circle cx="598.9" cy="71.0" r="0.8" fill="#ff0000"/><circle cx="613.6" cy="89.9" r="0.8" fill="#ff0000"/><circle cx="599.1" cy="70.6" r="0.8" fill="#ff0000"/><circle cx="598.9" cy="89.8" r="0.8" fill="#ff0000"/><circle cx="609.4" cy="88.7" r="0.8" fill="#ff0000"/><circle cx="604.1" cy="58.8" r="0.8" fill="#ff0000"/><circle cx="606.1" cy="85.2" r="0.8" fill="#ff0000"/><circle cx="604.1" cy="67.2" r="0.8" fill="#ff0000"/><circle cx="601.3" cy="57.1" r="0.8" fill="#ff0000"/><circle cx="598.6" cy="75.9" r="0.8" fill="#ff0000"/><circle cx="600.0" cy="77.1" r="0.8" fill="#ff0000"/><circle cx="604.1" cy="73.1" r="0.8" fill="#ff0000"/><circle cx="612.2" cy="90.2" r="0.8" fill="#ff0000"/><circle cx="595.8" cy="62.0" r="0.8" fill="#ff0000"/><circle cx="611.3" cy="88.4" r="0.8" fill="#ff0000"/><circle cx="610.8" cy="89.5" r="0.8" fill="#ff0000"/><circle cx="601.5" cy="87.0" r="0.8" fill="#ff0000"/><circle cx="608.2" cy="88.1" r="0.8" fill="#ff0000"/><circle cx="599.3" cy="84.4" r="0.8" fill="#ff0000"/><circle cx="597.1" cy="75.4" r="0.8" fill="#ff0000"/><circle cx="601.3" cy="70.2" r="0.8" fill="#ff0000"/><circle cx="596.6" cy="76.7" r="0.8" fill="#ff0000"/><circle cx="603.9" cy="88.3" r="0.8" fill="#ff0000"/><circle cx="597.8" cy="67.9" r="0.8" fill="#ff0000"/><circle cx="609.2" cy="90.1" r="0.8" fill="#ff0000"/><circle cx="600.8" cy="68.6" r="0.8" fill="#ff0000"/><circle cx="610.2" cy="84.7" r="0.8" fill="#ff0000"/><circle cx="600.7" cy="70.8" r="0.8" fill="#ff0000"/><circle cx="603.0" cy="79.9" r="0.8" fill="#ff0000"/><circle cx="600.9" cy="68.9" r="0.8" fill="#ff0000"/><circle cx="599.2" cy="72.9" r="0.8" fill="#ff0000"/><circle cx="604.1" cy="73.8" r="0.8" fill="#ff0000"/><circle cx="607.8" cy="87.5" r="0.8" fill="#ff0000"/><circle cx="602.6" cy="72.3" r="0.8" fill="#ff0000"/><circle cx="599.3" cy="72.6" r="0.8" fill="#ff0000"/><circle cx="600.8" cy="74.9" r="0.8" fill="#ff0000"/><circle cx="601.9" cy="67.3" r="0.8" fill="#ff0000"/><circle cx="596.7" cy="76.9" r="0.8" fill="#ff0000"/><circle cx="601.4" cy="63.8" r="0.8" fill="#ff0000"/><circle cx="602.9" cy="84.0" r="0.8" fill="#ff0000"/><circle cx="601.2" cy="75.3" r="0.8" fill="#ff0000"/><circle cx="600.0" cy="79.0" r="0.8" fill="#ff0000"/><circle cx="598.4" cy="67.5" r="0.8" fill="#ff0000"/><circle cx="602.2" cy="89.4" r="0.8" fill="#ff0000"/><circle cx="602.8" cy="89.5" r="0.8" fill="#ff0000"/><circle cx="604.1" cy="85.0" r="0.8" fill="#ff0000"/><circle cx="605.5" cy="88.3" r="0.8" fill="#ff0000"/><circle cx="610.5" cy="90.3" r="0.8" fill="#ff0000"/><circle cx="604.8" cy="80.0" r="0.8" fill="#ff0000"/><circle cx="609.0" cy="90.9" r="0.8" fill="#ff0000"/><circle cx="596.0" cy="61.6" r="0.8" fill="#ff0000"/><circle cx="602.8" cy="81.0" r="0.8" fill="#ff0000"/><circle cx="605.9" cy="80.3" r="0.8" fill="#ff0000"/><circle cx="603.0" cy="86.6" r="0.8" fill="#ff0000"/><circle cx="603.7" cy="84.2" r="0.8" fill="#ff0000"/><circle cx="602.9" cy="67.1" r="0.8" fill="#ff0000"/><circle cx="603.4" cy="84.9" r="0.8" fill="#ff0000"/><circle cx="598.6" cy="86.2" r="0.8" fill="#ff0000"/><circle cx="609.2" cy="80.9" r="0.8" fill="#ff0000"/><circle cx="611.7" cy="90.7" r="0.8" fill="#ff0000"/><circle cx="609.9" cy="86.4" r="0.8" fill="#ff0000"/><circle cx="601.6" cy="72.2" r="0.8" fill="#ff0000"/><circle cx="599.5" cy="68.6" r="0.8" fill="#ff0000"/><circle cx="611.4" cy="91.3" r="0.8" fill="#ff0000"/><circle cx="602.5" cy="70.9" r="0.8" fill="#ff0000"/><circle cx="606.1" cy="83.0" r="0.8" fill="#ff0000"/><circle cx="596.7" cy="88.5" r="0.8" fill="#ff0000"/><circle cx="601.6" cy="73.3" r="0.8" fill="#ff0000"/><circle cx="599.6" cy="82.0" r="0.8" fill="#ff0000"/><circle cx="601.8" cy="81.6" r="0.8" fill="#ff0000"/><circle cx="609.4" cy="85.6" r="0.8" fill="#ff0000"/><circle cx="600.5" cy="74.8" r="0.8" fill="#ff0000"/><circle cx="606.0" cy="82.4" r="0.8" fill="#ff0000"/><circle cx="602.9" cy="63.0" r="0.8" fill="#ff0000"/><circle cx="608.9" cy="89.0" r="0.8" fill="#ff0000"/><circle cx="600.5" cy="61.1" r="0.8" fill="#ff0000"/><circle cx="601.8" cy="89.2" r="0.8" fill="#ff0000"/><circle cx="598.4" cy="84.8" r="0.8" fill="#ff0000"/><circle cx="605.9" cy="88.3" r="0.8" fill="#ff0000"/><circle cx="599.4" cy="81.3" r="0.8" fill="#ff0000"/><circle cx="598.8" cy="75.3" r="0.8" fill="#ff0000"/><circle cx="606.0" cy="74.6" r="0.8" fill="#ff0000"/><circle cx="609.2" cy="84.0" r="0.8" fill="#ff0000"/><circle cx="605.6" cy="82.8" r="0.8" fill="#ff0000"/><circle cx="600.4" cy="75.8" r="0.8" fill="#ff0000"/><circle cx="607.0" cy="89.2" r="0.8" fill="#ff0000"/><circle cx="597.6" cy="70.3" r="0.8" fill="#ff0000"/><circle cx="603.7" cy="87.5" r="0.8" fill="#ff0000"/><circle cx="596.4" cy="60.5" r="0.8" fill="#ff0000"/><circle cx="601.2" cy="73.1" r="0.8" fill="#ff0000"/><circle cx="598.7" cy="62.8" r="0.8" fill="#ff0000"/><circle cx="610.7" cy="75.1" r="0.8" fill="#ff0000"/><circle cx="609.3" cy="91.4" r="0.8" fill="#ff0000"/><circle cx="610.5" cy="81.1" r="0.8" fill="#ff0000"/><circle cx="601.4" cy="76.2" r="0.8" fill="#ff0000"/><circle cx="600.5" cy="61.2" r="0.8" fill="#ff0000"/><circle cx="600.6" cy="74.5" r="0.8" fill="#ff0000"/><circle cx="608.0" cy="87.1" r="0.8" fill="#ff0000"/><circle cx="598.6" cy="66.0" r="0.8" fill="#ff0000"/><circle cx="597.4" cy="62.6" r="0.8" fill="#ff0000"/><circle cx="607.0" cy="88.0" r="0.8" fill="#ff0000"/>
<circle cx="587.9" cy="24.7" r="0.8" fill="#0000ff"/><circle cx="589.8" cy="25.1" r="0.8" fill="#0000ff"/><circle cx="586.1" cy="32.5" r="0.8" fill="#0000ff"/><circle cx="586.4" cy="35.1" r="0.8" fill="#0000ff"/><circle cx="587.1" cy="37.3" r="0.8" fill="#0000ff"/><circle cx="589.4" cy="37.6" r="0.8" fill="#0000ff"/><circle cx="585.2" cy="41.4" r="0.8" fill="#0000ff"/><circle cx="590.1" cy="40.6" r="0.8" fill="#0000ff"/><circle cx="557.7" cy="49.5" r="0.8" fill="#0000ff"/><circle cx="560.0" cy="55.1" r="0.8" fill="#0000ff"/><circle cx="561.6" cy="58.8" r="0.8" fill="#0000ff"/><circle cx="588.9" cy="47.4" r="0.8" fill="#0000ff"/><circle cx="590.1" cy="50.7" r="0.8" fill="#0000ff"/><circle cx="588.6" cy="51.8" r="0.8" fill="#0000ff"/><circle cx="586.4" cy="53.9" r="0.8" fill="#0000ff"/><circle cx="587.9" cy="54.8" r="0.8" fill="#0000ff"/><circle cx="589.4" cy="54.8" r="0.8" fill="#0000ff"/><circle cx="588.9" cy="59.3" r="0.8" fill="#0000ff"/><circle cx="573.0" cy="59.3" r="0.8" fill="#0000ff"/><circle cx="559.7" cy="55.0" r="0.8" fill="#0000ff"/><circle cx="561.6" cy="59.1" r="0.8" fill="#0000ff"/><circle cx="564.1" cy="65.1" r="0.8" fill="#0000ff"/><circle cx="566.6" cy="70.6" r="0.8" fill="#0000ff"/><circle cx="568.6" cy="74.3" r="0.8" fill="#0000ff"/><circle cx="569.3" cy="75.8" r="0.8" fill="#0000ff"/><circle cx="572.3" cy="81.0" r="0.8" fill="#0000ff"/><circle cx="573.8" cy="83.9" r="0.8" fill="#0000ff"/><circle cx="575.3" cy="85.9" r="0.8" fill="#0000ff"/><circle cx="576.7" cy="88.4" r="0.8" fill="#0000ff"/><circle cx="578.2" cy="89.9" r="0.8" fill="#0000ff"/><circle cx="574.5" cy="91.4" r="0.8" fill="#0000ff"/><circle cx="573.5" cy="60.6" r="0.8" fill="#0000ff"/><circle cx="579.7" cy="77.3" r="0.8" fill="#0000ff"/><circle cx="581.2" cy="83.2" r="0.8" fill="#0000ff"/><circle cx="580.5" cy="85.4" r="0.8" fill="#0000ff"/>
<circle cx="603.4" cy="23.6" r="0.8" fill="#ff0000"/><circle cx="601.9" cy="25.7" r="0.8" fill="#ff0000"/><circle cx="601.1" cy="26.6" r="0.8" fill="#ff0000"/><circle cx="598.9" cy="37.6" r="0.8" fill="#ff0000"/><circle cx="600.1" cy="38.0" r="0.8" fill="#ff0000"/><circle cx="605.6" cy="38.5" r="0.8" fill="#ff0000"/><circle cx="601.9" cy="40.0" r="0.8" fill="#ff0000"/><circle cx="599.2" cy="41.7" r="0.8" fill="#ff0000"/><circle cx="600.4" cy="42.5" r="0.8" fill="#ff0000"/><circle cx="601.9" cy="43.5" r="0.8" fill="#ff0000"/><circle cx="598.6" cy="45.5" r="0.8" fill="#ff0000"/><circle cx="600.4" cy="46.5" r="0.8" fill="#ff0000"/><circle cx="599.2" cy="48.0" r="0.8" fill="#ff0000"/><circle cx="603.7" cy="49.5" r="0.8" fill="#ff0000"/><circle cx="598.6" cy="50.7" r="0.8" fill="#ff0000"/><circle cx="600.4" cy="51.4" r="0.8" fill="#ff0000"/><circle cx="604.6" cy="53.3" r="0.8" fill="#ff0000"/><circle cx="605.6" cy="55.1" r="0.8" fill="#ff0000"/><circle cx="614.5" cy="55.9" r="0.8" fill="#ff0000"/><circle cx="598.2" cy="54.4" r="0.8" fill="#ff0000"/><circle cx="599.7" cy="55.9" r="0.8" fill="#ff0000"/><circle cx="601.1" cy="56.6" r="0.8" fill="#ff0000"/><circle cx="602.6" cy="58.1" r="0.8" fill="#ff0000"/><circle cx="613.8" cy="55.7" r="0.8" fill="#ff0000"/><circle cx="613.0" cy="64.6" r="0.8" fill="#ff0000"/><circle cx="621.2" cy="70.6" r="0.8" fill="#ff0000"/><circle cx="620.5" cy="72.1" r="0.8" fill="#ff0000"/><circle cx="619.0" cy="75.8" r="0.8" fill="#ff0000"/><circle cx="608.6" cy="75.8" r="0.8" fill="#ff0000"/><circle cx="614.5" cy="78.7" r="0.8" fill="#ff0000"/><circle cx="617.5" cy="79.5" r="0.8" fill="#ff0000"/><circle cx="616.7" cy="81.0" r="0.8" fill="#ff0000"/><circle cx="616.0" cy="82.5" r="0.8" fill="#ff0000"/><circle cx="615.3" cy="84.0" r="0.8" fill="#ff0000"/><circle cx="604.1" cy="53.5" r="0.8" fill="#ff0000"/><circle cx="603.4" cy="55.7" r="0.8" fill="#ff0000"/><circle cx="604.9" cy="67.6" r="0.8" fill="#ff0000"/><circle cx="609.3" cy="74.3" r="0.8" fill="#ff0000"/>
<polygon points="66.3,222.0 68.8,222.0 69.5,240.0 70.0,262.0 73.5,267.0 74.8,272.0 73.8,277.5 70.8,281.3 65.0,281.3 61.5,277.5 60.2,272.0 61.5,267.0 64.5,262.0 65.3,240.0" fill="rgb(212,212,212)" />
<polygon points="61.5,267.0 60.2,272.0 61.5,277.5 65.0,281.3 70.8,281.3 73.8,277.5 74.8,272.0 73.5,267.0 70.0,262.0 64.5,262.0" fill="rgb(192,192,192)" />
<polygon points="66.6,226.0 68.0,226.0 68.0,258.0 66.6,258.0" fill="rgb(228,228,228)" />
<circle cx="68.0" cy="222.0" r="2.50" fill="rgba(190,190,190,0.6)"/><circle cx="68.1" cy="222.4" r="2.76" fill="rgba(190,190,190,0.6)"/><circle cx="68.3" cy="226.4" r="2.95" fill="rgba(190,190,190,0.6)"/><circle cx="68.5" cy="229.3" r="2.20" fill="rgba(190,190,190,0.6)"/><circle cx="69.3" cy="234.6" r="2.55" fill="rgba(190,190,190,0.6)"/><circle cx="68.9" cy="238.0" r="2.88" fill="rgba(190,190,190,0.6)"/><circle cx="68.9" cy="242.4" r="2.73" fill="rgba(190,190,190,0.6)"/><circle cx="69.6" cy="245.0" r="2.01" fill="rgba(190,190,190,0.6)"/><circle cx="69.6" cy="250.2" r="2.15" fill="rgba(190,190,190,0.6)"/><circle cx="69.6" cy="254.4" r="2.10" fill="rgba(190,190,190,0.6)"/><circle cx="69.6" cy="256.4" r="2.95" fill="rgba(190,190,190,0.6)"/><circle cx="69.4" cy="258.6" r="2.09" fill="rgba(190,190,190,0.6)"/><circle cx="70.0" cy="263.4" r="2.64" fill="rgba(190,190,190,0.6)"/><circle cx="73.3" cy="267.3" r="2.65" fill="rgba(190,190,190,0.6)"/><circle cx="74.4" cy="277.1" r="2.31" fill="rgba(190,190,190,0.6)"/><circle cx="73.7" cy="277.1" r="2.37" fill="rgba(190,190,190,0.6)"/><circle cx="66.6" cy="281.2" r="2.36" fill="rgba(190,190,190,0.6)"/><circle cx="62.7" cy="279.0" r="2.00" fill="rgba(190,190,190,0.6)"/><circle cx="59.9" cy="273.5" r="2.91" fill="rgba(190,190,190,0.6)"/><circle cx="61.6" cy="270.0" r="2.10" fill="rgba(190,190,190,0.6)"/><circle cx="62.8" cy="264.3" r="2.14" fill="rgba(190,190,190,0.6)"/><circle cx="65.1" cy="257.9" r="2.67" fill="rgba(190,190,190,0.6)"/><circle cx="65.4" cy="256.6" r="2.91" fill="rgba(190,190,190,0.6)"/><circle cx="64.3" cy="253.7" r="2.79" fill="rgba(190,190,190,0.6)"/><circle cx="65.0" cy="248.7" r="2.24" fill="rgba(190,190,190,0.6)"/><circle cx="65.2" cy="245.0" r="2.25" fill="rgba(190,190,190,0.6)"/><circle cx="65.8" cy="240.4" r="2.53" fill="rgba(190,190,190,0.6)"/><circle cx="65.6" cy="236.2" r="2.97" fill="rgba(190,190,190,0.6)"/><circle cx="65.4" cy="235.8" r="2.84" fill="rgba(190,190,190,0.6)"/><circle cx="66.5" cy="230.0" r="2.68" fill="rgba(190,190,190,0.6)"/><circle cx="65.9" cy="226.7" r="2.74" fill="rgba(190,190,190,0.6)"/><circle cx="66.4" cy="225.1" r="2.96" fill="rgba(190,190,190,0.6)"/>
<circle cx="58.6" cy="265.1" r="3.18" fill="rgba(0,255,0,0.6)"/><circle cx="53.0" cy="217.3" r="3.04" fill="rgba(0,255,0,0.6)"/><circle cx="52.1" cy="243.8" r="2.44" fill="rgba(0,255,0,0.6)"/><circle cx="56.9" cy="250.9" r="2.38" fill="rgba(0,255,0,0.6)"/><circle cx="58.1" cy="226.5" r="2.92" fill="rgba(0,255,0,0.6)"/><circle cx="54.1" cy="263.8" r="2.32" fill="rgba(0,255,0,0.6)"/><circle cx="57.3" cy="208.2" r="2.60" fill="rgba(0,255,0,0.6)"/><circle cx="54.2" cy="221.0" r="2.89" fill="rgba(0,255,0,0.6)"/><circle cx="55.4" cy="224.2" r="3.15" fill="rgba(0,255,0,0.6)"/><circle cx="50.9" cy="217.2" r="2.33" fill="rgba(0,255,0,0.6)"/><circle cx="56.2" cy="238.7" r="2.39" fill="rgba(0,255,0,0.6)"/><circle cx="55.7" cy="238.3" r="2.87" fill="rgba(0,255,0,0.6)"/><circle cx="57.6" cy="255.1" r="3.29" fill="rgba(0,255,0,0.6)"/><circle cx="56.9" cy="217.5" r="2.53" fill="rgba(0,255,0,0.6)"/><circle cx="51.1" cy="217.5" r="2.34" fill="rgba(0,255,0,0.6)"/><circle cx="54.1" cy="251.8" r="2.56" fill="rgba(0,255,0,0.6)"/><circle cx="60.9" cy="231.1" r="2.88" fill="rgba(0,255,0,0.6)"/><circle cx="58.6" cy="229.8" r="2.37" fill="rgba(0,255,0,0.6)"/><circle cx="53.2" cy="220.7" r="2.72" fill="rgba(0,255,0,0.6)"/><circle cx="60.6" cy="221.0" r="2.66" fill="rgba(0,255,0,0.6)"/><circle cx="57.1" cy="265.7" r="2.71" fill="rgba(0,255,0,0.6)"/><circle cx="55.2" cy="250.4" r="2.85" fill="rgba(0,255,0,0.6)"/><circle cx="60.6" cy="233.5" r="3.27" fill="rgba(0,255,0,0.6)"/><circle cx="55.7" cy="260.3" r="2.54" fill="rgba(0,255,0,0.6)"/><circle cx="58.2" cy="234.8" r="3.03" fill="rgba(0,255,0,0.6)"/><circle cx="59.8" cy="249.4" r="2.43" fill="rgba(0,255,0,0.6)"/><circle cx="60.0" cy="241.8" r="3.24" fill="rgba(0,255,0,0.6)"/><circle cx="60.4" cy="218.1" r="2.95" fill="rgba(0,255,0,0.6)"/><circle cx="56.1" cy="214.4" r="2.98" fill="rgba(0,255,0,0.6)"/><circle cx="53.9" cy="230.8" r="2.47" fill="rgba(0,255,0,0.6)"/><circle cx="60.7" cy="250.2" r="2.66" fill="rgba(0,255,0,0.6)"/><circle cx="58.5" cy="233.3" r="2.72" fill="rgba(0,255,0,0.6)"/><circle cx="61.2" cy="241.0" r="2.36" fill="rgba(0,255,0,0.6)"/><circle cx="55.5" cy="216.2" r="2.36" fill="rgba(0,255,0,0.6)"/><circle cx="55.8" cy="260.4" r="2.42" fill="rgba(0,255,0,0.6)"/><circle cx="54.7" cy="265.5" r="2.67" fill="rgba(0,255,0,0.6)"/><circle cx="59.6" cy="260.9" r="2.71" fill="rgba(0,255,0,0.6)"/><circle cx="53.1" cy="208.8" r="2.76" fill="rgba(0,255,0,0.6)"/><circle cx="59.4" cy="209.5" r="2.67" fill="rgba(0,255,0,0.6)"/><circle cx="56.9" cy="243.4" r="3.24" fill="rgba(0,255,0,0.6)"/><circle cx="54.7" cy="243.2" r="2.99" fill="rgba(0,255,0,0.6)"/><circle cx="60.6" cy="220.6" r="2.77" fill="rgba(0,255,0,0.6)"/><circle cx="52.1" cy="226.8" r="2.90" fill="rgba(0,255,0,0.6)"/><circle cx="55.9" cy="249.8" r="2.49" fill="rgba(0,255,0,0.6)"/><circle cx="56.7" cy="257.2" r="2.93" fill="rgba(0,255,0,0.6)"/><circle cx="54.8" cy="220.7" r="3.25" fill="rgba(0,255,0,0.6)"/><circle cx="53.8" cy="229.8" r="3.16" fill="rgba(0,255,0,0.6)"/><circle cx="61.3" cy="223.1" r="2.98" fill="rgba(0,255,0,0.6)"/><circle cx="57.0" cy="209.1" r="2.96" fill="rgba(0,255,0,0.6)"/><circle cx="59.9" cy="211.9" r="2.90" fill="rgba(0,255,0,0.6)"/>
<polygon points="52.3,214.9 52.3,231.9 53.8,257.8 56.1,268.7 57.0,269.1 59.7,261.6 60.7,240.0 60.2,213.3 56.3,212.0" fill="rgba(0,255,0,0.6)" />
<circle cx="53.0" cy="243.4" r="2.50" fill="rgba(0,255,0,0.6)"/><circle cx="56.9" cy="269.3" r="2.51" fill="rgba(0,255,0,0.6)"/><circle cx="55.9" cy="268.9" r="2.88" fill="rgba(0,255,0,0.6)"/><circle cx="52.2" cy="234.1" r="2.68" fill="rgba(0,255,0,0.6)"/><circle cx="60.2" cy="228.8" r="2.19" fill="rgba(0,255,0,0.6)"/><circle cx="53.5" cy="256.2" r="2.15" fill="rgba(0,255,0,0.6)"/><circle cx="52.3" cy="229.2" r="2.05" fill="rgba(0,255,0,0.6)"/><circle cx="59.6" cy="256.1" r="2.69" fill="rgba(0,255,0,0.6)"/><circle cx="57.7" cy="215.5" r="2.88" fill="rgba(0,255,0,0.6)"/><circle cx="60.8" cy="232.2" r="2.60" fill="rgba(0,255,0,0.6)"/><circle cx="55.2" cy="263.8" r="2.10" fill="rgba(0,255,0,0.6)"/><circle cx="52.4" cy="215.7" r="2.23" fill="rgba(0,255,0,0.6)"/><circle cx="59.9" cy="261.4" r="2.56" fill="rgba(0,255,0,0.6)"/><circle cx="60.8" cy="222.1" r="2.19" fill="rgba(0,255,0,0.6)"/><circle cx="53.7" cy="249.3" r="2.68" fill="rgba(0,255,0,0.6)"/><circle cx="60.9" cy="237.7" r="2.41" fill="rgba(0,255,0,0.6)"/><circle cx="60.7" cy="217.1" r="2.06" fill="rgba(0,255,0,0.6)"/><circle cx="58.5" cy="264.9" r="2.38" fill="rgba(0,255,0,0.6)"/><circle cx="60.4" cy="249.8" r="2.25" fill="rgba(0,255,0,0.6)"/><circle cx="52.6" cy="226.5" r="2.47" fill="rgba(0,255,0,0.6)"/><circle cx="52.8" cy="237.3" r="2.35" fill="rgba(0,255,0,0.6)"/><circle cx="55.7" cy="242.6" r="2.80" fill="rgba(0,255,0,0.6)"/><circle cx="53.2" cy="242.8" r="2.77" fill="rgba(0,255,0,0.6)"/><circle cx="52.6" cy="224.9" r="2.27" fill="rgba(0,255,0,0.6)"/><circle cx="57.7" cy="268.5" r="2.26" fill="rgba(0,255,0,0.6)"/><circle cx="54.4" cy="258.8" r="2.35" fill="rgba(0,255,0,0.6)"/><circle cx="59.8" cy="251.1" r="2.33" fill="rgba(0,255,0,0.6)"/><circle cx="59.9" cy="214.3" r="2.15" fill="rgba(0,255,0,0.6)"/><circle cx="52.7" cy="220.2" r="2.20" fill="rgba(0,255,0,0.6)"/><circle cx="54.7" cy="252.1" r="2.42" fill="rgba(0,255,0,0.6)"/><circle cx="58.6" cy="212.7" r="2.05" fill="rgba(0,255,0,0.6)"/><circle cx="60.4" cy="226.5" r="2.59" fill="rgba(0,255,0,0.6)"/><circle cx="54.8" cy="257.4" r="2.38" fill="rgba(0,255,0,0.6)"/><circle cx="60.3" cy="246.2" r="2.32" fill="rgba(0,255,0,0.6)"/><circle cx="53.8" cy="254.1" r="2.85" fill="rgba(0,255,0,0.6)"/><circle cx="60.1" cy="241.8" r="2.76" fill="rgba(0,255,0,0.6)"/><circle cx="54.8" cy="213.0" r="2.66" fill="rgba(0,255,0,0.6)"/>
<circle cx="48.3" cy="185.0" r="2.90" fill="rgba(0,255,0,0.6)"/><circle cx="23.2" cy="217.6" r="2.90" fill="rgba(0,255,0,0.6)"/><circle cx="46.1" cy="209.3" r="2.90" fill="rgba(0,255,0,0.6)"/><circle cx="54.3" cy="200.2" r="2.90" fill="rgba(0,255,0,0.6)"/><circle cx="57.3" cy="204.7" r="2.90" fill="rgba(0,255,0,0.6)"/><circle cx="45.7" cy="209.1" r="2.90" fill="rgba(0,255,0,0.6)"/>
<circle cx="88.2" cy="241.7" r="2.70" fill="rgba(255,0,0,0.6)"/><circle cx="89.9" cy="232.6" r="2.69" fill="rgba(255,0,0,0.6)"/><circle cx="90.4" cy="216.6" r="2.98" fill="rgba(255,0,0,0.6)"/><circle cx="87.0" cy="241.9" r="2.43" fill="rgba(255,0,0,0.6)"/><circle cx="76.2" cy="252.6" r="2.74" fill="rgba(255,0,0,0.6)"/><circle cx="82.1" cy="222.0" r="3.24" fill="rgba(255,0,0,0.6)"/><circle cx="82.5" cy="244.1" r="2.42" fill="rgba(255,0,0,0.6)"/><circle cx="74.7" cy="257.1" r="3.21" fill="rgba(255,0,0,0.6)"/><circle cx="92.0" cy="232.7" r="2.68" fill="rgba(255,0,0,0.6)"/><circle cx="84.9" cy="248.8" r="2.55" fill="rgba(255,0,0,0.6)"/><circle cx="87.2" cy="240.8" r="3.03" fill="rgba(255,0,0,0.6)"/><circle cx="85.2" cy="240.9" r="2.72" fill="rgba(255,0,0,0.6)"/><circle cx="82.8" cy="251.0" r="2.71" fill="rgba(255,0,0,0.6)"/><circle cx="79.1" cy="208.5" r="2.32" fill="rgba(255,0,0,0.6)"/><circle cx="76.7" cy="220.0" r="2.36" fill="rgba(255,0,0,0.6)"/><circle cx="76.3" cy="219.8" r="3.15" fill="rgba(255,0,0,0.6)"/><circle cx="75.9" cy="211.6" r="2.51" fill="rgba(255,0,0,0.6)"/><circle cx="89.7" cy="234.0" r="2.88" fill="rgba(255,0,0,0.6)"/><circle cx="72.7" cy="223.1" r="2.90" fill="rgba(255,0,0,0.6)"/><circle cx="84.3" cy="213.5" r="2.93" fill="rgba(255,0,0,0.6)"/><circle cx="76.1" cy="230.1" r="3.04" fill="rgba(255,0,0,0.6)"/><circle cx="85.2" cy="213.5" r="2.37" fill="rgba(255,0,0,0.6)"/><circle cx="84.6" cy="233.8" r="2.83" fill="rgba(255,0,0,0.6)"/><circle cx="83.9" cy="261.0" r="2.31" fill="rgba(255,0,0,0.6)"/><circle cx="85.6" cy="220.6" r="2.70" fill="rgba(255,0,0,0.6)"/><circle cx="81.2" cy="207.4" r="2.79" fill="rgba(255,0,0,0.6)"/><circle cx="73.1" cy="216.4" r="2.75" fill="rgba(255,0,0,0.6)"/><circle cx="81.7" cy="213.2" r="2.74" fill="rgba(255,0,0,0.6)"/><circle cx="86.1" cy="247.6" r="3.12" fill="rgba(255,0,0,0.6)"/><circle cx="84.3" cy="214.3" r="3.19" fill="rgba(255,0,0,0.6)"/><circle cx="74.7" cy="260.6" r="3.00" fill="rgba(255,0,0,0.6)"/><circle cx="77.0" cy="242.2" r="2.37" fill="rgba(255,0,0,0.6)"/><circle cx="92.4" cy="212.0" r="2.31" fill="rgba(255,0,0,0.6)"/><circle cx="82.4" cy="211.0" r="2.82" fill="rgba(255,0,0,0.6)"/><circle cx="73.2" cy="249.5" r="2.68" fill="rgba(255,0,0,0.6)"/><circle cx="78.6" cy="266.5" r="2.53" fill="rgba(255,0,0,0.6)"/><circle cx="81.1" cy="247.0" r="3.23" fill="rgba(255,0,0,0.6)"/><circle cx="93.2" cy="213.9" r="2.91" fill="rgba(255,0,0,0.6)"/><circle cx="80.2" cy="214.1" r="2.93" fill="rgba(255,0,0,0.6)"/><circle cx="79.3" cy="228.7" r="3.07" fill="rgba(255,0,0,0.6)"/><circle cx="85.2" cy="240.2" r="2.98" fill="rgba(255,0,0,0.6)"/><circle cx="87.7" cy="242.4" r="3.07" fill="rgba(255,0,0,0.6)"/><circle cx="78.8" cy="221.3" r="2.68" fill="rgba(255,0,0,0.6)"/><circle cx="83.4" cy="219.2" r="3.02" fill="rgba(255,0,0,0.6)"/><circle cx="81.6" cy="222.2" r="3.12" fill="rgba(255,0,0,0.6)"/><circle cx="78.3" cy="264.5" r="2.87" fill="rgba(255,0,0,0.6)"/><circle cx="73.9" cy="249.8" r="3.28" fill="rgba(255,0,0,0.6)"/><circle cx="74.1" cy="256.2" r="2.47" fill="rgba(255,0,0,0.6)"/><circle cx="74.9" cy="236.1" r="3.03" fill="rgba(255,0,0,0.6)"/><circle cx="75.0" cy="228.2" r="2.64" fill="rgba(255,0,0,0.6)"/><circle cx="86.2" cy="221.9" r="2.93" fill="rgba(255,0,0,0.6)"/><circle cx="74.2" cy="212.6" r="2.56" fill="rgba(255,0,0,0.6)"/><circle cx="85.3" cy="221.5" r="3.13" fill="rgba(255,0,0,0.6)"/><circle cx="82.0" cy="240.5" r="2.79" fill="rgba(255,0,0,0.6)"/><circle cx="85.5" cy="259.3" r="2.40" fill="rgba(255,0,0,0.6)"/>
<polygon points="73.3,215.0 73.3,259.9 74.6,268.7 78.7,268.7 82.2,257.6 84.2,239.9 85.2,219.3 82.7,212.6 78.4,211.9" fill="rgba(255,0,0,0.6)" />
<circle cx="83.7" cy="215.2" r="2.62" fill="rgba(255,0,0,0.6)"/><circle cx="84.9" cy="222.4" r="2.35" fill="rgba(255,0,0,0.6)"/><circle cx="75.3" cy="213.6" r="2.61" fill="rgba(255,0,0,0.6)"/><circle cx="83.7" cy="241.8" r="2.84" fill="rgba(255,0,0,0.6)"/><circle cx="79.0" cy="266.6" r="2.28" fill="rgba(255,0,0,0.6)"/><circle cx="73.5" cy="233.5" r="2.23" fill="rgba(255,0,0,0.6)"/><circle cx="76.4" cy="268.8" r="2.31" fill="rgba(255,0,0,0.6)"/><circle cx="79.5" cy="251.7" r="2.41" fill="rgba(255,0,0,0.6)"/><circle cx="73.1" cy="231.3" r="2.86" fill="rgba(255,0,0,0.6)"/><circle cx="82.5" cy="212.3" r="2.66" fill="rgba(255,0,0,0.6)"/><circle cx="73.7" cy="235.8" r="2.53" fill="rgba(255,0,0,0.6)"/><circle cx="76.5" cy="225.3" r="3.23" fill="rgba(255,0,0,0.6)"/><circle cx="73.2" cy="239.9" r="2.50" fill="rgba(255,0,0,0.6)"/><circle cx="82.3" cy="239.7" r="2.48" fill="rgba(255,0,0,0.6)"/><circle cx="82.2" cy="258.4" r="2.24" fill="rgba(255,0,0,0.6)"/><circle cx="73.4" cy="253.5" r="2.04" fill="rgba(255,0,0,0.6)"/><circle cx="73.8" cy="224.3" r="2.27" fill="rgba(255,0,0,0.6)"/><circle cx="82.9" cy="249.4" r="2.24" fill="rgba(255,0,0,0.6)"/><circle cx="84.8" cy="233.0" r="2.73" fill="rgba(255,0,0,0.6)"/><circle cx="73.8" cy="266.7" r="2.41" fill="rgba(255,0,0,0.6)"/><circle cx="80.3" cy="264.2" r="2.11" fill="rgba(255,0,0,0.6)"/><circle cx="85.3" cy="227.2" r="2.56" fill="rgba(255,0,0,0.6)"/><circle cx="85.2" cy="218.5" r="2.77" fill="rgba(255,0,0,0.6)"/><circle cx="73.8" cy="227.9" r="2.47" fill="rgba(255,0,0,0.6)"/><circle cx="77.9" cy="235.4" r="2.88" fill="rgba(255,0,0,0.6)"/><circle cx="73.4" cy="264.0" r="2.44" fill="rgba(255,0,0,0.6)"/><circle cx="84.7" cy="234.9" r="2.76" fill="rgba(255,0,0,0.6)"/><circle cx="72.8" cy="220.4" r="2.79" fill="rgba(255,0,0,0.6)"/><circle cx="73.8" cy="215.8" r="2.18" fill="rgba(255,0,0,0.6)"/><circle cx="82.5" cy="253.3" r="2.35" fill="rgba(255,0,0,0.6)"/><circle cx="84.9" cy="223.5" r="2.41" fill="rgba(255,0,0,0.6)"/><circle cx="73.5" cy="242.8" r="2.20" fill="rgba(255,0,0,0.6)"/><circle cx="82.3" cy="256.0" r="2.77" fill="rgba(255,0,0,0.6)"/><circle cx="84.4" cy="239.3" r="2.68" fill="rgba(255,0,0,0.6)"/><circle cx="72.8" cy="258.3" r="2.81" fill="rgba(255,0,0,0.6)"/><circle cx="83.6" cy="245.5" r="2.25" fill="rgba(255,0,0,0.6)"/><circle cx="73.5" cy="245.8" r="2.08" fill="rgba(255,0,0,0.6)"/><circle cx="73.1" cy="252.5" r="2.41" fill="rgba(255,0,0,0.6)"/>
<circle cx="103.9" cy="173.2" r="2.90" fill="rgba(255,0,0,0.6)"/><circle cx="106.5" cy="177.9" r="2.90" fill="rgba(255,0,0,0.6)"/><circle cx="86.5" cy="186.0" r="2.90" fill="rgba(255,0,0,0.6)"/><circle cx="96.4" cy="186.0" r="2.90" fill="rgba(255,0,0,0.6)"/><circle cx="88.7" cy="191.8" r="2.90" fill="rgba(255,0,0,0.6)"/><circle cx="81.2" cy="194.6" r="2.90" fill="rgba(255,0,0,0.6)"/><circle cx="91.9" cy="196.8" r="2.90" fill="rgba(255,0,0,0.6)"/><circle cx="104.4" cy="200.8" r="2.90" fill="rgba(255,0,0,0.6)"/><circle cx="93.6" cy="204.1" r="2.90" fill="rgba(255,0,0,0.6)"/><circle cx="82.9" cy="204.7" r="2.90" fill="rgba(255,0,0,0.6)"/><circle cx="85.0" cy="206.2" r="2.90" fill="rgba(255,0,0,0.6)"/><circle cx="76.5" cy="210.7" r="2.90" fill="rgba(255,0,0,0.6)"/><circle cx="80.8" cy="210.1" r="2.90" fill="rgba(255,0,0,0.6)"/><circle cx="89.3" cy="209.0" r="2.90" fill="rgba(255,0,0,0.6)"/><circle cx="92.6" cy="211.1" r="2.90" fill="rgba(255,0,0,0.6)"/><circle cx="96.8" cy="212.6" r="2.90" fill="rgba(255,0,0,0.6)"/><circle cx="101.1" cy="216.9" r="2.90" fill="rgba(255,0,0,0.6)"/><circle cx="72.2" cy="216.9" r="2.90" fill="rgba(255,0,0,0.6)"/><circle cx="75.4" cy="216.5" r="2.90" fill="rgba(255,0,0,0.6)"/><circle cx="82.9" cy="214.4" r="2.90" fill="rgba(255,0,0,0.6)"/><circle cx="88.3" cy="216.5" r="2.90" fill="rgba(255,0,0,0.6)"/><circle cx="96.8" cy="219.7" r="2.90" fill="rgba(255,0,0,0.6)"/><circle cx="76.5" cy="222.9" r="2.90" fill="rgba(255,0,0,0.6)"/><circle cx="80.8" cy="224.0" r="2.90" fill="rgba(255,0,0,0.6)"/><circle cx="86.1" cy="225.1" r="2.90" fill="rgba(255,0,0,0.6)"/><circle cx="91.5" cy="226.2" r="2.90" fill="rgba(255,0,0,0.6)"/><circle cx="94.7" cy="227.2" r="2.90" fill="rgba(255,0,0,0.6)"/><circle cx="95.4" cy="236.9" r="2.90" fill="rgba(255,0,0,0.6)"/><circle cx="92.4" cy="252.2" r="2.90" fill="rgba(255,0,0,0.6)"/><circle cx="87.5" cy="261.7" r="2.90" fill="rgba(255,0,0,0.6)"/><circle cx="91.4" cy="252.2" r="2.90" fill="rgba(255,0,0,0.6)"/>
<circle cx="79.0" cy="197.2" r="2.90" fill="rgba(190,190,190,0.6)"/><circle cx="82.9" cy="209.0" r="2.90" fill="rgba(190,190,190,0.6)"/><circle cx="74.3" cy="216.5" r="2.90" fill="rgba(190,190,190,0.6)"/><circle cx="70.5" cy="227.2" r="2.90" fill="rgba(190,190,190,0.6)"/><circle cx="62.5" cy="222.5" r="2.90" fill="rgba(190,190,190,0.6)"/><circle cx="60.3" cy="227.0" r="2.90" fill="rgba(190,190,190,0.6)"/><circle cx="61.7" cy="236.6" r="2.90" fill="rgba(190,190,190,0.6)"/><circle cx="66.0" cy="204.0" r="2.90" fill="rgba(190,190,190,0.6)"/><circle cx="67.0" cy="215.0" r="2.90" fill="rgba(190,190,190,0.6)"/><circle cx="65.0" cy="232.0" r="2.90" fill="rgba(190,190,190,0.6)"/><circle cx="68.0" cy="245.0" r="2.90" fill="rgba(190,190,190,0.6)"/><circle cx="66.0" cy="255.0" r="2.90" fill="rgba(190,190,190,0.6)"/>
<circle cx="83.5" cy="202.6" r="2.65" fill="rgba(255,0,0,0.6)"/><circle cx="90.1" cy="229.2" r="2.34" fill="rgba(255,0,0,0.6)"/><circle cx="82.8" cy="211.4" r="2.94" fill="rgba(255,0,0,0.6)"/><circle cx="89.9" cy="223.3" r="2.45" fill="rgba(255,0,0,0.6)"/><circle cx="90.8" cy="197.7" r="2.43" fill="rgba(255,0,0,0.6)"/><circle cx="88.8" cy="198.5" r="2.44" fill="rgba(255,0,0,0.6)"/><circle cx="92.2" cy="201.4" r="3.14" fill="rgba(255,0,0,0.6)"/><circle cx="85.9" cy="217.9" r="2.87" fill="rgba(255,0,0,0.6)"/><circle cx="95.5" cy="211.5" r="2.52" fill="rgba(255,0,0,0.6)"/><circle cx="84.6" cy="208.3" r="2.38" fill="rgba(255,0,0,0.6)"/>
<polygon points="245.5,206.0 249.5,206.0 251.0,235.0 252.0,262.0 255.5,268.0 257.0,274.0 255.5,279.5 252.0,282.5 244.5,282.5 240.5,279.0 239.0,273.5 240.5,268.0 243.3,262.0 244.3,235.0" fill="rgb(212,212,212)" />
<polygon points="240.5,268.0 239.0,273.5 240.5,279.0 244.5,282.5 252.0,282.5 255.5,279.5 257.0,274.0 255.5,268.0 252.0,262.0 243.3,262.0" fill="rgb(192,192,192)" />
<polygon points="247.0,210.0 248.3,210.0 248.3,258.0 247.0,258.0" fill="rgb(228,228,228)" />
<circle cx="246.9" cy="206.7" r="2.14" fill="rgba(190,190,190,0.6)"/><circle cx="248.9" cy="207.9" r="2.96" fill="rgba(190,190,190,0.6)"/><circle cx="249.6" cy="212.9" r="2.30" fill="rgba(190,190,190,0.6)"/><circle cx="249.6" cy="215.9" r="2.92" fill="rgba(190,190,190,0.6)"/><circle cx="249.5" cy="220.3" r="2.53" fill="rgba(190,190,190,0.6)"/><circle cx="250.5" cy="220.9" r="2.04" fill="rgba(190,190,190,0.6)"/><circle cx="250.5" cy="227.7" r="2.67" fill="rgba(190,190,190,0.6)"/><circle cx="250.8" cy="227.4" r="2.22" fill="rgba(190,190,190,0.6)"/><circle cx="251.0" cy="234.5" r="2.02" fill="rgba(190,190,190,0.6)"/><circle cx="251.4" cy="238.9" r="2.93" fill="rgba(190,190,190,0.6)"/><circle cx="251.3" cy="240.1" r="2.69" fill="rgba(190,190,190,0.6)"/><circle cx="251.4" cy="243.5" r="2.21" fill="rgba(190,190,190,0.6)"/><circle cx="251.8" cy="248.9" r="2.04" fill="rgba(190,190,190,0.6)"/><circle cx="251.4" cy="253.8" r="2.14" fill="rgba(190,190,190,0.6)"/><circle cx="251.2" cy="256.3" r="2.63" fill="rgba(190,190,190,0.6)"/><circle cx="252.7" cy="259.9" r="2.25" fill="rgba(190,190,190,0.6)"/><circle cx="253.7" cy="265.4" r="2.83" fill="rgba(190,190,190,0.6)"/><circle cx="256.1" cy="268.5" r="2.40" fill="rgba(190,190,190,0.6)"/><circle cx="256.1" cy="275.8" r="2.26" fill="rgba(190,190,190,0.6)"/><circle cx="253.6" cy="281.7" r="3.00" fill="rgba(190,190,190,0.6)"/><circle cx="248.3" cy="283.0" r="2.20" fill="rgba(190,190,190,0.6)"/><circle cx="247.8" cy="282.3" r="2.87" fill="rgba(190,190,190,0.6)"/><circle cx="242.9" cy="280.7" r="2.65" fill="rgba(190,190,190,0.6)"/><circle cx="238.6" cy="274.2" r="2.20" fill="rgba(190,190,190,0.6)"/><circle cx="238.8" cy="272.3" r="2.20" fill="rgba(190,190,190,0.6)"/><circle cx="242.5" cy="264.8" r="2.21" fill="rgba(190,190,190,0.6)"/><circle cx="242.8" cy="259.8" r="2.14" fill="rgba(190,190,190,0.6)"/><circle cx="243.4" cy="256.4" r="2.05" fill="rgba(190,190,190,0.6)"/><circle cx="243.1" cy="251.4" r="2.28" fill="rgba(190,190,190,0.6)"/><circle cx="243.9" cy="248.3" r="2.40" fill="rgba(190,190,190,0.6)"/><circle cx="243.2" cy="243.8" r="2.45" fill="rgba(190,190,190,0.6)"/><circle cx="243.6" cy="239.0" r="2.38" fill="rgba(190,190,190,0.6)"/><circle cx="244.3" cy="235.4" r="2.79" fill="rgba(190,190,190,0.6)"/><circle cx="244.2" cy="234.3" r="2.09" fill="rgba(190,190,190,0.6)"/><circle cx="244.0" cy="229.0" r="2.66" fill="rgba(190,190,190,0.6)"/><circle cx="244.5" cy="226.3" r="2.78" fill="rgba(190,190,190,0.6)"/><circle cx="245.5" cy="223.8" r="2.46" fill="rgba(190,190,190,0.6)"/><circle cx="245.4" cy="219.1" r="2.32" fill="rgba(190,190,190,0.6)"/><circle cx="244.4" cy="213.9" r="2.02" fill="rgba(190,190,190,0.6)"/><circle cx="244.6" cy="212.4" r="2.69" fill="rgba(190,190,190,0.6)"/><circle cx="244.8" cy="208.4" r="2.16" fill="rgba(190,190,190,0.6)"/>
<circle cx="237.8" cy="229.0" r="3.27" fill="rgba(0,255,0,0.6)"/><circle cx="233.3" cy="248.2" r="2.74" fill="rgba(0,255,0,0.6)"/><circle cx="233.9" cy="220.9" r="2.55" fill="rgba(0,255,0,0.6)"/><circle cx="240.9" cy="214.5" r="2.48" fill="rgba(0,255,0,0.6)"/><circle cx="235.0" cy="231.8" r="2.84" fill="rgba(0,255,0,0.6)"/><circle cx="232.3" cy="238.9" r="3.10" fill="rgba(0,255,0,0.6)"/><circle cx="236.8" cy="226.5" r="2.90" fill="rgba(0,255,0,0.6)"/><circle cx="233.9" cy="230.8" r="3.23" fill="rgba(0,255,0,0.6)"/><circle cx="239.9" cy="263.8" r="2.94" fill="rgba(0,255,0,0.6)"/><circle cx="234.4" cy="252.1" r="2.80" fill="rgba(0,255,0,0.6)"/><circle cx="240.7" cy="212.6" r="2.37" fill="rgba(0,255,0,0.6)"/><circle cx="232.6" cy="232.0" r="3.15" fill="rgba(0,255,0,0.6)"/><circle cx="239.3" cy="266.2" r="2.92" fill="rgba(0,255,0,0.6)"/><circle cx="237.3" cy="261.1" r="3.15" fill="rgba(0,255,0,0.6)"/><circle cx="237.1" cy="237.4" r="2.91" fill="rgba(0,255,0,0.6)"/><circle cx="241.1" cy="239.5" r="2.46" fill="rgba(0,255,0,0.6)"/><circle cx="234.7" cy="248.7" r="2.34" fill="rgba(0,255,0,0.6)"/><circle cx="235.8" cy="233.5" r="2.51" fill="rgba(0,255,0,0.6)"/><circle cx="232.9" cy="244.5" r="2.67" fill="rgba(0,255,0,0.6)"/><circle cx="238.3" cy="233.8" r="2.49" fill="rgba(0,255,0,0.6)"/><circle cx="232.1" cy="239.7" r="3.24" fill="rgba(0,255,0,0.6)"/><circle cx="240.0" cy="244.1" r="2.33" fill="rgba(0,255,0,0.6)"/><circle cx="236.0" cy="251.0" r="3.03" fill="rgba(0,255,0,0.6)"/><circle cx="236.6" cy="217.6" r="2.53" fill="rgba(0,255,0,0.6)"/><circle cx="232.8" cy="238.0" r="3.12" fill="rgba(0,255,0,0.6)"/><circle cx="237.2" cy="221.2" r="3.15" fill="rgba(0,255,0,0.6)"/><circle cx="232.8" cy="236.4" r="2.56" fill="rgba(0,255,0,0.6)"/><circle cx="232.2" cy="227.8" r="2.84" fill="rgba(0,255,0,0.6)"/><circle cx="238.3" cy="266.6" r="2.49" fill="rgba(0,255,0,0.6)"/><circle cx="236.6" cy="260.0" r="2.49" fill="rgba(0,255,0,0.6)"/><circle cx="234.1" cy="230.3" r="2.67" fill="rgba(0,255,0,0.6)"/><circle cx="240.3" cy="255.1" r="3.05" fill="rgba(0,255,0,0.6)"/><circle cx="235.6" cy="228.9" r="2.92" fill="rgba(0,255,0,0.6)"/><circle cx="232.1" cy="220.6" r="2.31" fill="rgba(0,255,0,0.6)"/><circle cx="240.4" cy="237.2" r="3.23" fill="rgba(0,255,0,0.6)"/><circle cx="239.3" cy="213.5" r="3.00" fill="rgba(0,255,0,0.6)"/><circle cx="233.2" cy="242.6" r="3.23" fill="rgba(0,255,0,0.6)"/><circle cx="239.7" cy="233.7" r="3.04" fill="rgba(0,255,0,0.6)"/><circle cx="240.7" cy="249.7" r="3.15" fill="rgba(0,255,0,0.6)"/><circle cx="237.2" cy="224.7" r="2.73" fill="rgba(0,255,0,0.6)"/>
<polygon points="235.3,225.0 235.3,249.9 236.3,257.7 238.1,266.7 238.9,267.1 240.5,261.7 241.0,250.0 240.7,223.4 238.4,222.9" fill="rgba(0,255,0,0.6)" />
<circle cx="240.5" cy="227.8" r="2.24" fill="rgba(0,255,0,0.6)"/><circle cx="236.2" cy="255.5" r="2.15" fill="rgba(0,255,0,0.6)"/><circle cx="240.6" cy="258.0" r="2.80" fill="rgba(0,255,0,0.6)"/><circle cx="235.7" cy="225.2" r="2.89" fill="rgba(0,255,0,0.6)"/><circle cx="235.3" cy="239.5" r="2.21" fill="rgba(0,255,0,0.6)"/><circle cx="235.4" cy="249.6" r="2.18" fill="rgba(0,255,0,0.6)"/><circle cx="236.3" cy="248.3" r="2.44" fill="rgba(0,255,0,0.6)"/><circle cx="235.8" cy="233.3" r="2.75" fill="rgba(0,255,0,0.6)"/><circle cx="240.5" cy="233.6" r="2.36" fill="rgba(0,255,0,0.6)"/><circle cx="235.6" cy="233.5" r="2.53" fill="rgba(0,255,0,0.6)"/><circle cx="237.8" cy="244.8" r="2.71" fill="rgba(0,255,0,0.6)"/><circle cx="240.8" cy="241.3" r="2.08" fill="rgba(0,255,0,0.6)"/><circle cx="240.2" cy="225.4" r="2.58" fill="rgba(0,255,0,0.6)"/><circle cx="236.8" cy="223.9" r="2.39" fill="rgba(0,255,0,0.6)"/><circle cx="235.2" cy="250.8" r="2.09" fill="rgba(0,255,0,0.6)"/><circle cx="238.4" cy="266.6" r="2.23" fill="rgba(0,255,0,0.6)"/><circle cx="235.1" cy="231.6" r="2.29" fill="rgba(0,255,0,0.6)"/><circle cx="240.6" cy="242.3" r="2.87" fill="rgba(0,255,0,0.6)"/><circle cx="235.0" cy="237.2" r="2.19" fill="rgba(0,255,0,0.6)"/><circle cx="238.8" cy="249.5" r="3.20" fill="rgba(0,255,0,0.6)"/><circle cx="241.3" cy="250.6" r="2.04" fill="rgba(0,255,0,0.6)"/><circle cx="240.5" cy="238.4" r="2.36" fill="rgba(0,255,0,0.6)"/><circle cx="240.8" cy="255.1" r="2.16" fill="rgba(0,255,0,0.6)"/><circle cx="236.8" cy="257.6" r="2.05" fill="rgba(0,255,0,0.6)"/><circle cx="240.8" cy="223.1" r="2.32" fill="rgba(0,255,0,0.6)"/><circle cx="241.5" cy="247.4" r="2.90" fill="rgba(0,255,0,0.6)"/><circle cx="237.1" cy="263.6" r="2.29" fill="rgba(0,255,0,0.6)"/><circle cx="235.4" cy="246.1" r="2.57" fill="rgba(0,255,0,0.6)"/><circle cx="240.1" cy="263.5" r="2.64" fill="rgba(0,255,0,0.6)"/>
<circle cx="235.7" cy="172.9" r="2.90" fill="rgba(0,255,0,0.6)"/><circle cx="217.8" cy="187.6" r="2.90" fill="rgba(0,255,0,0.6)"/><circle cx="235.2" cy="185.4" r="2.90" fill="rgba(0,255,0,0.6)"/><circle cx="220.2" cy="199.8" r="2.90" fill="rgba(0,255,0,0.6)"/><circle cx="224.5" cy="206.5" r="2.90" fill="rgba(0,255,0,0.6)"/><circle cx="229.7" cy="210.5" r="2.90" fill="rgba(0,255,0,0.6)"/><circle cx="232.0" cy="204.7" r="2.90" fill="rgba(0,255,0,0.6)"/><circle cx="235.7" cy="206.9" r="2.90" fill="rgba(0,255,0,0.6)"/><circle cx="239.3" cy="205.8" r="2.90" fill="rgba(0,255,0,0.6)"/><circle cx="228.1" cy="219.1" r="2.90" fill="rgba(0,255,0,0.6)"/><circle cx="237.8" cy="215.5" r="2.90" fill="rgba(0,255,0,0.6)"/><circle cx="241.0" cy="216.6" r="2.90" fill="rgba(0,255,0,0.6)"/><circle cx="229.2" cy="227.3" r="2.90" fill="rgba(0,255,0,0.6)"/><circle cx="235.7" cy="225.2" r="2.90" fill="rgba(0,255,0,0.6)"/><circle cx="240.0" cy="227.3" r="2.90" fill="rgba(0,255,0,0.6)"/><circle cx="226.1" cy="252.8" r="2.90" fill="rgba(0,255,0,0.6)"/><circle cx="228.8" cy="226.9" r="2.90" fill="rgba(0,255,0,0.6)"/>
<circle cx="258.7" cy="221.3" r="2.59" fill="rgba(255,0,0,0.6)"/><circle cx="265.3" cy="224.8" r="2.94" fill="rgba(255,0,0,0.6)"/><circle cx="255.7" cy="266.1" r="2.43" fill="rgba(255,0,0,0.6)"/><circle cx="255.2" cy="257.1" r="3.23" fill="rgba(255,0,0,0.6)"/><circle cx="263.1" cy="219.4" r="2.94" fill="rgba(255,0,0,0.6)"/><circle cx="260.4" cy="256.5" r="2.36" fill="rgba(255,0,0,0.6)"/><circle cx="255.1" cy="219.7" r="2.32" fill="rgba(255,0,0,0.6)"/><circle cx="262.5" cy="216.9" r="3.30" fill="rgba(255,0,0,0.6)"/><circle cx="262.6" cy="249.0" r="2.62" fill="rgba(255,0,0,0.6)"/><circle cx="254.4" cy="261.9" r="2.87" fill="rgba(255,0,0,0.6)"/><circle cx="255.6" cy="230.2" r="2.77" fill="rgba(255,0,0,0.6)"/><circle cx="260.8" cy="204.5" r="2.60" fill="rgba(255,0,0,0.6)"/><circle cx="264.1" cy="212.6" r="2.53" fill="rgba(255,0,0,0.6)"/><circle cx="255.1" cy="257.3" r="2.98" fill="rgba(255,0,0,0.6)"/><circle cx="258.6" cy="233.4" r="2.99" fill="rgba(255,0,0,0.6)"/><circle cx="254.6" cy="263.6" r="3.00" fill="rgba(255,0,0,0.6)"/><circle cx="257.7" cy="245.3" r="2.57" fill="rgba(255,0,0,0.6)"/><circle cx="263.4" cy="237.8" r="3.16" fill="rgba(255,0,0,0.6)"/><circle cx="257.3" cy="219.7" r="2.88" fill="rgba(255,0,0,0.6)"/><circle cx="256.3" cy="234.1" r="3.07" fill="rgba(255,0,0,0.6)"/><circle cx="254.9" cy="206.1" r="2.74" fill="rgba(255,0,0,0.6)"/><circle cx="254.7" cy="252.0" r="2.84" fill="rgba(255,0,0,0.6)"/><circle cx="261.2" cy="228.9" r="3.03" fill="rgba(255,0,0,0.6)"/><circle cx="253.8" cy="204.2" r="3.01" fill="rgba(255,0,0,0.6)"/><circle cx="255.1" cy="231.6" r="3.21" fill="rgba(255,0,0,0.6)"/><circle cx="261.3" cy="251.4" r="2.46" fill="rgba(255,0,0,0.6)"/><circle cx="257.3" cy="203.8" r="2.72" fill="rgba(255,0,0,0.6)"/><circle cx="257.2" cy="252.5" r="2.43" fill="rgba(255,0,0,0.6)"/><circle cx="258.1" cy="264.0" r="2.57" fill="rgba(255,0,0,0.6)"/><circle cx="256.6" cy="252.8" r="2.92" fill="rgba(255,0,0,0.6)"/><circle cx="257.6" cy="232.2" r="2.36" fill="rgba(255,0,0,0.6)"/><circle cx="264.5" cy="230.3" r="2.83" fill="rgba(255,0,0,0.6)"/><circle cx="257.8" cy="241.8" r="2.57" fill="rgba(255,0,0,0.6)"/><circle cx="262.2" cy="243.9" r="2.46" fill="rgba(255,0,0,0.6)"/><circle cx="264.4" cy="235.5" r="2.32" fill="rgba(255,0,0,0.6)"/><circle cx="258.3" cy="237.1" r="2.42" fill="rgba(255,0,0,0.6)"/><circle cx="259.3" cy="230.8" r="3.02" fill="rgba(255,0,0,0.6)"/><circle cx="254.5" cy="232.2" r="2.91" fill="rgba(255,0,0,0.6)"/><circle cx="264.8" cy="232.1" r="2.80" fill="rgba(255,0,0,0.6)"/><circle cx="254.8" cy="206.8" r="2.51" fill="rgba(255,0,0,0.6)"/><circle cx="262.7" cy="248.2" r="2.97" fill="rgba(255,0,0,0.6)"/><circle cx="254.5" cy="225.9" r="3.02" fill="rgba(255,0,0,0.6)"/><circle cx="262.5" cy="207.6" r="3.19" fill="rgba(255,0,0,0.6)"/><circle cx="264.1" cy="214.3" r="2.79" fill="rgba(255,0,0,0.6)"/><circle cx="254.9" cy="235.0" r="2.87" fill="rgba(255,0,0,0.6)"/><circle cx="260.6" cy="231.7" r="3.26" fill="rgba(255,0,0,0.6)"/><circle cx="257.8" cy="206.7" r="3.15" fill="rgba(255,0,0,0.6)"/><circle cx="258.0" cy="230.8" r="2.53" fill="rgba(255,0,0,0.6)"/><circle cx="261.6" cy="228.6" r="2.95" fill="rgba(255,0,0,0.6)"/><circle cx="263.4" cy="226.5" r="2.76" fill="rgba(255,0,0,0.6)"/><circle cx="261.8" cy="212.2" r="3.17" fill="rgba(255,0,0,0.6)"/><circle cx="261.7" cy="246.2" r="3.17" fill="rgba(255,0,0,0.6)"/><circle cx="261.5" cy="219.3" r="3.12" fill="rgba(255,0,0,0.6)"/><circle cx="254.4" cy="255.8" r="3.21" fill="rgba(255,0,0,0.6)"/><circle cx="257.2" cy="224.3" r="2.48" fill="rgba(255,0,0,0.6)"/>
<polygon points="254.3,204.8 254.1,240.0 254.8,265.6 255.2,265.8 256.7,259.7 257.7,245.0 257.2,204.0 256.1,203.3" fill="rgba(255,0,0,0.6)" />
<circle cx="257.0" cy="214.6" r="2.18" fill="rgba(255,0,0,0.6)"/><circle cx="257.8" cy="241.6" r="2.87" fill="rgba(255,0,0,0.6)"/><circle cx="254.5" cy="237.4" r="2.09" fill="rgba(255,0,0,0.6)"/><circle cx="254.0" cy="245.4" r="2.59" fill="rgba(255,0,0,0.6)"/><circle cx="254.1" cy="227.7" r="2.08" fill="rgba(255,0,0,0.6)"/><circle cx="256.1" cy="264.2" r="2.57" fill="rgba(255,0,0,0.6)"/><circle cx="257.4" cy="232.5" r="2.31" fill="rgba(255,0,0,0.6)"/><circle cx="254.0" cy="234.6" r="2.73" fill="rgba(255,0,0,0.6)"/><circle cx="257.9" cy="237.8" r="2.62" fill="rgba(255,0,0,0.6)"/><circle cx="256.8" cy="257.5" r="2.19" fill="rgba(255,0,0,0.6)"/><circle cx="257.5" cy="239.4" r="2.23" fill="rgba(255,0,0,0.6)"/><circle cx="254.3" cy="250.2" r="2.74" fill="rgba(255,0,0,0.6)"/><circle cx="258.0" cy="228.2" r="2.30" fill="rgba(255,0,0,0.6)"/><circle cx="257.7" cy="219.3" r="2.48" fill="rgba(255,0,0,0.6)"/><circle cx="254.9" cy="265.7" r="2.85" fill="rgba(255,0,0,0.6)"/><circle cx="254.6" cy="232.9" r="3.07" fill="rgba(255,0,0,0.6)"/><circle cx="256.8" cy="205.0" r="2.44" fill="rgba(255,0,0,0.6)"/><circle cx="255.0" cy="261.4" r="2.30" fill="rgba(255,0,0,0.6)"/><circle cx="257.4" cy="245.5" r="2.88" fill="rgba(255,0,0,0.6)"/><circle cx="254.2" cy="231.0" r="2.80" fill="rgba(255,0,0,0.6)"/><circle cx="254.5" cy="214.5" r="2.44" fill="rgba(255,0,0,0.6)"/><circle cx="254.7" cy="259.2" r="2.49" fill="rgba(255,0,0,0.6)"/><circle cx="254.4" cy="226.0" r="2.38" fill="rgba(255,0,0,0.6)"/><circle cx="254.3" cy="253.7" r="2.32" fill="rgba(255,0,0,0.6)"/><circle cx="257.1" cy="213.8" r="2.04" fill="rgba(255,0,0,0.6)"/><circle cx="256.5" cy="244.5" r="2.74" fill="rgba(255,0,0,0.6)"/><circle cx="254.3" cy="257.0" r="2.37" fill="rgba(255,0,0,0.6)"/><circle cx="256.7" cy="206.8" r="2.82" fill="rgba(255,0,0,0.6)"/><circle cx="257.5" cy="250.2" r="2.57" fill="rgba(255,0,0,0.6)"/><circle cx="254.8" cy="263.7" r="2.90" fill="rgba(255,0,0,0.6)"/><circle cx="254.6" cy="211.3" r="2.22" fill="rgba(255,0,0,0.6)"/><circle cx="257.8" cy="222.1" r="2.52" fill="rgba(255,0,0,0.6)"/><circle cx="254.2" cy="222.2" r="2.79" fill="rgba(255,0,0,0.6)"/><circle cx="254.6" cy="217.3" r="2.62" fill="rgba(255,0,0,0.6)"/><circle cx="257.2" cy="209.1" r="2.66" fill="rgba(255,0,0,0.6)"/><circle cx="254.6" cy="208.0" r="2.78" fill="rgba(255,0,0,0.6)"/><circle cx="257.7" cy="224.6" r="2.48" fill="rgba(255,0,0,0.6)"/><circle cx="256.9" cy="255.3" r="2.00" fill="rgba(255,0,0,0.6)"/><circle cx="255.1" cy="204.0" r="2.62" fill="rgba(255,0,0,0.6)"/><circle cx="257.0" cy="204.1" r="2.67" fill="rgba(255,0,0,0.6)"/><circle cx="254.2" cy="240.2" r="2.45" fill="rgba(255,0,0,0.6)"/>
<circle cx="277.5" cy="176.1" r="2.90" fill="rgba(255,0,0,0.6)"/><circle cx="265.7" cy="184.7" r="2.90" fill="rgba(255,0,0,0.6)"/><circle cx="268.9" cy="187.5" r="2.90" fill="rgba(255,0,0,0.6)"/><circle cx="255.0" cy="193.9" r="2.90" fill="rgba(255,0,0,0.6)"/><circle cx="276.9" cy="193.5" r="2.90" fill="rgba(255,0,0,0.6)"/><circle cx="273.2" cy="196.1" r="2.90" fill="rgba(255,0,0,0.6)"/><circle cx="257.1" cy="200.4" r="2.90" fill="rgba(255,0,0,0.6)"/><circle cx="253.9" cy="203.6" r="2.90" fill="rgba(255,0,0,0.6)"/><circle cx="264.6" cy="202.5" r="2.90" fill="rgba(255,0,0,0.6)"/><circle cx="265.7" cy="205.7" r="2.90" fill="rgba(255,0,0,0.6)"/><circle cx="257.1" cy="205.7" r="2.90" fill="rgba(255,0,0,0.6)"/><circle cx="272.1" cy="217.5" r="2.90" fill="rgba(255,0,0,0.6)"/><circle cx="277.5" cy="219.6" r="2.90" fill="rgba(255,0,0,0.6)"/><circle cx="264.6" cy="218.6" r="2.90" fill="rgba(255,0,0,0.6)"/><circle cx="265.7" cy="221.8" r="2.90" fill="rgba(255,0,0,0.6)"/><circle cx="267.9" cy="227.1" r="2.90" fill="rgba(255,0,0,0.6)"/><circle cx="272.1" cy="227.1" r="2.90" fill="rgba(255,0,0,0.6)"/><circle cx="287.1" cy="228.2" r="2.90" fill="rgba(255,0,0,0.6)"/><circle cx="286.5" cy="229.2" r="2.90" fill="rgba(255,0,0,0.6)"/><circle cx="272.7" cy="238.5" r="2.90" fill="rgba(255,0,0,0.6)"/><circle cx="278.5" cy="238.5" r="2.90" fill="rgba(255,0,0,0.6)"/><circle cx="276.2" cy="243.1" r="2.90" fill="rgba(255,0,0,0.6)"/>
<circle cx="236.3" cy="191.9" r="2.90" fill="rgba(190,190,190,0.6)"/><circle cx="249.6" cy="216.6" r="2.90" fill="rgba(190,190,190,0.6)"/><circle cx="245.3" cy="221.9" r="2.90" fill="rgba(190,190,190,0.6)"/><circle cx="250.7" cy="206.9" r="2.90" fill="rgba(190,190,190,0.6)"/><circle cx="251.8" cy="206.8" r="2.90" fill="rgba(190,190,190,0.6)"/><circle cx="248.6" cy="215.4" r="2.90" fill="rgba(190,190,190,0.6)"/><circle cx="244.3" cy="220.7" r="2.90" fill="rgba(190,190,190,0.6)"/><circle cx="249.6" cy="221.8" r="2.90" fill="rgba(190,190,190,0.6)"/><circle cx="264.6" cy="273.1" r="2.90" fill="rgba(190,190,190,0.6)"/><circle cx="239.2" cy="278.8" r="2.90" fill="rgba(190,190,190,0.6)"/>
<polygon points="426.0,214.0 429.5,214.0 431.0,240.0 431.5,266.0 434.0,272.0 433.8,278.5 430.5,282.5 425.0,282.5 421.5,278.5 421.0,272.0 423.5,266.0 424.5,240.0" fill="rgb(212,212,212)" />
<polygon points="421.0,272.0 421.5,278.5 425.0,282.5 430.5,282.5 433.8,278.5 434.0,272.0 431.5,266.0 423.5,266.0" fill="rgb(192,192,192)" />
<polygon points="426.8,218.0 428.2,218.0 428.2,262.0 426.8,262.0" fill="rgb(228,228,228)" />
<circle cx="429.6" cy="213.5" r="2.35" fill="rgba(190,190,190,0.6)"/><circle cx="429.2" cy="217.5" r="2.75" fill="rgba(190,190,190,0.6)"/><circle cx="429.6" cy="219.0" r="2.72" fill="rgba(190,190,190,0.6)"/><circle cx="430.6" cy="222.6" r="2.59" fill="rgba(190,190,190,0.6)"/><circle cx="429.6" cy="226.1" r="2.51" fill="rgba(190,190,190,0.6)"/><circle cx="431.2" cy="230.1" r="2.29" fill="rgba(190,190,190,0.6)"/><circle cx="430.5" cy="236.0" r="2.81" fill="rgba(190,190,190,0.6)"/><circle cx="430.5" cy="238.9" r="2.04" fill="rgba(190,190,190,0.6)"/><circle cx="430.9" cy="241.9" r="2.68" fill="rgba(190,190,190,0.6)"/><circle cx="431.8" cy="244.3" r="2.63" fill="rgba(190,190,190,0.6)"/><circle cx="431.2" cy="250.2" r="2.68" fill="rgba(190,190,190,0.6)"/><circle cx="431.2" cy="253.2" r="2.48" fill="rgba(190,190,190,0.6)"/><circle cx="431.0" cy="255.5" r="2.89" fill="rgba(190,190,190,0.6)"/><circle cx="431.9" cy="261.7" r="2.52" fill="rgba(190,190,190,0.6)"/><circle cx="431.4" cy="264.5" r="2.79" fill="rgba(190,190,190,0.6)"/><circle cx="433.9" cy="271.4" r="2.76" fill="rgba(190,190,190,0.6)"/><circle cx="433.7" cy="273.4" r="2.69" fill="rgba(190,190,190,0.6)"/><circle cx="431.8" cy="281.1" r="2.54" fill="rgba(190,190,190,0.6)"/><circle cx="426.9" cy="282.9" r="2.17" fill="rgba(190,190,190,0.6)"/><circle cx="424.3" cy="282.0" r="2.35" fill="rgba(190,190,190,0.6)"/><circle cx="421.2" cy="272.1" r="2.21" fill="rgba(190,190,190,0.6)"/><circle cx="422.7" cy="268.1" r="2.71" fill="rgba(190,190,190,0.6)"/><circle cx="424.1" cy="264.2" r="2.49" fill="rgba(190,190,190,0.6)"/><circle cx="424.0" cy="261.7" r="2.45" fill="rgba(190,190,190,0.6)"/><circle cx="424.1" cy="256.0" r="2.49" fill="rgba(190,190,190,0.6)"/><circle cx="423.4" cy="253.9" r="2.49" fill="rgba(190,190,190,0.6)"/><circle cx="424.7" cy="249.7" r="2.71" fill="rgba(190,190,190,0.6)"/><circle cx="423.8" cy="246.6" r="2.98" fill="rgba(190,190,190,0.6)"/><circle cx="423.9" cy="243.2" r="2.57" fill="rgba(190,190,190,0.6)"/><circle cx="424.4" cy="239.1" r="2.10" fill="rgba(190,190,190,0.6)"/><circle cx="424.4" cy="236.0" r="2.94" fill="rgba(190,190,190,0.6)"/><circle cx="424.9" cy="231.5" r="2.71" fill="rgba(190,190,190,0.6)"/><circle cx="425.2" cy="225.3" r="2.85" fill="rgba(190,190,190,0.6)"/><circle cx="425.0" cy="224.4" r="2.99" fill="rgba(190,190,190,0.6)"/><circle cx="426.3" cy="219.2" r="2.53" fill="rgba(190,190,190,0.6)"/><circle cx="426.7" cy="214.7" r="2.96" fill="rgba(190,190,190,0.6)"/>
<circle cx="418.1" cy="220.2" r="3.16" fill="rgba(0,255,0,0.6)"/><circle cx="415.4" cy="213.4" r="3.16" fill="rgba(0,255,0,0.6)"/><circle cx="417.7" cy="256.6" r="3.22" fill="rgba(0,255,0,0.6)"/><circle cx="418.1" cy="269.0" r="2.88" fill="rgba(0,255,0,0.6)"/><circle cx="421.5" cy="206.2" r="2.34" fill="rgba(0,255,0,0.6)"/><circle cx="421.8" cy="226.2" r="2.96" fill="rgba(0,255,0,0.6)"/><circle cx="421.0" cy="207.0" r="2.44" fill="rgba(0,255,0,0.6)"/><circle cx="420.0" cy="245.6" r="3.05" fill="rgba(0,255,0,0.6)"/><circle cx="416.5" cy="213.3" r="2.88" fill="rgba(0,255,0,0.6)"/><circle cx="413.7" cy="209.7" r="3.26" fill="rgba(0,255,0,0.6)"/><circle cx="414.8" cy="211.9" r="3.25" fill="rgba(0,255,0,0.6)"/><circle cx="418.2" cy="218.5" r="2.46" fill="rgba(0,255,0,0.6)"/><circle cx="418.7" cy="205.3" r="2.38" fill="rgba(0,255,0,0.6)"/><circle cx="420.8" cy="263.9" r="2.43" fill="rgba(0,255,0,0.6)"/><circle cx="417.3" cy="263.7" r="2.66" fill="rgba(0,255,0,0.6)"/><circle cx="416.6" cy="205.5" r="2.76" fill="rgba(0,255,0,0.6)"/><circle cx="421.5" cy="234.1" r="2.44" fill="rgba(0,255,0,0.6)"/><circle cx="416.6" cy="220.3" r="2.49" fill="rgba(0,255,0,0.6)"/><circle cx="419.8" cy="210.7" r="2.74" fill="rgba(0,255,0,0.6)"/><circle cx="417.7" cy="235.8" r="2.66" fill="rgba(0,255,0,0.6)"/><circle cx="414.8" cy="207.5" r="3.02" fill="rgba(0,255,0,0.6)"/><circle cx="419.8" cy="266.7" r="2.58" fill="rgba(0,255,0,0.6)"/><circle cx="421.1" cy="223.0" r="3.11" fill="rgba(0,255,0,0.6)"/><circle cx="417.2" cy="213.6" r="3.18" fill="rgba(0,255,0,0.6)"/><circle cx="419.5" cy="237.8" r="2.47" fill="rgba(0,255,0,0.6)"/><circle cx="420.6" cy="216.1" r="2.59" fill="rgba(0,255,0,0.6)"/><circle cx="421.2" cy="256.0" r="3.06" fill="rgba(0,255,0,0.6)"/><circle cx="414.4" cy="223.2" r="2.54" fill="rgba(0,255,0,0.6)"/><circle cx="418.0" cy="246.0" r="2.73" fill="rgba(0,255,0,0.6)"/><circle cx="420.9" cy="248.9" r="2.47" fill="rgba(0,255,0,0.6)"/><circle cx="417.2" cy="220.2" r="2.45" fill="rgba(0,255,0,0.6)"/><circle cx="419.3" cy="232.0" r="2.91" fill="rgba(0,255,0,0.6)"/><circle cx="416.8" cy="207.0" r="2.83" fill="rgba(0,255,0,0.6)"/><circle cx="418.1" cy="228.8" r="3.17" fill="rgba(0,255,0,0.6)"/><circle cx="415.2" cy="214.6" r="2.79" fill="rgba(0,255,0,0.6)"/><circle cx="420.6" cy="249.3" r="2.68" fill="rgba(0,255,0,0.6)"/><circle cx="416.5" cy="241.1" r="3.27" fill="rgba(0,255,0,0.6)"/><circle cx="420.3" cy="266.8" r="2.94" fill="rgba(0,255,0,0.6)"/><circle cx="419.8" cy="229.6" r="3.07" fill="rgba(0,255,0,0.6)"/><circle cx="413.5" cy="224.5" r="3.23" fill="rgba(0,255,0,0.6)"/><circle cx="421.0" cy="250.0" r="2.93" fill="rgba(0,255,0,0.6)"/><circle cx="419.3" cy="203.0" r="2.97" fill="rgba(0,255,0,0.6)"/><circle cx="417.2" cy="214.5" r="2.78" fill="rgba(0,255,0,0.6)"/><circle cx="416.7" cy="224.9" r="2.71" fill="rgba(0,255,0,0.6)"/><circle cx="420.6" cy="252.3" r="2.48" fill="rgba(0,255,0,0.6)"/>
<polygon points="416.3,207.8 416.8,244.9 417.8,261.8 419.0,268.4 419.6,268.5 421.2,261.8 421.0,240.0 421.0,206.1 419.3,205.2" fill="rgba(0,255,0,0.6)" />
<circle cx="421.2" cy="221.8" r="2.15" fill="rgba(0,255,0,0.6)"/><circle cx="420.6" cy="247.5" r="2.04" fill="rgba(0,255,0,0.6)"/><circle cx="421.1" cy="211.8" r="2.67" fill="rgba(0,255,0,0.6)"/><circle cx="420.1" cy="205.7" r="3.04" fill="rgba(0,255,0,0.6)"/><circle cx="421.5" cy="233.2" r="2.74" fill="rgba(0,255,0,0.6)"/><circle cx="419.9" cy="267.8" r="2.51" fill="rgba(0,255,0,0.6)"/><circle cx="420.4" cy="231.0" r="2.80" fill="rgba(0,255,0,0.6)"/><circle cx="420.8" cy="226.7" r="2.36" fill="rgba(0,255,0,0.6)"/><circle cx="421.0" cy="237.5" r="2.65" fill="rgba(0,255,0,0.6)"/><circle cx="417.8" cy="232.5" r="3.22" fill="rgba(0,255,0,0.6)"/><circle cx="417.0" cy="253.4" r="2.54" fill="rgba(0,255,0,0.6)"/><circle cx="416.7" cy="220.0" r="2.27" fill="rgba(0,255,0,0.6)"/><circle cx="416.8" cy="247.3" r="2.29" fill="rgba(0,255,0,0.6)"/><circle cx="418.0" cy="264.7" r="2.86" fill="rgba(0,255,0,0.6)"/><circle cx="417.1" cy="241.5" r="2.75" fill="rgba(0,255,0,0.6)"/><circle cx="421.1" cy="253.0" r="2.10" fill="rgba(0,255,0,0.6)"/><circle cx="416.3" cy="208.4" r="2.87" fill="rgba(0,255,0,0.6)"/><circle cx="421.0" cy="256.4" r="2.22" fill="rgba(0,255,0,0.6)"/><circle cx="416.3" cy="208.1" r="2.22" fill="rgba(0,255,0,0.6)"/><circle cx="417.6" cy="260.1" r="2.82" fill="rgba(0,255,0,0.6)"/><circle cx="421.0" cy="216.7" r="2.22" fill="rgba(0,255,0,0.6)"/><circle cx="420.8" cy="247.8" r="2.05" fill="rgba(0,255,0,0.6)"/><circle cx="416.5" cy="224.9" r="2.13" fill="rgba(0,255,0,0.6)"/><circle cx="419.0" cy="268.7" r="2.17" fill="rgba(0,255,0,0.6)"/><circle cx="416.7" cy="226.6" r="2.74" fill="rgba(0,255,0,0.6)"/><circle cx="420.7" cy="205.6" r="2.75" fill="rgba(0,255,0,0.6)"/><circle cx="421.0" cy="242.1" r="2.16" fill="rgba(0,255,0,0.6)"/><circle cx="416.5" cy="234.6" r="2.84" fill="rgba(0,255,0,0.6)"/><circle cx="419.8" cy="254.9" r="3.14" fill="rgba(0,255,0,0.6)"/><circle cx="416.0" cy="215.2" r="2.42" fill="rgba(0,255,0,0.6)"/><circle cx="420.8" cy="209.6" r="2.37" fill="rgba(0,255,0,0.6)"/><circle cx="420.6" cy="231.3" r="2.45" fill="rgba(0,255,0,0.6)"/><circle cx="421.1" cy="219.6" r="2.26" fill="rgba(0,255,0,0.6)"/><circle cx="421.1" cy="259.3" r="2.20" fill="rgba(0,255,0,0.6)"/><circle cx="417.5" cy="254.1" r="2.11" fill="rgba(0,255,0,0.6)"/><circle cx="421.0" cy="264.2" r="2.33" fill="rgba(0,255,0,0.6)"/><circle cx="415.9" cy="212.3" r="2.24" fill="rgba(0,255,0,0.6)"/><circle cx="417.1" cy="238.1" r="2.08" fill="rgba(0,255,0,0.6)"/><circle cx="416.4" cy="231.1" r="2.52" fill="rgba(0,255,0,0.6)"/>
<circle cx="382.1" cy="186.1" r="2.90" fill="rgba(0,255,0,0.6)"/><circle cx="414.1" cy="180.0" r="2.90" fill="rgba(0,255,0,0.6)"/><circle cx="413.7" cy="187.1" r="2.90" fill="rgba(0,255,0,0.6)"/><circle cx="403.6" cy="192.3" r="2.90" fill="rgba(0,255,0,0.6)"/><circle cx="412.0" cy="195.5" r="2.90" fill="rgba(0,255,0,0.6)"/><circle cx="418.6" cy="192.9" r="2.90" fill="rgba(0,255,0,0.6)"/><circle cx="418.0" cy="198.9" r="2.90" fill="rgba(0,255,0,0.6)"/><circle cx="408.9" cy="213.3" r="2.90" fill="rgba(0,255,0,0.6)"/><circle cx="412.6" cy="206.9" r="2.90" fill="rgba(0,255,0,0.6)"/><circle cx="413.7" cy="221.9" r="2.90" fill="rgba(0,255,0,0.6)"/><circle cx="404.0" cy="228.4" r="2.90" fill="rgba(0,255,0,0.6)"/><circle cx="404.2" cy="229.2" r="2.90" fill="rgba(0,255,0,0.6)"/>
<circle cx="438.1" cy="238.8" r="3.28" fill="rgba(255,0,0,0.6)"/><circle cx="439.9" cy="222.6" r="3.17" fill="rgba(255,0,0,0.6)"/><circle cx="433.7" cy="233.5" r="2.90" fill="rgba(255,0,0,0.6)"/><circle cx="439.9" cy="259.2" r="3.08" fill="rgba(255,0,0,0.6)"/><circle cx="440.5" cy="228.5" r="3.15" fill="rgba(255,0,0,0.6)"/><circle cx="443.2" cy="207.9" r="3.06" fill="rgba(255,0,0,0.6)"/><circle cx="436.6" cy="213.4" r="2.85" fill="rgba(255,0,0,0.6)"/><circle cx="443.1" cy="221.7" r="3.24" fill="rgba(255,0,0,0.6)"/><circle cx="443.8" cy="218.6" r="2.72" fill="rgba(255,0,0,0.6)"/><circle cx="439.8" cy="228.9" r="2.45" fill="rgba(255,0,0,0.6)"/><circle cx="441.8" cy="266.8" r="2.82" fill="rgba(255,0,0,0.6)"/><circle cx="438.4" cy="241.3" r="2.97" fill="rgba(255,0,0,0.6)"/><circle cx="436.1" cy="218.7" r="2.39" fill="rgba(255,0,0,0.6)"/><circle cx="435.6" cy="240.6" r="2.47" fill="rgba(255,0,0,0.6)"/><circle cx="435.6" cy="243.1" r="2.58" fill="rgba(255,0,0,0.6)"/><circle cx="438.7" cy="199.6" r="2.61" fill="rgba(255,0,0,0.6)"/><circle cx="439.7" cy="227.4" r="3.28" fill="rgba(255,0,0,0.6)"/><circle cx="434.6" cy="259.4" r="2.91" fill="rgba(255,0,0,0.6)"/><circle cx="436.9" cy="226.0" r="2.71" fill="rgba(255,0,0,0.6)"/><circle cx="437.3" cy="202.9" r="3.15" fill="rgba(255,0,0,0.6)"/><circle cx="438.1" cy="212.4" r="3.16" fill="rgba(255,0,0,0.6)"/><circle cx="440.2" cy="258.4" r="2.62" fill="rgba(255,0,0,0.6)"/><circle cx="439.7" cy="207.5" r="3.22" fill="rgba(255,0,0,0.6)"/><circle cx="437.4" cy="229.6" r="3.21" fill="rgba(255,0,0,0.6)"/><circle cx="443.9" cy="207.4" r="3.07" fill="rgba(255,0,0,0.6)"/><circle cx="434.2" cy="236.7" r="2.81" fill="rgba(255,0,0,0.6)"/><circle cx="433.8" cy="242.3" r="2.80" fill="rgba(255,0,0,0.6)"/><circle cx="440.2" cy="217.5" r="3.01" fill="rgba(255,0,0,0.6)"/><circle cx="440.2" cy="206.1" r="2.34" fill="rgba(255,0,0,0.6)"/><circle cx="440.6" cy="208.9" r="2.64" fill="rgba(255,0,0,0.6)"/><circle cx="437.4" cy="263.4" r="2.67" fill="rgba(255,0,0,0.6)"/><circle cx="434.1" cy="208.4" r="3.26" fill="rgba(255,0,0,0.6)"/><circle cx="439.4" cy="211.6" r="2.67" fill="rgba(255,0,0,0.6)"/><circle cx="437.1" cy="256.0" r="3.15" fill="rgba(255,0,0,0.6)"/><circle cx="436.6" cy="213.0" r="3.28" fill="rgba(255,0,0,0.6)"/><circle cx="441.0" cy="215.3" r="3.00" fill="rgba(255,0,0,0.6)"/>
<polygon points="434.6,208.6 434.8,244.9 436.2,265.7 436.7,261.9 435.2,240.1 435.2,207.8" fill="rgba(255,0,0,0.6)" />
<circle cx="435.2" cy="246.4" r="2.77" fill="rgba(255,0,0,0.6)"/><circle cx="435.6" cy="245.7" r="2.86" fill="rgba(255,0,0,0.6)"/><circle cx="435.1" cy="235.4" r="2.55" fill="rgba(255,0,0,0.6)"/><circle cx="434.9" cy="222.5" r="2.73" fill="rgba(255,0,0,0.6)"/><circle cx="435.4" cy="249.5" r="2.08" fill="rgba(255,0,0,0.6)"/><circle cx="435.7" cy="210.2" r="2.15" fill="rgba(255,0,0,0.6)"/><circle cx="435.6" cy="251.1" r="2.13" fill="rgba(255,0,0,0.6)"/><circle cx="435.2" cy="208.4" r="2.64" fill="rgba(255,0,0,0.6)"/><circle cx="435.0" cy="215.9" r="2.11" fill="rgba(255,0,0,0.6)"/><circle cx="435.1" cy="230.5" r="2.15" fill="rgba(255,0,0,0.6)"/><circle cx="436.0" cy="259.4" r="2.72" fill="rgba(255,0,0,0.6)"/><circle cx="435.9" cy="259.0" r="2.75" fill="rgba(255,0,0,0.6)"/><circle cx="435.5" cy="220.0" r="2.05" fill="rgba(255,0,0,0.6)"/><circle cx="435.2" cy="257.3" r="2.65" fill="rgba(255,0,0,0.6)"/><circle cx="434.9" cy="239.6" r="2.30" fill="rgba(255,0,0,0.6)"/><circle cx="435.2" cy="241.8" r="2.30" fill="rgba(255,0,0,0.6)"/><circle cx="434.3" cy="223.7" r="2.47" fill="rgba(255,0,0,0.6)"/><circle cx="435.8" cy="256.0" r="2.14" fill="rgba(255,0,0,0.6)"/><circle cx="435.1" cy="238.7" r="2.14" fill="rgba(255,0,0,0.6)"/><circle cx="434.8" cy="229.3" r="2.29" fill="rgba(255,0,0,0.6)"/><circle cx="434.8" cy="231.7" r="2.49" fill="rgba(255,0,0,0.6)"/><circle cx="434.9" cy="216.3" r="2.88" fill="rgba(255,0,0,0.6)"/><circle cx="436.9" cy="260.2" r="2.26" fill="rgba(255,0,0,0.6)"/><circle cx="435.1" cy="239.2" r="2.79" fill="rgba(255,0,0,0.6)"/><circle cx="434.7" cy="234.0" r="2.33" fill="rgba(255,0,0,0.6)"/><circle cx="435.0" cy="253.2" r="2.76" fill="rgba(255,0,0,0.6)"/><circle cx="437.0" cy="262.0" r="2.43" fill="rgba(255,0,0,0.6)"/><circle cx="434.6" cy="209.6" r="2.49" fill="rgba(255,0,0,0.6)"/><circle cx="434.7" cy="222.6" r="2.60" fill="rgba(255,0,0,0.6)"/><circle cx="435.3" cy="246.1" r="2.34" fill="rgba(255,0,0,0.6)"/><circle cx="435.1" cy="218.4" r="2.74" fill="rgba(255,0,0,0.6)"/><circle cx="434.9" cy="228.9" r="2.57" fill="rgba(255,0,0,0.6)"/><circle cx="435.7" cy="262.2" r="2.87" fill="rgba(255,0,0,0.6)"/><circle cx="435.1" cy="212.9" r="2.69" fill="rgba(255,0,0,0.6)"/><circle cx="434.3" cy="241.5" r="2.56" fill="rgba(255,0,0,0.6)"/><circle cx="435.9" cy="249.8" r="2.55" fill="rgba(255,0,0,0.6)"/><circle cx="434.2" cy="220.4" r="2.52" fill="rgba(255,0,0,0.6)"/>
<circle cx="441.4" cy="176.1" r="2.90" fill="rgba(255,0,0,0.6)"/><circle cx="452.1" cy="177.9" r="2.90" fill="rgba(255,0,0,0.6)"/><circle cx="436.1" cy="185.8" r="2.90" fill="rgba(255,0,0,0.6)"/><circle cx="440.4" cy="196.7" r="2.90" fill="rgba(255,0,0,0.6)"/><circle cx="443.6" cy="198.2" r="2.90" fill="rgba(255,0,0,0.6)"/><circle cx="433.9" cy="201.4" r="2.90" fill="rgba(255,0,0,0.6)"/><circle cx="435.0" cy="205.7" r="2.90" fill="rgba(255,0,0,0.6)"/><circle cx="443.6" cy="205.7" r="2.90" fill="rgba(255,0,0,0.6)"/><circle cx="451.1" cy="204.0" r="2.90" fill="rgba(255,0,0,0.6)"/><circle cx="454.7" cy="207.2" r="2.90" fill="rgba(255,0,0,0.6)"/><circle cx="452.1" cy="208.9" r="2.90" fill="rgba(255,0,0,0.6)"/><circle cx="437.1" cy="210.0" r="2.90" fill="rgba(255,0,0,0.6)"/><circle cx="443.6" cy="213.2" r="2.90" fill="rgba(255,0,0,0.6)"/><circle cx="432.9" cy="216.4" r="2.90" fill="rgba(255,0,0,0.6)"/><circle cx="433.9" cy="220.7" r="2.90" fill="rgba(255,0,0,0.6)"/><circle cx="432.9" cy="222.9" r="2.90" fill="rgba(255,0,0,0.6)"/><circle cx="441.4" cy="216.4" r="2.90" fill="rgba(255,0,0,0.6)"/><circle cx="445.7" cy="217.5" r="2.90" fill="rgba(255,0,0,0.6)"/><circle cx="443.6" cy="220.7" r="2.90" fill="rgba(255,0,0,0.6)"/><circle cx="446.8" cy="221.8" r="2.90" fill="rgba(255,0,0,0.6)"/><circle cx="439.3" cy="225.0" r="2.90" fill="rgba(255,0,0,0.6)"/><circle cx="444.6" cy="228.2" r="2.90" fill="rgba(255,0,0,0.6)"/><circle cx="450.4" cy="235.0" r="2.90" fill="rgba(255,0,0,0.6)"/><circle cx="445.8" cy="238.5" r="2.90" fill="rgba(255,0,0,0.6)"/><circle cx="441.2" cy="239.6" r="2.90" fill="rgba(255,0,0,0.6)"/>
<circle cx="412.0" cy="173.2" r="2.90" fill="rgba(190,190,190,0.6)"/><circle cx="422.3" cy="216.6" r="2.90" fill="rgba(190,190,190,0.6)"/><circle cx="432.9" cy="227.1" r="2.90" fill="rgba(190,190,190,0.6)"/><circle cx="440.4" cy="219.6" r="2.90" fill="rgba(190,190,190,0.6)"/><circle cx="442.3" cy="275.4" r="2.90" fill="rgba(190,190,190,0.6)"/><circle cx="419.2" cy="281.8" r="2.90" fill="rgba(190,190,190,0.6)"/>
<polygon points="600.3,198.0 604.3,198.0 606.5,230.0 607.8,262.0 612.0,267.0 613.5,274.0 611.0,281.0 606.0,284.8 598.0,284.8 593.5,281.0 592.5,274.0 594.0,267.0 597.3,262.0 598.3,230.0" fill="rgb(212,212,212)" />
<polygon points="594.0,267.0 592.5,274.0 593.5,281.0 598.0,284.8 606.0,284.8 611.0,281.0 613.5,274.0 612.0,267.0 607.8,262.0 597.3,262.0" fill="rgb(192,192,192)" />
<polygon points="601.8,202.0 603.2,202.0 603.2,258.0 601.8,258.0" fill="rgb(228,228,228)" />
<circle cx="603.6" cy="197.7" r="2.56" fill="rgba(190,190,190,0.6)"/><circle cx="604.1" cy="198.5" r="2.31" fill="rgba(190,190,190,0.6)"/><circle cx="604.8" cy="202.2" r="2.82" fill="rgba(190,190,190,0.6)"/><circle cx="605.0" cy="205.9" r="2.11" fill="rgba(190,190,190,0.6)"/><circle cx="604.5" cy="209.8" r="2.24" fill="rgba(190,190,190,0.6)"/><circle cx="605.3" cy="215.9" r="2.03" fill="rgba(190,190,190,0.6)"/><circle cx="605.4" cy="218.1" r="2.80" fill="rgba(190,190,190,0.6)"/><circle cx="606.6" cy="220.5" r="2.61" fill="rgba(190,190,190,0.6)"/><circle cx="606.6" cy="226.0" r="2.42" fill="rgba(190,190,190,0.6)"/><circle cx="605.8" cy="226.6" r="2.30" fill="rgba(190,190,190,0.6)"/><circle cx="607.1" cy="232.9" r="2.09" fill="rgba(190,190,190,0.6)"/><circle cx="606.8" cy="236.2" r="2.54" fill="rgba(190,190,190,0.6)"/><circle cx="606.4" cy="237.8" r="2.81" fill="rgba(190,190,190,0.6)"/><circle cx="607.6" cy="242.7" r="2.02" fill="rgba(190,190,190,0.6)"/><circle cx="607.0" cy="245.6" r="2.93" fill="rgba(190,190,190,0.6)"/><circle cx="607.2" cy="249.1" r="2.88" fill="rgba(190,190,190,0.6)"/><circle cx="607.0" cy="253.2" r="2.64" fill="rgba(190,190,190,0.6)"/><circle cx="607.5" cy="255.3" r="2.45" fill="rgba(190,190,190,0.6)"/><circle cx="607.1" cy="259.5" r="2.95" fill="rgba(190,190,190,0.6)"/><circle cx="608.5" cy="263.1" r="2.06" fill="rgba(190,190,190,0.6)"/><circle cx="612.2" cy="270.1" r="2.23" fill="rgba(190,190,190,0.6)"/><circle cx="613.7" cy="273.0" r="2.04" fill="rgba(190,190,190,0.6)"/><circle cx="613.9" cy="275.3" r="2.51" fill="rgba(190,190,190,0.6)"/><circle cx="611.5" cy="278.3" r="2.24" fill="rgba(190,190,190,0.6)"/><circle cx="607.1" cy="284.0" r="2.26" fill="rgba(190,190,190,0.6)"/><circle cx="603.1" cy="285.0" r="2.31" fill="rgba(190,190,190,0.6)"/><circle cx="601.1" cy="285.2" r="2.18" fill="rgba(190,190,190,0.6)"/><circle cx="597.5" cy="284.8" r="2.24" fill="rgba(190,190,190,0.6)"/><circle cx="592.6" cy="279.8" r="3.00" fill="rgba(190,190,190,0.6)"/><circle cx="593.2" cy="275.3" r="2.10" fill="rgba(190,190,190,0.6)"/><circle cx="592.1" cy="273.4" r="2.42" fill="rgba(190,190,190,0.6)"/><circle cx="594.1" cy="268.2" r="2.58" fill="rgba(190,190,190,0.6)"/><circle cx="596.3" cy="262.1" r="2.57" fill="rgba(190,190,190,0.6)"/><circle cx="597.7" cy="260.7" r="2.48" fill="rgba(190,190,190,0.6)"/><circle cx="597.6" cy="258.7" r="2.22" fill="rgba(190,190,190,0.6)"/><circle cx="597.1" cy="252.9" r="2.08" fill="rgba(190,190,190,0.6)"/><circle cx="597.8" cy="248.2" r="2.08" fill="rgba(190,190,190,0.6)"/><circle cx="597.8" cy="244.5" r="2.53" fill="rgba(190,190,190,0.6)"/><circle cx="597.7" cy="242.4" r="2.04" fill="rgba(190,190,190,0.6)"/><circle cx="598.2" cy="237.2" r="2.31" fill="rgba(190,190,190,0.6)"/><circle cx="597.8" cy="233.3" r="2.47" fill="rgba(190,190,190,0.6)"/><circle cx="597.6" cy="229.6" r="2.51" fill="rgba(190,190,190,0.6)"/><circle cx="598.7" cy="227.7" r="2.88" fill="rgba(190,190,190,0.6)"/><circle cx="599.0" cy="225.9" r="2.62" fill="rgba(190,190,190,0.6)"/><circle cx="598.6" cy="223.2" r="2.83" fill="rgba(190,190,190,0.6)"/><circle cx="598.4" cy="217.1" r="2.44" fill="rgba(190,190,190,0.6)"/><circle cx="598.9" cy="214.5" r="2.00" fill="rgba(190,190,190,0.6)"/><circle cx="599.6" cy="210.4" r="2.64" fill="rgba(190,190,190,0.6)"/><circle cx="599.6" cy="204.9" r="2.72" fill="rgba(190,190,190,0.6)"/><circle cx="600.6" cy="205.1" r="2.33" fill="rgba(190,190,190,0.6)"/><circle cx="599.6" cy="200.5" r="2.21" fill="rgba(190,190,190,0.6)"/>
<circle cx="592.7" cy="257.3" r="3.05" fill="rgba(0,255,0,0.6)"/><circle cx="593.3" cy="219.4" r="3.28" fill="rgba(0,255,0,0.6)"/><circle cx="590.9" cy="205.4" r="2.85" fill="rgba(0,255,0,0.6)"/><circle cx="585.3" cy="220.0" r="3.25" fill="rgba(0,255,0,0.6)"/><circle cx="592.0" cy="242.8" r="2.41" fill="rgba(0,255,0,0.6)"/><circle cx="589.5" cy="214.3" r="2.62" fill="rgba(0,255,0,0.6)"/><circle cx="580.5" cy="226.9" r="3.19" fill="rgba(0,255,0,0.6)"/><circle cx="586.2" cy="220.0" r="2.49" fill="rgba(0,255,0,0.6)"/><circle cx="588.1" cy="253.4" r="3.02" fill="rgba(0,255,0,0.6)"/><circle cx="584.1" cy="208.6" r="2.85" fill="rgba(0,255,0,0.6)"/><circle cx="594.9" cy="211.4" r="3.27" fill="rgba(0,255,0,0.6)"/><circle cx="584.7" cy="228.6" r="3.13" fill="rgba(0,255,0,0.6)"/><circle cx="582.1" cy="216.9" r="2.87" fill="rgba(0,255,0,0.6)"/><circle cx="593.0" cy="221.7" r="2.49" fill="rgba(0,255,0,0.6)"/><circle cx="595.5" cy="222.0" r="2.52" fill="rgba(0,255,0,0.6)"/><circle cx="583.5" cy="230.0" r="2.56" fill="rgba(0,255,0,0.6)"/><circle cx="588.0" cy="207.5" r="2.91" fill="rgba(0,255,0,0.6)"/><circle cx="585.6" cy="249.2" r="2.55" fill="rgba(0,255,0,0.6)"/><circle cx="583.3" cy="231.7" r="2.69" fill="rgba(0,255,0,0.6)"/><circle cx="594.4" cy="225.4" r="2.55" fill="rgba(0,255,0,0.6)"/><circle cx="590.7" cy="219.6" r="2.53" fill="rgba(0,255,0,0.6)"/><circle cx="591.8" cy="204.8" r="2.45" fill="rgba(0,255,0,0.6)"/><circle cx="583.2" cy="207.7" r="2.89" fill="rgba(0,255,0,0.6)"/><circle cx="593.0" cy="233.4" r="2.62" fill="rgba(0,255,0,0.6)"/><circle cx="580.6" cy="217.2" r="3.12" fill="rgba(0,255,0,0.6)"/><circle cx="591.6" cy="255.0" r="2.40" fill="rgba(0,255,0,0.6)"/><circle cx="590.3" cy="246.5" r="2.53" fill="rgba(0,255,0,0.6)"/><circle cx="583.5" cy="230.2" r="3.29" fill="rgba(0,255,0,0.6)"/><circle cx="592.6" cy="236.1" r="2.47" fill="rgba(0,255,0,0.6)"/><circle cx="583.4" cy="228.4" r="2.38" fill="rgba(0,255,0,0.6)"/><circle cx="589.7" cy="214.6" r="3.16" fill="rgba(0,255,0,0.6)"/><circle cx="585.9" cy="243.1" r="2.59" fill="rgba(0,255,0,0.6)"/><circle cx="593.3" cy="205.7" r="2.53" fill="rgba(0,255,0,0.6)"/><circle cx="595.8" cy="243.7" r="2.90" fill="rgba(0,255,0,0.6)"/><circle cx="582.6" cy="214.0" r="2.32" fill="rgba(0,255,0,0.6)"/><circle cx="581.5" cy="232.7" r="2.42" fill="rgba(0,255,0,0.6)"/><circle cx="580.6" cy="228.4" r="2.50" fill="rgba(0,255,0,0.6)"/><circle cx="582.7" cy="212.5" r="2.87" fill="rgba(0,255,0,0.6)"/><circle cx="589.2" cy="258.1" r="2.62" fill="rgba(0,255,0,0.6)"/><circle cx="592.4" cy="240.7" r="2.91" fill="rgba(0,255,0,0.6)"/><circle cx="594.8" cy="263.7" r="2.86" fill="rgba(0,255,0,0.6)"/><circle cx="594.9" cy="208.2" r="2.97" fill="rgba(0,255,0,0.6)"/><circle cx="595.7" cy="256.5" r="2.43" fill="rgba(0,255,0,0.6)"/><circle cx="582.9" cy="240.2" r="2.48" fill="rgba(0,255,0,0.6)"/><circle cx="584.2" cy="238.1" r="2.41" fill="rgba(0,255,0,0.6)"/><circle cx="595.5" cy="263.7" r="2.34" fill="rgba(0,255,0,0.6)"/><circle cx="589.1" cy="269.0" r="3.18" fill="rgba(0,255,0,0.6)"/><circle cx="582.8" cy="239.4" r="2.90" fill="rgba(0,255,0,0.6)"/><circle cx="588.3" cy="221.2" r="3.01" fill="rgba(0,255,0,0.6)"/><circle cx="593.0" cy="235.9" r="2.90" fill="rgba(0,255,0,0.6)"/><circle cx="583.2" cy="237.3" r="2.43" fill="rgba(0,255,0,0.6)"/><circle cx="590.0" cy="206.7" r="2.39" fill="rgba(0,255,0,0.6)"/><circle cx="588.2" cy="264.6" r="2.94" fill="rgba(0,255,0,0.6)"/><circle cx="589.1" cy="219.1" r="2.59" fill="rgba(0,255,0,0.6)"/><circle cx="586.6" cy="243.7" r="2.88" fill="rgba(0,255,0,0.6)"/>
<polygon points="591.8,222.7 591.8,254.9 592.7,266.3 594.9,266.5 596.0,257.9 595.7,222.7 593.9,220.6" fill="rgba(0,255,0,0.6)" />
<circle cx="591.3" cy="251.0" r="2.46" fill="rgba(0,255,0,0.6)"/><circle cx="593.9" cy="259.6" r="3.12" fill="rgba(0,255,0,0.6)"/><circle cx="592.5" cy="222.0" r="2.33" fill="rgba(0,255,0,0.6)"/><circle cx="595.4" cy="225.3" r="2.22" fill="rgba(0,255,0,0.6)"/><circle cx="592.0" cy="246.1" r="2.79" fill="rgba(0,255,0,0.6)"/><circle cx="595.5" cy="246.6" r="2.79" fill="rgba(0,255,0,0.6)"/><circle cx="591.9" cy="234.7" r="2.87" fill="rgba(0,255,0,0.6)"/><circle cx="591.8" cy="229.0" r="2.58" fill="rgba(0,255,0,0.6)"/><circle cx="595.9" cy="229.1" r="2.66" fill="rgba(0,255,0,0.6)"/><circle cx="595.1" cy="263.0" r="2.19" fill="rgba(0,255,0,0.6)"/><circle cx="595.5" cy="239.3" r="2.00" fill="rgba(0,255,0,0.6)"/><circle cx="595.5" cy="253.5" r="2.37" fill="rgba(0,255,0,0.6)"/><circle cx="591.9" cy="223.4" r="2.89" fill="rgba(0,255,0,0.6)"/><circle cx="595.7" cy="257.7" r="2.21" fill="rgba(0,255,0,0.6)"/><circle cx="591.7" cy="251.0" r="2.62" fill="rgba(0,255,0,0.6)"/><circle cx="595.4" cy="232.0" r="2.22" fill="rgba(0,255,0,0.6)"/><circle cx="596.1" cy="243.0" r="2.61" fill="rgba(0,255,0,0.6)"/><circle cx="591.8" cy="231.9" r="2.54" fill="rgba(0,255,0,0.6)"/><circle cx="594.6" cy="266.6" r="2.77" fill="rgba(0,255,0,0.6)"/><circle cx="595.9" cy="258.1" r="2.87" fill="rgba(0,255,0,0.6)"/><circle cx="594.5" cy="220.9" r="2.67" fill="rgba(0,255,0,0.6)"/><circle cx="595.5" cy="234.2" r="2.51" fill="rgba(0,255,0,0.6)"/><circle cx="592.1" cy="240.6" r="2.37" fill="rgba(0,255,0,0.6)"/><circle cx="591.7" cy="257.7" r="2.66" fill="rgba(0,255,0,0.6)"/><circle cx="592.4" cy="261.2" r="2.43" fill="rgba(0,255,0,0.6)"/><circle cx="592.7" cy="265.2" r="2.85" fill="rgba(0,255,0,0.6)"/><circle cx="592.1" cy="233.5" r="2.87" fill="rgba(0,255,0,0.6)"/><circle cx="591.9" cy="240.0" r="2.76" fill="rgba(0,255,0,0.6)"/><circle cx="596.2" cy="249.0" r="2.88" fill="rgba(0,255,0,0.6)"/>
<circle cx="565.0" cy="173.2" r="2.90" fill="rgba(0,255,0,0.6)"/><circle cx="582.7" cy="174.2" r="2.90" fill="rgba(0,255,0,0.6)"/><circle cx="591.9" cy="184.3" r="2.90" fill="rgba(0,255,0,0.6)"/><circle cx="588.2" cy="189.3" r="2.90" fill="rgba(0,255,0,0.6)"/><circle cx="593.0" cy="188.2" r="2.90" fill="rgba(0,255,0,0.6)"/><circle cx="591.9" cy="197.2" r="2.90" fill="rgba(0,255,0,0.6)"/><circle cx="587.0" cy="201.1" r="2.90" fill="rgba(0,255,0,0.6)"/><circle cx="584.8" cy="205.2" r="2.90" fill="rgba(0,255,0,0.6)"/><circle cx="569.3" cy="206.2" r="2.90" fill="rgba(0,255,0,0.6)"/><circle cx="593.0" cy="209.0" r="2.90" fill="rgba(0,255,0,0.6)"/><circle cx="584.4" cy="214.4" r="2.90" fill="rgba(0,255,0,0.6)"/><circle cx="588.7" cy="214.4" r="2.90" fill="rgba(0,255,0,0.6)"/><circle cx="591.9" cy="215.5" r="2.90" fill="rgba(0,255,0,0.6)"/><circle cx="576.9" cy="217.6" r="2.90" fill="rgba(0,255,0,0.6)"/><circle cx="574.7" cy="221.3" r="2.90" fill="rgba(0,255,0,0.6)"/><circle cx="589.7" cy="219.8" r="2.90" fill="rgba(0,255,0,0.6)"/><circle cx="581.1" cy="225.2" r="2.90" fill="rgba(0,255,0,0.6)"/><circle cx="585.4" cy="224.1" r="2.90" fill="rgba(0,255,0,0.6)"/><circle cx="595.1" cy="223.0" r="2.90" fill="rgba(0,255,0,0.6)"/><circle cx="559.7" cy="228.4" r="2.90" fill="rgba(0,255,0,0.6)"/><circle cx="561.2" cy="229.2" r="2.90" fill="rgba(0,255,0,0.6)"/><circle cx="577.3" cy="236.6" r="2.90" fill="rgba(0,255,0,0.6)"/><circle cx="571.1" cy="250.8" r="2.90" fill="rgba(0,255,0,0.6)"/><circle cx="583.1" cy="242.7" r="2.90" fill="rgba(0,255,0,0.6)"/>
<circle cx="618.5" cy="237.5" r="2.38" fill="rgba(255,0,0,0.6)"/><circle cx="620.7" cy="207.9" r="2.95" fill="rgba(255,0,0,0.6)"/><circle cx="611.4" cy="242.5" r="2.45" fill="rgba(255,0,0,0.6)"/><circle cx="621.4" cy="212.9" r="2.54" fill="rgba(255,0,0,0.6)"/><circle cx="619.4" cy="232.8" r="2.43" fill="rgba(255,0,0,0.6)"/><circle cx="615.1" cy="258.8" r="2.64" fill="rgba(255,0,0,0.6)"/><circle cx="618.3" cy="222.0" r="2.82" fill="rgba(255,0,0,0.6)"/><circle cx="619.1" cy="206.7" r="2.91" fill="rgba(255,0,0,0.6)"/><circle cx="621.4" cy="212.2" r="2.34" fill="rgba(255,0,0,0.6)"/><circle cx="612.3" cy="200.8" r="3.02" fill="rgba(255,0,0,0.6)"/><circle cx="609.1" cy="213.5" r="2.54" fill="rgba(255,0,0,0.6)"/><circle cx="610.7" cy="237.1" r="2.96" fill="rgba(255,0,0,0.6)"/><circle cx="618.5" cy="230.7" r="2.51" fill="rgba(255,0,0,0.6)"/><circle cx="617.1" cy="224.1" r="2.74" fill="rgba(255,0,0,0.6)"/><circle cx="609.1" cy="225.2" r="2.83" fill="rgba(255,0,0,0.6)"/><circle cx="611.3" cy="225.5" r="2.77" fill="rgba(255,0,0,0.6)"/><circle cx="613.6" cy="253.3" r="2.46" fill="rgba(255,0,0,0.6)"/><circle cx="615.3" cy="211.6" r="3.09" fill="rgba(255,0,0,0.6)"/><circle cx="613.7" cy="226.6" r="2.77" fill="rgba(255,0,0,0.6)"/><circle cx="616.7" cy="237.2" r="3.29" fill="rgba(255,0,0,0.6)"/><circle cx="617.8" cy="212.1" r="3.21" fill="rgba(255,0,0,0.6)"/><circle cx="615.4" cy="265.4" r="2.30" fill="rgba(255,0,0,0.6)"/><circle cx="613.2" cy="231.2" r="3.06" fill="rgba(255,0,0,0.6)"/><circle cx="615.2" cy="222.2" r="3.04" fill="rgba(255,0,0,0.6)"/><circle cx="617.5" cy="244.2" r="2.83" fill="rgba(255,0,0,0.6)"/><circle cx="613.0" cy="248.2" r="2.83" fill="rgba(255,0,0,0.6)"/><circle cx="613.3" cy="197.0" r="2.58" fill="rgba(255,0,0,0.6)"/><circle cx="610.6" cy="243.9" r="2.89" fill="rgba(255,0,0,0.6)"/><circle cx="615.2" cy="249.5" r="3.15" fill="rgba(255,0,0,0.6)"/><circle cx="621.6" cy="203.0" r="2.54" fill="rgba(255,0,0,0.6)"/><circle cx="618.5" cy="216.7" r="2.82" fill="rgba(255,0,0,0.6)"/><circle cx="611.6" cy="205.4" r="3.16" fill="rgba(255,0,0,0.6)"/><circle cx="615.3" cy="212.5" r="2.66" fill="rgba(255,0,0,0.6)"/><circle cx="612.5" cy="217.8" r="2.99" fill="rgba(255,0,0,0.6)"/><circle cx="613.0" cy="254.8" r="2.37" fill="rgba(255,0,0,0.6)"/><circle cx="609.7" cy="262.5" r="2.37" fill="rgba(255,0,0,0.6)"/><circle cx="609.0" cy="234.3" r="2.77" fill="rgba(255,0,0,0.6)"/><circle cx="618.2" cy="231.9" r="2.64" fill="rgba(255,0,0,0.6)"/><circle cx="618.1" cy="225.8" r="2.43" fill="rgba(255,0,0,0.6)"/><circle cx="614.8" cy="212.0" r="3.13" fill="rgba(255,0,0,0.6)"/>
<polygon points="609.3,207.8 609.8,255.9 611.1,265.4 612.0,265.5 613.7,255.9 612.7,240.1 612.2,207.8 610.9,206.5" fill="rgba(255,0,0,0.6)" />
<circle cx="613.0" cy="242.9" r="2.85" fill="rgba(255,0,0,0.6)"/><circle cx="609.9" cy="257.4" r="2.32" fill="rgba(255,0,0,0.6)"/><circle cx="612.8" cy="249.0" r="2.40" fill="rgba(255,0,0,0.6)"/><circle cx="609.7" cy="244.9" r="2.78" fill="rgba(255,0,0,0.6)"/><circle cx="608.9" cy="214.7" r="2.72" fill="rgba(255,0,0,0.6)"/><circle cx="609.5" cy="226.2" r="2.08" fill="rgba(255,0,0,0.6)"/><circle cx="610.0" cy="236.1" r="2.26" fill="rgba(255,0,0,0.6)"/><circle cx="612.0" cy="207.5" r="2.03" fill="rgba(255,0,0,0.6)"/><circle cx="609.8" cy="251.0" r="2.82" fill="rgba(255,0,0,0.6)"/><circle cx="609.7" cy="218.6" r="2.58" fill="rgba(255,0,0,0.6)"/><circle cx="609.4" cy="242.3" r="2.78" fill="rgba(255,0,0,0.6)"/><circle cx="612.1" cy="234.5" r="2.31" fill="rgba(255,0,0,0.6)"/><circle cx="613.2" cy="253.4" r="3.28" fill="rgba(255,0,0,0.6)"/><circle cx="609.6" cy="253.7" r="2.46" fill="rgba(255,0,0,0.6)"/><circle cx="610.6" cy="262.2" r="2.74" fill="rgba(255,0,0,0.6)"/><circle cx="613.1" cy="246.1" r="2.84" fill="rgba(255,0,0,0.6)"/><circle cx="610.6" cy="225.2" r="2.37" fill="rgba(255,0,0,0.6)"/><circle cx="612.5" cy="230.8" r="2.12" fill="rgba(255,0,0,0.6)"/><circle cx="610.8" cy="265.1" r="2.24" fill="rgba(255,0,0,0.6)"/><circle cx="612.4" cy="216.4" r="2.85" fill="rgba(255,0,0,0.6)"/><circle cx="609.1" cy="213.7" r="2.24" fill="rgba(255,0,0,0.6)"/><circle cx="608.9" cy="210.6" r="2.05" fill="rgba(255,0,0,0.6)"/><circle cx="611.6" cy="264.9" r="2.33" fill="rgba(255,0,0,0.6)"/><circle cx="612.6" cy="218.7" r="2.37" fill="rgba(255,0,0,0.6)"/><circle cx="613.6" cy="257.5" r="2.17" fill="rgba(255,0,0,0.6)"/><circle cx="613.5" cy="253.9" r="2.77" fill="rgba(255,0,0,0.6)"/><circle cx="612.5" cy="224.5" r="2.68" fill="rgba(255,0,0,0.6)"/><circle cx="611.9" cy="212.8" r="2.47" fill="rgba(255,0,0,0.6)"/><circle cx="609.5" cy="221.6" r="2.47" fill="rgba(255,0,0,0.6)"/><circle cx="612.9" cy="236.7" r="2.64" fill="rgba(255,0,0,0.6)"/><circle cx="610.5" cy="206.4" r="2.43" fill="rgba(255,0,0,0.6)"/><circle cx="609.9" cy="234.2" r="2.86" fill="rgba(255,0,0,0.6)"/><circle cx="612.4" cy="227.3" r="2.12" fill="rgba(255,0,0,0.6)"/><circle cx="612.2" cy="210.9" r="2.53" fill="rgba(255,0,0,0.6)"/><circle cx="609.8" cy="248.9" r="2.49" fill="rgba(255,0,0,0.6)"/><circle cx="609.2" cy="229.1" r="2.73" fill="rgba(255,0,0,0.6)"/>
<circle cx="612.1" cy="192.9" r="2.90" fill="rgba(255,0,0,0.6)"/><circle cx="611.1" cy="196.1" r="2.90" fill="rgba(255,0,0,0.6)"/><circle cx="616.4" cy="197.1" r="2.90" fill="rgba(255,0,0,0.6)"/><circle cx="618.6" cy="199.7" r="2.90" fill="rgba(255,0,0,0.6)"/><circle cx="627.1" cy="195.0" r="2.90" fill="rgba(255,0,0,0.6)"/><circle cx="631.0" cy="194.6" r="2.90" fill="rgba(255,0,0,0.6)"/><circle cx="626.1" cy="198.2" r="2.90" fill="rgba(255,0,0,0.6)"/><circle cx="621.8" cy="202.5" r="2.90" fill="rgba(255,0,0,0.6)"/><circle cx="610.4" cy="203.6" r="2.90" fill="rgba(255,0,0,0.6)"/><circle cx="612.1" cy="205.7" r="2.90" fill="rgba(255,0,0,0.6)"/><circle cx="617.5" cy="206.8" r="2.90" fill="rgba(255,0,0,0.6)"/><circle cx="626.1" cy="206.8" r="2.90" fill="rgba(255,0,0,0.6)"/><circle cx="608.3" cy="210.0" r="2.90" fill="rgba(255,0,0,0.6)"/><circle cx="614.3" cy="211.1" r="2.90" fill="rgba(255,0,0,0.6)"/><circle cx="620.7" cy="215.4" r="2.90" fill="rgba(255,0,0,0.6)"/><circle cx="621.8" cy="218.6" r="2.90" fill="rgba(255,0,0,0.6)"/><circle cx="608.9" cy="217.5" r="2.90" fill="rgba(255,0,0,0.6)"/><circle cx="612.1" cy="219.6" r="2.90" fill="rgba(255,0,0,0.6)"/><circle cx="618.6" cy="222.9" r="2.90" fill="rgba(255,0,0,0.6)"/><circle cx="610.0" cy="223.9" r="2.90" fill="rgba(255,0,0,0.6)"/><circle cx="614.3" cy="226.1" r="2.90" fill="rgba(255,0,0,0.6)"/><circle cx="620.7" cy="228.9" r="2.90" fill="rgba(255,0,0,0.6)"/><circle cx="622.4" cy="245.9" r="2.90" fill="rgba(255,0,0,0.6)"/><circle cx="620.6" cy="236.2" r="2.90" fill="rgba(255,0,0,0.6)"/>
<circle cx="581.1" cy="196.8" r="2.90" fill="rgba(190,190,190,0.6)"/><circle cx="598.3" cy="211.2" r="2.90" fill="rgba(190,190,190,0.6)"/><circle cx="596.2" cy="216.6" r="2.90" fill="rgba(190,190,190,0.6)"/><circle cx="594.0" cy="190.8" r="2.90" fill="rgba(190,190,190,0.6)"/><circle cx="607.9" cy="213.2" r="2.90" fill="rgba(190,190,190,0.6)"/><circle cx="579.9" cy="271.8" r="2.90" fill="rgba(190,190,190,0.6)"/><circle cx="588.5" cy="271.8" r="2.90" fill="rgba(190,190,190,0.6)"/><circle cx="589.8" cy="277.7" r="2.90" fill="rgba(190,190,190,0.6)"/><circle cx="588.5" cy="279.7" r="2.90" fill="rgba(190,190,190,0.6)"/><circle cx="612.2" cy="283.0" r="2.90" fill="rgba(190,190,190,0.6)"/><circle cx="585.0" cy="270.0" r="2.90" fill="rgba(190,190,190,0.6)"/><circle cx="591.0" cy="269.0" r="2.90" fill="rgba(190,190,190,0.6)"/>
<rect x="15.50" y="167.50" width="104.10" height="119.80" fill="none" stroke="#999" stroke-width="0.8"/>
<rect x="197.10" y="167.20" width="101.40" height="121.00" fill="none" stroke="#999" stroke-width="0.8"/>
<rect x="375.60" y="167.60" width="104.60" height="120.10" fill="none" stroke="#999" stroke-width="0.8"/>
<rect x="550.00" y="167.20" width="104.60" height="121.70" fill="none" stroke="#999" stroke-width="0.8"/>
</svg>
</body></html>
